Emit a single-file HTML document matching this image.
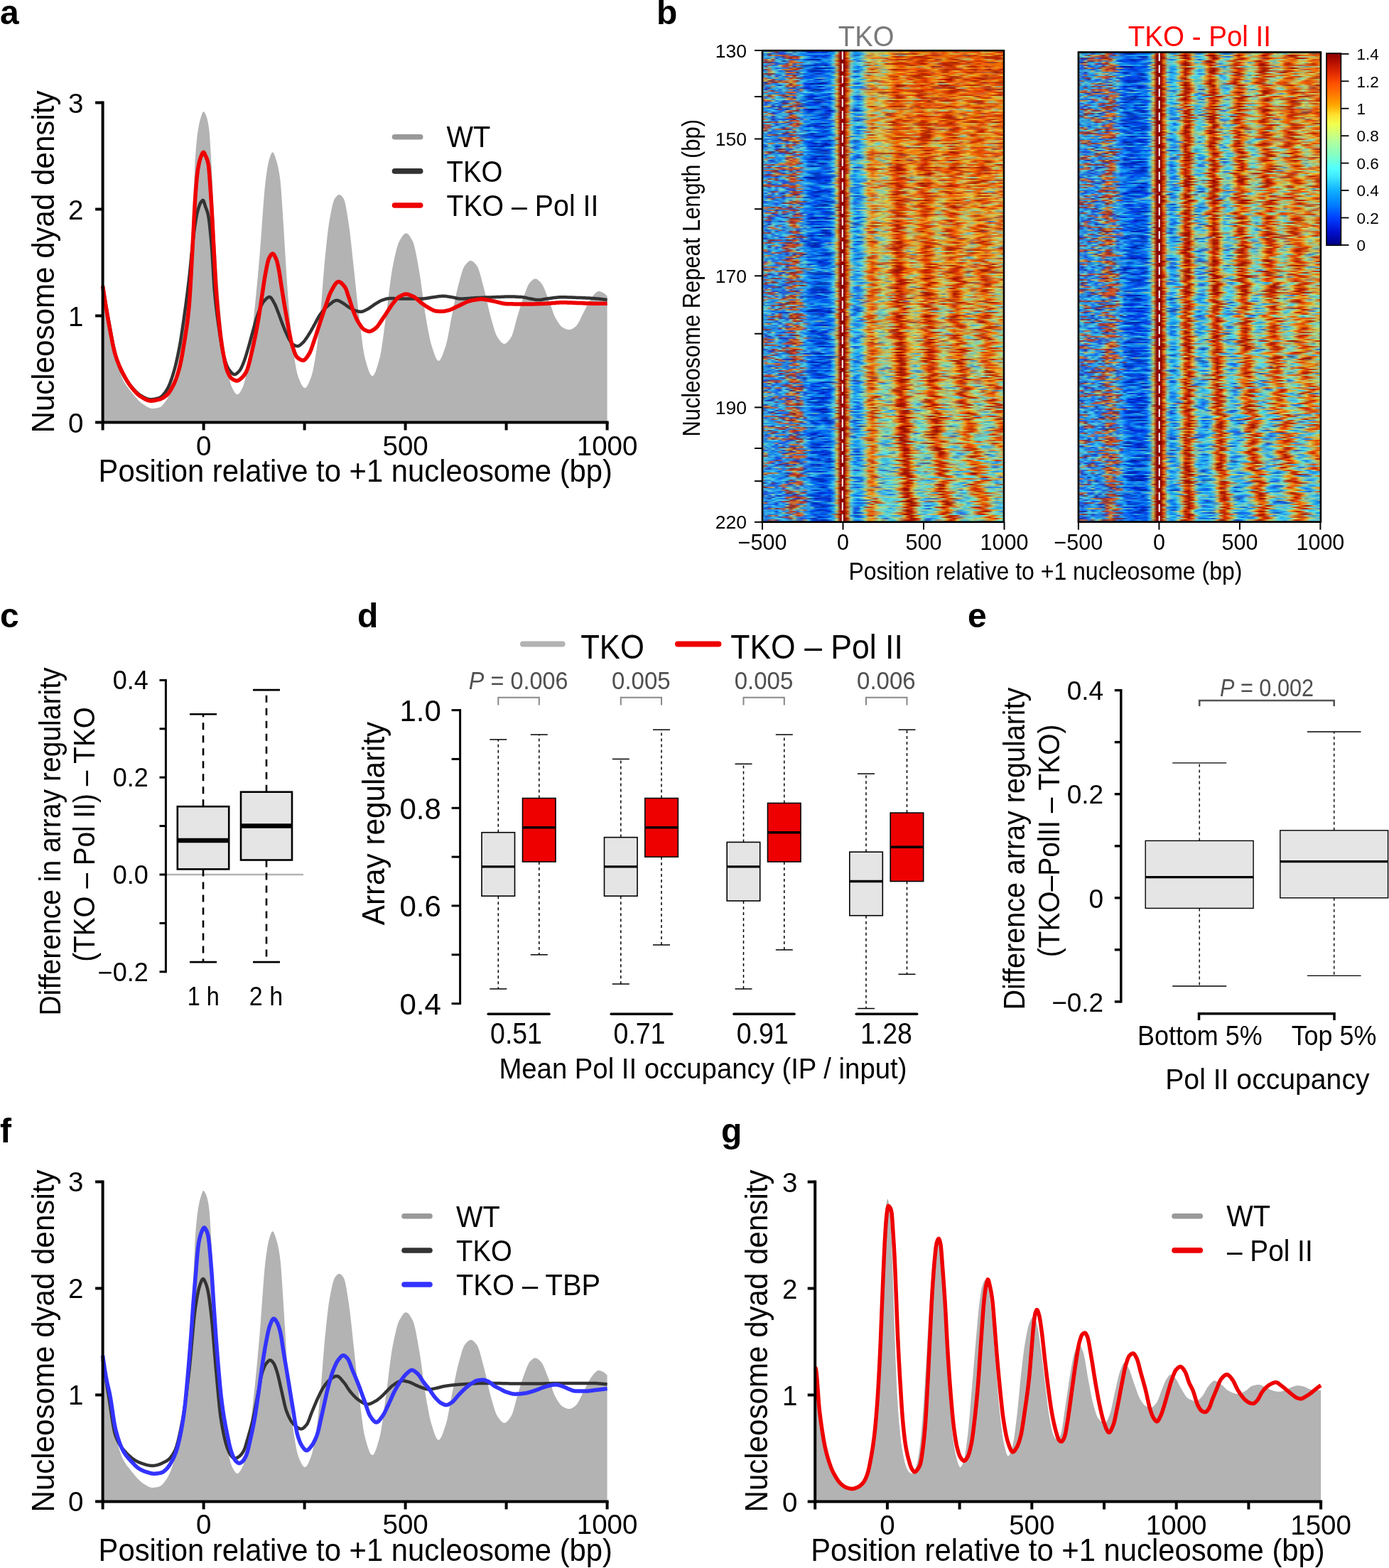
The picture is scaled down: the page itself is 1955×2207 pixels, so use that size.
<!DOCTYPE html><html><head><meta charset="utf-8"><title>Figure</title><style>
html,body{margin:0;padding:0;background:#fff}#c{position:relative;width:1955px;height:2207px;overflow:hidden;background:#fff}
.hm{position:absolute}.hm i{display:block}
svg{position:absolute;left:0;top:0;font-family:'Liberation Sans', Arial, Helvetica, sans-serif}
</style></head><body><div id="c">
<div class="hm" style="left:1073px;top:71px;width:340px;height:664px;overflow:hidden"><i style="height:2px;background:linear-gradient(90deg,#4be,#27e,#25d,#b85,#a65,#5cd,#25d,#39d,#bc6,#38c,#5bd,#19e,#03d,#03c,#03d,#04e,#18e,#04e,#02a,#02b,#15e,#ab7,#900,#800,#a43,#4ce,#18e,#4ac,#7cb,#9da,#8d9,#9b8,#bc6,#bd8,#7db,#8b9,#db4,#ea3,#e91,#e61,#e81,#ca3,#d51,#c62,#e61,#c62,#d51,#e61,#e71,#e91,#d61,#d71,#eb3,#e81,#e61,#e71,#db4,#ba5,#ea2,#e71,#e51,#e61,#ea3,#e81,#d51,#e91,#e92,#e51,#d41)"></i><i style="height:2px;background:linear-gradient(90deg,#4bd,#7cb,#bb6,#27d,#734,#24d,#25d,#4ac,#6bc,#36b,#4ac,#29e,#29e,#03d,#03b,#03d,#04e,#03d,#04d,#18e,#18e,#7db,#900,#800,#e71,#7cb,#18e,#19e,#5ac,#ac8,#cb5,#ab7,#bc6,#bb6,#bb5,#dc4,#d92,#c94,#d93,#d82,#eb3,#ea2,#d51,#e61,#e70,#e70,#d81,#d71,#c41,#d51,#e71,#d40,#e60,#e92,#e51,#d41,#e71,#d61,#e60,#e60,#e50,#d51,#ea3,#ba4,#ea3,#e71,#d40,#c30,#d41)"></i><i style="height:2px;background:linear-gradient(90deg,#25d,#29d,#239,#28d,#28d,#24c,#24c,#37c,#36c,#6cc,#3ad,#17e,#17e,#29e,#19e,#29e,#29e,#29e,#28e,#18e,#19e,#ac7,#900,#900,#e71,#5bc,#19e,#18e,#29e,#6cc,#db4,#d82,#cc6,#ca4,#da3,#eb3,#e91,#d41,#943,#a52,#a31,#b41,#b41,#a20,#e61,#ca4,#d93,#e71,#c41,#d41,#c63,#e50,#e70,#ca4,#ca4,#ca4,#e71,#d51,#e91,#cb5,#ea2,#d61,#e71,#e61,#d41,#e60,#ea2,#e81,#e61)"></i><i style="height:2px;background:linear-gradient(90deg,#25d,#3ad,#734,#b94,#a54,#b74,#a44,#b53,#38c,#36c,#29e,#19e,#07e,#05e,#05e,#04e,#04e,#05e,#03d,#05e,#4ce,#d62,#900,#800,#e81,#4bd,#26b,#16c,#5bc,#aa6,#b74,#b94,#db4,#ac8,#6bb,#6bb,#ca5,#e82,#b95,#777,#8a8,#da3,#e92,#e91,#c94,#d82,#d30,#d40,#b31,#b31,#c41,#d61,#e70,#d60,#e60,#e51,#d41,#953,#943,#d40,#c30,#e60,#d92,#c93,#ea2,#d51,#b41,#b30,#d30)"></i><i style="height:2px;background:linear-gradient(90deg,#39d,#5bd,#4ad,#5bd,#27d,#26d,#734,#c53,#b32,#a32,#833,#ab6,#5bc,#2ae,#15e,#03a,#05e,#03c,#14c,#17e,#3be,#b74,#800,#800,#ea2,#5ab,#29e,#3be,#5de,#ba5,#c94,#ca4,#ea2,#d93,#aa7,#bc6,#e91,#c30,#b20,#c30,#d40,#d70,#e50,#b20,#a10,#a20,#c30,#e70,#e60,#e50,#e60,#e60,#d60,#e71,#e50,#d40,#e50,#e60,#c30,#d40,#d60,#e50,#c30,#b20,#b30,#b30,#b20,#d40,#db4)"></i><i style="height:2px;background:linear-gradient(90deg,#39d,#28d,#28d,#bb6,#24c,#4ad,#26d,#a43,#822,#d62,#b43,#6dc,#3be,#18e,#16e,#07e,#18e,#17e,#06e,#18e,#5cd,#ba4,#800,#800,#c30,#8d9,#3be,#2ae,#5ab,#8b9,#ea2,#e61,#d72,#d72,#d62,#c41,#e81,#e91,#e50,#e70,#e91,#d51,#c30,#d30,#d40,#d30,#b30,#a20,#d50,#c73,#e71,#d92,#d60,#c30,#d50,#c83,#c83,#c93,#c94,#e70,#e50,#d50,#e60,#b30,#b30,#b20,#a20,#a20,#d50)"></i><i style="height:2px;background:linear-gradient(90deg,#b74,#a44,#bc6,#844,#4bd,#29d,#29d,#7cb,#35b,#35b,#35c,#29e,#14c,#03b,#02b,#02a,#02a,#19e,#29e,#29e,#6cc,#d92,#800,#800,#e61,#5cd,#17e,#29e,#7ba,#bc6,#bd7,#8b9,#bb6,#bc6,#bb6,#b74,#d41,#d40,#b30,#b30,#a31,#b41,#b41,#e71,#d50,#c30,#d30,#e81,#e81,#b31,#a43,#d92,#d60,#d40,#b20,#b30,#c73,#da4,#aa6,#da4,#e50,#e50,#e70,#c94,#ca5,#e71,#b31,#d51,#e60)"></i><i style="height:2px;background:linear-gradient(90deg,#4bd,#734,#b74,#a54,#4bd,#5cd,#238,#37c,#c52,#c82,#5bc,#2ae,#19e,#29d,#39d,#28e,#06e,#18e,#29d,#17e,#6cc,#c52,#800,#800,#d40,#b74,#5bb,#16e,#48c,#6ab,#bd7,#da4,#aa6,#ec3,#d62,#e81,#c93,#d73,#d70,#d93,#e92,#d60,#e61,#e51,#c30,#b20,#c40,#e50,#e40,#d40,#d71,#d81,#e70,#e60,#e81,#e60,#b30,#b31,#d61,#e60,#d40,#c30,#d40,#e60,#e80,#e71,#da3,#ca5,#e70)"></i><i style="height:2px;background:linear-gradient(90deg,#734,#834,#734,#25d,#26d,#3ad,#3ad,#38c,#c52,#d62,#c63,#955,#39d,#4ce,#29e,#39d,#2ae,#05d,#07e,#2ae,#3ce,#cb5,#800,#800,#b30,#9c8,#4bd,#5cd,#7db,#b85,#c51,#c93,#bb6,#9d9,#8b8,#ba6,#ea2,#e70,#d40,#c30,#d41,#e61,#e61,#d40,#b30,#d30,#e60,#c73,#c83,#ca4,#c63,#d30,#d30,#a20,#a20,#b30,#d71,#e61,#b30,#d30,#e60,#e60,#e50,#c31,#943,#943,#d40,#e70,#c30)"></i><i style="height:2px;background:linear-gradient(90deg,#5cd,#3ad,#38d,#b74,#24c,#26d,#27d,#933,#da4,#44a,#39c,#39e,#3bf,#4ad,#29e,#04d,#04c,#04d,#04e,#17e,#7ba,#d72,#910,#800,#d40,#6bb,#3be,#5cd,#6cc,#8c9,#9a7,#bb6,#d82,#bb5,#ea2,#a31,#b31,#a20,#b20,#b30,#b20,#b30,#e50,#e40,#d30,#a10,#b20,#e71,#e92,#c63,#a33,#a20,#a20,#c30,#b30,#b30,#d30,#d40,#b53,#c72,#d50,#c30,#e61,#e70,#e60,#d60,#e70,#e70,#d40)"></i><i style="height:2px;background:linear-gradient(90deg,#28d,#27d,#b54,#27d,#27d,#bb6,#b54,#b43,#c62,#46b,#c73,#557,#15c,#04b,#03b,#03b,#04e,#14b,#02a,#16e,#8ca,#a64,#910,#800,#b30,#8ca,#3be,#2be,#8da,#865,#b51,#e72,#699,#8b9,#ca4,#ea3,#da3,#e81,#e50,#e60,#e51,#b41,#a20,#c41,#d60,#e71,#e70,#e80,#d71,#d81,#e60,#c20,#b20,#a20,#d40,#e61,#e92,#b95,#e81,#d40,#e50,#d71,#e61,#e51,#e71,#e60,#e60,#e60,#e60)"></i><i style="height:2px;background:linear-gradient(90deg,#5cd,#834,#5cd,#3ad,#4cd,#6cc,#a44,#a43,#5ab,#339,#39d,#27c,#15b,#06e,#19e,#06e,#18e,#3be,#29e,#18e,#2ae,#bb6,#800,#800,#a33,#7cb,#29e,#16e,#29e,#5cd,#9c9,#ca5,#ea2,#ca4,#ba5,#db3,#eb3,#e92,#e71,#d30,#e60,#da3,#d93,#e92,#a95,#b95,#ea2,#e71,#a21,#943,#a32,#c63,#d40,#b30,#c30,#ea2,#da4,#e81,#b30,#b20,#b20,#e40,#e60,#b31,#c41,#d51,#e81,#e70,#e50)"></i><i style="height:2px;background:linear-gradient(90deg,#4cd,#5cd,#b74,#3bd,#25d,#27e,#28d,#37c,#a33,#c82,#833,#734,#19f,#39d,#16d,#02b,#02a,#02b,#02a,#03c,#15d,#9b8,#900,#800,#c31,#7cb,#19e,#18e,#3be,#ac8,#c82,#e71,#a64,#b85,#bb6,#db4,#eb3,#e92,#e70,#e70,#d71,#e81,#e71,#e61,#d51,#e60,#c93,#db4,#d51,#e61,#d71,#e51,#d41,#d40,#c30,#d41,#c63,#da3,#d92,#e71,#d61,#e60,#e91,#e81,#d61,#e81,#e81,#e61,#d41)"></i><i style="height:2px;background:linear-gradient(90deg,#27d,#734,#b74,#3ad,#3ad,#5cd,#b64,#c73,#c72,#a32,#b43,#3ad,#18e,#05e,#04b,#04b,#05d,#06e,#2ae,#19e,#3be,#b94,#910,#800,#e60,#5cd,#4ce,#29e,#28d,#6cc,#e71,#b31,#e81,#bb6,#7a9,#9a7,#d41,#a20,#b20,#c30,#c30,#d41,#e61,#e50,#e40,#d40,#e40,#e60,#e81,#da3,#c52,#b40,#a20,#c30,#b30,#b30,#c31,#e60,#d40,#b30,#b20,#d40,#d51,#b31,#a21,#d51,#e50,#c20,#b20)"></i><i style="height:2px;background:linear-gradient(90deg,#25d,#29d,#b64,#9c9,#4bd,#25d,#28d,#733,#34b,#37b,#38c,#28d,#29f,#04d,#02a,#02b,#02a,#03c,#04e,#04d,#19e,#b85,#900,#800,#c41,#7cb,#34a,#16c,#5ac,#ac7,#db5,#db4,#db3,#b95,#bc7,#bb6,#da4,#d70,#d60,#e51,#d51,#e81,#e91,#e71,#b30,#b30,#b31,#d51,#d81,#e70,#e50,#c30,#b30,#e51,#ea2,#ea3,#e60,#d40,#e60,#e61,#c41,#e61,#d51,#e60,#d50,#b30,#a31,#c41,#e71)"></i><i style="height:2px;background:linear-gradient(90deg,#8ca,#29d,#b94,#ac8,#5cd,#2ad,#29d,#c83,#c53,#c62,#338,#6cb,#2be,#06e,#04d,#06e,#16e,#04e,#06d,#18e,#35c,#8b9,#900,#800,#e61,#7cb,#17e,#18e,#5cd,#a96,#a52,#b41,#c52,#d93,#6cb,#9b8,#da3,#d82,#e91,#ea2,#e81,#d62,#c41,#d41,#d40,#d40,#e50,#e51,#b53,#e81,#e71,#b30,#c30,#e71,#e51,#e61,#e71,#d41,#b30,#b30,#c40,#d41,#b53,#b63,#c63,#b41,#a20,#b30,#b31)"></i><i style="height:2px;background:linear-gradient(90deg,#b74,#734,#834,#834,#29d,#29d,#5bd,#34b,#35b,#48b,#36c,#37b,#15e,#17e,#07e,#14b,#03b,#05e,#29e,#2ae,#2ae,#c92,#800,#910,#d40,#aa6,#7dc,#5bc,#9c9,#9b8,#8b9,#bb6,#bc7,#bb6,#ea2,#e91,#eb3,#d82,#e50,#e40,#e50,#e91,#e91,#e71,#d40,#b20,#b20,#d40,#d40,#e51,#e71,#d92,#e81,#e50,#e70,#c94,#ba5,#e91,#e51,#d50,#e80,#e91,#e70,#e71,#d81,#c73,#c63,#e50,#e60)"></i><i style="height:2px;background:linear-gradient(90deg,#a54,#3ad,#734,#6cc,#25d,#26d,#6cb,#c53,#d62,#922,#36c,#4cd,#18e,#16e,#04c,#16e,#17e,#17e,#05e,#17e,#6cb,#dc4,#800,#800,#d40,#6cc,#3be,#2ae,#5dd,#d83,#943,#d93,#ac7,#9b8,#9b8,#c83,#e50,#e50,#e70,#e70,#c53,#d50,#c30,#c30,#a20,#b30,#b30,#b20,#e60,#e81,#e70,#d30,#c40,#e81,#d93,#ea2,#d50,#d60,#ca4,#db3,#ea2,#e71,#d40,#b30,#e60,#d50,#d50,#ea2,#da4)"></i><i style="height:2px;background:linear-gradient(90deg,#25d,#4bd,#29d,#8ca,#25d,#4bd,#27d,#35c,#6bc,#a32,#5bc,#28d,#04d,#05e,#05e,#05e,#16e,#17e,#17e,#06e,#19e,#9b8,#c20,#b20,#ba6,#3ad,#15d,#15d,#4ce,#bb7,#d92,#e82,#d92,#ba5,#db4,#db4,#c41,#b41,#b30,#eb3,#ca5,#e71,#b51,#a20,#b30,#c40,#e91,#da4,#c93,#c73,#ea2,#d93,#d40,#b30,#a31,#b41,#d51,#ea3,#d82,#e60,#e60,#e71,#d51,#b41,#d51,#d51,#e50,#c30,#e51)"></i><i style="height:2px;background:linear-gradient(90deg,#b74,#b64,#27d,#4bd,#ba5,#29d,#29d,#c83,#a32,#c62,#833,#646,#16e,#04e,#05e,#29e,#5ab,#59b,#29e,#17e,#19e,#ab7,#800,#800,#d41,#7cb,#2ae,#4de,#8b8,#b84,#e82,#e91,#db4,#db4,#d82,#d81,#e81,#e50,#e60,#e71,#e72,#c41,#e61,#d51,#b30,#c30,#d30,#e61,#e70,#da3,#ea3,#e71,#e50,#a20,#b40,#b30,#b52,#e61,#e61,#d40,#b20,#a20,#b30,#b31,#b51,#b31,#c31,#d40,#d50)"></i><i style="height:2px;background:linear-gradient(90deg,#ba5,#b84,#bb6,#834,#28d,#28d,#27d,#5bc,#d72,#8b9,#6bc,#37d,#19e,#19e,#2ae,#04d,#03b,#25d,#18e,#19e,#5dd,#d82,#800,#800,#c30,#ad7,#7dc,#3bd,#29e,#5cc,#dc4,#c83,#c94,#cb5,#eb2,#db4,#d71,#d30,#d40,#d93,#da3,#e50,#c30,#e70,#d71,#e40,#d30,#e60,#e81,#d70,#d30,#c20,#a10,#a10,#e40,#d93,#e70,#b30,#c30,#e50,#e50,#d40,#a20,#c40,#d51,#e50,#e70,#d60,#e50)"></i><i style="height:2px;background:linear-gradient(90deg,#b74,#bb5,#734,#734,#b74,#834,#b74,#c73,#ca4,#c52,#833,#5cd,#3be,#16e,#16e,#16e,#18e,#3ae,#19e,#17e,#4be,#b84,#800,#800,#d40,#ac7,#5bc,#4bd,#8d9,#bb6,#e71,#b51,#a42,#a64,#d62,#da3,#eb3,#e81,#e82,#e70,#e70,#ca4,#da4,#d60,#e50,#d40,#c30,#e60,#e92,#ea3,#d93,#eb3,#d30,#b20,#d50,#e81,#e61,#d51,#e51,#b30,#a20,#d40,#e92,#e81,#e71,#da3,#e92,#d40,#d40)"></i><i style="height:2px;background:linear-gradient(90deg,#27d,#239,#b74,#834,#834,#b94,#b54,#a43,#ca3,#d62,#4ac,#3be,#17e,#17e,#18e,#05e,#05e,#03b,#14b,#16e,#5dd,#b94,#800,#800,#e70,#7db,#2ae,#18e,#59c,#8ca,#8a8,#8a8,#ac8,#d72,#d62,#d61,#e81,#e60,#e50,#e60,#da3,#c94,#e70,#c30,#e50,#e40,#d30,#e50,#e61,#e61,#a20,#a20,#d40,#e50,#e72,#e71,#d51,#e71,#d92,#d92,#d60,#e50,#b31,#b31,#e50,#d40,#b30,#b30,#b30)"></i><i style="height:2px;background:linear-gradient(90deg,#29e,#635,#a55,#28e,#17e,#4ce,#4be,#7cb,#833,#ca4,#4bd,#4ad,#03d,#03d,#019,#03a,#019,#02a,#03d,#07e,#2ae,#ac8,#c20,#800,#a31,#7cb,#15d,#14c,#2ae,#8b9,#dc4,#dd5,#8b9,#9c9,#db4,#da3,#eb3,#e71,#d51,#e71,#cc6,#bb6,#bc6,#c83,#e61,#e91,#d82,#d51,#b41,#db4,#8a8,#ab7,#bb6,#ea3,#e71,#b53,#c94,#d72,#e71,#ea1,#e81,#d41,#c51,#c52,#d62,#e61,#c41,#b41,#b41)"></i><i style="height:2px;background:linear-gradient(90deg,#734,#39d,#39d,#4bd,#27d,#23a,#3ad,#c73,#922,#d72,#b43,#a97,#16f,#14d,#16e,#17e,#19e,#2ae,#29e,#4ad,#aa6,#d82,#900,#800,#b41,#bb5,#9c9,#5de,#6dc,#a96,#a64,#e70,#ca4,#c73,#c83,#c93,#e60,#d51,#a10,#a20,#a20,#e50,#e50,#e50,#d40,#b20,#d30,#e50,#e81,#e81,#b20,#a20,#910,#d30,#d40,#e60,#e60,#d40,#b30,#b20,#b20,#b40,#e60,#da3,#e92,#d50,#e50,#d40,#d40)"></i><i style="height:2px;background:linear-gradient(90deg,#b75,#27d,#28d,#b84,#4bd,#5cd,#4cd,#734,#cb5,#933,#38c,#4bd,#05e,#04e,#17e,#05e,#02b,#03d,#29e,#29e,#2ae,#ad8,#900,#800,#ba5,#4ce,#17e,#17e,#17e,#7bb,#d82,#e71,#b94,#bd7,#bc7,#ab6,#da3,#e61,#a20,#a31,#d51,#e71,#d41,#c41,#e40,#d30,#e71,#d71,#b41,#b41,#d41,#b20,#b41,#943,#a53,#d41,#e81,#ea2,#ea2,#d81,#cb4,#c93,#c63,#c41,#b31,#eb3,#997,#9a7,#e71)"></i><i style="height:2px;background:linear-gradient(90deg,#4cd,#25d,#734,#3bd,#29e,#4ce,#29d,#38c,#34b,#34b,#39c,#24b,#13b,#02b,#04e,#06d,#17e,#3ae,#17e,#16e,#19e,#db4,#900,#800,#e61,#49b,#19e,#19e,#46b,#67a,#ab7,#b64,#c62,#cb5,#8ba,#7ca,#e92,#d41,#e60,#d93,#9a8,#898,#d93,#e81,#da4,#e70,#e50,#e81,#d41,#943,#943,#c41,#c30,#a20,#a20,#eb3,#9a8,#9a7,#e71,#d41,#e50,#e50,#d41,#b41,#a53,#d51,#e71,#e70,#c30)"></i><i style="height:2px;background:linear-gradient(90deg,#29d,#23a,#39d,#27d,#4bd,#25d,#6cb,#38c,#d62,#49b,#34b,#b84,#28d,#15e,#04c,#03a,#03a,#03d,#15d,#15e,#4de,#e72,#800,#800,#e50,#ac8,#4ce,#6bb,#997,#a76,#a54,#c41,#e61,#e72,#d62,#d71,#d71,#e50,#c30,#d30,#e60,#e71,#d61,#e51,#e50,#d40,#e40,#d30,#d40,#e71,#d92,#e92,#e92,#d60,#d30,#b20,#b30,#d51,#e92,#e81,#e50,#e70,#e50,#b20,#a31,#b41,#943,#933,#d60)"></i><i style="height:2px;background:linear-gradient(90deg,#5cc,#4bd,#b64,#734,#28d,#28d,#5bd,#49c,#59b,#45b,#37c,#877,#3cf,#07e,#03b,#15b,#04c,#04e,#19e,#29e,#2ae,#ad8,#900,#800,#b30,#c94,#6dc,#3be,#7cb,#ab6,#ca4,#da3,#e92,#d82,#d92,#eb3,#e91,#e50,#e40,#e40,#d40,#c31,#b31,#b31,#b30,#a20,#e40,#e61,#e50,#e71,#e71,#e51,#c40,#b20,#a20,#c30,#c51,#b41,#d41,#e61,#d40,#d30,#e40,#d40,#c31,#e51,#e92,#ca5,#a95)"></i><i style="height:2px;background:linear-gradient(90deg,#28d,#b54,#4ad,#38d,#b64,#26d,#39d,#b43,#d52,#d62,#37c,#39e,#5dd,#5bd,#3be,#17d,#17e,#2ae,#3be,#4be,#5cd,#ba4,#910,#800,#e50,#ac8,#3be,#29e,#8da,#b95,#c83,#c83,#c93,#a42,#a41,#a31,#d40,#a20,#c30,#e70,#ea2,#e81,#e70,#d40,#c20,#d40,#d60,#d82,#d71,#e50,#e60,#d40,#d30,#b20,#c20,#e50,#e92,#d93,#e60,#e50,#d50,#e51,#e40,#c73,#e70,#e50,#d30,#c30,#d30)"></i><i style="height:2px;background:linear-gradient(90deg,#29d,#3ad,#28d,#28d,#27d,#28d,#27d,#39c,#34a,#37b,#4ac,#28e,#17e,#17e,#06e,#2ae,#28e,#07e,#06e,#03d,#38c,#d72,#800,#800,#e81,#9c9,#5cc,#6bc,#8b9,#ac7,#e92,#eb3,#cc6,#b84,#a53,#c74,#c83,#e50,#e50,#e71,#ea2,#ea2,#da3,#ea2,#d40,#b41,#b41,#c63,#d51,#d61,#d92,#d70,#d40,#c30,#d51,#e71,#e71,#e51,#e71,#d71,#e50,#c53,#c63,#d51,#e81,#eb3,#e70,#c30,#c52)"></i><i style="height:2px;background:linear-gradient(90deg,#4bd,#bb5,#734,#bb5,#ba5,#a54,#734,#c73,#c82,#d52,#39c,#5dd,#19e,#05e,#03d,#05e,#06e,#04d,#04d,#17e,#6dd,#cb5,#910,#800,#e71,#8c9,#3be,#48c,#7ba,#ac7,#ca5,#b84,#ba5,#dc5,#db4,#eb3,#e60,#d40,#b20,#b53,#d51,#d41,#e40,#d30,#a20,#b20,#d50,#e61,#d81,#e92,#d50,#d62,#e60,#e70,#e81,#e61,#c30,#c30,#c30,#c30,#e60,#e71,#e61,#e71,#e50,#c30,#b30,#a20,#d51)"></i><i style="height:2px;background:linear-gradient(90deg,#b75,#27d,#844,#b64,#4ce,#2ae,#944,#238,#49c,#35c,#5bc,#2ae,#15c,#03b,#02b,#02c,#05e,#18e,#28d,#06d,#2be,#dc4,#a10,#910,#d71,#4ce,#15c,#14d,#17d,#4cd,#ab7,#aa7,#8b9,#d92,#b95,#ba5,#ea2,#e61,#b20,#b30,#d41,#cb4,#ec3,#e61,#a31,#e40,#d82,#d92,#c83,#e91,#e71,#e61,#d71,#d40,#d40,#e81,#da3,#da4,#bc6,#ea2,#a52,#b30,#e61,#e81,#d71,#eb3,#bb5,#da4,#c83)"></i><i style="height:2px;background:linear-gradient(90deg,#b74,#26d,#4bd,#b84,#4bd,#29d,#28d,#c73,#c62,#338,#4ac,#39d,#17e,#03b,#03d,#29e,#29e,#17d,#04d,#03c,#29e,#c95,#800,#800,#d41,#5cd,#18e,#16e,#49c,#8b9,#da3,#d61,#d82,#9b8,#9b9,#ab7,#c73,#a53,#b20,#a20,#d41,#e92,#ca5,#ca4,#e51,#b20,#b20,#d40,#c41,#b31,#b52,#c41,#e51,#d82,#da3,#e92,#e71,#d71,#e71,#db3,#da4,#e70,#d30,#b30,#b43,#e92,#db3,#cb5,#ca5)"></i><i style="height:2px;background:linear-gradient(90deg,#945,#ba5,#9c8,#28d,#5cd,#6cc,#5cc,#bb6,#c53,#c83,#4bd,#18d,#07e,#04e,#03c,#03b,#02b,#04d,#06e,#03d,#16e,#ca4,#a10,#800,#b41,#8da,#18e,#15e,#37c,#ac8,#d82,#e61,#d93,#cc6,#bc7,#cb6,#ba6,#cb4,#e80,#e92,#ca4,#da4,#cb5,#9a7,#9b8,#c73,#c63,#c73,#b41,#b41,#c41,#e51,#c30,#c51,#c41,#d51,#c73,#da3,#d82,#d70,#c94,#cc6,#eb2,#e91,#ea2,#e91,#d92,#d92,#e81)"></i><i style="height:2px;background:linear-gradient(90deg,#734,#c63,#a43,#bb6,#27d,#4ad,#34b,#35c,#47b,#47b,#58c,#26d,#15b,#29e,#19e,#15b,#15b,#13b,#16d,#19e,#7cb,#c74,#800,#800,#c30,#bd7,#6bc,#39e,#4ad,#bb5,#db4,#db4,#e82,#db4,#ea2,#d51,#b20,#b20,#c20,#d40,#d40,#e50,#d60,#d40,#b20,#c20,#d30,#a20,#e50,#e92,#d40,#a20,#b20,#a20,#d30,#c94,#bb6,#d50,#d40,#d40,#d30,#b20,#c30,#e71,#c94,#ba5,#e70,#e50,#c30)"></i><i style="height:2px;background:linear-gradient(90deg,#3ae,#24b,#26d,#3ae,#4ce,#16e,#239,#25d,#5ac,#c73,#733,#39e,#3be,#05d,#03d,#03b,#02a,#25d,#05e,#04e,#2be,#bb6,#900,#800,#e71,#9da,#3be,#19e,#3be,#9e9,#e92,#da3,#9b8,#ad8,#c92,#d82,#ca5,#d61,#d40,#e61,#e92,#aa6,#ba6,#e61,#e71,#ea2,#d50,#b31,#c51,#da3,#da3,#cb5,#ba6,#da3,#e81,#e92,#da3,#eb3,#d51,#b41,#a31,#b30,#b31,#da3,#9b8,#ab7,#da4,#d71,#e92)"></i><i style="height:2px;background:linear-gradient(90deg,#5cc,#24c,#28d,#29d,#25d,#28e,#734,#734,#c93,#49c,#b53,#667,#05e,#05e,#05e,#03d,#04e,#28e,#29e,#06e,#3ae,#cb4,#910,#800,#eb3,#5dd,#3be,#2ae,#4de,#aa6,#e82,#da3,#cb5,#ab8,#da3,#d72,#e61,#d41,#e60,#d61,#c73,#c73,#c93,#e61,#d41,#d40,#e50,#e61,#d51,#e61,#e61,#d81,#ca5,#d73,#e50,#e81,#ea2,#e91,#d81,#db4,#c83,#a43,#c31,#e51,#d61,#d61,#b63,#e71,#e61)"></i><i style="height:2px;background:linear-gradient(90deg,#27d,#25d,#7cb,#24c,#4cd,#25d,#27d,#5bc,#48c,#b42,#734,#45a,#15b,#03c,#04e,#04e,#16e,#17d,#18e,#18e,#4bd,#d82,#900,#800,#b31,#7cb,#29e,#15c,#38d,#9c9,#db3,#cb4,#bb6,#bb6,#cd6,#ea2,#e61,#d50,#e50,#c41,#e71,#eb3,#e81,#d40,#d30,#e60,#d51,#c41,#e61,#c41,#d41,#d60,#e60,#d60,#e81,#ea2,#ba5,#c73,#c40,#e81,#d81,#e71,#d92,#d81,#e71,#e71,#d50,#d93,#aa7)"></i><i style="height:2px;background:linear-gradient(90deg,#4bd,#bb6,#b94,#23a,#25c,#23a,#ba4,#c93,#822,#c52,#35c,#23a,#18e,#19e,#18e,#19e,#07e,#03b,#03c,#18e,#6cc,#954,#800,#800,#b30,#7ba,#29e,#2be,#5cd,#bc7,#c41,#a31,#c62,#da3,#dc4,#e71,#c31,#b20,#a20,#b30,#c30,#e92,#d61,#a52,#b30,#d71,#e50,#e50,#e61,#e71,#e81,#d50,#b20,#b20,#d30,#e60,#d51,#d51,#d51,#e60,#e60,#e50,#e81,#d51,#b41,#c41,#e70,#e70,#e70)"></i><i style="height:2px;background:linear-gradient(90deg,#28d,#28d,#24c,#27d,#7ca,#239,#38d,#36c,#46b,#7bb,#c73,#ba5,#977,#2af,#19e,#18e,#17e,#14b,#03b,#14e,#4ce,#cb5,#800,#800,#e50,#7cb,#27d,#27e,#3ad,#8da,#da3,#e81,#e81,#c84,#a64,#e71,#e71,#d71,#e81,#d71,#c94,#d93,#a43,#e60,#d40,#a20,#d40,#d50,#d51,#b52,#b31,#c30,#e60,#d81,#d50,#d41,#d83,#c94,#e70,#d40,#b20,#b30,#b30,#d61,#d51,#c83,#e82,#d81,#d82)"></i><i style="height:2px;background:linear-gradient(90deg,#28e,#29e,#4ce,#29e,#14c,#845,#25d,#238,#38c,#7ca,#834,#2ae,#03d,#029,#019,#02a,#03d,#05e,#04e,#04d,#2ae,#ab6,#a10,#800,#e61,#59c,#14b,#15d,#3be,#5bc,#8da,#db4,#c72,#c73,#ca4,#9b7,#ea3,#c63,#c63,#b53,#b63,#d61,#d72,#e81,#e71,#c83,#c93,#cc5,#bb6,#ea3,#e91,#ca4,#da3,#d93,#cb5,#9a7,#9b8,#cc6,#eb3,#db3,#e81,#c83,#c73,#b64,#e72,#cc6,#9a8,#c83,#b63)"></i><i style="height:2px;background:linear-gradient(90deg,#29e,#18e,#18e,#4ce,#2ae,#16e,#16e,#bb6,#c63,#833,#834,#19e,#16d,#03d,#02c,#05d,#17d,#16e,#03d,#019,#14b,#7ba,#a10,#900,#d61,#29e,#03a,#03b,#16b,#6cb,#db5,#e92,#d92,#cb4,#8ba,#7cb,#8ca,#ac8,#c93,#e61,#e91,#cb5,#b94,#e82,#e61,#e51,#ea2,#bc6,#d82,#e82,#bc7,#9c9,#cb5,#b53,#e71,#ea2,#c94,#ca4,#6bb,#ab7,#e61,#b41,#e81,#eb3,#db3,#cb5,#aa6,#dc4,#d92)"></i><i style="height:2px;background:linear-gradient(90deg,#b84,#834,#4bd,#25d,#27d,#25d,#6cb,#a43,#822,#6bb,#38c,#898,#17e,#04b,#05e,#28e,#18d,#07e,#04e,#14d,#26e,#9b8,#800,#800,#d40,#bc7,#5bc,#3be,#6cc,#cc6,#db4,#ab7,#8ba,#ac8,#e72,#d82,#bb6,#986,#e92,#e70,#ca5,#d92,#c83,#d50,#d30,#c30,#d61,#e70,#c73,#b43,#d30,#d40,#d30,#c30,#e70,#e92,#d92,#e71,#e50,#e70,#d60,#e50,#e71,#ea2,#e61,#d30,#e50,#e50,#e70)"></i><i style="height:2px;background:linear-gradient(90deg,#4bd,#4cd,#b64,#23a,#25e,#3be,#3ad,#4ac,#34b,#37c,#4bd,#19f,#07e,#06e,#07e,#17e,#17d,#04e,#03b,#03c,#4de,#ca4,#900,#800,#ca5,#39d,#18e,#3be,#3ae,#5bc,#dc5,#bb6,#8ca,#7b9,#db4,#a42,#a31,#e40,#e50,#e81,#ca4,#e81,#e72,#db4,#ca5,#e82,#e60,#d71,#e81,#d51,#e71,#e61,#d40,#e70,#d70,#c73,#c41,#d51,#db3,#da4,#e60,#d40,#a43,#c41,#d51,#c83,#ea3,#e92,#d40)"></i><i style="height:2px;background:linear-gradient(90deg,#4cd,#b74,#8ca,#b95,#3bd,#29d,#4bd,#4ac,#833,#c82,#5bc,#7cb,#39e,#49c,#39d,#07e,#03c,#03b,#24b,#04e,#3be,#bb5,#900,#800,#c73,#7dc,#19e,#15e,#27e,#7ba,#d72,#b41,#e62,#bc6,#db4,#844,#943,#d50,#d92,#da3,#d51,#d51,#e81,#e81,#c30,#d30,#e70,#d93,#ca5,#ca5,#ea2,#d51,#b30,#c30,#e71,#d92,#e61,#953,#e51,#e81,#d70,#e91,#c94,#e71,#e61,#d51,#b31,#c40,#d40)"></i><i style="height:2px;background:linear-gradient(90deg,#944,#28d,#5bd,#23a,#39d,#5cd,#27d,#37c,#d72,#c42,#69a,#3be,#17e,#18e,#06e,#05e,#17e,#06d,#04d,#16e,#6dd,#e82,#800,#800,#ea2,#5cd,#6bb,#9b8,#9c9,#8b8,#da3,#e81,#ab7,#9b9,#8c9,#e92,#d40,#d30,#e70,#d93,#ea2,#d51,#e60,#d40,#d30,#c20,#b20,#b30,#c41,#e50,#e40,#d30,#b20,#b20,#b53,#e81,#ea2,#b94,#d82,#d50,#d60,#d40,#b31,#d41,#d40,#d40,#d40,#d30,#e70)"></i><i style="height:2px;background:linear-gradient(90deg,#b64,#3ad,#27d,#25d,#28d,#4bd,#3ad,#c63,#822,#c52,#833,#37d,#19f,#29e,#3ae,#29e,#07e,#03c,#03b,#17e,#4ce,#bb6,#800,#800,#d81,#6bb,#17e,#28e,#3be,#8c9,#aa6,#8c9,#db5,#d73,#a64,#c73,#e81,#e92,#e92,#e70,#e71,#c41,#a53,#c73,#d60,#e60,#e40,#e61,#e82,#e71,#d51,#a20,#b20,#a20,#b30,#e81,#ec3,#d51,#d60,#e50,#b30,#c30,#d41,#e71,#ea3,#e92,#d82,#e60,#b41)"></i><i style="height:2px;background:linear-gradient(90deg,#844,#b84,#3ad,#239,#27e,#25d,#25d,#25c,#36c,#327,#5ac,#25d,#79a,#2ae,#03d,#04c,#04e,#05e,#16d,#4ad,#7ba,#d72,#a10,#800,#e51,#9b8,#18e,#16e,#45b,#57a,#9b8,#e71,#d62,#d82,#d92,#cb6,#ab8,#e92,#b30,#b40,#e81,#e81,#d51,#e81,#e92,#e70,#e61,#e60,#e71,#e71,#d81,#e91,#d50,#c30,#b30,#a31,#b41,#c41,#e81,#ea2,#ea2,#e92,#e71,#e61,#c41,#b41,#d51,#e61,#e60)"></i><i style="height:2px;background:linear-gradient(90deg,#3ad,#5cd,#3ad,#26d,#26d,#5cd,#27d,#6cc,#a32,#d52,#b43,#4bd,#28e,#18e,#18e,#18e,#18e,#05e,#06e,#15e,#46b,#dc4,#900,#800,#e50,#4ad,#26b,#14b,#29e,#bb6,#d83,#e60,#e60,#ea2,#bd6,#c94,#c83,#e50,#d30,#e40,#b20,#b31,#d51,#d61,#e81,#c20,#d30,#e60,#e82,#ea2,#d41,#b30,#d40,#e60,#d50,#e40,#e81,#e92,#e60,#c30,#c30,#e60,#e70,#c41,#d41,#ea3,#da3,#e60,#d30)"></i><i style="height:2px;background:linear-gradient(90deg,#944,#934,#734,#b74,#734,#bb6,#b94,#833,#47b,#49b,#c74,#6bb,#17e,#17e,#2ae,#18e,#17e,#29e,#18e,#16e,#29e,#d92,#900,#800,#c30,#8da,#4bd,#6dc,#7bb,#ab6,#e92,#ca4,#9c9,#9b9,#db4,#d61,#b20,#a10,#d51,#e71,#d60,#e61,#e81,#e80,#d40,#b20,#c20,#e70,#db3,#e91,#e50,#e71,#d50,#b30,#d30,#ea2,#d82,#b42,#b30,#a20,#b20,#b30,#d40,#d61,#d61,#b30,#a20,#a20,#e60)"></i><i style="height:2px;background:linear-gradient(90deg,#27e,#3bd,#5cd,#29d,#26e,#29e,#25d,#4ad,#34b,#c63,#933,#b94,#3ad,#2ae,#05d,#04e,#03d,#02a,#03b,#06e,#5cd,#ba6,#900,#800,#bb6,#4be,#3be,#4ce,#4ce,#7ba,#d62,#b52,#da3,#8ca,#bb7,#bb6,#ec4,#b40,#b30,#c63,#c94,#ca5,#d93,#a53,#b41,#b30,#b51,#b41,#b41,#a41,#e61,#e71,#c30,#a20,#c41,#d61,#e91,#ea2,#da3,#da4,#c94,#e71,#c41,#e81,#ba6,#ab7,#ba5,#e81,#d51)"></i><i style="height:2px;background:linear-gradient(90deg,#734,#b54,#a54,#6cc,#23a,#28d,#5cc,#37c,#c42,#d72,#833,#46a,#29d,#04d,#04b,#03b,#04d,#19e,#18e,#18e,#3ae,#cc5,#800,#800,#c30,#ca4,#5cc,#5dd,#5bc,#8b9,#ea3,#c63,#ea2,#d93,#e82,#c84,#b31,#b30,#d30,#d30,#d40,#e71,#c93,#c63,#b30,#b20,#c20,#b20,#d51,#c41,#c51,#c31,#c30,#c30,#c30,#c63,#e81,#e91,#e81,#c93,#e92,#d40,#c51,#e51,#bb6,#eb3,#e81,#e50,#e50)"></i><i style="height:2px;background:linear-gradient(90deg,#14c,#a65,#845,#26e,#4be,#3ae,#27e,#3ad,#6cc,#b43,#b74,#2ae,#05e,#02c,#05e,#02c,#14b,#02c,#15d,#03c,#16e,#cc5,#900,#910,#e61,#7db,#18e,#16e,#17d,#4ce,#ab7,#ca5,#ab7,#8b9,#bb6,#dc5,#db4,#d82,#d50,#e61,#eb3,#da3,#c94,#cc5,#c93,#e50,#e61,#c93,#ca4,#c64,#d51,#e51,#e51,#e61,#e51,#e71,#ca5,#e81,#e61,#d51,#e61,#e61,#e82,#d92,#d81,#d41,#b31,#d51,#a53)"></i><i style="height:2px;background:linear-gradient(90deg,#734,#a54,#a54,#5cd,#5cd,#28d,#23a,#c63,#48b,#48b,#39c,#27e,#19f,#29d,#3be,#05e,#04e,#14d,#03b,#18e,#8da,#b85,#800,#800,#d51,#7cb,#19e,#14c,#26b,#37d,#d92,#b31,#a31,#ea2,#9b8,#ab8,#cb5,#e61,#e60,#e50,#d40,#c41,#b53,#e81,#e61,#c30,#b20,#c41,#e61,#ca4,#cb5,#ca5,#da3,#e70,#d30,#a20,#e61,#eb3,#d51,#b41,#c40,#d51,#c73,#d92,#cb4,#c73,#d61,#d61,#c30)"></i><i style="height:2px;background:linear-gradient(90deg,#bb6,#b54,#3ad,#28d,#b64,#b64,#734,#833,#35b,#d93,#5bc,#26d,#2af,#19e,#19e,#39e,#18e,#06d,#19e,#18e,#2ae,#9c8,#a10,#800,#e92,#4cd,#29e,#3ce,#7db,#9d9,#c94,#d61,#dc4,#bb6,#c94,#c74,#a43,#a43,#c30,#d40,#d40,#c41,#d81,#cb6,#ca5,#e82,#e50,#a20,#a32,#c63,#a53,#a53,#d73,#933,#b20,#d30,#e50,#e61,#d61,#e61,#b53,#d40,#d30,#d40,#e92,#ca5,#ea2,#e81,#d61)"></i><i style="height:2px;background:linear-gradient(90deg,#b64,#734,#8ca,#26d,#27d,#29d,#4bd,#39c,#5ac,#37b,#6cc,#29e,#25b,#03d,#18e,#06e,#04e,#05e,#03c,#06e,#5dd,#da3,#900,#800,#e92,#8ba,#2ae,#15d,#38d,#49c,#9b8,#ca4,#bb6,#dc5,#d92,#ea2,#ca4,#d60,#d60,#d92,#ca5,#ca3,#e71,#d81,#e91,#b30,#b40,#c30,#e71,#e71,#c93,#bc7,#c73,#b40,#b30,#e40,#e81,#bb6,#dc4,#eb3,#e71,#c30,#b20,#e70,#cc6,#da3,#e92,#db4,#e92)"></i><i style="height:2px;background:linear-gradient(90deg,#27d,#6cc,#25d,#27d,#28d,#28d,#28d,#733,#c93,#a32,#49c,#38d,#5ac,#2ae,#3be,#3be,#17e,#04d,#04d,#07e,#3ce,#cc6,#b10,#800,#e50,#ad8,#2ae,#18e,#4ce,#d73,#c41,#d92,#bb6,#bb7,#dc5,#c73,#b53,#e60,#e50,#e60,#e71,#d61,#e61,#d71,#e92,#e60,#b20,#a20,#d41,#da3,#da3,#e92,#e70,#e50,#d40,#d50,#da3,#e81,#e61,#ca4,#e60,#b20,#b20,#e60,#e61,#b53,#e61,#d61,#e60)"></i><i style="height:2px;background:linear-gradient(90deg,#27d,#3ad,#25d,#27d,#28d,#7cb,#734,#23a,#37c,#5ab,#5bc,#6dc,#3be,#06e,#02b,#14d,#06d,#06d,#07e,#06e,#2ae,#da3,#900,#800,#e61,#8ca,#18e,#16e,#2ae,#5cd,#8da,#bb6,#cb5,#c93,#d93,#db5,#ea2,#d50,#d40,#d40,#e61,#cc5,#bb5,#c83,#e60,#b20,#b30,#c51,#e71,#d61,#e71,#e51,#b41,#d30,#d93,#ca4,#e71,#e61,#d61,#e70,#d60,#ea3,#da4,#cb5,#db4,#e81,#c31,#e50,#e81)"></i><i style="height:2px;background:linear-gradient(90deg,#4bd,#27d,#b94,#944,#734,#27d,#24c,#37c,#a32,#c42,#36c,#26c,#14b,#14b,#03b,#15d,#06e,#05e,#04d,#04c,#26c,#8ca,#800,#800,#e50,#ad9,#7cb,#4ac,#6cb,#ac7,#a43,#a31,#c83,#bd7,#da3,#d71,#d81,#e80,#d40,#c40,#d40,#d41,#d51,#d41,#e40,#c20,#a20,#a20,#d51,#e92,#e91,#e60,#d30,#b20,#b30,#d41,#ba6,#bc7,#c63,#a20,#c30,#e61,#e70,#d81,#d92,#d93,#e71,#c30,#a20)"></i><i style="height:2px;background:linear-gradient(90deg,#3bd,#28d,#25d,#29d,#26d,#28d,#27d,#38c,#34b,#36b,#4ac,#25d,#15c,#05e,#04e,#02b,#02a,#02b,#04e,#2be,#29e,#9b8,#900,#800,#ca4,#27d,#18e,#19e,#5ac,#9c8,#da4,#db4,#cb5,#dc5,#da3,#d62,#d61,#e81,#e92,#d92,#e71,#e71,#d92,#aa7,#ca5,#b30,#b20,#a20,#d51,#e92,#eb3,#e81,#d82,#d81,#e70,#ca3,#7ba,#7ba,#ea2,#d41,#e50,#c83,#ca4,#d92,#d92,#eb3,#da3,#ea2,#e92)"></i><i style="height:2px;background:linear-gradient(90deg,#39d,#5cd,#4bd,#39d,#28d,#b84,#b74,#b43,#a32,#cb5,#b43,#29d,#16c,#05e,#15e,#04d,#04d,#16e,#18e,#2ae,#6ba,#e82,#800,#800,#b30,#ab7,#7cb,#4ce,#3ae,#8da,#e71,#e61,#e81,#cb4,#bc6,#da3,#d51,#c40,#b30,#b20,#b30,#a31,#d51,#e61,#c41,#a20,#b20,#a20,#e80,#bb6,#ab7,#ea3,#e51,#c30,#a10,#b41,#e70,#e82,#d93,#ca4,#e71,#d60,#d82,#d50,#e50,#e71,#d61,#c73,#c83)"></i><i style="height:2px;background:linear-gradient(90deg,#3ad,#25d,#27d,#28d,#27d,#23a,#bb6,#c53,#b42,#d62,#6bc,#57a,#4bd,#4be,#18e,#06e,#18e,#2ae,#29e,#18e,#5bc,#b52,#800,#800,#e70,#8da,#4bd,#4cd,#cb5,#d72,#ea3,#bb6,#db3,#db4,#db4,#ea3,#e80,#d30,#c30,#e60,#ca5,#da3,#c41,#d40,#b20,#b30,#d30,#d50,#d92,#9a8,#ba6,#e60,#e50,#e60,#e60,#e60,#e61,#e71,#e71,#e60,#e50,#d30,#c30,#e71,#e81,#e81,#c53,#d40,#e50)"></i><i style="height:2px;background:linear-gradient(90deg,#25d,#28d,#5cd,#26d,#25d,#25d,#734,#733,#ca4,#c82,#ca4,#944,#16e,#17e,#05e,#06e,#17e,#04e,#04c,#03b,#15d,#9c8,#900,#800,#e61,#3ad,#15b,#26c,#3be,#6dc,#ca4,#c41,#c62,#d82,#d72,#d72,#ca3,#c93,#e80,#e70,#d61,#e71,#d92,#d92,#d61,#c30,#b20,#b31,#a52,#a31,#c41,#e61,#d40,#d40,#e60,#ca4,#bb6,#db3,#c94,#e61,#d40,#b20,#c41,#c83,#cb5,#ca5,#ba6,#da4,#e92)"></i><i style="height:2px;background:linear-gradient(90deg,#4bd,#27d,#29d,#28d,#28d,#3ae,#28d,#24c,#48c,#832,#833,#3be,#06e,#03d,#03d,#18e,#29e,#06e,#04e,#06e,#2ae,#ab7,#910,#800,#d61,#28e,#26c,#16e,#4bd,#bc6,#ea3,#c94,#cc6,#9b8,#cd7,#d82,#e81,#e70,#e50,#e71,#ea3,#ba5,#bb6,#bb6,#e81,#e40,#e50,#e81,#ca5,#ba6,#db4,#cb5,#da4,#d93,#ca4,#e81,#b53,#c94,#c93,#b31,#c30,#e50,#e71,#eb3,#cb5,#bb6,#db4,#e81,#d40)"></i><i style="height:2px;background:linear-gradient(90deg,#3ae,#5cd,#b74,#b74,#4be,#b75,#b95,#38d,#7cb,#35b,#b84,#69a,#07e,#05e,#03d,#02a,#14d,#03c,#02b,#15e,#28e,#6cc,#900,#800,#e61,#3be,#18e,#29e,#4bd,#8c9,#cb5,#dc4,#6cb,#6cc,#cb5,#cd6,#b95,#d60,#e60,#dc5,#bb6,#e92,#e92,#e81,#d40,#a41,#a31,#e81,#ba5,#cb4,#e91,#c41,#b40,#d40,#a31,#a41,#e62,#e91,#d61,#e51,#e70,#e92,#d61,#e72,#d62,#c51,#a43,#b31,#c41)"></i><i style="height:2px;background:linear-gradient(90deg,#14c,#17e,#6cc,#29e,#17e,#18e,#3be,#944,#b53,#a33,#38d,#4ce,#19e,#05e,#05e,#04d,#06e,#03b,#01a,#02a,#29e,#b63,#910,#900,#bb5,#7dc,#4ad,#18e,#28e,#6aa,#db4,#bd7,#7db,#9c9,#ab7,#9d9,#bb6,#d93,#e71,#e81,#dc4,#dc4,#e82,#c51,#b31,#d41,#e71,#ca4,#bc6,#ab8,#9c8,#aa6,#db4,#a96,#ba5,#eb2,#d82,#d92,#eb3,#ea2,#e81,#d82,#d93,#9c9,#7a9,#ab8,#ea3,#e71,#e81)"></i><i style="height:2px;background:linear-gradient(90deg,#2ae,#139,#7cb,#2ae,#139,#14c,#ac7,#734,#c73,#38c,#4ad,#27d,#29e,#04d,#02c,#02b,#03a,#01a,#05e,#06e,#2ae,#db4,#910,#800,#a53,#7db,#16e,#19e,#4ce,#5bc,#7cb,#8a8,#cb6,#da3,#dc4,#9c9,#c94,#d51,#b30,#b41,#c94,#8ba,#ab7,#bb7,#ac7,#db4,#e92,#ca5,#dc4,#cc5,#8c9,#bb6,#e61,#b31,#c41,#c73,#c84,#b84,#cc5,#d81,#e81,#e91,#d81,#e92,#e92,#b84,#c84,#c53,#c41)"></i><i style="height:2px;background:linear-gradient(90deg,#24c,#39d,#28d,#4bd,#25d,#3ad,#5cd,#37c,#c82,#7bb,#36c,#7cb,#5cd,#06e,#06e,#18e,#06e,#16e,#2ae,#4bd,#6dc,#db4,#800,#800,#d93,#56a,#15c,#27e,#3be,#8b9,#db4,#ea3,#ac7,#9c9,#bb6,#e82,#eb3,#e91,#e50,#d40,#d40,#a31,#b53,#953,#b31,#b20,#d40,#d40,#e61,#e61,#d71,#eb3,#bc6,#ba5,#c82,#d50,#e60,#e81,#c93,#d41,#b41,#e40,#d40,#d30,#e60,#c73,#d83,#d51,#c63)"></i><i style="height:2px;background:linear-gradient(90deg,#3ae,#28d,#6cc,#3ad,#24c,#635,#844,#27d,#34b,#4ac,#5bc,#6dc,#2ae,#16e,#04d,#03b,#03b,#05e,#05e,#14c,#17e,#ba5,#900,#800,#e61,#9c9,#18e,#18e,#7cb,#ac7,#ca4,#c83,#db4,#bc6,#bb6,#bc7,#d93,#e71,#e81,#e71,#e61,#e81,#db3,#e92,#e91,#d60,#e50,#e51,#c41,#d62,#bb6,#ba5,#e92,#a43,#b30,#d41,#e81,#ab8,#bc7,#d71,#e71,#e50,#d61,#bb6,#bc6,#854,#a42,#d61,#e92)"></i><i style="height:2px;background:linear-gradient(90deg,#3ad,#3ad,#4ad,#4bd,#734,#a54,#b84,#34b,#49c,#9b9,#5bc,#29d,#4ce,#2ae,#06e,#06e,#04d,#02b,#02b,#05e,#5cd,#c82,#910,#800,#b41,#8ca,#2ae,#4ce,#4ce,#8ca,#db4,#d61,#da3,#cc6,#da3,#dc4,#9b8,#cb5,#e50,#d30,#e80,#db3,#e81,#e71,#e71,#c52,#b20,#a20,#d40,#ea2,#eb3,#ca4,#e92,#e92,#d92,#e80,#c63,#d72,#e71,#eb3,#d81,#d41,#d40,#d73,#cb5,#ca4,#eb3,#bb6,#cc6)"></i><i style="height:2px;background:linear-gradient(90deg,#5cd,#b54,#734,#238,#3ad,#734,#734,#833,#5ab,#822,#c73,#b84,#17e,#16e,#05d,#04b,#04b,#15c,#14b,#15e,#5ac,#ea3,#800,#900,#d50,#c94,#8c9,#2ae,#5ab,#db4,#d51,#d51,#e71,#e82,#ba4,#db4,#da4,#d93,#d71,#d71,#e80,#e71,#e71,#e81,#e81,#da2,#d71,#e71,#e71,#d51,#e71,#d71,#e60,#a10,#a20,#c30,#e51,#d61,#e81,#e61,#d40,#d40,#e50,#e61,#e61,#c83,#ea3,#d71,#d30)"></i><i style="height:2px;background:linear-gradient(90deg,#28d,#bb6,#734,#27d,#27d,#25d,#26d,#933,#822,#46b,#6cc,#26d,#3be,#18e,#19e,#06e,#05d,#04d,#14b,#15d,#2ae,#8c9,#800,#800,#c94,#38d,#3ae,#3ce,#7db,#9c8,#e81,#c41,#c41,#b42,#942,#b51,#a31,#c30,#c30,#b20,#d50,#e92,#e81,#e81,#e92,#d60,#c20,#b20,#e71,#d92,#eb3,#d81,#d50,#c30,#b20,#b20,#d61,#d81,#ec3,#e71,#e60,#d50,#e50,#d41,#c41,#c41,#d41,#e71,#d40)"></i><i style="height:2px;background:linear-gradient(90deg,#4cd,#24c,#4ad,#3ad,#29d,#5cd,#27d,#5cc,#49c,#35b,#b43,#734,#3ae,#15d,#06e,#17e,#18e,#06d,#17e,#18e,#5dd,#b75,#800,#800,#a31,#8d9,#2ae,#15d,#3ae,#ba5,#a43,#c41,#ca4,#b94,#b94,#ba5,#bb6,#e81,#d50,#933,#943,#a53,#c93,#d81,#d50,#d30,#d60,#e71,#ea2,#ba5,#ea2,#b31,#b30,#e40,#d40,#e51,#ec3,#cc6,#ea3,#e70,#e70,#e50,#d61,#ca5,#eb3,#e61,#d51,#d40,#e61)"></i><i style="height:2px;background:linear-gradient(90deg,#29e,#28d,#5cd,#6cb,#28e,#4ce,#4bd,#bb5,#c83,#c63,#26d,#4bd,#17e,#18e,#04e,#03b,#02a,#03b,#03d,#06e,#3ce,#bd6,#900,#800,#c73,#5cd,#16e,#15d,#39e,#7ba,#d92,#e71,#d72,#a75,#bc6,#6ba,#8a8,#e82,#d40,#d51,#c41,#e91,#bb6,#9c8,#e92,#e81,#e81,#d51,#b41,#c41,#d72,#ba5,#bb6,#e81,#e60,#e60,#d41,#e81,#bb5,#db5,#d82,#d61,#d40,#e51,#e71,#d62,#a42,#c84,#cc5)"></i><i style="height:2px;background:linear-gradient(90deg,#3ae,#29d,#a44,#a64,#28e,#29e,#29d,#a44,#a33,#38c,#8ca,#29e,#07e,#17d,#04d,#02c,#16e,#05e,#05e,#05e,#19e,#bd7,#a10,#800,#d61,#3ae,#16e,#14b,#26b,#8b9,#c52,#e61,#ba5,#ba5,#d82,#cb5,#dc4,#c83,#d40,#d40,#d71,#d92,#d72,#d62,#c41,#d40,#b41,#b30,#d51,#db4,#bb6,#ea2,#d41,#c51,#e50,#c73,#cb5,#ab6,#ac7,#aa7,#aa6,#eb3,#e71,#d71,#c94,#b84,#e82,#eb3,#d92)"></i><i style="height:2px;background:linear-gradient(90deg,#4be,#b74,#4bd,#28d,#29e,#17e,#3ad,#834,#c94,#b43,#c83,#3ae,#16e,#04d,#02c,#02b,#04d,#03c,#02a,#14b,#17e,#ab7,#a10,#800,#e91,#28e,#16e,#3be,#3be,#9b8,#b52,#d51,#9b8,#8b9,#db4,#d72,#c94,#e91,#d81,#d93,#c83,#a64,#b74,#cc5,#ba5,#d40,#a20,#d41,#d71,#ca4,#bd7,#e91,#d61,#e92,#b95,#ca5,#c84,#d62,#b74,#d92,#e81,#e81,#da3,#ca4,#e92,#da3,#bc6,#ba5,#e71)"></i><i style="height:2px;background:linear-gradient(90deg,#29d,#9c9,#25c,#24c,#3ad,#27d,#5cd,#ca5,#b42,#d62,#c83,#5bd,#2af,#15e,#05e,#05e,#07e,#17e,#06e,#16e,#3ce,#da3,#910,#800,#d70,#59b,#49c,#5bb,#8b9,#bc7,#ca3,#e70,#e92,#8a8,#6aa,#9c8,#db3,#e60,#a10,#d40,#e70,#a43,#933,#d71,#e81,#d30,#c30,#d40,#a31,#b41,#e61,#e71,#e50,#b20,#a20,#d40,#d81,#db3,#db3,#e81,#d40,#e50,#d40,#c41,#c51,#e71,#ea3,#e71,#e50)"></i><i style="height:2px;background:linear-gradient(90deg,#239,#4cd,#27d,#25d,#27d,#3ae,#3ad,#b83,#c73,#c52,#c73,#28d,#18f,#04d,#02a,#03d,#18e,#28d,#29e,#39c,#5bc,#bb6,#900,#800,#e61,#7cb,#5cd,#5cc,#8db,#5dd,#7ba,#ea3,#e71,#d92,#9b8,#9c9,#bb6,#e81,#e81,#e82,#d82,#ea3,#e81,#c51,#c74,#d61,#d30,#e81,#da3,#c94,#d92,#db4,#9b8,#8a8,#ea2,#e70,#e91,#cb5,#eb3,#d51,#b51,#d71,#e61,#a20,#a20,#d51,#e92,#db4,#bc6)"></i><i style="height:2px;background:linear-gradient(90deg,#5cd,#39d,#39d,#4bd,#28d,#b94,#ba5,#b53,#b42,#d93,#a43,#834,#4ce,#18e,#17d,#17e,#02b,#02a,#03d,#19e,#29e,#db4,#800,#800,#d92,#39d,#3be,#8b9,#bc6,#ac7,#db3,#d93,#d82,#da4,#b94,#c73,#c41,#e50,#d40,#d71,#e82,#c51,#c41,#e71,#d71,#e40,#c20,#d50,#e81,#c93,#d71,#d51,#e71,#e70,#c30,#c30,#e61,#d71,#da3,#bb6,#ca5,#e60,#e40,#d81,#d82,#bb5,#9c8,#ac8,#db4)"></i><i style="height:2px;background:linear-gradient(90deg,#23b,#a54,#b64,#734,#b94,#b64,#b54,#c63,#c52,#c42,#37b,#4ad,#2ae,#16e,#16e,#29e,#16e,#04b,#15e,#19e,#4ce,#bb6,#800,#800,#c30,#bc6,#3be,#2ae,#3ae,#cb5,#c41,#e50,#e71,#d62,#e92,#8a8,#777,#c82,#b20,#a20,#c30,#e92,#ea2,#e71,#d50,#c20,#b20,#e50,#ca4,#ba6,#da4,#d92,#e81,#d40,#d30,#b41,#c73,#bb6,#e51,#e40,#d50,#e40,#d40,#e82,#ba5,#e92,#b30,#a20,#b30)"></i><i style="height:2px;background:linear-gradient(90deg,#9c9,#4bd,#24c,#4be,#4ce,#29e,#25d,#4ad,#c73,#6cb,#39d,#4cd,#29e,#14b,#02a,#02a,#03d,#06d,#06d,#18e,#5cd,#b95,#900,#800,#d51,#7db,#4ce,#19e,#2ae,#9c8,#c94,#ca4,#cb5,#db3,#dc4,#dc4,#d82,#d41,#b20,#c30,#e61,#e92,#cc5,#cb5,#e61,#b31,#e50,#d81,#eb3,#e82,#ca4,#ab7,#ba6,#d51,#c40,#d71,#ba5,#db4,#c94,#c94,#eb3,#e61,#b30,#e51,#e61,#c62,#ea2,#c84,#a63)"></i><i style="height:2px;background:linear-gradient(90deg,#27d,#a54,#834,#ba4,#a44,#834,#b94,#ca4,#34b,#d72,#cb5,#a44,#4ad,#29e,#19e,#2ae,#2ae,#05e,#15c,#15d,#27d,#8da,#b20,#900,#e50,#5cd,#14c,#34a,#46b,#9c9,#e71,#e50,#ea2,#bc7,#7ba,#cb5,#b31,#b30,#a10,#c20,#e70,#d92,#da3,#e91,#b31,#b20,#b30,#c20,#b30,#a31,#c41,#d71,#e81,#a20,#a10,#b30,#a20,#a31,#b41,#d51,#b31,#a20,#a20,#a20,#e61,#bc6,#9c8,#d92,#b31)"></i><i style="height:2px;background:linear-gradient(90deg,#38d,#38d,#39c,#39d,#ba5,#b54,#934,#c63,#c42,#c42,#c52,#47b,#6bb,#5bc,#3be,#3be,#18e,#15e,#14b,#15e,#5dd,#bb6,#900,#800,#c30,#cc6,#6cc,#6bc,#9b8,#c73,#a31,#b40,#a20,#b41,#d62,#d81,#e92,#e50,#a10,#a10,#b20,#e81,#ea2,#d51,#b30,#b20,#d40,#d71,#e92,#e51,#e61,#e71,#e40,#b20,#c20,#e50,#e92,#ea3,#e92,#e61,#e70,#d50,#c20,#b41,#c31,#cb4,#aa7,#ea3,#d50)"></i><i style="height:2px;background:linear-gradient(90deg,#a44,#b64,#b64,#944,#734,#29d,#24c,#39c,#a32,#49b,#33a,#39d,#29e,#29e,#17e,#07e,#06e,#07e,#18e,#18e,#28e,#ad8,#800,#800,#c30,#6bb,#16d,#28d,#6cc,#dc5,#e71,#d40,#c73,#cd6,#9b8,#cc6,#c41,#b30,#a20,#a10,#b30,#e61,#cc5,#ea3,#e60,#d30,#b20,#c20,#d62,#c41,#d51,#e61,#e60,#e50,#d30,#b30,#d41,#d92,#d92,#e91,#e60,#d30,#c30,#a31,#c41,#d51,#d41,#e51,#e60)"></i><i style="height:2px;background:linear-gradient(90deg,#4bd,#27d,#27d,#844,#734,#26d,#3ad,#7ca,#34b,#49b,#c63,#a54,#29e,#05e,#06e,#06e,#04e,#16e,#05e,#03b,#27e,#cb4,#910,#800,#d41,#6dc,#18e,#19e,#4ce,#8ca,#e91,#d72,#e82,#ac7,#bb6,#c94,#e61,#e50,#d40,#e70,#d71,#cb5,#aa7,#ea2,#d60,#d82,#e60,#d41,#c93,#bb6,#c73,#e50,#c30,#e40,#e92,#e92,#b41,#b41,#c41,#d50,#e50,#d40,#c63,#c73,#e71,#ea3,#d82,#e82,#c94)"></i><i style="height:2px;background:linear-gradient(90deg,#28d,#4ad,#25d,#5cc,#b84,#a54,#23a,#39c,#5ab,#922,#6bc,#4ac,#3be,#17e,#04c,#03b,#04b,#17e,#18e,#4bd,#9d9,#b94,#910,#800,#b41,#8da,#3be,#4ce,#3ae,#5bc,#cc5,#d60,#e92,#e91,#e72,#e82,#ea3,#d71,#c20,#a10,#d30,#e70,#e92,#eb3,#d81,#e91,#c30,#a10,#b20,#d82,#cb5,#e81,#d51,#e71,#e70,#d30,#d40,#ea2,#9a7,#bc6,#d61,#b31,#d40,#b20,#b30,#d51,#d51,#ea2,#e81)"></i><i style="height:2px;background:linear-gradient(90deg,#4bd,#834,#734,#a54,#ba5,#b74,#b64,#c73,#b42,#d62,#a43,#39d,#4bd,#3be,#16e,#04b,#03c,#05e,#17e,#17e,#27e,#8b9,#a10,#800,#db3,#4bd,#18e,#3be,#ab7,#cc6,#da3,#e71,#eb3,#9b8,#cc6,#e72,#b62,#d30,#d40,#e50,#c63,#d92,#ba6,#ea2,#b41,#b20,#a20,#a20,#e71,#cb5,#ca5,#cc5,#c83,#d60,#d50,#c31,#b41,#c94,#ca4,#e61,#e50,#c30,#e60,#e71,#e61,#eb3,#9b8,#cc6,#e91)"></i><i style="height:2px;background:linear-gradient(90deg,#26e,#24c,#25d,#a54,#635,#16e,#3ad,#39d,#833,#339,#5cc,#7cb,#29f,#16e,#18e,#03d,#03c,#04d,#03d,#04c,#15b,#689,#b10,#800,#eb2,#28d,#18e,#3be,#2be,#5dd,#d92,#e61,#d72,#b85,#ba5,#bd7,#ca4,#e50,#d50,#c94,#bb6,#d92,#b84,#bb6,#b95,#e92,#c73,#b53,#c84,#d72,#c52,#e61,#e61,#b30,#d41,#ea3,#bc7,#ea3,#e71,#d41,#c40,#e51,#e91,#eb3,#d82,#d62,#d61,#e81,#d82)"></i><i style="height:2px;background:linear-gradient(90deg,#28e,#28e,#28e,#29e,#15e,#2ae,#ab6,#944,#c73,#c83,#955,#2af,#02b,#02a,#01a,#03a,#03b,#02c,#03c,#03d,#18e,#bc7,#b10,#800,#da3,#5bc,#2be,#3bd,#4ce,#7cb,#dc4,#da3,#eb3,#db5,#7dc,#6bb,#db4,#e71,#d41,#b40,#a31,#bb6,#699,#9b9,#ad8,#ac8,#ba5,#da4,#cb5,#d82,#ca3,#bd7,#ad8,#c84,#c41,#c41,#e61,#cc6,#ac8,#8c9,#8c9,#eb3,#e81,#e71,#e61,#e71,#ac8,#ad8,#bc7)"></i><i style="height:2px;background:linear-gradient(90deg,#3ad,#4bd,#734,#b84,#734,#4be,#3ad,#ac8,#a33,#b32,#38c,#27d,#29e,#04d,#03b,#02b,#03c,#04e,#04e,#06e,#5bc,#d92,#900,#800,#e81,#37c,#17e,#3ae,#29e,#69a,#8a8,#aa6,#cb4,#bb7,#8b9,#8b9,#db4,#e50,#c20,#a20,#b31,#c51,#c84,#cb5,#ba5,#e92,#d60,#d82,#aa6,#bb6,#c94,#e71,#e81,#e60,#e60,#e71,#d61,#d62,#c51,#a31,#b40,#d50,#e81,#d71,#d71,#e82,#c84,#c93,#e81)"></i><i style="height:2px;background:linear-gradient(90deg,#8ca,#a54,#6cc,#3ad,#844,#26e,#25c,#3ad,#c73,#c52,#c73,#734,#18f,#06d,#06e,#05e,#03d,#05e,#02c,#03c,#3be,#b85,#910,#800,#d41,#6cb,#18e,#19e,#2ae,#37d,#dd5,#c41,#c83,#ba5,#d72,#d72,#c62,#c41,#d30,#e40,#e60,#d41,#854,#b64,#c83,#c72,#e50,#e40,#ea2,#da3,#b42,#b42,#c41,#d41,#d50,#e92,#cb5,#cb6,#db4,#d92,#d92,#e60,#b20,#b31,#d51,#c73,#954,#954,#d61)"></i><i style="height:2px;background:linear-gradient(90deg,#29e,#28d,#a54,#29d,#3ae,#29e,#25d,#25d,#a43,#c52,#37c,#4bd,#29e,#18e,#06e,#05e,#04d,#05e,#04d,#05e,#6cc,#c74,#900,#900,#e71,#7cb,#19e,#16e,#38d,#7ba,#cb5,#e92,#d83,#d73,#bb6,#ab7,#da3,#e91,#e50,#e40,#e61,#bc7,#7ca,#ab7,#e92,#e81,#e60,#e51,#d81,#db4,#cc5,#aa6,#bc6,#da3,#e60,#ea2,#bb6,#dc5,#d72,#c51,#b31,#a20,#b30,#c41,#ab7,#7cb,#cd6,#d71,#e92)"></i><i style="height:2px;background:linear-gradient(90deg,#5cd,#4bd,#23a,#3ad,#28d,#8ca,#24c,#36c,#36b,#47b,#38c,#39e,#4ce,#5bd,#2ae,#17e,#04d,#03b,#04b,#29e,#8a7,#e92,#900,#800,#e71,#9c8,#3ce,#4ce,#ad8,#c82,#e51,#ca4,#9b9,#9b8,#d93,#d51,#b30,#b20,#a20,#d40,#c41,#c73,#da3,#e81,#b20,#910,#b30,#a20,#b41,#e81,#cb5,#d93,#e50,#d30,#e60,#bb7,#c94,#c61,#b41,#b30,#a20,#d50,#cb5,#ba5,#c73,#c41,#e61,#d40,#b40)"></i><i style="height:2px;background:linear-gradient(90deg,#b84,#b64,#944,#24c,#26d,#28d,#a54,#c83,#35b,#36b,#ca4,#38d,#2ae,#18f,#19e,#07e,#27d,#06e,#05e,#05e,#28e,#9c9,#a10,#800,#e61,#4cd,#16d,#27e,#4cd,#bd7,#c73,#c83,#ba4,#b85,#b95,#d72,#b63,#e40,#b20,#c30,#e61,#ea2,#da3,#e61,#c41,#932,#b30,#c30,#e71,#e61,#e92,#ca4,#d72,#b31,#d30,#d30,#e61,#d71,#da4,#cc6,#ca4,#ea2,#e81,#e70,#d51,#d61,#e81,#cb4,#cb6)"></i><i style="height:2px;background:linear-gradient(90deg,#734,#734,#a43,#b74,#a44,#734,#a44,#b43,#c52,#b32,#c72,#888,#27e,#15c,#14c,#16e,#19e,#2be,#2ae,#3be,#8db,#b84,#900,#800,#e60,#ac7,#5bc,#28e,#36a,#779,#ab7,#b95,#db4,#c52,#b42,#b63,#e81,#e70,#b20,#a10,#e40,#e81,#d92,#ea3,#d60,#b10,#a10,#d40,#c94,#e81,#c41,#d41,#b20,#910,#b20,#d30,#d92,#d92,#d51,#d71,#d60,#d30,#d30,#c30,#c73,#c94,#e71,#e50,#e50)"></i><i style="height:2px;background:linear-gradient(90deg,#7ca,#4bd,#24c,#5cd,#26e,#4be,#25d,#39d,#b43,#a32,#5ac,#39d,#49d,#18e,#04d,#04e,#05e,#19e,#3ae,#3ad,#5cd,#db4,#900,#800,#c93,#39c,#16e,#16e,#3ae,#ad9,#e82,#e51,#c41,#e82,#ac8,#bb5,#c62,#e61,#d40,#c20,#c30,#c41,#d52,#b84,#bd7,#da3,#e60,#e40,#e50,#d71,#d82,#d62,#d71,#e71,#e50,#e50,#e60,#e61,#b42,#d93,#bb6,#ca5,#c93,#e92,#e81,#d71,#e82,#a54,#a64)"></i><i style="height:2px;background:linear-gradient(90deg,#29d,#4bd,#39d,#4cd,#28d,#7cb,#6cc,#24c,#35c,#36b,#c63,#b84,#29e,#2af,#07e,#04e,#04d,#18e,#05e,#15d,#17e,#bd7,#900,#800,#c94,#37d,#28e,#2ae,#3be,#ab7,#ea2,#db4,#ab7,#cc6,#bb6,#8a8,#ab7,#d72,#b30,#c30,#db4,#cb6,#c84,#943,#b30,#d50,#e71,#e61,#bc7,#798,#8a8,#aa5,#e60,#e40,#d82,#cb6,#db4,#c94,#e71,#e71,#d50,#e50,#c41,#e82,#cc5,#9a7,#ba6,#da4,#d82)"></i><i style="height:2px;background:linear-gradient(90deg,#29e,#28d,#29d,#2ad,#25e,#7cb,#5cc,#39d,#35c,#33a,#5bc,#28e,#16e,#04e,#06e,#18e,#04d,#02d,#03c,#05e,#19e,#8da,#b20,#800,#db3,#28d,#18e,#18e,#4ce,#cb4,#d61,#ea2,#9b8,#6cb,#9c9,#dc4,#e91,#e61,#e40,#db4,#aa7,#ba5,#cd6,#ab7,#c73,#d40,#e50,#da3,#9b8,#bb6,#d92,#d82,#e92,#e92,#e71,#ca4,#eb3,#db4,#9d9,#ab7,#c83,#e50,#c94,#bb6,#cc6,#bc6,#db4,#c73,#c63)"></i><i style="height:2px;background:linear-gradient(90deg,#28e,#5cd,#26d,#734,#a54,#3ae,#28d,#25d,#c94,#932,#b43,#a44,#3be,#07e,#03d,#02b,#02a,#03b,#04d,#02b,#18e,#cd5,#900,#800,#e92,#27d,#28e,#19e,#4ce,#9c8,#da3,#cb4,#bb6,#ac8,#7cb,#ad8,#c73,#b42,#b20,#b31,#a31,#c94,#cb6,#eb3,#e50,#c30,#e71,#ca4,#9b8,#9c8,#d61,#b31,#a20,#d40,#d61,#e81,#e72,#b62,#b53,#c73,#e60,#e71,#db4,#7bb,#59b,#898,#e81,#c40,#b41)"></i><i style="height:2px;background:linear-gradient(90deg,#3ad,#25d,#9c9,#25d,#5cd,#25d,#239,#4ad,#35c,#a32,#a43,#27d,#18f,#04d,#04d,#03c,#04e,#06e,#05e,#06e,#4ce,#da3,#900,#800,#d41,#8ba,#18e,#15d,#3be,#db4,#e61,#e61,#ea3,#9c9,#9c8,#ac7,#db3,#d50,#b20,#b20,#b31,#d61,#db4,#e92,#e51,#c30,#b20,#b20,#d41,#d81,#d92,#ea3,#d41,#a20,#e40,#b30,#c41,#ea2,#cb5,#db4,#e71,#b30,#b41,#c31,#e81,#b42,#c52,#ea2,#e71)"></i><i style="height:2px;background:linear-gradient(90deg,#27d,#4bd,#28d,#26d,#6cb,#26e,#28d,#bb6,#c73,#822,#33a,#7aa,#5ab,#06e,#03d,#05e,#06d,#06d,#17e,#05e,#19e,#bb6,#900,#800,#d61,#7db,#4ce,#3be,#5bb,#cc5,#e81,#c62,#b74,#cd6,#bc6,#b84,#d51,#a20,#b20,#e71,#9b8,#ab7,#d92,#e61,#c63,#d51,#d40,#e71,#e92,#d82,#db4,#ab6,#e92,#e50,#e81,#ea3,#e92,#e92,#eb3,#da4,#e92,#d70,#eb3,#db4,#da4,#bb6,#ca5,#e61,#b30)"></i><i style="height:2px;background:linear-gradient(90deg,#28e,#27d,#944,#28d,#28e,#28e,#634,#b94,#c63,#49c,#c63,#ba5,#4ce,#18e,#04e,#02b,#02c,#29e,#28e,#06e,#16c,#699,#a10,#800,#d81,#27d,#15b,#14c,#18e,#6bb,#d92,#c41,#c74,#c95,#bb5,#ab7,#ea2,#e61,#e60,#d82,#ea2,#d61,#c52,#d72,#e91,#e51,#c30,#b30,#943,#b42,#d62,#e92,#e71,#e51,#e50,#e51,#d71,#e92,#ea3,#dd4,#d71,#a31,#b30,#a31,#b41,#ba5,#cb5,#e92,#d51)"></i><i style="height:2px;background:linear-gradient(90deg,#3ad,#25d,#24b,#26d,#b65,#955,#24c,#38d,#37c,#49b,#b53,#789,#04b,#04b,#15d,#04e,#06e,#05e,#17e,#29e,#4bd,#da3,#900,#800,#a31,#8da,#2ae,#29e,#26c,#37c,#bb7,#ba5,#7aa,#ad8,#d93,#db4,#d51,#b51,#d30,#d50,#e71,#da3,#bb6,#e82,#d61,#d50,#d30,#d51,#e61,#d81,#d82,#e72,#e81,#e81,#e81,#e92,#da3,#dc4,#9c9,#db4,#d81,#da3,#eb3,#e92,#db4,#ea3,#c84,#b74,#c63)"></i><i style="height:2px;background:linear-gradient(90deg,#3bd,#29d,#b94,#735,#18e,#2ae,#25d,#4bd,#5bc,#6cb,#8ca,#5cd,#3be,#3ae,#05e,#07e,#18e,#07e,#05e,#06e,#3ce,#da3,#900,#800,#a43,#9c8,#19e,#15d,#49c,#9c9,#bb6,#e71,#e72,#da4,#9b8,#9d9,#da2,#d71,#e70,#e50,#b30,#a43,#d72,#cd6,#9d9,#cc5,#e51,#c51,#e60,#eb3,#ac7,#bc7,#cb5,#d92,#d71,#d92,#e60,#c41,#e82,#db4,#ba5,#c84,#b52,#c51,#e60,#e81,#d61,#ca4,#ad8)"></i><i style="height:2px;background:linear-gradient(90deg,#26d,#6cc,#7cb,#28d,#26d,#28d,#29d,#6cc,#37b,#8b9,#b85,#3be,#17e,#19e,#2ae,#06e,#04c,#03d,#05e,#17e,#27e,#9d9,#900,#800,#e50,#5dd,#18e,#28e,#28e,#7ca,#d61,#d61,#dc4,#cc6,#bb5,#ec3,#e71,#d40,#910,#a10,#c40,#b53,#a54,#844,#b41,#c30,#a10,#b30,#d50,#c73,#ca4,#cc5,#e81,#e50,#c30,#a20,#e51,#aa6,#7ca,#e71,#b41,#a20,#c30,#e50,#e92,#db4,#db4,#cb5,#ea3)"></i><i style="height:2px;background:linear-gradient(90deg,#24c,#25d,#28d,#29d,#4be,#27e,#28d,#8c9,#c63,#832,#b53,#b64,#645,#39d,#17e,#04e,#07e,#04d,#02a,#03b,#14c,#8b9,#900,#800,#c41,#6cc,#17e,#19e,#5bc,#5cd,#9b8,#aa7,#ab7,#ab7,#cc5,#db3,#cb5,#ca4,#e50,#d40,#c31,#c41,#e92,#ca3,#d81,#e81,#d60,#d40,#e61,#bc6,#ac7,#cc5,#ea2,#d81,#e81,#e81,#e71,#d72,#c52,#e72,#e71,#d50,#e60,#e61,#b52,#d62,#d72,#d72,#e61)"></i><i style="height:2px;background:linear-gradient(90deg,#27d,#27d,#29d,#27e,#25d,#28e,#634,#944,#833,#c83,#833,#25d,#17f,#03d,#05e,#04e,#05e,#16d,#18e,#06e,#16c,#5ab,#900,#800,#e51,#3ad,#26c,#27e,#4bd,#cb4,#e92,#ab8,#9d9,#ba6,#b85,#cb4,#eb3,#e50,#b20,#d40,#c83,#bb5,#d93,#eb3,#e81,#a20,#b40,#e50,#d81,#db4,#b84,#a62,#a31,#d51,#d40,#b30,#d51,#d62,#c62,#d82,#ca4,#ea2,#d40,#b31,#d51,#cb5,#bc6,#b84,#e72)"></i><i style="height:2px;background:linear-gradient(90deg,#2ae,#4ce,#3ad,#28e,#25d,#29e,#4ce,#6cc,#38c,#36c,#6cb,#734,#17e,#06e,#06e,#17e,#03c,#03b,#02a,#18e,#6cc,#b95,#900,#800,#b41,#6bb,#27e,#39d,#4ac,#8ca,#cb6,#ca5,#db4,#cc6,#bc6,#bc7,#cb5,#e61,#b30,#b30,#b41,#eb3,#8a9,#db3,#c41,#e50,#e70,#c93,#ca4,#db5,#dc4,#b63,#d41,#e60,#e61,#ca4,#d82,#b52,#e82,#da3,#b94,#da4,#c73,#da4,#9d9,#ab8,#ea3,#e61,#e81)"></i><i style="height:2px;background:linear-gradient(90deg,#29d,#27d,#28d,#4bd,#28d,#4cd,#25d,#5bc,#c62,#6bb,#49c,#28d,#4be,#3bf,#06e,#02a,#14b,#03b,#04b,#15d,#2ae,#d92,#800,#800,#e50,#7dc,#2be,#19e,#2ae,#8ba,#d92,#d51,#d51,#d72,#d82,#ea2,#ca4,#e81,#d40,#c30,#e61,#ea2,#d71,#c41,#b40,#a10,#c30,#e61,#eb3,#9a8,#8a8,#cb5,#e71,#b20,#a20,#b63,#b64,#d92,#cb5,#d70,#e50,#ea2,#aa6,#bb6,#eb3,#e81,#d41,#c30,#d51)"></i><i style="height:2px;background:linear-gradient(90deg,#b94,#b64,#b64,#734,#b64,#734,#3ad,#35c,#822,#6ab,#a33,#ba5,#2ae,#19e,#07e,#17e,#19e,#29e,#3be,#3be,#8ba,#854,#800,#800,#d50,#6cc,#29e,#3be,#6dc,#8da,#cb4,#e92,#ba5,#ab8,#cb5,#d82,#ba5,#c93,#d30,#c20,#e40,#ca5,#ca4,#b63,#e51,#d40,#d40,#e70,#e81,#e71,#da3,#ca5,#d51,#b40,#a10,#b20,#c41,#e61,#e81,#e81,#e81,#d40,#b20,#e40,#e81,#e61,#e91,#da3,#d71)"></i><i style="height:2px;background:linear-gradient(90deg,#4bd,#b64,#28d,#29d,#b84,#945,#a54,#944,#34b,#35b,#5ac,#28d,#16e,#05e,#06e,#04c,#02b,#03d,#15d,#03b,#29e,#ac8,#900,#800,#d71,#5ab,#26b,#16e,#28e,#49c,#9c8,#e61,#b52,#d92,#6bb,#9d9,#ea3,#e81,#e60,#e40,#d40,#d51,#db4,#9c8,#cc5,#d71,#c30,#b20,#d30,#e91,#cb4,#ad8,#cb6,#e71,#c40,#d40,#ea2,#ca3,#b83,#bb5,#bd6,#cb5,#d71,#e81,#d50,#c41,#d72,#eb3,#e72)"></i><i style="height:2px;background:linear-gradient(90deg,#26d,#28d,#b64,#b74,#23a,#27d,#27d,#39c,#b43,#a32,#833,#3be,#18e,#18e,#05d,#05e,#06e,#05e,#07e,#19e,#5dd,#954,#800,#900,#d92,#5cd,#3be,#7cb,#9c9,#cc6,#9a7,#9a8,#8a8,#8b9,#9d9,#bb6,#a64,#953,#c30,#c30,#d40,#e61,#c52,#d62,#e71,#d41,#d40,#d40,#e70,#bb5,#d92,#a42,#d83,#ca5,#e92,#e50,#e81,#e82,#cc5,#9b8,#9c8,#ac7,#eb3,#e80,#d92,#cc6,#ab7,#9b9,#bb6)"></i><i style="height:2px;background:linear-gradient(90deg,#3ae,#26d,#26d,#5cd,#844,#4ce,#844,#b64,#5ac,#34b,#6bc,#4bd,#17e,#17e,#18e,#29e,#17e,#04e,#03c,#04d,#18e,#bc7,#c20,#800,#d61,#7db,#2ae,#16e,#3be,#8ca,#eb3,#e51,#b52,#c72,#d92,#e92,#e51,#c30,#d40,#d71,#cb5,#ab8,#cc6,#ea2,#e50,#c30,#b30,#b51,#e82,#9b8,#8a8,#e71,#d40,#e81,#ea2,#cb5,#ab7,#ab7,#bb6,#c94,#d71,#e71,#ba5,#cb5,#d62,#db4,#9a7,#997,#997)"></i><i style="height:2px;background:linear-gradient(90deg,#5cd,#b64,#b74,#734,#a54,#4bd,#a54,#35c,#38b,#48b,#c73,#24b,#26d,#17f,#05e,#07e,#17d,#04d,#04b,#04b,#15d,#cc6,#800,#800,#b40,#ba5,#3ce,#19e,#6bc,#9da,#ca4,#d71,#ca4,#dd5,#9b7,#9b9,#eb3,#c30,#b20,#b30,#d40,#ea3,#bc6,#ba5,#e92,#e50,#e40,#e71,#ea3,#9c9,#8b9,#cb5,#e61,#b20,#b20,#e60,#da4,#ba5,#ca4,#e91,#c94,#997,#ca5,#e81,#d71,#e82,#ea3,#e81,#d30)"></i><i style="height:2px;background:linear-gradient(90deg,#3bd,#5cd,#8c9,#25d,#24d,#3ad,#239,#27d,#6cb,#34a,#933,#45b,#6cc,#04d,#03d,#17e,#16e,#05e,#04e,#04d,#26b,#8b9,#800,#800,#e92,#6dd,#18e,#28e,#3ae,#6dc,#cb5,#e92,#dc5,#bc6,#ba5,#cc6,#9a8,#ca4,#c30,#d40,#e81,#cb6,#bb5,#da3,#d81,#c30,#b20,#b41,#c41,#a43,#b74,#d62,#d51,#e40,#b30,#b30,#e61,#ab7,#ab7,#ca4,#d81,#d71,#da3,#b95,#cb6,#cb5,#cb5,#cc5,#c94)"></i><i style="height:2px;background:linear-gradient(90deg,#27d,#4bd,#25d,#b84,#24c,#25d,#4bd,#4ac,#5ab,#c42,#c63,#a43,#27e,#15e,#05e,#2ae,#3ad,#2ae,#16e,#18e,#7ca,#d72,#800,#800,#b30,#aa6,#7db,#3ce,#4be,#8da,#bb7,#da3,#e92,#da3,#ad8,#bb6,#d82,#e61,#a10,#a20,#b20,#e51,#e82,#d51,#c52,#c40,#c20,#e50,#c83,#ca4,#bb6,#bb6,#e70,#c20,#e50,#b94,#8c9,#cb6,#e92,#d51,#b30,#c30,#e60,#da4,#db4,#dc4,#ca3,#b53,#b30)"></i><i style="height:2px;background:linear-gradient(90deg,#15d,#a65,#735,#15d,#3be,#18e,#14c,#734,#49c,#36c,#28d,#49c,#2ae,#05e,#02b,#02b,#03d,#02a,#03d,#37c,#19e,#6dc,#b10,#800,#e71,#6dc,#19e,#05e,#15b,#28c,#bb5,#e71,#ca5,#8da,#ac7,#b95,#d62,#d51,#c63,#c63,#a63,#b74,#d72,#db4,#cb5,#d71,#d50,#ea2,#dc5,#cc5,#ac7,#bb6,#cb4,#e61,#d51,#e81,#bc7,#ad8,#bb6,#c94,#c83,#d92,#e91,#d82,#d92,#c84,#a54,#b64,#c41)"></i><i style="height:2px;background:linear-gradient(90deg,#5cd,#3be,#635,#15e,#2ae,#4ce,#3ae,#39d,#733,#833,#733,#b64,#18f,#03b,#02b,#02b,#04e,#05e,#02a,#02a,#14d,#ad8,#b10,#800,#c93,#4ce,#15c,#14d,#4ce,#ac7,#e72,#dc5,#8c9,#cd6,#da3,#dd5,#bd7,#bb6,#c94,#ea3,#cc6,#7cb,#7cb,#b95,#b84,#e92,#e71,#ea2,#cb4,#bd7,#9d9,#8ca,#ab7,#eb3,#ea2,#e91,#da3,#ab8,#9d9,#db4,#d92,#e71,#d51,#c41,#963,#c94,#ba5,#c83,#cb4)"></i><i style="height:2px;background:linear-gradient(90deg,#3ad,#a54,#944,#28d,#29d,#28d,#5cd,#4ac,#b43,#c52,#c63,#26d,#28e,#17e,#39e,#29d,#18e,#28e,#39d,#3ae,#5dd,#d82,#800,#800,#d61,#7db,#4bd,#4ce,#3be,#7b9,#cb5,#bb6,#8a9,#8b9,#cd6,#ea2,#e82,#c30,#d40,#e40,#e71,#e62,#d62,#ea2,#e70,#e40,#e70,#eb3,#ba5,#ac8,#bb6,#d61,#b30,#b20,#d30,#e71,#ea2,#da4,#ca4,#ca5,#d60,#b20,#b41,#c51,#e82,#cb4,#da3,#e61,#b20)"></i><i style="height:2px;background:linear-gradient(90deg,#28d,#25d,#23b,#29d,#28d,#24b,#25d,#b84,#833,#b32,#c63,#bb6,#28e,#04c,#03d,#03d,#02c,#03d,#03d,#06e,#2ae,#ad8,#900,#800,#b31,#aa5,#4ce,#19e,#26d,#4bc,#db4,#e71,#e82,#ab8,#7a9,#bc7,#eb3,#e50,#a10,#b41,#e71,#cb4,#bc6,#9b8,#da3,#e81,#e92,#e61,#c74,#d72,#d82,#eb3,#e61,#b20,#e50,#cb5,#bb5,#ca4,#cc5,#cb5,#ea2,#d92,#da4,#8a8,#569,#58b,#ca5,#e61,#a20)"></i><i style="height:2px;background:linear-gradient(90deg,#28d,#3ad,#25d,#4bd,#3be,#4be,#4bd,#4bd,#a33,#a32,#49c,#27d,#29e,#27c,#03d,#05e,#06e,#06e,#06e,#05e,#18e,#9d9,#910,#900,#ca5,#47a,#15b,#16e,#5cc,#ad8,#ca4,#c41,#b40,#b41,#d82,#c72,#955,#b74,#e61,#e50,#e40,#c30,#d51,#ca4,#da3,#e71,#c41,#e50,#b95,#bb6,#e61,#c62,#d92,#aa6,#e71,#b30,#e40,#e61,#da4,#8b8,#bb6,#eb3,#eb3,#e60,#d40,#e61,#d52,#c62,#dc4)"></i><i style="height:2px;background:linear-gradient(90deg,#ba5,#29d,#239,#7cb,#3bd,#28d,#28d,#5cd,#ca4,#c52,#7ca,#39d,#17e,#04d,#03d,#04d,#03d,#05e,#17e,#18e,#3ae,#ca5,#800,#800,#e81,#7cb,#15c,#359,#49b,#ac8,#da3,#c93,#cc6,#bd7,#da3,#d92,#e81,#d30,#b20,#d40,#e71,#e92,#db4,#d71,#c41,#d30,#e70,#b95,#8b9,#cd6,#ca4,#c64,#c63,#e50,#c30,#c41,#c84,#cc6,#bb6,#cb5,#ea3,#e50,#e60,#d93,#9b8,#ad8,#b74,#b41,#e61)"></i><i style="height:2px;background:linear-gradient(90deg,#26d,#25d,#5cd,#6cc,#25c,#b64,#3ad,#4ac,#c62,#b32,#cb5,#36c,#4bd,#18e,#18e,#2ae,#29e,#17e,#18e,#19e,#3ce,#bc6,#800,#800,#d40,#9c9,#49c,#28e,#3ad,#bb6,#c51,#a31,#942,#b62,#d82,#db4,#e51,#b41,#910,#d40,#db4,#9c8,#ab8,#cc5,#e81,#d40,#c20,#c30,#d41,#d61,#eb3,#bb6,#aa6,#a96,#d83,#d50,#e71,#eb3,#ba6,#db4,#e71,#b20,#a20,#d40,#d92,#db4,#e92,#d61,#e61)"></i><i style="height:2px;background:linear-gradient(90deg,#25e,#39d,#a54,#b74,#3ae,#4be,#24d,#3ad,#49c,#c62,#c63,#6cb,#48c,#5bc,#05e,#02b,#02a,#02c,#03d,#02b,#15d,#cb5,#900,#800,#e81,#37b,#15e,#3be,#5cc,#6cc,#da4,#e61,#e61,#ba5,#ab7,#bb6,#bc7,#e92,#c20,#b20,#b31,#d82,#9b7,#9b8,#eb3,#e60,#c30,#c30,#e81,#cb5,#db3,#da3,#da3,#e91,#e70,#d61,#e92,#cd6,#b74,#d51,#e61,#e50,#e50,#a31,#c52,#d82,#d62,#d71,#ca4)"></i><i style="height:2px;background:linear-gradient(90deg,#29d,#28d,#7cb,#b64,#b74,#4cd,#29d,#38c,#5ab,#59b,#36c,#28d,#26d,#18e,#07e,#17e,#17e,#2ae,#6bb,#4bd,#3ae,#9b7,#800,#800,#d40,#9d9,#5cd,#3ce,#8db,#b75,#c41,#ea2,#6ab,#9b8,#cb5,#ab7,#da3,#d30,#a10,#b20,#b63,#cc6,#cb5,#e81,#d40,#d30,#d40,#ea2,#ab7,#ab7,#cc6,#e61,#d40,#e50,#e70,#e71,#c94,#ab7,#ac7,#e60,#b30,#e70,#ca5,#db3,#cb4,#e71,#c51,#b30,#c30)"></i><i style="height:2px;background:linear-gradient(90deg,#5cd,#24c,#27d,#3ad,#28d,#a54,#25d,#4bd,#48c,#6bb,#33a,#48c,#3ce,#17e,#29e,#2ae,#18e,#03b,#02b,#05e,#5bc,#d82,#800,#800,#e91,#4cd,#2be,#18e,#4cd,#db4,#ea1,#da3,#8ca,#6cc,#db5,#d62,#d51,#c30,#d40,#b94,#9a7,#bb7,#cc6,#d71,#e51,#e60,#d81,#e81,#c93,#ab7,#ab7,#c93,#b31,#b20,#e40,#e92,#cb6,#d92,#e72,#ea3,#e81,#c30,#a20,#d51,#c84,#cb5,#d82,#c73,#d71)"></i><i style="height:2px;background:linear-gradient(90deg,#a54,#29d,#25d,#6cb,#24b,#29d,#39d,#38d,#833,#c52,#833,#28d,#5ab,#4bd,#2ae,#18e,#06e,#03c,#03b,#05e,#3be,#d92,#800,#800,#d92,#4ad,#16d,#16e,#3ae,#8ca,#b43,#b31,#942,#bb6,#799,#6bb,#cc6,#d30,#a10,#c40,#e81,#ab8,#9b8,#e92,#a53,#a20,#e50,#d82,#ea3,#ba5,#ca4,#c51,#a31,#d30,#d50,#e71,#ea2,#db4,#ea2,#e71,#c31,#b30,#933,#943,#c84,#cb6,#8a9,#9a8,#db4)"></i><i style="height:2px;background:linear-gradient(90deg,#635,#a54,#734,#3ae,#2ae,#29e,#2ae,#27d,#35c,#b43,#b53,#9c8,#3cf,#06d,#04e,#04e,#04e,#02b,#02a,#02a,#2ae,#d93,#900,#800,#d51,#7ba,#3ce,#29d,#3ae,#9d9,#d52,#b31,#e71,#db4,#ac7,#bc6,#da3,#ea3,#e92,#d40,#c30,#b64,#b94,#ba5,#b94,#e81,#e61,#d30,#d51,#bb5,#6bb,#9c9,#dc5,#e72,#e51,#e70,#d71,#cb6,#6ab,#8da,#cb5,#ea2,#d51,#e60,#e91,#d61,#d82,#8ba,#9c8)"></i><i style="height:2px;background:linear-gradient(90deg,#26e,#29d,#4bd,#25d,#5cd,#28e,#4cd,#4ad,#5bc,#5ab,#34b,#27d,#29e,#16e,#04c,#07e,#2ae,#28e,#03d,#03b,#16e,#cc5,#910,#800,#e91,#9c9,#4bd,#7db,#9a7,#db4,#ca5,#8a8,#6cb,#9b8,#da3,#d93,#e91,#d40,#c20,#d41,#e61,#bb6,#ab7,#ab7,#ca4,#da3,#ea2,#d51,#c52,#cb4,#da3,#a41,#b51,#c30,#e60,#e92,#9b8,#8b9,#9b9,#ba6,#e71,#e70,#ea2,#e71,#b84,#ad8,#cc6,#d71,#e92)"></i><i style="height:2px;background:linear-gradient(90deg,#3ad,#27d,#5cd,#28d,#25d,#29e,#4cd,#6cc,#b43,#822,#37c,#734,#18f,#03b,#02b,#05e,#02a,#02a,#24b,#03d,#18e,#cc6,#900,#800,#c41,#9d9,#19e,#3be,#6bc,#8ba,#ea3,#e71,#db5,#dc5,#ca3,#dc4,#c84,#c73,#e40,#d40,#e91,#bb6,#bb6,#b84,#d71,#e91,#e70,#d70,#d93,#ab7,#ba5,#b64,#a54,#c41,#e40,#e40,#e71,#da3,#db4,#db5,#db4,#eb3,#e81,#d50,#d61,#e62,#d62,#d72,#d93)"></i><i style="height:2px;background:linear-gradient(90deg,#29d,#27d,#3ad,#28d,#6cc,#24c,#25d,#b54,#c63,#c72,#833,#734,#845,#17d,#05e,#18e,#19e,#07e,#06e,#07e,#29e,#cc5,#910,#800,#e61,#8ca,#19e,#14c,#26c,#7b9,#eb2,#ca5,#59b,#5bc,#9c9,#bc7,#eb3,#e60,#d30,#d40,#e71,#cc5,#cd7,#d72,#e61,#d50,#d50,#d81,#bb6,#ac7,#ac8,#cd6,#c93,#943,#922,#d61,#ca5,#dc5,#cb5,#db5,#ea3,#d50,#b30,#d41,#b64,#ba5,#cc5,#db4,#d82)"></i><i style="height:2px;background:linear-gradient(90deg,#23a,#23b,#29d,#29d,#3ae,#28e,#3ad,#39d,#6cc,#33a,#49c,#24c,#6cc,#27c,#03d,#05e,#06e,#07e,#18e,#18e,#3be,#9c9,#b10,#900,#e92,#4ce,#18e,#2ae,#4ac,#c93,#c51,#d92,#6ab,#5bc,#7dc,#ab7,#da3,#d50,#b20,#d40,#e91,#dc4,#bb6,#d92,#e72,#d40,#c30,#e60,#d92,#ad9,#8b9,#ac8,#da3,#e70,#e71,#b53,#844,#a52,#d82,#dc4,#e61,#c30,#e92,#ca4,#d92,#db5,#bc7,#9d9,#ba6)"></i><i style="height:2px;background:linear-gradient(90deg,#4cd,#4ad,#734,#734,#944,#945,#27d,#734,#833,#b42,#c63,#26d,#17e,#16d,#03d,#02b,#03d,#16e,#05e,#07e,#4ce,#8ca,#a10,#800,#a31,#9c8,#5cd,#4de,#7cb,#9c8,#eb3,#d82,#ca5,#6bb,#6ab,#9da,#9d9,#cb5,#e92,#d40,#e50,#e71,#c52,#954,#d92,#ba5,#c93,#e50,#c30,#e60,#da3,#b84,#da3,#cb4,#ca4,#e60,#d40,#e70,#ca3,#b74,#b74,#c52,#d72,#e71,#d50,#e81,#e92,#bb7,#bc7)"></i><i style="height:2px;background:linear-gradient(90deg,#3ad,#3ad,#734,#26d,#27d,#27e,#28d,#27d,#37c,#c52,#6cc,#25d,#13a,#04d,#28d,#18e,#05e,#04e,#04e,#05e,#3be,#bb6,#910,#800,#a31,#9a7,#18e,#14b,#26c,#8ca,#c41,#a31,#a43,#cb5,#ad8,#cc5,#d82,#c31,#b20,#a20,#e50,#e61,#e92,#da3,#c74,#b32,#d30,#d50,#d93,#ec4,#b84,#ea2,#d71,#e60,#e50,#e71,#e91,#da3,#c82,#b74,#e81,#e51,#b20,#b30,#c73,#9c9,#bd8,#b94,#c73)"></i><i style="height:2px;background:linear-gradient(90deg,#b64,#b54,#734,#b84,#4bd,#b74,#a54,#733,#822,#47b,#34a,#4cd,#18e,#04d,#04c,#03b,#03b,#05e,#5ac,#788,#8ca,#e92,#800,#800,#b41,#ad8,#2be,#29e,#27e,#8b9,#d92,#e40,#b41,#eb3,#9c9,#ac8,#db4,#d50,#a10,#a10,#e60,#ea2,#da3,#db4,#da4,#e70,#c20,#c20,#a31,#c51,#dc4,#db4,#e81,#d50,#b20,#b20,#d61,#da4,#d82,#954,#b41,#a20,#c30,#e60,#c73,#da3,#cb5,#d92,#e92)"></i><i style="height:2px;background:linear-gradient(90deg,#bb6,#28d,#4cd,#29d,#4cd,#29e,#26d,#b54,#c63,#b42,#933,#a95,#27c,#03c,#14b,#02a,#03d,#29e,#19e,#05e,#2ae,#d93,#900,#800,#e81,#5dd,#15e,#15d,#4ac,#bc6,#d81,#e61,#e92,#9b8,#7b9,#bc6,#c52,#c41,#c30,#c30,#b53,#d51,#da3,#cb5,#ba4,#e71,#d60,#e50,#d40,#b51,#954,#ac7,#bb6,#cb5,#cb5,#d82,#e91,#e71,#db5,#799,#8b8,#ea2,#d40,#b30,#b30,#d71,#cb6,#dc4,#c84)"></i><i style="height:2px;background:linear-gradient(90deg,#29d,#4bd,#25c,#b74,#b95,#5cd,#239,#934,#b43,#b42,#b53,#997,#16e,#14c,#02b,#02b,#03b,#05e,#39d,#59c,#7cb,#db3,#900,#800,#c41,#8da,#19e,#3be,#7dc,#ac7,#c74,#e60,#cc5,#ac7,#c83,#a65,#b84,#c41,#e50,#c20,#b30,#e61,#d72,#d82,#e92,#e61,#b30,#c20,#e70,#eb3,#d82,#d72,#b74,#e81,#e70,#d40,#c53,#c83,#ac8,#cc6,#cb6,#ab6,#e81,#e50,#e92,#ea3,#ca4,#8b9,#689)"></i><i style="height:2px;background:linear-gradient(90deg,#3ad,#4cd,#239,#5cd,#25d,#27e,#a54,#b84,#c53,#a32,#5bc,#4ad,#19e,#17e,#03c,#03b,#03c,#29e,#49b,#4bd,#5bc,#bc6,#900,#900,#b41,#ab7,#4be,#3be,#4ce,#8da,#cc5,#e71,#e81,#db5,#bb7,#b75,#e72,#b31,#b30,#a10,#e71,#ba6,#9b8,#ab6,#db4,#e70,#a20,#a20,#b41,#e92,#cb5,#d72,#b41,#b20,#d40,#d50,#d93,#cc6,#cc6,#8b9,#ab7,#e60,#e60,#d81,#bc7,#7a9,#7cb,#a64,#a31)"></i><i style="height:2px;background:linear-gradient(90deg,#29d,#6cb,#39d,#4bd,#25c,#4cd,#a44,#833,#6bc,#6bb,#5ac,#27d,#18e,#17e,#06e,#18e,#18e,#06e,#19e,#3be,#7db,#d82,#800,#800,#da3,#36c,#16d,#2be,#4be,#8b9,#da4,#d92,#da4,#ca5,#bb6,#d72,#b31,#a20,#a10,#d40,#e71,#c84,#da3,#bb6,#ea2,#c30,#b30,#e50,#cb5,#6bb,#7ca,#e81,#b30,#b20,#b20,#b31,#b42,#c94,#b94,#c73,#e60,#d50,#e92,#da3,#cc5,#bb5,#c74,#a31,#b30)"></i><i style="height:2px;background:linear-gradient(90deg,#b64,#b64,#28d,#3ad,#3ad,#3ae,#3ad,#944,#a33,#8b9,#33a,#5cd,#28e,#2ae,#17e,#06e,#06e,#04e,#04d,#19e,#4de,#cc5,#900,#800,#e71,#7cb,#19e,#18e,#3be,#8b9,#db4,#ea2,#b94,#bc6,#ba6,#ba5,#c83,#d30,#b20,#a53,#ca5,#8b9,#cd6,#da3,#e61,#e50,#d60,#e92,#d82,#b94,#dc5,#e71,#b30,#a20,#c30,#e91,#da4,#c72,#942,#b41,#b30,#c30,#c41,#c52,#c62,#c72,#d82,#e61,#e50)"></i><i style="height:2px;background:linear-gradient(90deg,#24b,#b64,#24c,#7cb,#2ae,#27e,#944,#734,#c63,#c93,#6cb,#5cd,#19f,#17e,#06e,#05d,#18e,#17e,#17e,#3ad,#2ae,#9c8,#910,#800,#e81,#5de,#16e,#19e,#6cc,#cb5,#cc5,#bb5,#dc4,#bc6,#8ca,#8b9,#bb7,#ea3,#d40,#e50,#cb5,#799,#7a9,#bb6,#ec3,#e51,#b20,#d30,#c73,#ac8,#7cb,#9d9,#bb6,#ca4,#e92,#e81,#d51,#bb6,#7a9,#8b9,#db4,#eb3,#e81,#e50,#e71,#dc4,#db3,#d82,#bb6)"></i><i style="height:2px;background:linear-gradient(90deg,#39d,#25d,#28d,#b74,#944,#944,#27d,#35c,#49b,#46b,#b42,#a44,#898,#17e,#18e,#29e,#05e,#04b,#04b,#14b,#35b,#8b9,#800,#800,#e61,#8ca,#5bc,#39c,#48c,#7ba,#eb3,#d40,#e71,#d93,#d92,#d72,#e71,#b20,#910,#b20,#b53,#e92,#dc4,#d71,#c30,#c20,#d30,#e60,#e92,#db4,#ea3,#e61,#b20,#b20,#d40,#e82,#d72,#d82,#d61,#b30,#c30,#d60,#e91,#b64,#e82,#8a8,#9a8,#d93,#d50)"></i><i style="height:2px;background:linear-gradient(90deg,#29e,#3bd,#27d,#26d,#5cd,#16e,#28e,#23a,#5ac,#337,#37c,#734,#13a,#28d,#06e,#18e,#18e,#05e,#02b,#03b,#19e,#cb5,#900,#800,#d41,#6dc,#19e,#16e,#27d,#5ac,#cb6,#9b8,#8a9,#bc6,#ba5,#dc4,#dc4,#e60,#d30,#e50,#d51,#c82,#699,#5ab,#bc7,#d92,#d60,#d51,#b42,#ab7,#8b9,#e92,#d71,#e92,#e70,#ea3,#bd7,#db4,#c52,#d52,#e81,#e92,#d92,#e81,#d93,#d82,#db4,#d92,#a31)"></i><i style="height:2px;background:linear-gradient(90deg,#29d,#b84,#b74,#3ad,#27d,#28d,#29d,#27d,#37c,#b32,#c93,#934,#4be,#28d,#16e,#04d,#04b,#03c,#04d,#05d,#29e,#ad8,#800,#800,#eb3,#6dc,#29e,#19e,#3be,#5cd,#9c8,#d40,#e51,#cb5,#8b9,#8ca,#ab7,#db4,#d50,#b20,#d50,#da3,#d62,#c62,#e82,#d61,#b20,#a20,#d50,#da3,#cb5,#cc6,#db4,#da3,#ca4,#d60,#b52,#b41,#c52,#d82,#ea2,#e71,#c41,#c30,#e50,#e81,#bb6,#7db,#6bb)"></i><i style="height:2px;background:linear-gradient(90deg,#24c,#7ca,#29d,#3ad,#29e,#26e,#27d,#b84,#a43,#cb5,#833,#29e,#27e,#04d,#15d,#06e,#29e,#28e,#28e,#18e,#5cd,#c92,#910,#800,#e61,#7ca,#2be,#2ae,#28d,#ab7,#b41,#b41,#c62,#db3,#8ca,#5aa,#9b8,#e91,#c30,#c30,#d61,#c52,#d72,#d82,#d82,#d83,#d40,#e70,#d93,#bb6,#bb5,#d82,#d62,#c41,#c30,#e51,#e61,#bb6,#5ab,#7cb,#dd5,#e81,#e81,#e71,#d93,#db3,#db5,#bb6,#bc7)"></i><i style="height:2px;background:linear-gradient(90deg,#4be,#28d,#28d,#25d,#4ce,#26e,#3ad,#24c,#a33,#36b,#4ac,#3ad,#3be,#18e,#19e,#29e,#29e,#17d,#07e,#06e,#19e,#8da,#c20,#a10,#d92,#5de,#16e,#14b,#36a,#8ca,#b51,#c41,#e72,#cb5,#8da,#6cc,#7cb,#9a7,#d82,#e60,#da3,#db4,#955,#b75,#eb3,#d61,#e40,#e60,#da3,#db4,#b95,#b84,#c73,#b31,#e60,#d93,#ab7,#9c9,#7a9,#7a9,#ba6,#d81,#e40,#c62,#e71,#b94,#a75,#a52,#c51)"></i><i style="height:2px;background:linear-gradient(90deg,#7cb,#27d,#4bd,#27d,#27d,#27d,#a44,#734,#b43,#ca3,#c83,#4bd,#18f,#04d,#04d,#04d,#05e,#04d,#03b,#16e,#49c,#dc4,#800,#800,#e81,#3ad,#28e,#2ae,#5dd,#8da,#da3,#ea2,#cb5,#9b9,#7a9,#8c9,#c84,#b30,#c30,#c82,#b94,#bb6,#bb6,#da3,#d41,#c30,#c20,#c40,#e71,#d82,#b94,#cc5,#e60,#d40,#d60,#ea2,#d52,#b62,#e92,#d61,#c51,#c30,#d51,#9b8,#7bb,#cb6,#cb5,#da3,#e91)"></i><i style="height:2px;background:linear-gradient(90deg,#b64,#26d,#9c8,#26d,#27e,#4be,#29d,#b64,#c63,#822,#b43,#28d,#6dc,#29e,#07e,#16e,#02b,#03c,#05e,#29e,#29e,#bc7,#a10,#910,#e61,#6bb,#3ae,#6bb,#7cb,#c93,#d51,#e61,#ea2,#9c8,#8ca,#9b8,#db4,#e81,#e50,#e71,#e71,#da3,#9d9,#8da,#ca5,#e71,#e40,#e60,#ab8,#6cb,#8ca,#bb6,#e92,#e91,#e92,#cb5,#ab7,#8b9,#cc5,#e72,#d61,#e70,#b31,#b41,#db4,#9c9,#ac8,#ab8,#cc5)"></i><i style="height:2px;background:linear-gradient(90deg,#24c,#b54,#ba5,#4bd,#944,#b64,#28d,#38c,#5ab,#d52,#932,#6cc,#6cb,#3be,#29e,#07e,#03c,#03d,#04e,#03c,#2ae,#d92,#900,#800,#d40,#7db,#29e,#3be,#5dd,#7ba,#bb5,#c30,#d61,#c84,#c62,#b52,#b52,#a31,#a20,#b10,#d40,#e71,#c41,#d62,#ca4,#d81,#e50,#d40,#e81,#da4,#eb3,#d82,#d72,#e71,#e81,#d40,#c20,#e50,#ea3,#ab7,#9b9,#9b8,#ca5,#d50,#e60,#d93,#e92,#d72,#db3)"></i><i style="height:2px;background:linear-gradient(90deg,#b64,#b84,#6cb,#4bd,#26d,#945,#a44,#834,#c53,#c52,#6bc,#28d,#39c,#14b,#04d,#07e,#05e,#14c,#03c,#05d,#4cd,#c52,#800,#800,#e91,#8ca,#2ae,#19e,#4ce,#cc5,#e71,#d50,#b52,#942,#b53,#d83,#d93,#e91,#d40,#d30,#e81,#dc4,#cb6,#ac8,#bb6,#db4,#d41,#b20,#b20,#c30,#e91,#c93,#da3,#ca3,#ea3,#e81,#e71,#e92,#ba5,#d93,#a42,#c62,#cb5,#cb5,#c53,#922,#c63,#9c9,#5ab)"></i><i style="height:2px;background:linear-gradient(90deg,#24c,#6cc,#39d,#28d,#25d,#28d,#5cd,#24c,#35c,#46b,#6cb,#39c,#5cd,#26e,#6cc,#4bd,#06e,#03c,#05e,#19e,#28e,#799,#800,#800,#b30,#cb6,#5bc,#37c,#29e,#8db,#ea2,#d50,#ca4,#7ca,#bc7,#9b8,#da3,#b30,#a20,#c20,#e81,#eb3,#b84,#cb4,#ab7,#db3,#d61,#e60,#eb3,#d82,#a54,#b74,#c41,#a30,#a20,#e50,#b95,#dc4,#d72,#b74,#c74,#e51,#d30,#a20,#c41,#ea2,#bd7,#c84,#a41)"></i><i style="height:2px;background:linear-gradient(90deg,#b64,#a44,#b84,#b64,#b74,#3ad,#6cc,#733,#ca4,#d62,#a64,#4ce,#19e,#19e,#18e,#07e,#18e,#17e,#29e,#17e,#16d,#8c9,#800,#800,#e60,#9c9,#5bc,#5cd,#7db,#bc7,#e81,#e60,#e92,#cc5,#9b8,#799,#ac8,#e71,#a10,#a10,#d40,#ea2,#cb5,#8b9,#8b8,#c94,#c30,#a10,#a10,#d30,#e92,#ac8,#cc6,#ea2,#e61,#b20,#a10,#e50,#e92,#d52,#b42,#c94,#ea2,#e61,#b20,#a20,#b41,#d51,#ac7)"></i><i style="height:2px;background:linear-gradient(90deg,#23a,#39d,#39d,#24b,#3ad,#7cb,#27d,#38c,#c52,#d52,#c42,#833,#965,#788,#799,#4ce,#18e,#15e,#15e,#18e,#6dd,#da3,#800,#800,#d60,#6ab,#2ae,#2ae,#7cb,#7ba,#db4,#d30,#d30,#e61,#d92,#cc6,#ec4,#c41,#b30,#b10,#b20,#e50,#d71,#d72,#e92,#eb3,#e92,#d50,#d50,#e40,#d51,#e72,#ea3,#d51,#b31,#b20,#e60,#b85,#ba6,#db4,#da3,#c94,#c83,#e50,#c30,#e50,#e92,#bc6,#9b8)"></i><i style="height:2px;background:linear-gradient(90deg,#944,#733,#b53,#b64,#28d,#5bd,#25c,#833,#47b,#59b,#bb6,#49c,#28d,#788,#16c,#19e,#3ce,#3ad,#2ae,#19e,#4ce,#ba5,#900,#800,#c30,#a76,#8a8,#5de,#4bd,#ac7,#e70,#d40,#d51,#e92,#9c8,#db4,#c41,#b20,#910,#910,#d40,#e71,#e71,#e71,#d71,#d40,#b10,#c20,#d71,#cb5,#9b8,#db4,#e81,#d40,#c20,#d30,#e70,#bc6,#9a7,#ab7,#e81,#c30,#a10,#a10,#943,#ea2,#8a8,#cb5,#e72)"></i><i style="height:2px;background:linear-gradient(90deg,#28d,#bb5,#b64,#6cc,#b64,#b94,#b84,#4ac,#5ab,#48b,#b42,#b43,#28d,#28d,#3be,#29e,#04d,#18e,#5bc,#19e,#47a,#cb5,#800,#800,#e60,#7cb,#2ae,#26d,#8c9,#d62,#d50,#d41,#e82,#c93,#da3,#e92,#d51,#a20,#910,#c30,#e80,#d61,#e72,#eb3,#d61,#c30,#c20,#d30,#d40,#e82,#d72,#b74,#a53,#c30,#c20,#d30,#e92,#d71,#a42,#a42,#e61,#e60,#a20,#a20,#c41,#c41,#b74,#b94,#e81)"></i><i style="height:2px;background:linear-gradient(90deg,#39d,#5cc,#39c,#5bd,#5bd,#26d,#23a,#c93,#822,#922,#a32,#c63,#39d,#14b,#14b,#15b,#14b,#14c,#13b,#15e,#3be,#d92,#800,#800,#e70,#6ba,#3be,#5de,#5cd,#ab8,#d41,#b30,#ea2,#8a8,#bb5,#d62,#b31,#b20,#a10,#b10,#d30,#e51,#da3,#ec4,#e81,#d40,#b20,#c20,#c63,#c93,#bc7,#e61,#b41,#a20,#c30,#d50,#e61,#c62,#954,#cb5,#d81,#d40,#d50,#e70,#c51,#a42,#a42,#b41,#b30)"></i><i style="height:2px;background:linear-gradient(90deg,#29d,#b64,#239,#26d,#5cd,#239,#6cc,#24c,#b43,#b32,#49c,#39d,#28e,#17f,#15c,#03b,#03b,#03b,#03b,#02a,#15d,#ab7,#a10,#800,#b51,#ad8,#38c,#18e,#4be,#8da,#ca4,#d92,#d92,#d72,#b95,#ac7,#bc7,#d40,#c20,#e70,#eb3,#d82,#c82,#bc7,#ac7,#e81,#e60,#d71,#ea3,#ea3,#b74,#b52,#e81,#d82,#e50,#d30,#e61,#bb5,#8ca,#dc4,#e61,#e50,#e81,#d92,#9b8,#7ca,#db4,#dc4,#dc5)"></i><i style="height:2px;background:linear-gradient(90deg,#a44,#734,#4ad,#26d,#26d,#a54,#bb6,#4ac,#cb4,#a32,#c72,#5cd,#4ce,#19e,#27e,#06e,#06e,#06e,#06e,#16e,#3be,#bb5,#800,#800,#e50,#9c9,#29e,#27e,#48b,#ab7,#e61,#e61,#db4,#9b7,#ad8,#ba5,#d92,#d50,#b20,#d30,#e82,#cb5,#7cb,#7ca,#bb5,#e81,#d30,#d30,#e60,#ca4,#8ca,#cc6,#c51,#d92,#d71,#e50,#e61,#ba5,#7a9,#8b9,#bb6,#e61,#c30,#d40,#e71,#ea2,#ea2,#c82,#e82)"></i><i style="height:2px;background:linear-gradient(90deg,#28d,#26d,#4cd,#29d,#5cd,#29e,#4bd,#bb5,#c73,#c82,#833,#ba6,#2af,#06e,#06e,#06e,#06e,#04e,#03d,#06e,#2ae,#bd7,#900,#800,#e92,#28d,#18e,#2be,#6cc,#c93,#d51,#e51,#c94,#ac8,#6dc,#9c8,#e82,#e71,#d30,#e50,#cb5,#8b8,#bc6,#b95,#e82,#e91,#e60,#c40,#b31,#d62,#c62,#c82,#e92,#e71,#d30,#a20,#b41,#c84,#b64,#c52,#d83,#e71,#b20,#b41,#c62,#ca5,#8d9,#8da,#eb3)"></i><i style="height:2px;background:linear-gradient(90deg,#b74,#39d,#28d,#734,#844,#944,#28d,#37c,#b42,#d82,#36c,#5cd,#29e,#19e,#04b,#03b,#04d,#17d,#29e,#17e,#2ae,#bc7,#800,#800,#e50,#5cd,#29e,#4bd,#9c9,#cb5,#e70,#d40,#c83,#ab7,#bd7,#b84,#da3,#d92,#c40,#d30,#e81,#aa6,#dd5,#e82,#c83,#c30,#910,#a10,#d40,#ca4,#bd7,#cb4,#d61,#b30,#a10,#b20,#c31,#e92,#db4,#db3,#ea3,#d82,#d40,#c30,#d51,#c63,#e82,#b84,#d83)"></i><i style="height:2px;background:linear-gradient(90deg,#26d,#a44,#b83,#5bd,#28d,#39d,#4bd,#a43,#45b,#6ab,#47b,#38d,#18e,#2ae,#2ae,#29e,#19e,#18e,#17e,#19e,#3be,#9a8,#910,#800,#e81,#59a,#28e,#29e,#29e,#8db,#d61,#d30,#c30,#d61,#9b7,#ab7,#eb2,#e82,#d40,#b10,#a10,#b41,#b41,#cc5,#cb5,#d50,#c20,#d50,#da3,#e92,#d92,#bb7,#9a7,#d71,#a10,#b20,#e61,#db4,#e92,#e81,#d92,#e50,#c20,#b20,#a53,#e82,#ca4,#d51,#a20)"></i><i style="height:2px;background:linear-gradient(90deg,#26d,#39d,#5bd,#944,#28d,#4bd,#25d,#39c,#932,#822,#c62,#733,#27e,#19f,#17e,#04e,#06e,#18e,#29e,#3be,#4ce,#dc4,#800,#800,#c63,#ad9,#6bc,#6cb,#6dc,#7b9,#db4,#d92,#aa6,#dc5,#cb5,#799,#788,#da4,#b10,#910,#d40,#da4,#cb4,#d82,#d92,#e92,#d50,#e50,#e71,#da3,#cc5,#cc6,#da3,#d71,#e60,#b20,#b20,#a31,#e92,#cc5,#cb6,#cb5,#d61,#c30,#d50,#e51,#d62,#db4,#db4)"></i><i style="height:2px;background:linear-gradient(90deg,#6cc,#734,#b74,#734,#844,#3ad,#3ad,#933,#833,#47b,#48b,#27d,#757,#14c,#16e,#06e,#03b,#04b,#14b,#16e,#5cd,#964,#800,#800,#b30,#9c9,#3ce,#18e,#26d,#39d,#5ac,#a95,#e91,#da3,#db4,#da3,#bb5,#dd5,#d61,#b20,#a10,#a10,#c61,#d62,#db3,#cc6,#ea2,#c30,#910,#b20,#e91,#ad8,#9da,#bc7,#cc5,#ea3,#e40,#a20,#b41,#944,#864,#a54,#e72,#d51,#d30,#e40,#d51,#ea2,#cc5)"></i><i style="height:2px;background:linear-gradient(90deg,#a54,#734,#4ad,#3ad,#5cc,#28d,#26d,#35c,#48c,#45b,#49b,#39c,#4cd,#18e,#06e,#14b,#03b,#04b,#04b,#15d,#4de,#d82,#800,#800,#b30,#8ca,#3ce,#3be,#3ae,#8c9,#d71,#c30,#e61,#bb6,#7a9,#ac8,#d93,#d51,#a20,#910,#b20,#e91,#bb6,#bb6,#ea3,#d61,#d30,#b20,#e50,#e71,#e92,#db5,#ca4,#ea2,#e61,#b20,#b20,#e61,#bb7,#bc7,#d72,#e61,#c41,#a20,#a32,#c83,#bb5,#bc7,#da3)"></i><i style="height:2px;background:linear-gradient(90deg,#29d,#25d,#25d,#26d,#3ad,#29d,#24c,#35c,#5ab,#c42,#c62,#733,#844,#2be,#16e,#07e,#18e,#07e,#17e,#18e,#4bd,#c72,#800,#800,#e50,#ac8,#7cb,#887,#aa7,#bd8,#e91,#d40,#b41,#da3,#9d9,#cc5,#e81,#e50,#d30,#d30,#e50,#da4,#ad8,#cc6,#ca3,#e81,#c30,#a10,#e70,#db4,#cb4,#da4,#d62,#c41,#c30,#d30,#e60,#ca3,#ea3,#da2,#cc5,#ca5,#e60,#a20,#b30,#eb3,#9b8,#bc6,#d82)"></i><i style="height:2px;background:linear-gradient(90deg,#26d,#27d,#25d,#944,#844,#239,#3ad,#b74,#833,#c72,#7cb,#4bd,#2ae,#3ae,#18e,#04b,#04c,#05e,#05e,#17e,#8da,#b75,#800,#800,#d41,#6dc,#27e,#16e,#4de,#7db,#6aa,#a96,#cc5,#bc6,#bc6,#b75,#864,#b41,#c20,#d40,#e60,#bb6,#689,#689,#9c9,#c73,#e50,#e60,#d50,#e61,#c94,#ac7,#8b9,#ab7,#e40,#b30,#d40,#ea3,#b84,#b95,#ab7,#ca5,#e51,#e40,#e50,#e71,#d72,#a52,#965)"></i><i style="height:2px;background:linear-gradient(90deg,#7cb,#24c,#6cc,#25d,#28d,#27d,#29d,#b64,#c63,#46b,#48c,#38d,#29e,#28e,#04d,#04b,#04c,#03d,#05e,#19e,#3be,#bc6,#800,#800,#e51,#5dd,#16e,#16e,#3be,#db4,#e81,#c93,#e92,#c72,#dc5,#cb5,#b53,#b20,#910,#c30,#d51,#ca4,#db4,#d82,#b41,#b20,#c30,#d93,#cc6,#ac8,#8da,#7bb,#ea3,#a20,#b20,#d81,#ab8,#8ca,#cb5,#d62,#d61,#e60,#e70,#ca4,#dd5,#cb4,#bc7,#dc4,#e61)"></i><i style="height:2px;background:linear-gradient(90deg,#28d,#b64,#b74,#28d,#29d,#29d,#25d,#7cb,#35c,#59b,#37c,#b84,#3be,#05d,#03b,#03b,#03b,#02a,#03b,#18d,#4cd,#bd6,#900,#800,#d61,#6cb,#29e,#16e,#38c,#59b,#cb6,#d40,#b30,#c52,#d83,#bb6,#ac7,#db4,#e50,#d30,#e60,#d61,#a52,#d93,#dc5,#e91,#d60,#e40,#e71,#eb3,#bb7,#bb6,#db4,#e92,#e60,#e60,#da3,#db3,#d92,#b52,#964,#e81,#c40,#b20,#b41,#e81,#9da,#8b9,#9b8)"></i><i style="height:2px;background:linear-gradient(90deg,#23b,#3ad,#6cc,#25d,#24c,#28d,#25d,#37c,#b42,#822,#339,#5bd,#29e,#16e,#04d,#03d,#15c,#03c,#14d,#15d,#2ae,#d72,#800,#800,#d40,#5cd,#28e,#27e,#28d,#9d8,#c51,#d40,#c73,#b94,#ac7,#bb7,#bb6,#e81,#910,#a20,#e50,#d71,#d72,#d82,#bb6,#887,#c84,#d60,#e70,#e71,#ca3,#bd7,#c94,#e51,#b30,#b20,#e50,#cb5,#da2,#b74,#c94,#e61,#a20,#b20,#e92,#db5,#bb5,#ac7,#da3)"></i><i style="height:2px;background:linear-gradient(90deg,#734,#a54,#734,#a44,#bb6,#24c,#27d,#24c,#36c,#5ab,#c63,#669,#17e,#06e,#03d,#03b,#04d,#02b,#03b,#03c,#16e,#9d9,#900,#800,#e71,#5ab,#2ae,#39c,#5bc,#7db,#e81,#d40,#d41,#b63,#bd7,#db4,#e72,#e50,#d40,#c30,#d51,#c52,#d82,#cb5,#ea3,#932,#910,#b20,#d51,#db4,#bc7,#cb5,#ca4,#d71,#b20,#c40,#e81,#d82,#dc4,#9c9,#aa6,#c94,#e60,#d41,#a54,#b74,#ad7,#ac7,#e71)"></i><i style="height:2px;background:linear-gradient(90deg,#3ad,#28d,#a44,#a44,#28d,#4bd,#25c,#39c,#5ab,#46b,#59b,#38c,#4bd,#16e,#15c,#16e,#3ae,#2ae,#15d,#18e,#6dc,#ba5,#800,#800,#e50,#a86,#7db,#29e,#3be,#9c9,#ea3,#d50,#e82,#ac8,#dd5,#b74,#ab6,#787,#d60,#b10,#c30,#d71,#c94,#b94,#db4,#e60,#a10,#910,#a20,#c51,#ab7,#689,#ab7,#e71,#a10,#a20,#d50,#dc5,#bb5,#ca4,#d82,#e60,#d50,#e70,#cb5,#9b9,#6bb,#7cb,#ca4)"></i><i style="height:2px;background:linear-gradient(90deg,#27d,#39d,#5cd,#27d,#b84,#4bd,#27d,#9c9,#833,#d62,#c83,#39d,#27e,#17e,#17d,#14d,#02a,#07e,#39e,#2ae,#2ae,#dc5,#800,#800,#e81,#48b,#16d,#27e,#3ae,#a65,#b31,#c40,#cb5,#6cb,#6dc,#c93,#d62,#e50,#b10,#b31,#c53,#bc7,#9c9,#b94,#a64,#a31,#a20,#b20,#d40,#d71,#db3,#dc4,#db5,#e71,#b20,#e40,#d92,#aa6,#6cb,#9d9,#d93,#cb5,#c94,#e60,#e70,#d61,#da3,#ab7,#ac8)"></i><i style="height:2px;background:linear-gradient(90deg,#239,#a54,#27d,#5cd,#24c,#4be,#25d,#944,#b43,#822,#4ac,#239,#16d,#04b,#04d,#03d,#04e,#03c,#02b,#29e,#4bd,#cc6,#a10,#800,#c41,#a94,#3ae,#37c,#5ac,#ab7,#d51,#d51,#e72,#c83,#da3,#8ca,#5ab,#ca5,#d40,#a20,#c53,#cc5,#b95,#d73,#da3,#e71,#d40,#d50,#e91,#d62,#bb5,#7a9,#9c9,#e71,#b30,#b20,#e60,#dc4,#d92,#c63,#c52,#c94,#e71,#e91,#ba5,#9a7,#9b8,#ab7,#dc4)"></i><i style="height:2px;background:linear-gradient(90deg,#29d,#5cd,#a54,#b64,#ba6,#4bd,#734,#b64,#c93,#c62,#6cb,#36d,#3ce,#17e,#07e,#04e,#03d,#06e,#18e,#29e,#4ce,#7ba,#a10,#800,#e71,#6dc,#18d,#16e,#36c,#7ba,#e71,#e61,#d81,#b84,#bb6,#bb5,#d62,#b30,#d30,#d40,#c41,#a42,#942,#d82,#ea2,#d81,#e40,#b20,#b31,#c52,#b73,#d62,#e92,#d71,#e50,#d50,#d92,#bc6,#ab7,#ab7,#bb7,#c94,#db3,#e60,#e61,#d92,#cb5,#ac7,#c94)"></i><i style="height:2px;background:linear-gradient(90deg,#944,#b74,#3ad,#29d,#29e,#a65,#b75,#b84,#36c,#48b,#c63,#9a8,#2ae,#06e,#06e,#06e,#18e,#05e,#04e,#17e,#19e,#8b9,#b10,#800,#e71,#4ac,#2ae,#7a9,#aa6,#9b8,#d82,#d61,#e71,#dc5,#ad8,#8da,#6bb,#cb6,#d40,#a10,#d40,#ea2,#bc6,#cb5,#bc7,#cd6,#b53,#d51,#d50,#e81,#ca4,#d83,#943,#a42,#c41,#d40,#e70,#9c8,#8b9,#ac7,#c93,#cb4,#da3,#e50,#c30,#e61,#d92,#9b8,#7db)"></i><i style="height:2px;background:linear-gradient(90deg,#734,#6cc,#3ad,#26d,#29d,#7cb,#4bd,#4ad,#c53,#c52,#c93,#3ae,#16e,#07e,#18e,#18e,#16e,#05e,#06e,#06e,#4ce,#d62,#900,#800,#cb5,#4cd,#18e,#18e,#6dc,#b65,#a43,#e81,#bd7,#4ac,#69a,#bb6,#d61,#b20,#a10,#d93,#768,#769,#8b9,#db4,#e81,#d40,#d30,#e81,#cb5,#db4,#c62,#c51,#e70,#c30,#c30,#d61,#da3,#d93,#cb5,#c83,#c83,#d30,#943,#942,#d83,#db4,#9d9,#db4,#e70)"></i><i style="height:2px;background:linear-gradient(90deg,#4bd,#28d,#27d,#29d,#b74,#a54,#ac7,#733,#832,#822,#c62,#b53,#29d,#27e,#17f,#18e,#07e,#06e,#05d,#16e,#28e,#dd5,#800,#800,#c93,#6dc,#4ce,#2ae,#45a,#689,#ca5,#c94,#9b8,#ac7,#d93,#da3,#da3,#d51,#a10,#910,#b20,#d51,#dc4,#9b8,#9b7,#ca4,#eb3,#d40,#b10,#e70,#ab7,#9b8,#ac8,#bb6,#c73,#a20,#a10,#c30,#c93,#cc6,#d82,#da3,#e92,#c41,#a20,#a20,#c30,#c73,#ba4)"></i><i style="height:2px;background:linear-gradient(90deg,#239,#7cb,#4ad,#39d,#3ad,#24c,#734,#733,#c62,#c42,#c82,#c63,#6cc,#28c,#14c,#2ae,#2ae,#2ae,#2be,#18e,#28e,#bc6,#800,#800,#c40,#c84,#4cd,#28e,#5ab,#cb6,#e70,#d51,#d62,#d93,#db4,#d71,#d40,#d51,#d50,#e81,#d61,#a52,#e61,#e81,#d40,#c20,#e50,#a53,#b74,#ca4,#e51,#b20,#d40,#e50,#b53,#b52,#d62,#e61,#b30,#c30,#d92,#9a7,#8a9,#ab6,#e81,#e50,#e50,#e61,#da3)"></i><i style="height:2px;background:linear-gradient(90deg,#3ad,#28d,#28d,#944,#a54,#734,#a44,#5cd,#6bc,#8ba,#48c,#745,#19e,#19e,#29e,#19e,#05e,#17d,#18e,#18e,#3ce,#ba5,#800,#800,#e60,#59b,#17e,#5cd,#9b8,#ba5,#ea2,#e81,#c84,#cc5,#9d9,#cc5,#e92,#d60,#c20,#b20,#c52,#db4,#dc5,#bd7,#bc6,#e50,#a10,#c30,#c83,#ab7,#bc7,#cb6,#ea2,#d50,#c20,#e50,#da3,#bb6,#db4,#ad8,#d82,#e70,#e82,#d93,#ca4,#bb6,#6cb,#7cb,#ac8)"></i><i style="height:2px;background:linear-gradient(90deg,#5cd,#4cd,#8ca,#24c,#4ce,#3be,#a54,#b94,#a33,#822,#c73,#b84,#767,#18e,#05e,#04d,#05e,#17d,#29e,#4ad,#4de,#7db,#900,#800,#c41,#5dd,#37d,#27e,#3be,#ab7,#e61,#c51,#d83,#ac8,#8ca,#cb5,#e62,#b40,#a20,#c30,#db4,#6bb,#9c9,#bb6,#cb4,#d61,#a20,#b20,#c73,#ca5,#7da,#8b9,#cb5,#d72,#b30,#e60,#ea3,#bd8,#bc6,#d93,#ca4,#d71,#b52,#c30,#e81,#dc5,#cb5,#b85,#855)"></i><i style="height:2px;background:linear-gradient(90deg,#3ad,#7cb,#b64,#28d,#6cc,#635,#b74,#28d,#35b,#c72,#49c,#4ad,#28e,#2be,#29e,#18e,#06e,#04e,#15d,#04c,#16e,#cb6,#900,#800,#e81,#5cd,#27e,#15c,#18e,#6dc,#e92,#d40,#d61,#bb6,#da3,#c83,#bb6,#9c8,#ca5,#e50,#a10,#b30,#d72,#bb6,#cd6,#cb5,#bb7,#d93,#d30,#d40,#ba5,#8b9,#bc7,#d93,#c62,#d51,#e50,#d30,#c62,#c52,#c83,#bb6,#ba5,#e82,#c31,#b30,#c93,#7bb,#5ab)"></i><i style="height:2px;background:linear-gradient(90deg,#5cd,#7cb,#3ad,#ba6,#635,#a85,#28e,#b94,#b43,#c52,#c53,#26d,#2ae,#16c,#03b,#02a,#02b,#04d,#06e,#04e,#4de,#a65,#900,#b20,#8a8,#39e,#14b,#15d,#3ad,#ac7,#e61,#d41,#d83,#8ca,#4ac,#7db,#ac8,#ac8,#db4,#e40,#b20,#e92,#8c9,#8da,#ac7,#c94,#c51,#a20,#a41,#b31,#c94,#9c9,#6bc,#8b9,#d92,#c30,#e81,#cb5,#da3,#d83,#cc5,#ac8,#cc6,#b52,#b32,#da3,#cb5,#bc7,#db4)"></i><i style="height:2px;background:linear-gradient(90deg,#29e,#29e,#29e,#15d,#18e,#29e,#17e,#5cd,#5bc,#38c,#4ac,#27e,#05e,#02a,#02a,#02b,#03c,#02c,#03b,#02a,#17e,#9c9,#c20,#910,#ec3,#4bd,#19e,#14b,#36b,#8ca,#da3,#ea2,#ad8,#6bb,#8da,#bd7,#bc6,#e92,#e71,#e60,#e82,#ca4,#cc5,#da3,#ea2,#e71,#e50,#c94,#7bb,#5bc,#5cc,#8ca,#b94,#b43,#d50,#e71,#ba5,#8da,#9da,#b95,#a54,#933,#d61,#9b8,#5bb,#6cc,#5cc,#bc7,#d72)"></i><i style="height:2px;background:linear-gradient(90deg,#5cd,#6cc,#3ae,#3ae,#17e,#14c,#14c,#23a,#37c,#6bc,#38c,#5cd,#28f,#06e,#06e,#06e,#04d,#05e,#03d,#02a,#16b,#9c8,#900,#800,#c73,#6dc,#17d,#19e,#7db,#b94,#ea3,#ca5,#9b9,#6bc,#5dd,#9d9,#d83,#b52,#c41,#d40,#b20,#c51,#bb6,#7ba,#8ba,#bb7,#ea2,#e60,#d40,#c73,#bb5,#bc7,#9e9,#6aa,#9b7,#d71,#e91,#e91,#c94,#9d9,#4bc,#6bb,#b85,#a42,#b41,#943,#d51,#ab7,#8b9)"></i><i style="height:2px;background:linear-gradient(90deg,#29d,#3ad,#7cb,#24c,#6cc,#945,#28d,#27d,#ca4,#932,#933,#a44,#3be,#16e,#15d,#04b,#24a,#03b,#17e,#29e,#8ca,#c62,#900,#800,#ea2,#28d,#16d,#2ae,#5dd,#ab7,#e71,#db4,#7a9,#6aa,#8ca,#8b9,#e72,#b20,#c20,#d93,#9b8,#ac7,#cc6,#cb5,#bb6,#e71,#d40,#d82,#bc6,#bb6,#9b8,#8ca,#db5,#e71,#d50,#e60,#cb5,#6cb,#46b,#699,#bb6,#ea2,#e60,#e50,#d92,#cb6,#9d9,#9d9,#da3)"></i><i style="height:2px;background:linear-gradient(90deg,#39d,#26d,#38d,#28d,#b84,#944,#39d,#4ac,#832,#c52,#b42,#933,#b75,#2bf,#16d,#17e,#05e,#03d,#06e,#19e,#3be,#d82,#800,#800,#e92,#37c,#17e,#3be,#6cc,#ba5,#d40,#b30,#d61,#7cb,#699,#699,#9b8,#e71,#b20,#a10,#c30,#c83,#bc6,#8ca,#cc5,#d51,#a20,#a10,#c20,#e71,#cb5,#bc7,#cb5,#e61,#c30,#a10,#b30,#d41,#eb3,#da3,#b52,#c41,#e60,#b20,#b20,#e81,#8c9,#9c9,#c82)"></i><i style="height:2px;background:linear-gradient(90deg,#3ad,#39c,#c73,#733,#a54,#834,#27d,#4ac,#a32,#d61,#922,#4ac,#28e,#28e,#18e,#29e,#16d,#15d,#19e,#3ce,#6dc,#d81,#800,#800,#b20,#8ca,#4ce,#6cc,#ac7,#c41,#d40,#d50,#c83,#9c8,#8b9,#d92,#e81,#d50,#900,#910,#e70,#ea2,#db3,#cb5,#ea2,#d30,#900,#a10,#d50,#e71,#bb6,#8ca,#d61,#b30,#910,#d30,#e91,#d61,#c52,#e82,#d92,#d60,#b20,#b30,#d40,#d92,#e82,#c62,#d71)"></i><i style="height:2px;background:linear-gradient(90deg,#29d,#3ad,#27d,#26d,#5cc,#635,#25d,#26d,#833,#832,#833,#a44,#b85,#17f,#06e,#04d,#06e,#18e,#18e,#06e,#19e,#c82,#900,#800,#d51,#7cb,#4de,#19e,#29e,#cc6,#c41,#b31,#cc5,#5bc,#7db,#c93,#c62,#d41,#c30,#b20,#d41,#db3,#dc5,#9b8,#ab7,#ca4,#d60,#d40,#e81,#bb6,#6cc,#47c,#9c8,#953,#b41,#e60,#e91,#ab6,#5bc,#5bc,#9c8,#e71,#d40,#b30,#c51,#da4,#ac8,#bc6,#dc4)"></i><i style="height:2px;background:linear-gradient(90deg,#27d,#28d,#834,#834,#ba5,#3ad,#4bd,#24c,#6bc,#c42,#cb5,#37c,#27d,#17e,#06e,#07e,#17d,#07e,#05e,#16e,#16e,#9da,#900,#800,#b51,#ab6,#2ae,#4cd,#856,#a74,#d50,#d93,#9b8,#9b8,#ca3,#d62,#e61,#d30,#b10,#e50,#ea3,#c72,#d82,#ba5,#ca5,#e60,#c20,#d40,#d72,#cc5,#bb7,#da3,#e50,#b20,#c30,#933,#b42,#c82,#c62,#a53,#d40,#d40,#c73,#da4,#9c8,#ad9,#cc5,#e61,#c30)"></i><i style="height:2px;background:linear-gradient(90deg,#3ad,#4ad,#4bd,#39d,#24c,#5cd,#29d,#39c,#7cb,#a32,#a32,#834,#5bc,#19e,#29d,#5ac,#7a9,#4ac,#18e,#04d,#27e,#bc6,#800,#800,#e60,#6cb,#2ae,#16e,#26d,#4ad,#db4,#d50,#e60,#d61,#d93,#ab7,#ab7,#e71,#c30,#a10,#a10,#b41,#d72,#d83,#b64,#ca4,#d50,#910,#b30,#d51,#db4,#bd7,#e72,#b41,#d30,#e60,#ea2,#cb5,#bb6,#cd6,#d82,#933,#b20,#e50,#da4,#8a9,#ac7,#d82,#da3)"></i><i style="height:2px;background:linear-gradient(90deg,#5cd,#27d,#27d,#28d,#28d,#25c,#6cc,#4ac,#48b,#9b8,#48b,#6cc,#27d,#27e,#2ae,#17e,#16e,#03b,#04e,#18e,#3ae,#eb3,#800,#800,#e70,#7bb,#4ac,#3be,#4ce,#c83,#c31,#b30,#b51,#bb6,#ab7,#db3,#d61,#d40,#c20,#c50,#e81,#c63,#854,#854,#e61,#d30,#b20,#d30,#c41,#c52,#c52,#b74,#ca4,#d60,#c20,#d30,#ba5,#7a9,#bc7,#ab6,#da3,#d30,#a10,#b40,#e61,#da3,#bb6,#ca4,#c63)"></i><i style="height:2px;background:linear-gradient(90deg,#29d,#ba5,#a54,#5cc,#4ce,#25d,#3ad,#b54,#b53,#49b,#37c,#7ca,#b75,#568,#18e,#06e,#04e,#06d,#17d,#06e,#2ae,#bb7,#910,#800,#e71,#3ac,#27e,#28e,#4ac,#8ca,#da3,#c93,#8a9,#7ba,#aa6,#a95,#9c8,#ba6,#e70,#b20,#d40,#dc4,#dc5,#bb6,#ba5,#e81,#d50,#c30,#d40,#c83,#b95,#ba6,#cc6,#cb5,#e71,#d30,#e50,#e92,#dc5,#ac7,#9c8,#ab8,#db4,#d60,#e60,#d51,#b74,#d93,#da4)"></i><i style="height:2px;background:linear-gradient(90deg,#28d,#4cd,#3ad,#28d,#27e,#7cb,#27e,#834,#cb5,#b42,#c53,#7ca,#4bd,#17e,#06e,#03c,#03d,#02c,#02b,#04e,#18d,#5bb,#c30,#900,#d93,#4be,#18e,#18e,#29e,#5cd,#db4,#e60,#e71,#da3,#bb5,#bc7,#8b9,#ab7,#e70,#b20,#e50,#ab7,#9d9,#ba5,#c83,#bc7,#ab7,#d71,#d60,#e81,#da3,#bb6,#ab7,#db4,#d61,#b30,#b30,#b53,#bc6,#5ac,#5bc,#7cb,#ab7,#da3,#d60,#ca5,#799,#69a,#7ba)"></i><i style="height:2px;background:linear-gradient(90deg,#26d,#28d,#28d,#39d,#28d,#4cd,#27d,#26d,#35c,#bb6,#832,#c83,#4bd,#29e,#18e,#18e,#2ae,#5ab,#5ab,#29d,#29e,#ab7,#800,#800,#d50,#bd7,#5ac,#37c,#4bd,#ba6,#d71,#db4,#bb6,#b95,#a85,#ba5,#b64,#b31,#a10,#b10,#d40,#d51,#db3,#bb6,#bb5,#ca4,#d40,#910,#d30,#ca3,#ab7,#b85,#865,#c52,#e61,#c30,#a20,#b31,#e92,#ab7,#ad8,#bd7,#eb3,#d50,#c30,#b30,#a41,#c82,#bc7)"></i><i style="height:2px;background:linear-gradient(90deg,#944,#27d,#29d,#26d,#28e,#735,#bb6,#734,#c63,#c42,#c63,#b74,#a55,#18f,#16e,#19e,#17e,#07e,#18e,#29e,#3ad,#c82,#900,#800,#c63,#3bd,#1ae,#3be,#4ce,#9d9,#c73,#e71,#e81,#d72,#db4,#9c9,#ac8,#db4,#c73,#d30,#c20,#e61,#d72,#ba5,#b85,#964,#c63,#c30,#a10,#d41,#c84,#a75,#cb5,#9c9,#9a8,#e92,#d30,#e61,#bc6,#ad8,#9da,#bc7,#d62,#a31,#a20,#d40,#e71,#d82,#d83)"></i><i style="height:2px;background:linear-gradient(90deg,#a54,#734,#844,#28d,#29d,#25d,#4cd,#b74,#c63,#c62,#c63,#b64,#26e,#4cd,#17e,#06e,#17e,#4bd,#39e,#04e,#36b,#9c8,#800,#910,#a31,#997,#5dd,#6db,#bc7,#d72,#c41,#e61,#bc7,#bd7,#ba5,#d92,#d61,#b31,#910,#e60,#da3,#ba5,#da3,#cc5,#e91,#d40,#d30,#d93,#cb6,#ad8,#7db,#6cb,#db4,#e80,#e60,#c93,#cb5,#b95,#c93,#d82,#a31,#a20,#c41,#e91,#da2,#a75,#975,#b64,#cb4)"></i><i style="height:2px;background:linear-gradient(90deg,#4ce,#26d,#28d,#29e,#29e,#3be,#27e,#29d,#33a,#38c,#8c9,#4bd,#4ce,#16c,#02a,#02c,#18e,#05e,#03d,#18e,#4ad,#b95,#900,#800,#cb5,#29d,#2ae,#3ce,#7dc,#da3,#e91,#bb7,#7ba,#7dc,#8b9,#dc4,#b41,#a20,#d30,#eb3,#9c8,#7aa,#9c9,#bd7,#cc6,#ea2,#c20,#d51,#ab7,#9c9,#8ba,#8db,#ac8,#e71,#d40,#e51,#d52,#b95,#bc6,#a95,#b84,#e51,#d40,#c31,#e82,#ac8,#7ba,#6bc,#9c9)"></i><i style="height:2px;background:linear-gradient(90deg,#4bd,#4bd,#24b,#bc7,#28d,#25d,#24c,#a44,#c53,#a32,#8ca,#27d,#29e,#18e,#03d,#15c,#04c,#03b,#03d,#29e,#7bb,#bb5,#900,#800,#c31,#5dd,#28e,#17e,#3ae,#bc6,#d51,#d41,#dd5,#6aa,#6aa,#bb5,#a54,#a53,#a20,#a10,#d30,#d92,#cc6,#db3,#d73,#e92,#e82,#d40,#a10,#a31,#b52,#db4,#8ca,#cc5,#d71,#ca4,#d92,#c94,#c84,#d82,#b95,#b85,#d72,#b63,#d40,#e70,#d92,#8b9,#9c9)"></i><i style="height:2px;background:linear-gradient(90deg,#25d,#27d,#3bd,#4ce,#29e,#18e,#3ae,#3ad,#37c,#49c,#6cc,#4bd,#17e,#06e,#05e,#04d,#02c,#04e,#38c,#699,#7ba,#bb6,#900,#800,#d41,#7db,#4ce,#4ce,#5bc,#6cb,#dc5,#ca4,#dc4,#bc6,#cc6,#8c9,#db5,#b31,#b20,#a10,#e81,#db3,#bb5,#bd8,#cd7,#da3,#e70,#d30,#e60,#ca4,#9da,#8ba,#67a,#59b,#c94,#e60,#e92,#d81,#d82,#ac8,#8ca,#b95,#a41,#e61,#ea2,#e81,#d92,#ac7,#ab7)"></i><i style="height:2px;background:linear-gradient(90deg,#7cb,#23b,#3ad,#4bd,#25d,#734,#b74,#38d,#33a,#822,#932,#4ad,#4ce,#18e,#17e,#18e,#05e,#03a,#04e,#29e,#8ca,#b52,#800,#800,#e61,#9c8,#4ce,#49c,#47b,#9b8,#e71,#e80,#cb5,#8b9,#5bc,#9c8,#e91,#d30,#b20,#d40,#d51,#e82,#ac8,#7a9,#ab7,#d82,#d50,#e50,#e61,#c72,#d82,#b84,#d51,#d30,#b20,#a20,#c41,#ac7,#8c9,#da3,#c41,#c30,#d40,#d51,#e82,#ac8,#9b9,#b84,#a53)"></i><i style="height:2px;background:linear-gradient(90deg,#4bd,#26d,#23a,#39d,#3ad,#27d,#39d,#4ad,#38c,#5ab,#c93,#38c,#5cd,#15c,#16e,#16d,#19e,#05e,#05e,#17d,#3ce,#ba4,#800,#800,#b53,#9a6,#5bd,#19e,#26b,#689,#e61,#c31,#dc4,#8ca,#9b8,#d73,#b42,#c30,#a10,#a10,#b30,#e82,#da3,#dd5,#ab7,#e92,#b20,#d30,#e70,#eb3,#8ca,#7a9,#bb7,#d72,#b20,#e50,#da4,#7ca,#6bb,#8da,#d92,#b63,#a33,#d40,#e81,#aa7,#7a9,#6dc,#9d9)"></i><i style="height:2px;background:linear-gradient(90deg,#27d,#a54,#27d,#26d,#7cb,#239,#23b,#24b,#35c,#45b,#8c9,#6cc,#b64,#668,#16c,#04b,#04b,#03b,#03c,#06e,#4de,#d72,#800,#800,#e71,#3bd,#26c,#15d,#7cb,#ca4,#ca4,#cb4,#b64,#a95,#9d9,#ba5,#e61,#c30,#c30,#b20,#b51,#cd5,#bc6,#d82,#c84,#c63,#c30,#d93,#9c8,#b84,#b85,#9da,#bd7,#c41,#b20,#a20,#e61,#ab7,#5bc,#6cc,#9c9,#e81,#b30,#a20,#a31,#d93,#bc7,#7ca,#9d9)"></i><i style="height:2px;background:linear-gradient(90deg,#b74,#734,#a54,#b64,#8ca,#29d,#26d,#24b,#c93,#a32,#c52,#5bc,#4ce,#16e,#07e,#06d,#05d,#16e,#03b,#15b,#16d,#ab6,#800,#800,#d82,#38d,#16e,#3be,#7ca,#ab7,#e81,#c30,#e81,#bb6,#ab7,#9c9,#bc6,#ca5,#e50,#b10,#e60,#dc4,#9c8,#ac8,#8da,#7ba,#e70,#a10,#a10,#e61,#bc7,#dc4,#d93,#b84,#c63,#e60,#e82,#d92,#d82,#b85,#854,#a53,#da3,#e60,#a20,#d51,#cb4,#9c9,#ba5)"></i><i style="height:2px;background:linear-gradient(90deg,#955,#b85,#25d,#27e,#6cc,#2ae,#17e,#28d,#a43,#c73,#c73,#8ca,#2af,#05e,#02c,#04e,#05e,#05d,#18e,#28d,#4ad,#bd7,#a10,#a10,#ca5,#38c,#16e,#29e,#7cb,#bb5,#db4,#c93,#eb3,#ac8,#9c9,#ac8,#bb6,#db4,#da3,#d60,#e81,#cb5,#bd7,#b96,#953,#b52,#d51,#d30,#e70,#dc4,#c63,#953,#c83,#dd5,#eb3,#d51,#b30,#cc5,#7dc,#ad8,#9b9,#8db,#bc6,#c63,#c94,#bb6,#db5,#9c9,#7ba)"></i><i style="height:2px;background:linear-gradient(90deg,#a54,#a44,#a54,#b84,#4bd,#25d,#29d,#934,#933,#c42,#c62,#944,#17e,#3be,#18e,#06e,#03c,#03b,#04d,#2ae,#3ce,#ad8,#900,#800,#c63,#5dd,#17e,#28e,#3be,#cb5,#b41,#b30,#dc4,#689,#6aa,#8c9,#ac8,#ca4,#c30,#910,#b20,#e81,#db4,#cc6,#9b8,#db4,#b31,#a10,#a10,#d40,#d93,#ab7,#7b9,#bc7,#dc4,#e92,#d51,#d40,#ba5,#bc6,#8ca,#7ca,#bc6,#e81,#e61,#c30,#e50,#e81,#c93)"></i><i style="height:2px;background:linear-gradient(90deg,#ac8,#27d,#3ad,#4bd,#3ad,#29e,#b64,#b54,#a43,#822,#c63,#c94,#29d,#19e,#18e,#03c,#03b,#03b,#04c,#04e,#29e,#8b9,#900,#800,#d61,#6cc,#2be,#4ce,#bb6,#d92,#e61,#c31,#a42,#965,#a96,#ad8,#ac8,#d41,#a20,#a10,#e50,#d72,#bb5,#9c8,#db4,#d61,#b30,#b20,#e60,#bc6,#9c9,#c93,#ab7,#9b7,#e61,#a20,#b30,#c41,#ba5,#ac7,#8ca,#8da,#bb5,#e50,#d30,#d72,#d72,#ba5,#ac7)"></i><i style="height:2px;background:linear-gradient(90deg,#b84,#734,#a54,#944,#b74,#3ad,#29d,#25d,#37c,#cb5,#c52,#26c,#26e,#17e,#17d,#06e,#06e,#06e,#18e,#18e,#29e,#9c8,#800,#800,#e71,#8da,#5de,#6dc,#7ca,#bb6,#d41,#d51,#e82,#da3,#c83,#db4,#ab6,#c94,#c20,#a20,#b41,#e92,#d93,#dc4,#ea2,#e51,#d30,#d40,#e60,#d52,#d73,#da3,#c73,#b41,#e50,#d40,#eb3,#9b8,#5ab,#7db,#ad7,#e82,#d50,#d40,#e61,#c94,#bc6,#ac8,#9c9)"></i><i style="height:2px;background:linear-gradient(90deg,#a75,#4ce,#3be,#29e,#18e,#14d,#4ce,#239,#4bc,#5ac,#38c,#3ad,#3be,#29e,#18e,#18e,#03d,#02b,#03c,#03d,#14d,#ab6,#a10,#800,#eb3,#28e,#15d,#16e,#19e,#9d9,#d72,#e51,#cc6,#9c9,#8da,#8da,#6dc,#7bb,#c83,#b41,#a31,#d72,#cd6,#8ca,#7db,#ab7,#d61,#c30,#b41,#c62,#7ba,#5cd,#8ca,#ab7,#e71,#e71,#da4,#bc7,#9c9,#7bb,#ac8,#b95,#a63,#d51,#e92,#9d9,#5cc,#4bd,#59a)"></i><i style="height:2px;background:linear-gradient(90deg,#26d,#6cc,#39d,#39d,#4bd,#3ad,#834,#b53,#c63,#d82,#ca3,#5cc,#4bd,#16e,#16d,#17e,#2ae,#3be,#18e,#17e,#49c,#dc5,#800,#800,#b41,#9da,#26c,#17e,#5dd,#9c9,#d82,#e92,#d71,#c73,#6cc,#49c,#ad9,#e91,#d30,#a10,#d40,#e91,#ea2,#cc5,#cd6,#bb6,#ba5,#e61,#d30,#e82,#ca4,#c82,#a53,#a75,#b84,#e91,#d60,#e50,#e50,#d81,#bc7,#8ca,#9b8,#e82,#b31,#c20,#c30,#e92,#ab7)"></i><i style="height:2px;background:linear-gradient(90deg,#23b,#25c,#4ad,#834,#a54,#6cc,#b74,#39c,#c62,#922,#b32,#c63,#3bd,#18f,#18e,#2be,#3be,#17e,#15e,#19e,#4be,#bc6,#800,#800,#e50,#9e9,#6bb,#4cd,#3bd,#9c9,#d82,#e50,#d71,#da3,#ab7,#9b8,#ea2,#e61,#910,#910,#b20,#d61,#d82,#db4,#d72,#b41,#b30,#910,#d30,#e61,#ba5,#ac8,#ac8,#d92,#e70,#b20,#a10,#b30,#ab7,#9b9,#8b9,#bb6,#d61,#d40,#e60,#c94,#aa6,#b94,#bd7)"></i><i style="height:2px;background:linear-gradient(90deg,#29d,#29d,#24b,#23b,#b74,#734,#a54,#734,#933,#922,#49b,#49c,#25d,#4bd,#17e,#28e,#49d,#18e,#18e,#18e,#3bd,#db4,#800,#800,#d81,#8d9,#5cd,#2be,#3ce,#bd6,#c52,#b30,#d40,#e92,#ba5,#bc6,#ac7,#cc6,#ea2,#e60,#c30,#e60,#eb3,#bb7,#bc7,#bc6,#e82,#b30,#b10,#d30,#d71,#cb6,#b95,#b85,#b85,#d92,#d40,#a20,#b20,#d93,#ac8,#7ca,#7ca,#cc6,#d81,#d30,#d51,#e61,#d62)"></i><i style="height:2px;background:linear-gradient(90deg,#27d,#4ad,#26d,#a54,#39d,#6cc,#28d,#733,#a32,#d52,#a32,#5bc,#4ad,#2af,#14b,#15b,#14d,#3be,#18e,#15e,#26e,#cb5,#800,#800,#b30,#a96,#3be,#2ae,#8ca,#da3,#d82,#e50,#e71,#b84,#da3,#cb5,#da3,#c40,#910,#900,#c30,#e92,#d92,#cb4,#d82,#e71,#b20,#910,#a20,#b41,#d72,#bd7,#ab6,#d51,#c30,#d30,#b20,#d51,#bc7,#7db,#9b8,#eb3,#d40,#d40,#e60,#e81,#bb6,#9c9,#cc6)"></i><i style="height:2px;background:linear-gradient(90deg,#28e,#29e,#29d,#4ce,#955,#18e,#17e,#27d,#733,#b43,#38c,#27d,#14d,#03c,#04e,#02b,#02a,#02a,#05e,#06e,#19e,#ab7,#a10,#800,#e61,#6cc,#19e,#19e,#6cc,#cd6,#b63,#b31,#c62,#c83,#bb6,#8ca,#8c9,#db4,#d50,#e40,#e81,#cb6,#8b9,#4ad,#4ac,#ac8,#e60,#d40,#e51,#db4,#ab7,#ac8,#cb5,#da3,#ea3,#e81,#e71,#b64,#bb7,#7ba,#8ca,#ab7,#d92,#e70,#d61,#b73,#ca4,#ad8,#8db)"></i><i style="height:2px;background:linear-gradient(90deg,#5cc,#39d,#b94,#834,#25d,#28d,#5cd,#4ac,#49b,#48b,#5ab,#5bc,#b94,#799,#5ac,#29e,#07e,#18e,#3be,#4bd,#5ac,#d93,#800,#800,#e92,#4cd,#3be,#3ae,#26d,#68a,#ea3,#e50,#e91,#ca4,#bc6,#bc7,#dc5,#e71,#a10,#900,#a10,#db4,#9b8,#da3,#da3,#cb6,#e60,#a10,#c30,#e61,#bd7,#7cb,#9d9,#dc4,#e81,#c30,#d40,#a96,#9b8,#bc7,#cc5,#cb5,#d71,#e40,#d30,#e50,#da3,#cc6,#8ca)"></i><i style="height:2px;background:linear-gradient(90deg,#635,#834,#27d,#5cd,#4ce,#18e,#5cd,#39d,#c63,#933,#c83,#a54,#27e,#05d,#05e,#05e,#03d,#03c,#03c,#02b,#15b,#589,#b20,#800,#d61,#7db,#2ae,#16e,#3ae,#ba5,#d61,#da3,#ab8,#7db,#7db,#8ca,#bb6,#ea2,#d40,#c30,#e61,#d82,#d93,#7ba,#6cc,#ab6,#e70,#d40,#b31,#d62,#ab7,#ad8,#c83,#a64,#e81,#e80,#d60,#ea2,#9b8,#7ba,#ae8,#bc7,#e92,#e61,#d81,#db3,#cc5,#9c9,#bd7)"></i><i style="height:2px;background:linear-gradient(90deg,#944,#944,#b64,#944,#7cb,#4cd,#3ad,#28d,#38c,#b42,#b64,#7b9,#4be,#06e,#07e,#18e,#06e,#05e,#14b,#04b,#36c,#ab7,#800,#800,#c83,#5cd,#29e,#19e,#4ce,#9b8,#d71,#d40,#b41,#d83,#ca5,#c93,#c82,#e51,#c30,#a10,#c30,#d62,#cb4,#9da,#ad7,#c41,#a20,#b10,#c30,#e91,#ab7,#cc6,#d83,#e71,#e50,#e61,#e70,#ca5,#ab7,#bb6,#ba5,#b74,#c53,#d50,#e91,#cb5,#ac7,#b95,#c83)"></i><i style="height:2px;background:linear-gradient(90deg,#ba5,#b84,#28d,#6cc,#734,#b74,#25c,#33a,#33a,#922,#c52,#b53,#28d,#3cf,#16e,#15e,#04c,#14c,#07e,#28d,#7cb,#ea3,#800,#800,#943,#976,#7ba,#29e,#39e,#bb6,#b41,#d30,#d92,#ad8,#6bc,#7aa,#bb6,#ec3,#e60,#a10,#c30,#c93,#799,#6bb,#ac7,#da2,#d71,#c20,#a10,#c30,#e71,#dc4,#8b9,#7a9,#bb6,#d92,#a10,#a10,#a30,#c62,#da3,#ca4,#d82,#e71,#b43,#b20,#e60,#ca3,#844)"></i><i style="height:2px;background:linear-gradient(90deg,#3ad,#39d,#5cd,#27d,#5cd,#a44,#b74,#38c,#c73,#932,#49b,#33a,#867,#15d,#04d,#16e,#18e,#18e,#17e,#14d,#29e,#cb5,#800,#800,#d40,#4bd,#15c,#27d,#6cc,#d92,#e80,#d60,#ba5,#ab7,#cc6,#bb7,#ca4,#d40,#a10,#910,#b30,#d62,#dc5,#ac8,#aa6,#c30,#910,#e40,#db4,#dc4,#bd7,#db4,#ea2,#d50,#a10,#a10,#d41,#b74,#ac7,#49b,#59b,#ea3,#d30,#b30,#e81,#9b7,#7bb,#6cc,#ad8)"></i><i style="height:2px;background:linear-gradient(90deg,#6cc,#b64,#4cd,#2ae,#15e,#29e,#25d,#29d,#39c,#35c,#38c,#39d,#29e,#04d,#02b,#02b,#03c,#04e,#02c,#03c,#4ce,#d93,#900,#800,#eb3,#4ce,#17e,#15c,#29e,#9c9,#c83,#c73,#bb7,#5cc,#6dc,#9c9,#ac7,#ca4,#d40,#a20,#b30,#cb5,#9b8,#cb5,#ba5,#c84,#c31,#b41,#a20,#d72,#bb5,#8ca,#ac8,#ac8,#cb5,#a20,#b30,#e81,#cb5,#ab7,#9c8,#c83,#c42,#d41,#c62,#ca4,#ca5,#b63,#c84)"></i><i style="height:2px;background:linear-gradient(90deg,#4cd,#b64,#ba5,#b84,#b74,#a54,#29d,#27d,#34b,#c62,#cb5,#39c,#5cd,#18f,#07e,#18e,#06e,#02a,#04b,#17e,#3ce,#cb4,#800,#800,#d41,#5cd,#29e,#3ae,#17e,#4cd,#cc5,#ea2,#d93,#ca5,#bb6,#ab7,#ab7,#cc6,#ea2,#b10,#a10,#e70,#bb6,#db4,#ab7,#9d9,#9c8,#e60,#d30,#d50,#ba4,#ad8,#8da,#9c9,#e71,#a20,#a10,#c41,#bb6,#8b9,#8da,#8da,#bb7,#e71,#e50,#e91,#db4,#ab7,#ab8)"></i><i style="height:2px;background:linear-gradient(90deg,#5cd,#29d,#27d,#28e,#945,#955,#27e,#28d,#c73,#b43,#b53,#4bd,#5cd,#19e,#04d,#03c,#03c,#06e,#06e,#03d,#1ae,#b85,#900,#800,#c41,#7ca,#2ae,#3be,#6cc,#ac8,#ea3,#e61,#d72,#d93,#8ca,#7dc,#bc6,#d71,#d40,#a20,#a20,#d82,#8ca,#4ad,#8da,#d72,#d51,#d40,#d40,#d51,#ac8,#5cc,#8da,#ac8,#cb5,#e81,#e50,#d81,#7b9,#4ac,#ad8,#d73,#d82,#d51,#d30,#c41,#c62,#cc6,#ac8)"></i><i style="height:2px;background:linear-gradient(90deg,#29d,#27d,#24c,#26d,#28e,#28e,#29d,#25d,#5bc,#48b,#37c,#5cd,#2ae,#18e,#17d,#03d,#03d,#18e,#18e,#04e,#2ae,#bb5,#b20,#800,#e81,#59b,#18e,#2ae,#ac7,#953,#b52,#e60,#ba5,#ac8,#8da,#5bc,#bd8,#d92,#d60,#c30,#d71,#db4,#8b9,#49c,#6cc,#d92,#e81,#c20,#b41,#d83,#bc6,#8ca,#59a,#8b9,#ac8,#e50,#a20,#c53,#8c9,#68a,#48c,#6aa,#db3,#b63,#e81,#e81,#da3,#bb6,#7ba)"></i><i style="height:2px;background:linear-gradient(90deg,#29d,#29d,#28d,#bc7,#734,#b95,#27d,#27d,#37c,#34a,#5bc,#833,#b75,#28e,#03d,#05e,#05e,#14d,#04d,#16e,#2ae,#db4,#900,#800,#d51,#7db,#4bd,#4ce,#8b9,#c83,#d51,#e40,#ea2,#9b8,#6aa,#669,#569,#db3,#c30,#910,#c30,#e81,#bb6,#9d9,#dc4,#e82,#e51,#d40,#b20,#c41,#d92,#da3,#bc7,#ab7,#ea2,#e71,#e60,#d62,#a42,#ba5,#6dc,#5bc,#ab7,#d41,#c40,#e50,#d61,#d83,#cb5)"></i><i style="height:2px;background:linear-gradient(90deg,#26d,#39d,#39d,#27d,#5cd,#29d,#5cd,#27d,#b53,#da4,#c62,#5bc,#5ac,#18e,#06e,#17e,#16e,#18e,#19e,#17e,#5de,#b94,#800,#800,#c63,#5dd,#2ae,#19e,#4ce,#ad8,#d71,#e60,#ab8,#49b,#47c,#7cb,#c83,#e81,#d40,#910,#910,#e61,#cc6,#8ca,#9d9,#ca3,#d51,#b20,#b20,#e50,#c84,#cd5,#8da,#cb5,#eb3,#ea2,#c30,#a20,#d51,#bc7,#8ba,#8da,#ac7,#9b8,#db4,#d82,#ea2,#e92,#d83)"></i><i style="height:2px;background:linear-gradient(90deg,#3ad,#39d,#25d,#3ad,#26d,#735,#a54,#b74,#c63,#5ab,#6cb,#a65,#46b,#05e,#03b,#02b,#06e,#06e,#03d,#04c,#29e,#bb6,#910,#800,#bb5,#26c,#29e,#8a9,#897,#6cc,#cb5,#e70,#cb5,#9b8,#c94,#bc7,#6a9,#8a8,#e60,#a20,#d30,#da4,#5ac,#49c,#47c,#7bb,#e70,#c20,#e50,#ea3,#d93,#c73,#c83,#ba5,#e81,#c30,#a20,#e51,#d82,#b85,#a95,#9d9,#cc6,#a30,#c40,#e71,#eb3,#da3,#d93)"></i><i style="height:2px;background:linear-gradient(90deg,#28d,#25d,#3ad,#26d,#3ad,#29d,#39d,#833,#38c,#44a,#c62,#845,#16c,#14d,#15c,#05e,#19e,#18e,#06e,#18e,#2ae,#ab7,#800,#800,#b41,#8b8,#2ae,#2be,#6cc,#d93,#b31,#c30,#ba5,#6bb,#6cc,#bc6,#b85,#e61,#a10,#910,#b20,#e91,#ac7,#5bc,#48b,#798,#c93,#c30,#d40,#e92,#9c9,#6cc,#9b8,#ba5,#eb3,#e70,#d40,#d40,#ea2,#699,#7aa,#ad9,#d93,#b31,#a10,#a20,#da3,#bb5,#cc5)"></i><i style="height:2px;background:linear-gradient(90deg,#5cd,#4bd,#26d,#4be,#8ca,#635,#945,#39d,#c63,#c52,#35c,#28d,#4ce,#28d,#05d,#03d,#03b,#05e,#29e,#29e,#3ce,#ac8,#900,#800,#ea2,#6cc,#6cc,#5cd,#3be,#9b8,#d62,#c30,#d81,#8b9,#6aa,#7cb,#9e9,#8da,#e61,#b20,#a20,#c30,#e72,#cc5,#ad8,#bb6,#bb6,#e92,#c40,#b20,#d50,#b74,#bb6,#ad8,#9c9,#8da,#da3,#c62,#d82,#c94,#bb5,#7ba,#9ea,#aa6,#b95,#e92,#d51,#e81,#ba5)"></i><i style="height:2px;background:linear-gradient(90deg,#4ad,#b54,#a44,#ba5,#28d,#24c,#29d,#943,#833,#a32,#48b,#833,#778,#27d,#05e,#04d,#03a,#04b,#04d,#3ae,#8ca,#cb4,#910,#800,#d40,#9d9,#2be,#16e,#4bd,#a95,#e81,#e60,#d81,#bb6,#9b8,#bb6,#cb5,#e91,#b20,#910,#a10,#d61,#8da,#6cc,#db4,#d82,#db3,#c40,#a10,#b30,#ea3,#699,#8b9,#cb5,#eb3,#e60,#b20,#b30,#c51,#bc7,#8da,#9b8,#cb5,#b53,#b20,#a20,#d51,#dc4,#9b8)"></i><i style="height:2px;background:linear-gradient(90deg,#25d,#834,#944,#a55,#a85,#4ce,#4ce,#734,#38c,#b43,#34b,#28d,#29e,#3be,#06e,#05e,#05e,#04e,#04d,#03d,#15e,#bc7,#900,#900,#b31,#ac8,#18e,#18e,#8ca,#a96,#a43,#b52,#b74,#bb6,#7cb,#3ad,#48d,#799,#da4,#d50,#d60,#e91,#ab7,#5bc,#7db,#ac8,#b74,#b41,#c30,#e70,#c73,#a63,#954,#b74,#b63,#d62,#c51,#c30,#ea2,#dd5,#d83,#ab7,#6dc,#7ba,#ad8,#d71,#b30,#c41,#da3)"></i><i style="height:2px;background:linear-gradient(90deg,#29e,#4bd,#28d,#28d,#4ce,#15e,#845,#b74,#36c,#7cb,#33a,#26d,#239,#19e,#06e,#04d,#02c,#03d,#06e,#18e,#2be,#ab7,#b10,#910,#da3,#3be,#15e,#19e,#8db,#bc7,#e71,#a31,#844,#ab6,#6ed,#5cc,#ab7,#e60,#c20,#d30,#e92,#9da,#4ac,#6cc,#cb4,#c41,#b41,#b20,#e71,#d92,#aa6,#9da,#ab7,#d61,#b20,#b30,#943,#855,#bc6,#6dc,#9da,#c94,#c30,#a20,#c51,#d82,#bc7,#aa6,#ba5)"></i><i style="height:2px;background:linear-gradient(90deg,#4ad,#36c,#38d,#26d,#26d,#29d,#27d,#9c8,#c82,#922,#8b9,#38c,#14b,#2ae,#4bd,#3be,#2ae,#2ae,#3be,#19e,#5ac,#e82,#800,#800,#e50,#8ca,#28d,#3be,#5dd,#7cb,#cb5,#d50,#e50,#cb5,#ac8,#8ca,#7b9,#ab7,#e61,#a10,#900,#910,#e91,#bc7,#8ca,#7db,#ec3,#d41,#d30,#b20,#e60,#e71,#ca4,#9d9,#b94,#ca4,#e70,#b10,#a10,#d51,#d61,#d62,#d93,#db4,#e92,#d92,#d40,#c20,#c31)"></i><i style="height:2px;background:linear-gradient(90deg,#24b,#24c,#734,#a44,#944,#a44,#6cc,#39c,#c62,#d62,#d82,#37c,#27d,#5cc,#3be,#3be,#4bd,#4ce,#19e,#19e,#5cd,#cb5,#800,#800,#d93,#479,#24b,#458,#6bb,#da3,#a21,#a10,#b53,#db5,#cc5,#bb5,#cc6,#e71,#b20,#a10,#a20,#d60,#ac7,#ab7,#b85,#d62,#d40,#910,#910,#b20,#d61,#b85,#dc5,#ab7,#db4,#e40,#b10,#e70,#d93,#c94,#a64,#965,#c94,#e60,#c30,#d40,#ea2,#da3,#da2)"></i><i style="height:2px;background:linear-gradient(90deg,#955,#b64,#ac7,#b75,#635,#a75,#3be,#29d,#933,#c53,#833,#b74,#17e,#17e,#19e,#28d,#05e,#02a,#03b,#02b,#15b,#5ab,#c20,#800,#ea3,#5cd,#29e,#16e,#16e,#7ba,#e81,#e91,#eb3,#b63,#b74,#8ca,#6bb,#bb6,#e60,#910,#b20,#d51,#cc5,#9b8,#ac8,#9d9,#eb3,#b30,#c30,#e81,#da3,#cc6,#7ba,#ac8,#d82,#d41,#c30,#d30,#da3,#9b8,#c84,#a86,#a95,#eb3,#e71,#e91,#9a7,#6bb,#5bc)"></i><i style="height:2px;background:linear-gradient(90deg,#29e,#28d,#734,#4ce,#16e,#29e,#29e,#25d,#5bc,#35b,#38c,#28d,#2ae,#2bf,#05d,#04e,#03d,#04e,#18e,#39d,#888,#a75,#910,#800,#c83,#3be,#16e,#16e,#4ce,#d93,#b41,#d51,#cb5,#4bd,#37d,#3ad,#9b8,#eb3,#e50,#d30,#d50,#cb5,#aa6,#ad8,#5bc,#6cb,#d93,#e40,#e60,#da3,#8c9,#8db,#ac8,#bd7,#db4,#e50,#b30,#943,#ba5,#9b7,#b96,#a76,#ca5,#ca4,#ca5,#e91,#d72,#9c8,#7db)"></i><i style="height:2px;background:linear-gradient(90deg,#26e,#28d,#8ca,#24c,#28e,#28e,#845,#734,#b43,#8c9,#c73,#b54,#16e,#17e,#04e,#07e,#18e,#05d,#06e,#28e,#5cc,#cc6,#c20,#a10,#d93,#ac7,#3be,#2ae,#8c9,#b85,#c63,#e61,#d71,#bc6,#7db,#ad8,#ad9,#ac7,#d92,#d40,#d40,#d41,#a54,#ad8,#9b8,#c93,#d51,#b20,#d30,#e81,#dc5,#cc5,#8ca,#7cb,#bc7,#c93,#e60,#c63,#bd6,#7dc,#6dc,#8da,#bb6,#e61,#a20,#b31,#d72,#8da,#9c8)"></i><i style="height:2px;background:linear-gradient(90deg,#29e,#25d,#28d,#28e,#5cd,#18e,#15d,#a54,#a43,#37c,#36c,#238,#16e,#29f,#03d,#03c,#03d,#17e,#05e,#06d,#5cc,#c73,#a10,#800,#bb6,#29e,#17e,#19e,#4de,#8db,#d82,#e71,#bc6,#bd8,#7db,#6bb,#9c9,#cb5,#e92,#c30,#b20,#d61,#dc4,#a96,#a96,#ac8,#ac7,#d92,#d40,#e40,#db4,#7cb,#8ca,#ad8,#c83,#a42,#c41,#e60,#e71,#e92,#69a,#579,#6bb,#bd7,#d82,#e71,#c30,#e61,#ab8)"></i><i style="height:2px;background:linear-gradient(90deg,#b64,#b64,#834,#3ad,#b74,#a54,#5cd,#4ac,#b43,#822,#c42,#933,#658,#15e,#06e,#06e,#07e,#3be,#4bd,#16e,#27e,#bb5,#800,#800,#d71,#5cd,#2ae,#28e,#4ce,#cc5,#c41,#b20,#c73,#9c9,#7cb,#8db,#6aa,#cc6,#c31,#b20,#c30,#e91,#dc4,#ac8,#7cb,#7ca,#bc6,#b53,#a20,#a10,#b43,#9b8,#4ac,#49b,#5ac,#7cb,#e81,#b20,#c20,#e60,#e82,#dd5,#cd6,#c73,#d72,#d61,#a20,#b20,#e51)"></i><i style="height:2px;background:linear-gradient(90deg,#b84,#3ad,#25d,#4cd,#25d,#25d,#4ce,#24b,#39c,#c62,#a33,#834,#4de,#16e,#04e,#17e,#07e,#03b,#03b,#03c,#16d,#ab7,#900,#800,#d51,#5ab,#17e,#29e,#29e,#6ba,#e61,#b30,#e71,#da3,#bc7,#6ab,#bb6,#a52,#c41,#c30,#a10,#a31,#d72,#ad9,#7db,#6dc,#8ba,#d92,#e60,#d30,#c41,#da3,#ab8,#ae9,#7ba,#bc7,#953,#b30,#a20,#d51,#dc4,#6aa,#67a,#6aa,#cb5,#c83,#b52,#c73,#8a8)"></i><i style="height:2px;background:linear-gradient(90deg,#29e,#239,#4bd,#29e,#17e,#14c,#5cd,#6cc,#338,#833,#cb5,#b64,#5cd,#17e,#05d,#02c,#03d,#05d,#06e,#03d,#19e,#da3,#900,#900,#e71,#9b8,#29e,#18e,#4ce,#ba6,#d71,#e92,#bc6,#9c9,#7db,#6dc,#ca4,#a31,#a20,#b20,#e91,#ac8,#5bd,#8b9,#cb4,#ca4,#e92,#e60,#d61,#dc4,#9c8,#ab6,#a96,#ba4,#d71,#e81,#c73,#844,#b73,#9d8,#9e9,#cd6,#c63,#d70,#da3,#788,#579,#4bd,#8b9)"></i><i style="height:2px;background:linear-gradient(90deg,#734,#b94,#a54,#27e,#16e,#6cc,#2ae,#3ad,#ca4,#6bc,#338,#28d,#15d,#18e,#17d,#28e,#06d,#02c,#03c,#05e,#2ae,#ad9,#a20,#800,#c41,#ad8,#2ae,#17e,#25a,#8b9,#e92,#e91,#cb5,#8db,#8c9,#8da,#9b8,#e61,#b30,#a20,#e60,#d82,#a96,#8b9,#8c9,#ab6,#e81,#d30,#d30,#d61,#c93,#bb5,#9b9,#ac8,#9b8,#c63,#a20,#c41,#d92,#9d9,#7ca,#ca4,#a53,#b94,#e81,#c30,#e71,#ac7,#5cd)"></i><i style="height:2px;background:linear-gradient(90deg,#3bd,#6cc,#27d,#8ca,#26e,#29e,#2ae,#944,#ca5,#c52,#933,#5bd,#15d,#15c,#07e,#18e,#03d,#02c,#04e,#06e,#3be,#dd5,#a10,#900,#d92,#5ab,#18e,#3be,#7dc,#ac8,#aa6,#8c9,#5ab,#4ad,#7ca,#ac8,#cb5,#ea2,#e50,#c20,#d70,#9c9,#ac7,#a86,#b53,#d62,#e60,#e40,#d40,#d82,#bd7,#ab6,#ab7,#9d9,#ea2,#a20,#b30,#e71,#d83,#ca4,#8db,#7bb,#9d9,#c83,#c30,#d41,#db4,#ac8,#bb6)"></i><i style="height:2px;background:linear-gradient(90deg,#4bd,#4ad,#8ca,#4bd,#29d,#27d,#5cd,#b64,#c93,#c72,#6bb,#38c,#25d,#4ce,#2af,#07e,#17e,#18e,#05e,#04e,#5dd,#d72,#910,#800,#b31,#6dc,#2ae,#3ce,#8da,#ac7,#da3,#d93,#db4,#ad8,#6aa,#58a,#7a9,#bb6,#d40,#a10,#e60,#aa6,#8b9,#bd7,#bb6,#bc7,#ba6,#d30,#c30,#d81,#cd6,#ad9,#8c9,#ab7,#c94,#e50,#a10,#d30,#eb3,#bc6,#bd7,#ad8,#d94,#e61,#e80,#e60,#ea2,#8ca,#7db)"></i><i style="height:2px;background:linear-gradient(90deg,#b84,#ac7,#26d,#3ad,#b64,#28e,#25d,#27d,#34b,#36b,#c63,#9c9,#39d,#16e,#05e,#17e,#18e,#18e,#05e,#05e,#28e,#ad8,#900,#800,#d51,#7db,#2ae,#29e,#5bc,#9a7,#d82,#e51,#a20,#b41,#bd7,#6cc,#6aa,#8ca,#cb5,#d40,#c30,#c20,#b53,#db4,#ad8,#ac8,#da3,#c41,#a10,#a10,#b30,#c94,#ab8,#8ca,#6cc,#7ca,#d51,#a10,#c30,#d81,#cb5,#7ba,#7ba,#bb6,#e72,#e61,#e92,#da3,#dd5)"></i><i style="height:2px;background:linear-gradient(90deg,#944,#28d,#3ad,#745,#955,#15d,#b65,#834,#49c,#48b,#a33,#27d,#3ae,#2bf,#04d,#03b,#02a,#02a,#02b,#03c,#19e,#bc7,#900,#800,#b41,#6cc,#2ae,#5cd,#5cc,#6cc,#bb6,#b30,#b51,#b85,#9e9,#6bb,#ac8,#ac7,#eb3,#e50,#c20,#d50,#ca3,#9c9,#ab6,#cd6,#8da,#cd6,#ea2,#d50,#e40,#d71,#da3,#bb5,#8da,#4cd,#4ac,#ba5,#b41,#a20,#b30,#d92,#7b9,#7ba,#8ca,#9b9,#bc7,#ba6,#ea2)"></i><i style="height:2px;background:linear-gradient(90deg,#26d,#3ad,#27d,#23a,#2ae,#945,#ba5,#24c,#34c,#33a,#c73,#39d,#18f,#14b,#02b,#05e,#05e,#02c,#04e,#07e,#29e,#bb6,#900,#800,#d92,#5ab,#29e,#18e,#2ae,#ad8,#d51,#d51,#9c9,#49c,#5cd,#9d9,#ac7,#dc4,#c41,#910,#c30,#ca4,#cc6,#9c8,#9d9,#db4,#a41,#d50,#e50,#e61,#bc6,#7ba,#6dc,#bb5,#db4,#db3,#e60,#d50,#da3,#8ca,#6ba,#ac8,#8da,#8a9,#e81,#b20,#d41,#db3,#ba4)"></i><i style="height:2px;background:linear-gradient(90deg,#6cc,#25d,#239,#25d,#4bd,#28d,#27d,#944,#c53,#7bb,#338,#955,#18e,#17e,#2ae,#3ae,#05e,#04d,#06e,#29e,#3bd,#d82,#800,#900,#e92,#3ad,#4ce,#4ce,#4ce,#ac7,#b31,#b41,#ea2,#ca4,#c84,#9b8,#7a9,#da3,#d30,#b10,#d30,#cb4,#bc7,#8da,#9b8,#c85,#b41,#a10,#d40,#cb5,#bb6,#ac7,#ab7,#9c9,#db4,#d51,#c20,#d40,#da4,#bc7,#ab6,#8ca,#b95,#a62,#a21,#b20,#d51,#e82,#bb6)"></i><i style="height:2px;background:linear-gradient(90deg,#6cc,#4bd,#5cd,#4bd,#735,#29e,#26e,#b64,#c53,#6bb,#48c,#b74,#2af,#03b,#04b,#03b,#02a,#03b,#03b,#15d,#2be,#ca5,#900,#800,#e51,#4bd,#15c,#16e,#5cd,#c72,#e61,#da3,#dc4,#ad8,#7db,#4ad,#679,#aa6,#d40,#c20,#c30,#b54,#ac8,#7ca,#9d9,#964,#a31,#b20,#d30,#ea2,#bb6,#ac8,#9b8,#da4,#b74,#943,#a10,#d40,#db4,#ca4,#c84,#c94,#ad8,#d82,#e60,#d71,#ac7,#8ca,#7ba)"></i><i style="height:2px;background:linear-gradient(90deg,#4bd,#4bd,#3ad,#4bd,#2ad,#29e,#b94,#734,#cb5,#c62,#832,#b63,#3ad,#2ae,#05e,#04c,#05e,#06e,#16e,#06d,#6cc,#a65,#910,#900,#ba5,#5dd,#3be,#17e,#4ac,#9b8,#ea2,#d50,#e72,#c83,#cb5,#ac7,#8da,#cb5,#c30,#a10,#a10,#ea3,#7bb,#6dc,#49d,#8ba,#d92,#e50,#c20,#d51,#aa7,#6aa,#8ea,#ae9,#cb5,#b63,#b20,#b20,#d61,#ad8,#4bc,#5dd,#7ca,#9c9,#e61,#b30,#a20,#c73,#ad9)"></i><i style="height:2px;background:linear-gradient(90deg,#27d,#23a,#4bd,#4bd,#25d,#7cb,#39d,#a43,#a33,#c42,#822,#944,#39e,#15d,#17e,#05e,#03b,#04d,#3be,#5bc,#4ce,#9d9,#900,#800,#e60,#6bb,#3ce,#29e,#37d,#cc5,#d40,#b30,#d93,#cc5,#c83,#c73,#c63,#c52,#a20,#910,#a10,#d40,#db4,#6cc,#49c,#6bb,#bc6,#e70,#a10,#910,#d40,#c52,#865,#b96,#ac8,#9c9,#ab7,#e50,#910,#b31,#bd7,#57a,#6aa,#9da,#bd7,#ea3,#d30,#a10,#a31)"></i><i style="height:2px;background:linear-gradient(90deg,#b54,#b84,#b84,#27d,#28d,#3bd,#4bd,#28d,#5bc,#5ab,#49b,#7cb,#5cd,#3be,#2af,#19e,#2ae,#2ae,#06e,#18e,#5cd,#ac8,#a10,#900,#d51,#6cc,#16e,#15d,#4ce,#bb6,#db3,#da4,#bc6,#a96,#ab6,#aa6,#bb5,#e91,#a10,#910,#b20,#ca4,#ac8,#7db,#8ca,#d92,#a31,#a10,#d30,#e81,#dc5,#8ba,#6dc,#ab6,#db4,#e60,#a20,#d40,#bb6,#9d9,#ab6,#ac7,#ad8,#d51,#a20,#932,#953,#b53,#c93)"></i><i style="height:2px;background:linear-gradient(90deg,#28d,#734,#a54,#b64,#a55,#4ce,#3ad,#a54,#c53,#932,#34b,#25c,#28e,#18f,#05e,#17e,#17e,#04e,#05d,#3be,#9a7,#942,#910,#800,#c31,#8ba,#2be,#16e,#16e,#7dc,#d72,#b30,#a31,#cb5,#59a,#8ca,#cc5,#cb5,#db4,#e50,#c20,#e50,#c83,#bc6,#ac7,#c84,#c73,#da3,#d60,#b20,#c30,#e81,#cb5,#aa6,#ab6,#aa6,#e82,#d40,#c20,#c73,#ac8,#7ba,#9da,#ac8,#9c8,#b84,#953,#b30,#e61)"></i><i style="height:2px;background:linear-gradient(90deg,#139,#28e,#3be,#18e,#4ce,#16e,#3be,#b74,#a54,#cb5,#a43,#28d,#29e,#19f,#04d,#03d,#02c,#01a,#02a,#06e,#2ae,#ad9,#a10,#800,#aa6,#28e,#15e,#15d,#29e,#bc6,#d92,#db4,#c94,#ba5,#5bb,#6ab,#cd6,#e71,#e60,#d71,#ca5,#6aa,#4ad,#39d,#6dd,#ab7,#ba5,#e50,#e50,#bc6,#4bd,#39d,#3ad,#6dd,#8b9,#da4,#da3,#da3,#dc4,#bd7,#9c9,#9c8,#c93,#a42,#c41,#e92,#9b9,#7db,#7ba)"></i><i style="height:2px;background:linear-gradient(90deg,#a54,#26d,#5cd,#4be,#14b,#a65,#845,#4bd,#6cb,#b43,#ca4,#38d,#3be,#17e,#05e,#03c,#02a,#14b,#04d,#05e,#3ce,#a64,#a10,#800,#d51,#a95,#4ce,#3be,#3ce,#4ce,#9d9,#c41,#b40,#d72,#cd6,#7cb,#38d,#4ad,#d72,#b41,#a10,#a10,#ea2,#689,#56a,#4cd,#8b9,#bd7,#d61,#d40,#e91,#ca4,#bb7,#8b9,#bc6,#cd6,#9b8,#ca5,#e82,#db3,#bb6,#a86,#b96,#ac8,#9c9,#db3,#c41,#c40,#c51)"></i><i style="height:2px;background:linear-gradient(90deg,#28d,#4bd,#24c,#239,#5cd,#17e,#28e,#27d,#b53,#c83,#c53,#a44,#17e,#29e,#17e,#06e,#05e,#02b,#02a,#04d,#18e,#7db,#910,#800,#ea3,#26d,#15c,#16e,#3ae,#ab8,#c51,#c31,#eb3,#ac8,#5cd,#3ad,#4cd,#8b9,#e81,#b20,#a10,#932,#b74,#8ca,#7db,#9d9,#ac7,#cd6,#e71,#c30,#e71,#c92,#c84,#cb5,#8b9,#cb5,#e72,#e60,#d40,#e81,#db4,#9b8,#6bb,#39d,#7cb,#b63,#b31,#b30,#e61)"></i><i style="height:2px;background:linear-gradient(90deg,#25c,#39d,#27d,#b64,#239,#25d,#26d,#26d,#933,#822,#d82,#b43,#3ad,#2af,#4ad,#6aa,#28e,#04d,#18e,#3ce,#7db,#a42,#800,#800,#e70,#6dc,#3ae,#3be,#7ba,#ab7,#c73,#b30,#a31,#964,#da3,#cb5,#bb6,#9c8,#eb3,#c30,#a10,#b20,#d61,#b95,#c93,#cd6,#bd7,#ca4,#d50,#910,#b20,#cc5,#8ca,#ac8,#ac8,#cb4,#e61,#d30,#910,#b30,#c51,#bd7,#7db,#ad8,#bc6,#ca5,#c93,#d82,#d93)"></i><i style="height:2px;background:linear-gradient(90deg,#3ad,#3ad,#4ce,#18e,#4ce,#4ce,#a65,#734,#b53,#833,#c63,#b64,#2ae,#05d,#03d,#04d,#05d,#06e,#06d,#16e,#3ce,#db3,#910,#800,#cb5,#48c,#18e,#17e,#17e,#3ad,#e92,#e61,#ab7,#8ca,#ab6,#9a7,#5dd,#39d,#bb6,#d41,#d40,#e82,#ca4,#ac8,#8da,#996,#aa6,#9c9,#aa7,#e91,#d30,#e61,#da2,#c74,#ab7,#6bb,#6dc,#9c9,#ca3,#c30,#b30,#d92,#6cc,#6ab,#59b,#4cd,#8ca,#eb3,#d71)"></i><i style="height:2px;background:linear-gradient(90deg,#5cd,#b64,#b64,#b54,#844,#26d,#27d,#27d,#6cc,#d82,#c52,#833,#39d,#2ae,#18e,#06e,#07e,#06e,#06e,#17e,#3ce,#db3,#900,#800,#d50,#9b8,#19e,#16d,#4be,#cb4,#d40,#b31,#b84,#7cb,#bd7,#c83,#d73,#e91,#d30,#900,#a20,#e92,#bb6,#9c8,#8ca,#8c9,#d71,#a20,#910,#c51,#c94,#bd8,#6cc,#49c,#bc7,#e92,#d60,#d30,#c41,#cb4,#4ac,#57a,#8b8,#e92,#d40,#b20,#d40,#d82,#8b9)"></i><i style="height:2px;background:linear-gradient(90deg,#27d,#25d,#39d,#29d,#6cb,#834,#834,#c73,#35c,#45b,#822,#9c9,#834,#4be,#17d,#2ae,#17e,#15d,#03b,#19e,#8a8,#b54,#800,#800,#b30,#ba5,#4be,#17e,#27e,#5dd,#cc5,#d30,#b30,#d61,#d93,#bd7,#cc6,#bd7,#bb5,#d41,#a10,#900,#c20,#d61,#cb5,#8da,#ac7,#b85,#ea3,#d50,#910,#a10,#b31,#c94,#ac8,#9ea,#bd7,#9b8,#bb6,#d60,#c30,#c30,#ea3,#ab7,#bd7,#9d9,#ba5,#864,#c41)"></i><i style="height:2px;background:linear-gradient(90deg,#bb6,#38d,#39d,#944,#b84,#3ad,#734,#ca5,#833,#d62,#48b,#49c,#25d,#29d,#3be,#18e,#29e,#04d,#04c,#17e,#47c,#789,#a10,#800,#b30,#8b9,#3ad,#7cb,#5bc,#9b8,#e51,#d40,#db4,#6bb,#7dc,#6dc,#7ba,#cb5,#e50,#a10,#a10,#e60,#bb6,#9c9,#cc5,#cc6,#c72,#a52,#a10,#b10,#e60,#d62,#d73,#c83,#bb5,#db4,#d70,#c20,#a10,#b41,#dc5,#7db,#8ca,#7cb,#8da,#d92,#b20,#a20,#a53)"></i><i style="height:2px;background:linear-gradient(90deg,#27d,#5cd,#28d,#27d,#28e,#4ce,#28d,#a44,#933,#a32,#cb5,#5cc,#29e,#16e,#04d,#07e,#03d,#02b,#02a,#03b,#17e,#9d9,#800,#800,#d41,#4ad,#14b,#15b,#28e,#6dc,#c94,#e50,#eb3,#7ca,#6aa,#4bd,#7ec,#c93,#e81,#d30,#b10,#d50,#ab7,#7aa,#6dc,#5cd,#8ca,#e71,#b20,#a10,#a31,#b84,#ab6,#6dc,#39d,#669,#9a8,#e70,#d40,#c94,#9d9,#9ea,#8eb,#cc6,#db4,#e92,#e71,#d82,#9c8)"></i><i style="height:2px;background:linear-gradient(90deg,#3ad,#6cc,#3ad,#29d,#a55,#735,#4cd,#9c9,#36c,#c82,#c52,#733,#bb6,#29f,#04b,#05e,#28e,#07e,#04d,#03b,#15c,#bc7,#800,#900,#ea2,#25b,#16e,#3ce,#4de,#9c9,#c93,#d81,#ab7,#7ba,#ac8,#ac7,#ae8,#ba5,#e61,#a10,#a20,#d50,#9c9,#69a,#5cd,#ad8,#aa6,#c84,#c30,#a10,#d50,#da3,#9c9,#bc7,#bb6,#ac8,#7db,#ea3,#e60,#e91,#ea2,#da3,#ab7,#5ab,#4ac,#7cb,#cb5,#e70,#d40)"></i><i style="height:2px;background:linear-gradient(90deg,#29d,#29d,#29d,#29e,#2ae,#a85,#b65,#b54,#36c,#38c,#49c,#25c,#26e,#3be,#04d,#03b,#04e,#07e,#04e,#03b,#16e,#c83,#a10,#800,#e81,#5dd,#17e,#16e,#29e,#5bd,#e92,#d50,#d51,#d63,#c94,#aa6,#8ca,#9b8,#bb5,#ea2,#d30,#c30,#e71,#9b8,#4bd,#6bb,#bd7,#d72,#e50,#b20,#d30,#d62,#ba4,#9ea,#8da,#ad8,#db4,#e91,#c30,#b31,#b52,#8c9,#5cd,#8ea,#7db,#9d9,#d71,#c30,#c41)"></i><i style="height:2px;background:linear-gradient(90deg,#4cd,#4bd,#4ce,#29e,#2ae,#28e,#29e,#28d,#c63,#c73,#833,#5bd,#29e,#28e,#29e,#05e,#06e,#29e,#17e,#06e,#2ad,#d73,#a10,#800,#ea2,#3be,#18e,#5bd,#8b9,#ab6,#cb5,#c93,#cb5,#7db,#8da,#9d9,#9d9,#7cb,#bc7,#e60,#d40,#d40,#b74,#9c8,#7db,#9da,#8da,#ab7,#ea3,#d92,#cb5,#bc7,#ac8,#8d9,#5cd,#6dc,#ab7,#da3,#e50,#e50,#d72,#d93,#ac8,#6bb,#8ca,#ac8,#cb5,#e81,#e50)"></i><i style="height:2px;background:linear-gradient(90deg,#24b,#b54,#26d,#238,#7cb,#5cd,#25d,#bc6,#37b,#47b,#48b,#4ac,#4bd,#4bd,#5bd,#39d,#2ae,#5cd,#29e,#28e,#6bb,#d62,#900,#800,#e60,#5cd,#29e,#15b,#348,#58a,#db3,#d50,#e50,#c84,#b95,#ac7,#8da,#7ca,#ea2,#c20,#900,#900,#b20,#bb5,#6dc,#5cc,#8ca,#cc5,#d40,#a20,#910,#e50,#59b,#469,#4ac,#7ba,#cc5,#d82,#d50,#c30,#e70,#bb6,#9c9,#8db,#6dc,#6bb,#bb6,#e50,#b20)"></i><i style="height:2px;background:linear-gradient(90deg,#a44,#ba5,#b64,#b84,#a44,#844,#b64,#834,#5bc,#d82,#c42,#c73,#734,#17c,#14b,#06d,#3be,#2ae,#18e,#15e,#27e,#8a9,#a10,#800,#c30,#ab7,#2ae,#29e,#7cb,#db4,#ea2,#e81,#ac8,#8b9,#9b8,#8b9,#8b8,#dc4,#c30,#900,#a10,#e70,#e92,#d83,#bd6,#5cc,#ab7,#d51,#a10,#a10,#d40,#ca3,#bd8,#ab6,#ab7,#7b9,#bb6,#e70,#d40,#d40,#e91,#bd7,#9da,#5bd,#47b,#678,#9b8,#d50,#d30)"></i><i style="height:2px;background:linear-gradient(90deg,#25d,#4bd,#7cb,#7cb,#28d,#944,#834,#38d,#36c,#47b,#49b,#c53,#a76,#19f,#17e,#29e,#3ad,#2ae,#29e,#4ad,#897,#b74,#800,#800,#b30,#57b,#15b,#16e,#4bd,#cc6,#d61,#e60,#d92,#9d9,#5cd,#5cd,#7cb,#bb7,#d51,#910,#910,#b20,#c84,#9d9,#7dc,#6dd,#6dc,#aa6,#e60,#b10,#d50,#e81,#dc5,#ad8,#ad9,#9b8,#cc6,#e60,#c30,#b30,#b53,#bd7,#5bc,#7ba,#cd6,#da3,#e61,#c30,#a20)"></i><i style="height:2px;background:linear-gradient(90deg,#734,#b94,#734,#28d,#29d,#4cd,#29d,#27d,#c63,#922,#c52,#b95,#17e,#18e,#17e,#19e,#06e,#16e,#06e,#17e,#28e,#8c9,#800,#800,#d92,#48b,#48c,#19e,#7db,#d93,#a31,#b30,#b53,#bb6,#9b8,#7ca,#8ca,#cb6,#e81,#d30,#910,#b20,#da3,#6bb,#6dc,#ae9,#bb6,#ea2,#b20,#910,#a31,#d61,#9b8,#5cc,#9b8,#c93,#cc5,#d94,#d60,#d30,#d51,#db4,#ac8,#cb5,#c73,#a52,#b31,#c41,#d30)"></i><i style="height:2px;background:linear-gradient(90deg,#28d,#28d,#28d,#844,#944,#4cd,#239,#4ad,#c53,#a32,#34b,#38c,#15d,#18e,#06d,#04d,#04e,#07e,#07e,#15e,#3be,#d92,#800,#800,#e92,#5ac,#17e,#18e,#2ae,#4bd,#6bb,#e70,#e60,#bb6,#7db,#6aa,#7db,#bc6,#d72,#b20,#910,#910,#c41,#d92,#9c9,#aa6,#b63,#a42,#b30,#910,#b30,#c73,#9b8,#8ca,#bb7,#c83,#d72,#d40,#c20,#c30,#d81,#ab7,#7db,#4ad,#4ac,#9b8,#e61,#c30,#e50)"></i><i style="height:2px;background:linear-gradient(90deg,#3ad,#29d,#b84,#635,#16e,#18e,#28e,#4ad,#8c9,#35b,#34a,#4bd,#18f,#04e,#03d,#02c,#05e,#06e,#18e,#29e,#3ce,#bc6,#910,#800,#c41,#987,#6bb,#3be,#4de,#ac8,#e71,#d41,#d82,#aa6,#9d9,#5cd,#6ec,#ca4,#e51,#c20,#d30,#d61,#9c8,#46b,#38d,#7db,#da2,#e71,#c30,#b30,#e81,#6cc,#5bd,#5cd,#48a,#699,#e92,#e50,#c93,#9c9,#bc6,#a96,#9b8,#6cc,#9b8,#e71,#e82,#aa6,#ac7)"></i><i style="height:2px;background:linear-gradient(90deg,#5cd,#24b,#27d,#6cc,#3bd,#b85,#b64,#3ad,#33a,#7ba,#833,#349,#15e,#16e,#02b,#03d,#18e,#06e,#05e,#07e,#3be,#ad8,#800,#800,#b41,#9c9,#3ce,#19e,#28e,#69a,#ca4,#e91,#cc5,#ad8,#9d9,#9d9,#9b8,#d92,#b20,#910,#a20,#d82,#7cb,#7ba,#8eb,#dc4,#953,#a20,#910,#a30,#d82,#7ba,#5cc,#7ba,#8b9,#aa6,#d60,#d30,#d61,#ad8,#6aa,#6ab,#7ba,#9b9,#d51,#a20,#b53,#b95,#bc7)"></i><i style="height:2px;background:linear-gradient(90deg,#a55,#26e,#27e,#6cb,#15e,#18e,#17e,#26d,#a43,#833,#37c,#28d,#3ae,#04d,#17d,#17e,#02b,#02a,#05e,#06d,#2ae,#ac7,#900,#800,#d51,#36b,#16e,#4ce,#5cd,#7db,#ba5,#e71,#d61,#cc5,#48b,#46b,#6ab,#7ba,#8da,#c63,#910,#e40,#bd7,#8db,#ad8,#997,#ab7,#b95,#d61,#e71,#e81,#bc6,#8ca,#57b,#459,#4ad,#9d9,#e81,#d40,#e81,#9b9,#6aa,#7bb,#5cc,#7cb,#9d9,#9b8,#c73,#d51)"></i><i style="height:2px;background:linear-gradient(90deg,#38d,#39d,#b54,#b94,#a44,#7cb,#3ad,#26d,#c73,#a32,#34b,#4ac,#57a,#4ce,#04d,#14b,#18e,#39d,#2ae,#18e,#3ae,#bb6,#800,#800,#d81,#3ad,#15b,#2ae,#a86,#d72,#e60,#e61,#cb5,#ad8,#ab7,#ab7,#db4,#b41,#a20,#900,#b20,#d41,#db5,#8ca,#9da,#ac8,#d72,#b40,#910,#c30,#d92,#d82,#c93,#b84,#a96,#bb6,#ca4,#c82,#d50,#eb3,#6ba,#6dc,#6dc,#6dc,#cb6,#e71,#c30,#d40,#c94)"></i><i style="height:2px;background:linear-gradient(90deg,#3ad,#26d,#ba5,#635,#a75,#a95,#945,#a54,#833,#b43,#833,#734,#2be,#04d,#02a,#17e,#28d,#06e,#04e,#17e,#6cc,#b85,#900,#800,#d92,#9d9,#5cc,#6cc,#9b9,#a65,#b51,#c41,#b95,#8c9,#7db,#9c9,#6aa,#699,#e91,#910,#b30,#a64,#6dc,#4ad,#8db,#8ca,#ad8,#da3,#e60,#e50,#c84,#ac8,#9c9,#8b9,#8ca,#cc5,#e71,#d40,#c93,#ac7,#6dc,#6dc,#7cb,#7db,#ab7,#db3,#e60,#d41,#d82)"></i><i style="height:2px;background:linear-gradient(90deg,#27d,#28d,#4bd,#4be,#4ce,#17e,#b85,#25d,#34b,#36b,#7ca,#b63,#4cd,#4ce,#17f,#18e,#17e,#28e,#18e,#06e,#19e,#ba6,#900,#900,#d93,#7ba,#3be,#19e,#4ce,#ca4,#a31,#c30,#db3,#8ca,#5bd,#3bd,#5cd,#cc6,#e61,#a10,#910,#d40,#bb6,#6ba,#4cd,#4bd,#9c9,#c94,#e60,#d40,#d50,#d72,#c94,#ad8,#7ca,#9d9,#dd5,#e71,#d40,#e91,#8b8,#4bc,#7db,#c94,#b64,#b52,#e51,#e50,#e51)"></i><i style="height:2px;background:linear-gradient(90deg,#3ad,#27d,#28e,#28e,#18e,#29e,#26e,#25d,#4ac,#5bb,#833,#a43,#7cb,#17f,#06e,#07e,#06e,#04d,#02b,#03d,#17e,#9c9,#b20,#800,#ea2,#4ce,#18e,#19e,#5cd,#9c9,#bb6,#d82,#e72,#ab7,#4cd,#39d,#4bd,#7db,#aa6,#954,#a10,#910,#b20,#d72,#bc6,#bb6,#b96,#ad8,#bb5,#e72,#d40,#a20,#e60,#7ca,#7cb,#9c9,#9b9,#bd7,#ab7,#dc4,#e71,#e40,#c94,#bb6,#ca4,#ab6,#9d9,#ac7,#a96)"></i><i style="height:2px;background:linear-gradient(90deg,#29d,#5cc,#3ad,#29d,#b75,#24d,#25d,#3ad,#5ac,#5ab,#36b,#7ca,#3ad,#19e,#04c,#04c,#04e,#05e,#06e,#28d,#29e,#689,#910,#910,#d61,#9c8,#3ae,#2ae,#5cd,#bc6,#e81,#d93,#8ca,#3ad,#38d,#5cd,#bb6,#e61,#b20,#910,#d30,#9c8,#6cc,#8c9,#cb5,#865,#943,#a20,#a10,#e51,#d93,#cc6,#ca5,#a96,#a75,#b41,#d40,#d50,#e71,#da3,#6dc,#6bc,#8ca,#7cb,#ca4,#b30,#b30,#d82,#9c8)"></i><i style="height:2px;background:linear-gradient(90deg,#b94,#4cd,#29d,#4ce,#14d,#8ca,#28e,#26d,#c83,#c72,#c63,#5bd,#27e,#18e,#04e,#03c,#02b,#03d,#07e,#06d,#19e,#da4,#900,#900,#ab6,#39d,#18e,#2ae,#5bc,#5cd,#7ca,#ea2,#d92,#9b8,#58b,#47b,#59b,#7ba,#da3,#d40,#910,#c20,#d71,#9b8,#7db,#7db,#9da,#dc5,#ea1,#d40,#d40,#ca5,#ab6,#cc6,#bb6,#ac8,#8b8,#ea3,#d40,#e60,#e92,#ca4,#cb5,#9da,#9c8,#a75,#e81,#ea2,#ea2)"></i><i style="height:2px;background:linear-gradient(90deg,#27d,#3ad,#4bd,#25d,#17e,#29e,#25d,#4bd,#34c,#34b,#38c,#b63,#3ae,#16e,#15b,#04d,#05e,#29e,#39d,#28e,#3be,#bc7,#910,#800,#c41,#5cd,#19e,#19e,#4bd,#aa6,#d51,#b30,#d61,#ad9,#6cc,#3ad,#3bd,#6dc,#ad8,#d60,#c20,#e50,#ca4,#8da,#5ab,#4bd,#6cc,#ba5,#b43,#d30,#e81,#ea3,#bb6,#5cd,#4bd,#6bb,#cc5,#e71,#e50,#e40,#e81,#7db,#39d,#3ad,#6bb,#7aa,#db4,#c30,#c40)"></i><i style="height:2px;background:linear-gradient(90deg,#bc7,#27d,#3ad,#28e,#17e,#845,#635,#28d,#a43,#832,#c83,#a44,#8ca,#18e,#02c,#03b,#03b,#04d,#02c,#03d,#19e,#db4,#900,#800,#eb3,#4cd,#5cd,#4ad,#3be,#4bd,#ac8,#e50,#b63,#ad8,#7ba,#ac7,#b95,#c84,#b52,#b30,#a10,#d30,#d82,#aa6,#6dd,#39d,#9b8,#b52,#b51,#910,#c30,#cc5,#7db,#5dd,#4ad,#3ad,#bb7,#c41,#c20,#d40,#d81,#7db,#4bd,#4bc,#4ad,#7ba,#ca4,#e70,#d93)"></i><i style="height:2px;background:linear-gradient(90deg,#934,#5bd,#27d,#6cc,#26d,#3ad,#6cc,#ba5,#c93,#922,#46b,#38c,#28d,#29e,#18e,#16e,#18e,#28d,#2ae,#3ae,#5de,#b74,#800,#800,#e82,#59b,#36b,#16e,#29e,#7cb,#ea2,#d50,#db3,#ad8,#ae8,#7ba,#bc6,#cb5,#cc6,#e50,#910,#910,#ea2,#799,#49c,#8eb,#ab8,#ba6,#b53,#a10,#900,#a10,#d61,#c93,#bb5,#7dc,#6dc,#b95,#b63,#b30,#a20,#e70,#9c9,#8ba,#8b9,#ad7,#9da,#ac7,#c63)"></i><i style="height:2px;background:linear-gradient(90deg,#27d,#25c,#3ad,#26d,#3ad,#29d,#24c,#b74,#833,#ab7,#b42,#c53,#944,#aa6,#28d,#17e,#18e,#04e,#04d,#28e,#6dc,#d92,#910,#800,#e50,#8da,#17e,#16e,#5cd,#bb6,#ca5,#c62,#b63,#bb6,#7cb,#8ea,#ab7,#bb6,#da3,#c30,#900,#910,#d51,#d73,#a86,#8da,#7db,#cb5,#c41,#a20,#b20,#e91,#eb3,#a96,#a96,#aa6,#a86,#964,#c30,#d40,#d70,#bb6,#ac8,#ac8,#a96,#c74,#db4,#ba5,#e50)"></i><i style="height:2px;background:linear-gradient(90deg,#26d,#5cd,#28e,#18e,#17e,#a65,#29e,#29d,#338,#34b,#cb5,#b54,#2ae,#16e,#04d,#02c,#03d,#02c,#04d,#04d,#2be,#bc6,#a10,#800,#e61,#5cd,#14d,#14b,#2ae,#cc6,#e91,#e51,#e82,#ac8,#6dd,#6dc,#6dc,#4ac,#6dc,#ca4,#c30,#c30,#d92,#db4,#ab7,#4bd,#5dd,#9d9,#ac8,#c94,#a20,#b20,#d92,#7bb,#5cd,#5dd,#8ca,#ab8,#5bc,#bd7,#c30,#b30,#e61,#8c9,#59b,#3ad,#3bd,#ac8,#ab6)"></i><i style="height:2px;background:linear-gradient(90deg,#b74,#ba5,#29d,#28d,#3ae,#28e,#24b,#734,#c73,#c72,#c42,#c63,#734,#19e,#03c,#04c,#04d,#05e,#03d,#03b,#17e,#ac8,#910,#800,#da3,#6bb,#3be,#29e,#4be,#8ca,#e71,#d40,#cb5,#8ca,#6dd,#5dd,#48b,#58a,#ad8,#e71,#b10,#b10,#d50,#d72,#b96,#aa6,#ad7,#aa6,#b83,#e71,#a10,#a10,#c52,#ca5,#8eb,#38d,#58b,#6aa,#8c9,#c73,#b20,#e70,#aa6,#ac8,#9d9,#ad8,#aa7,#ac7,#c94)"></i><i style="height:2px;background:linear-gradient(90deg,#3ad,#b85,#17e,#29e,#18e,#4ce,#a65,#ba5,#c73,#36c,#49c,#27d,#29d,#3ae,#2ae,#2ae,#05d,#02a,#02b,#05d,#3ce,#bb5,#900,#900,#ab7,#26d,#15c,#14b,#26d,#9b8,#e81,#db5,#6cc,#3ad,#3be,#5dd,#9d9,#ac8,#cc6,#e50,#c20,#d71,#ac8,#9e9,#8da,#6dc,#6bb,#6bb,#ac7,#e61,#a10,#b30,#d62,#ac8,#8db,#4ce,#39d,#5cd,#db4,#db4,#d82,#e71,#ac7,#558,#37c,#5cd,#8b9,#cb5,#d83)"></i><i style="height:2px;background:linear-gradient(90deg,#a44,#734,#39d,#4bd,#28d,#29d,#28d,#5cd,#34b,#d62,#c42,#c53,#b54,#2ae,#28e,#18e,#05e,#05e,#16e,#15e,#29e,#ad8,#800,#800,#c30,#ab6,#5bc,#3be,#7ca,#ab8,#da4,#d50,#d83,#b95,#b84,#a96,#ca4,#ad9,#9b8,#d60,#900,#910,#c62,#ac8,#9da,#8ca,#8ca,#8da,#9b8,#e81,#b10,#d30,#d61,#dc5,#6ba,#69a,#9c9,#c93,#b52,#a20,#a20,#c20,#e71,#dc5,#4bd,#38d,#7ba,#8ba,#bb6)"></i><i style="height:2px;background:linear-gradient(90deg,#29d,#7cb,#28d,#3ae,#14d,#16e,#b65,#b74,#933,#c72,#c63,#b83,#966,#15e,#05e,#18e,#07e,#05e,#17e,#17e,#3ce,#bc6,#a10,#800,#e81,#6cc,#18e,#16e,#19e,#5cd,#da3,#e71,#e81,#cc5,#8b9,#8ca,#ab7,#aa7,#d93,#e61,#c40,#c40,#ca4,#7a9,#7bb,#8da,#3ad,#48d,#ab7,#e60,#d30,#c40,#d82,#6dc,#38d,#59b,#7cb,#9c9,#d62,#a20,#d40,#ca5,#7ca,#ac8,#aa6,#8db,#ad8,#d93,#e81)"></i><i style="height:2px;background:linear-gradient(90deg,#6cc,#3ae,#3be,#29e,#16e,#14d,#4ce,#26d,#39c,#37c,#a33,#39d,#18e,#04d,#02a,#14b,#03d,#28e,#05d,#02b,#1ae,#bb6,#910,#800,#b41,#a95,#2ae,#17e,#6bb,#bc6,#d72,#e71,#cb5,#8ca,#3bd,#3be,#4de,#4bd,#6cb,#bc7,#e50,#a10,#c30,#d92,#bb6,#6cb,#49b,#49b,#8db,#cb5,#e81,#e40,#e60,#cb5,#7db,#5cd,#8da,#bd7,#9d9,#8da,#bb6,#e50,#d40,#e92,#ad8,#7cb,#9c9,#7db,#5cd)"></i><i style="height:2px;background:linear-gradient(90deg,#4cd,#29d,#29d,#26e,#635,#955,#28e,#28d,#38c,#34b,#34b,#27d,#29e,#19f,#04e,#14c,#03c,#06d,#05d,#04d,#17e,#da3,#900,#800,#b53,#8c9,#3be,#16e,#26d,#bc7,#b41,#d41,#8ca,#5cd,#4bd,#3bd,#5dd,#cb4,#a31,#a20,#910,#c41,#dc5,#6cc,#7db,#a86,#ca4,#ac8,#d60,#d30,#d61,#9c8,#7cb,#ab6,#bb5,#ad8,#ba6,#e70,#c30,#e62,#ad9,#3bd,#5cd,#8c9,#8da,#e81,#b30,#d41,#cb5)"></i><i style="height:2px;background:linear-gradient(90deg,#b64,#5cd,#a55,#a65,#29e,#14d,#28e,#4bd,#b53,#933,#339,#27d,#a65,#5cd,#29e,#18e,#17e,#17e,#03c,#02a,#15b,#ad9,#900,#800,#db4,#39e,#16e,#29e,#4bd,#7bb,#d72,#b31,#e82,#8eb,#4cd,#5bc,#6cc,#7dc,#cd6,#d61,#a20,#a20,#e91,#bc7,#9b8,#8ca,#7db,#7cb,#bc6,#d41,#b20,#e50,#ba5,#8da,#6dd,#8da,#9c9,#ab6,#e92,#d60,#e50,#e81,#8da,#3ad,#4bd,#4ce,#37c,#49c,#ad8)"></i><i style="height:2px;background:linear-gradient(90deg,#29d,#b84,#a55,#14d,#4be,#17e,#955,#734,#c73,#c73,#c73,#23a,#38d,#39d,#18e,#18e,#39d,#29e,#17d,#17e,#3ce,#d83,#900,#800,#c83,#5de,#18e,#2ae,#3be,#4bd,#cb5,#c31,#d51,#bc6,#5dd,#3ae,#4ad,#4cd,#6dc,#aa6,#d40,#c20,#d50,#cc5,#6ab,#568,#558,#568,#9c8,#ea2,#c30,#a10,#b31,#ca4,#9c9,#9b9,#8ca,#6cc,#db4,#e71,#e60,#e60,#d81,#b95,#9b8,#29d,#39d,#6dc,#d83)"></i><i style="height:2px;background:linear-gradient(90deg,#b84,#39d,#4bd,#3bd,#25d,#635,#24b,#24b,#38c,#339,#5ab,#38c,#39e,#17e,#03c,#03c,#02c,#05e,#17e,#06e,#2ae,#db4,#800,#800,#d92,#4bd,#18e,#16e,#3bd,#dc5,#d71,#ea3,#cc6,#6bb,#47b,#3ad,#8c9,#a96,#b73,#e60,#910,#b20,#cb4,#8b9,#5ab,#5bd,#8c9,#9b8,#c84,#b20,#c20,#d50,#c84,#976,#a86,#7b9,#5cd,#8ca,#c93,#d30,#c30,#d81,#9c9,#9c9,#ab6,#aa6,#c94,#c93,#e61)"></i><i style="height:2px;background:linear-gradient(90deg,#b54,#944,#3ad,#28d,#25d,#29e,#28d,#734,#b43,#49b,#5ab,#6cc,#26d,#26e,#14c,#25b,#04b,#05e,#07e,#17e,#2ae,#db4,#900,#800,#c72,#9c9,#4de,#1ae,#26d,#568,#9a8,#d93,#9a7,#7a9,#5dd,#4bd,#5dd,#ae9,#cc6,#da4,#d40,#b20,#d71,#c73,#855,#ac7,#8db,#cb5,#d93,#d62,#a20,#c20,#e92,#bd7,#bc6,#ac8,#7bb,#9c9,#ad8,#bb6,#ea2,#e50,#e50,#e82,#8c9,#38d,#58b,#6bb,#8ca)"></i><i style="height:2px;background:linear-gradient(90deg,#b74,#3ad,#25d,#3ae,#ac8,#3be,#28e,#6cb,#4ac,#49c,#8ca,#b53,#26e,#16d,#17e,#28e,#28e,#29d,#06e,#03b,#14c,#cd6,#900,#800,#d61,#6bb,#4bd,#5bc,#4bd,#7db,#e81,#b30,#e82,#7ca,#6bb,#8da,#6bb,#38d,#37c,#799,#d92,#c20,#e60,#dc3,#ac7,#9d9,#5cc,#4cd,#6dc,#ac7,#d61,#d30,#d51,#e71,#ca4,#8b9,#8da,#5cd,#5cd,#b96,#844,#d40,#d40,#d51,#bb5,#37d,#37b,#4ce,#5cd)"></i><i style="height:2px;background:linear-gradient(90deg,#5cd,#25d,#24b,#29e,#17e,#a75,#26e,#28d,#733,#932,#b43,#b53,#239,#2af,#07e,#05e,#05e,#06e,#07e,#06e,#6cc,#a52,#900,#800,#c73,#6dc,#3ae,#3be,#6cc,#9b7,#ca4,#e92,#9b8,#3ad,#4cd,#7db,#6dc,#4bd,#ab7,#d30,#a10,#b20,#da3,#7cb,#5cd,#7cb,#ac7,#ca4,#c93,#d30,#d40,#ea3,#8da,#5dd,#bc6,#b84,#9d9,#dc5,#e71,#b20,#c30,#c62,#ba4,#6cc,#6cc,#6dc,#9c9,#bc7,#e61)"></i><i style="height:2px;background:linear-gradient(90deg,#27d,#3ad,#3ad,#3ad,#3ae,#28e,#28d,#b64,#b43,#c72,#c42,#833,#29d,#18e,#17e,#17e,#29e,#29d,#17d,#17e,#19e,#ab7,#910,#800,#d51,#6bb,#34b,#34b,#4ac,#cb5,#e51,#e60,#bb6,#48c,#36b,#47b,#7bb,#ac8,#db4,#d51,#a20,#a10,#d40,#e72,#9d9,#7db,#9c9,#8ca,#9c8,#b74,#b20,#a20,#b30,#e92,#ac7,#bc6,#b74,#bb6,#7ba,#d92,#d41,#e40,#d50,#e71,#bb5,#9d9,#7bb,#4cd,#5bd)"></i><i style="height:2px;background:linear-gradient(90deg,#24c,#29e,#2ae,#4ce,#18e,#15d,#4ce,#3ad,#5bd,#cb5,#5ac,#6cc,#17e,#04d,#05d,#04d,#02c,#03d,#06e,#3ae,#5ac,#ac7,#b10,#800,#d81,#7cb,#3be,#2ae,#2be,#9b8,#c51,#c41,#bd6,#7dc,#4ce,#5bc,#38c,#47b,#59a,#d92,#a10,#b20,#ba5,#6aa,#4ad,#9b8,#877,#bb7,#6aa,#ab8,#e60,#b20,#943,#ab6,#4bd,#29e,#3be,#3ae,#4ad,#9b8,#e91,#d60,#db4,#ac8,#6cc,#2ae,#38e,#3be,#5cd)"></i><i style="height:2px;background:linear-gradient(90deg,#b74,#b94,#a54,#b74,#b84,#29d,#28d,#23a,#34b,#c42,#d93,#35c,#35a,#5bc,#6cc,#3ae,#4ad,#4ac,#2be,#2be,#4ce,#ab7,#800,#800,#e71,#6dc,#2ae,#3ce,#7dc,#8ca,#ca4,#e82,#ab7,#6bc,#6dd,#6dc,#7cb,#bc6,#d83,#c20,#910,#910,#c41,#8ca,#4ac,#5dd,#4ad,#5bb,#bc6,#c30,#b10,#e60,#cc5,#ad8,#9c8,#7cb,#8ca,#da3,#e51,#910,#a10,#d51,#c52,#c73,#9d9,#8b9,#cc6,#dc5,#e81)"></i><i style="height:2px;background:linear-gradient(90deg,#b84,#944,#5cd,#29d,#4ce,#29e,#28d,#28d,#933,#b32,#b42,#933,#2ae,#17d,#2ae,#4bd,#28d,#05e,#05e,#06e,#49c,#cb5,#a10,#900,#e91,#7db,#2be,#5cd,#7cb,#ac7,#c84,#e60,#ea3,#8da,#6bb,#9d9,#9c9,#8ca,#cb4,#a31,#910,#b10,#d61,#db4,#9d9,#6cc,#8b9,#ac8,#db4,#e61,#a10,#c30,#bc6,#8eb,#59b,#47b,#6aa,#cc6,#e81,#c20,#a20,#e71,#5bc,#6bb,#5cd,#4cd,#8da,#db4,#db4)"></i><i style="height:2px;background:linear-gradient(90deg,#3ad,#4bd,#28d,#29d,#27d,#3ad,#28d,#238,#c73,#c62,#822,#b43,#b64,#39d,#4ce,#19e,#05e,#04d,#03c,#03a,#16d,#bb6,#800,#800,#e51,#ac8,#5cc,#5cc,#6bb,#ac8,#da3,#b30,#c41,#9c9,#4bd,#4bd,#6bb,#ab8,#a86,#b74,#e50,#900,#910,#e61,#bd7,#8b9,#7db,#6dd,#7db,#ba5,#c41,#b20,#b20,#e51,#dc5,#4bd,#4bd,#6dd,#6dc,#6dc,#8b8,#c82,#d71,#ca4,#bc7,#7cb,#ab7,#976,#bc7)"></i><i style="height:2px;background:linear-gradient(90deg,#28d,#29e,#4ce,#17e,#2ae,#17e,#16e,#28d,#5bc,#6cc,#833,#39d,#2be,#03c,#03d,#07e,#16d,#06e,#06d,#18e,#2ae,#ad8,#a10,#800,#ac7,#26c,#15d,#15e,#18e,#6cc,#b83,#d51,#844,#966,#ac8,#6cc,#6cc,#4ce,#5dd,#6cc,#da3,#b20,#a20,#e61,#ab7,#ad8,#8c9,#4ce,#3be,#4bd,#6bc,#ca4,#d50,#e50,#db4,#7ca,#5cc,#6dc,#6cc,#4ce,#8da,#da3,#b30,#b20,#c73,#bc6,#6cc,#46b,#47c)"></i><i style="height:2px;background:linear-gradient(90deg,#6cb,#4ce,#6cc,#4ce,#19e,#15e,#29e,#3be,#3ad,#5ac,#38c,#28d,#17e,#29e,#04d,#02b,#03b,#03c,#06e,#05e,#17e,#6cb,#910,#800,#a41,#6cc,#19e,#17e,#17d,#4bd,#dc4,#d51,#da3,#6dc,#2ae,#3ae,#3be,#7cb,#bb5,#e50,#a10,#d41,#ac8,#8db,#9b8,#987,#ab7,#da3,#e71,#e60,#cb5,#7a9,#6ab,#7db,#8ca,#bb6,#d93,#e61,#e50,#e61,#b85,#6bb,#38d,#29e,#9c9,#ca4,#e92,#d93,#cc5)"></i><i style="height:2px;background:linear-gradient(90deg,#b74,#28d,#28d,#5cd,#29e,#3ae,#5cd,#3ad,#833,#47b,#9b8,#4ac,#27d,#2af,#15d,#04c,#03b,#03b,#03d,#07e,#29e,#ac8,#910,#800,#e71,#bb5,#7cb,#2ae,#26b,#8ca,#e71,#e81,#9a8,#6bb,#7ba,#8da,#8da,#ac7,#ab6,#9d9,#db4,#d30,#a10,#e61,#ab7,#69a,#3ad,#38d,#5cc,#ac8,#dc4,#e81,#c40,#c30,#c63,#bb5,#ad8,#8da,#4bd,#3bd,#7cb,#dd5,#d41,#b30,#c30,#8a8,#68a,#9c9,#9a7)"></i><i style="height:2px;background:linear-gradient(90deg,#28d,#29d,#5cd,#16e,#3be,#29e,#29e,#239,#37c,#34b,#b43,#b64,#5dd,#29e,#07e,#06e,#03d,#02b,#04e,#07e,#3ce,#c63,#910,#800,#ca4,#4ce,#16e,#25c,#27e,#8ca,#d52,#e51,#dc4,#ad8,#6bb,#5ac,#5de,#7db,#9d9,#cb5,#e60,#b10,#e60,#9da,#4ad,#5dd,#5cd,#4ce,#59b,#9b9,#d61,#b20,#e50,#bb6,#9c9,#bd7,#9c8,#9a7,#8da,#bb7,#c41,#c30,#d50,#d92,#9b8,#4cd,#3ae,#5bd,#9b8)"></i><i style="height:2px;background:linear-gradient(90deg,#734,#25c,#4be,#635,#15e,#17e,#4be,#25d,#c63,#c62,#c53,#a44,#3ad,#2be,#06e,#06e,#18e,#17e,#06e,#06d,#4be,#bc7,#c20,#800,#e81,#5dd,#5cd,#5cd,#6dc,#9c8,#d71,#e61,#eb3,#47a,#46b,#5dd,#6dc,#8ca,#ab7,#c52,#a20,#a10,#a20,#db3,#9c9,#8da,#7cb,#6bb,#8ca,#bc6,#d82,#d40,#d40,#ba5,#8db,#5dd,#29e,#29e,#7ba,#cc5,#d51,#d40,#d92,#cb5,#bc7,#7cb,#28d,#4be,#8da)"></i><i style="height:2px;background:linear-gradient(90deg,#39d,#5cd,#26d,#24c,#27d,#3ad,#b74,#a54,#33a,#6ab,#c72,#833,#49d,#7cb,#4ce,#06e,#04e,#05e,#17e,#2ae,#4de,#cb5,#800,#800,#e50,#59b,#26c,#19e,#4ac,#ab8,#ca4,#e81,#e91,#ad9,#6cb,#5bd,#4cd,#4bd,#7a9,#c94,#c30,#d30,#d71,#bb5,#7bb,#5cd,#bb6,#bb6,#cc6,#c30,#910,#b20,#da3,#9da,#4bd,#4ad,#5cd,#cc5,#b41,#a10,#d40,#ca4,#8ca,#9da,#ac8,#ae9,#a95,#964,#b40)"></i><i style="height:2px;background:linear-gradient(90deg,#b64,#28d,#27d,#26e,#16e,#945,#b75,#27d,#38c,#37b,#8c9,#26d,#29e,#18e,#17e,#17e,#07e,#04e,#04d,#17e,#2ae,#ac7,#910,#900,#ca5,#6dd,#2ae,#2ae,#3ae,#6cc,#e92,#d40,#c83,#8b9,#7cb,#7db,#8ca,#ad8,#9ea,#ab7,#e60,#a10,#e50,#dc4,#ac8,#8da,#6dc,#5cd,#9c8,#b74,#933,#a10,#e92,#bc7,#9c9,#8ca,#5cd,#46b,#7bb,#d82,#d51,#d40,#e81,#ab7,#7ba,#6cb,#9a7,#6dc,#6dc)"></i><i style="height:2px;background:linear-gradient(90deg,#734,#734,#b75,#ab6,#15d,#3be,#945,#b95,#6cc,#38c,#35c,#5cd,#27e,#29e,#17d,#28d,#05d,#02a,#04d,#3be,#4bd,#da3,#900,#800,#e92,#49c,#26d,#15d,#19e,#7db,#aa6,#898,#757,#56a,#6dc,#6cc,#3be,#6bb,#ab7,#e92,#c30,#d30,#d92,#bc6,#9c9,#6dd,#6cc,#6dc,#6aa,#db4,#d40,#d60,#ca4,#9d9,#5dd,#6bb,#5cc,#8da,#c93,#c62,#d40,#e91,#aa7,#58a,#37d,#39e,#29e,#39d,#9d9)"></i><i style="height:2px;background:linear-gradient(90deg,#5cd,#3ad,#27d,#28d,#28d,#29d,#24c,#5cd,#8c9,#48b,#45b,#4ac,#3ad,#29e,#29f,#29e,#19e,#17d,#06e,#17e,#3be,#d82,#800,#800,#db3,#3ad,#2be,#4ac,#7ca,#ab6,#c94,#c94,#da3,#ba6,#aa6,#ad8,#9da,#ac7,#d82,#c40,#900,#910,#e92,#9d9,#7cb,#7cb,#9c8,#c94,#db4,#d50,#910,#a10,#e61,#9b8,#6bb,#ac8,#c94,#cd6,#db4,#d40,#c20,#d30,#e71,#ab6,#7cb,#6bb,#9d9,#ab7,#d92)"></i><i style="height:2px;background:linear-gradient(90deg,#25c,#4bd,#5cd,#29d,#3ae,#3ae,#b64,#834,#5ac,#6bb,#5ab,#5bc,#b74,#3bf,#05e,#03b,#04d,#18e,#06e,#03c,#39d,#bd8,#800,#900,#a31,#9a7,#5cd,#2ae,#3be,#db4,#b51,#d40,#cb6,#9c8,#4ad,#37d,#38d,#5dd,#d83,#d51,#a10,#910,#ea3,#699,#59b,#4bd,#7cb,#7db,#db3,#d51,#d40,#d71,#cc5,#ba5,#9d8,#5ab,#56a,#6dd,#b85,#d41,#c30,#d40,#d62,#cc4,#6dc,#5cd,#7cb,#5cd,#8b9)"></i><i style="height:2px;background:linear-gradient(90deg,#29d,#24b,#4be,#3ae,#18e,#15d,#18e,#a54,#833,#c63,#c93,#38c,#25d,#29e,#29e,#29e,#17e,#05e,#06e,#04e,#18e,#cb5,#900,#800,#b51,#986,#6cc,#3be,#28e,#49c,#d93,#d71,#6cc,#38d,#4ce,#5bc,#3ae,#4bd,#6dc,#ca4,#c40,#c40,#ca4,#ac8,#9d9,#ab7,#997,#bb5,#c84,#b51,#a20,#b20,#d51,#b85,#976,#ad8,#6dd,#5de,#8b9,#da3,#d50,#b30,#c41,#9b7,#5dd,#9d9,#9b8,#987,#b64)"></i><i style="height:2px;background:linear-gradient(90deg,#26d,#25d,#26e,#15d,#29e,#17e,#4ce,#734,#733,#37c,#7cb,#a43,#944,#2ae,#18e,#05e,#02c,#02c,#03e,#04e,#15d,#cc6,#910,#900,#d61,#ad9,#3ce,#18e,#29e,#8da,#ea3,#e81,#bb5,#6bb,#3ae,#4ce,#7dc,#7cb,#ab7,#855,#a31,#a10,#b20,#cb4,#4ac,#3ad,#8da,#8da,#3ad,#39c,#cb5,#d61,#d30,#e40,#d82,#9c9,#49c,#2ae,#bb6,#b74,#cb5,#e81,#e50,#c30,#c51,#c83,#ab7,#8da,#3be)"></i><i style="height:2px;background:linear-gradient(90deg,#24c,#25d,#29d,#8ca,#29e,#5cd,#26e,#25c,#38c,#33a,#833,#7ca,#3be,#05d,#04d,#05e,#04d,#06e,#18e,#06e,#18e,#7cb,#a10,#800,#e71,#3be,#18e,#2ae,#3ce,#bb6,#d81,#e92,#cb6,#6cc,#3ae,#2ae,#26d,#38d,#8ca,#c83,#c20,#a10,#e81,#8da,#5cd,#6dc,#ac8,#a86,#d93,#e71,#a10,#a20,#e61,#ab7,#6dc,#5cd,#9b8,#6cb,#8b9,#d61,#d30,#d50,#d92,#ba4,#8c9,#8ba,#ba5,#bb6,#7cb)"></i><i style="height:2px;background:linear-gradient(90deg,#834,#4bd,#24c,#4be,#14d,#13a,#27e,#26d,#35c,#832,#35c,#25c,#29e,#15c,#04b,#03b,#03d,#17e,#05e,#03d,#2be,#da3,#900,#800,#eb3,#3ae,#17e,#15e,#27e,#38d,#9c9,#da3,#eb3,#bb6,#9b8,#7bb,#4ce,#6cc,#8ca,#cd6,#d41,#a10,#d30,#ea3,#8da,#4bd,#4ce,#9c9,#996,#ab7,#cb5,#d50,#d40,#d61,#7cb,#48c,#48b,#6dc,#8c9,#bb6,#b94,#e70,#e60,#d41,#a54,#aa6,#8da,#6bb,#6dc)"></i><i style="height:2px;background:linear-gradient(90deg,#27d,#27d,#28d,#23b,#4bd,#3ad,#5bd,#b53,#b43,#d62,#922,#b43,#965,#5dd,#2ae,#15e,#14c,#14b,#13b,#15d,#28e,#bc6,#800,#800,#b30,#9d8,#4ce,#4de,#7cb,#eb3,#d60,#ba6,#8b9,#6dd,#6cc,#9d9,#ab7,#8da,#bb6,#d50,#900,#a10,#d71,#bd7,#cc6,#ab7,#ab7,#aa6,#ae8,#bb6,#e50,#b10,#c40,#da4,#ad8,#9d9,#9c9,#59b,#4bd,#7cb,#ca5,#d40,#c30,#e70,#dc4,#ac7,#c94,#b84,#ac8)"></i><i style="height:2px;background:linear-gradient(90deg,#29d,#28d,#239,#4ce,#29e,#18e,#25e,#844,#5cc,#34b,#33a,#a43,#b74,#646,#05c,#02a,#03c,#03d,#03d,#03c,#18e,#8ca,#900,#800,#e71,#7db,#3ae,#18e,#4ce,#ad9,#dc4,#b63,#b31,#bc6,#5cd,#4be,#4de,#6dc,#6cc,#6ec,#9b8,#d82,#b10,#a20,#b74,#6dc,#39e,#28d,#46b,#56a,#7aa,#ab7,#e60,#b30,#a41,#c83,#9b8,#6cc,#3ad,#6dc,#8da,#cb5,#e60,#d40,#e92,#5cc,#38d,#5de,#4de)"></i><i style="height:2px;background:linear-gradient(90deg,#4bd,#29e,#2ae,#18e,#3be,#5cd,#4ce,#4bd,#833,#833,#c83,#5cd,#24c,#4ad,#29e,#05e,#15e,#05e,#04e,#02c,#19e,#c83,#900,#800,#e92,#5dc,#19e,#06e,#26c,#36a,#57b,#8b9,#ca4,#cb6,#6dc,#4bd,#5dd,#5bd,#4ce,#8ca,#e81,#a10,#a20,#d83,#8da,#39d,#4be,#9b9,#bc7,#9b8,#ca4,#c63,#c30,#e81,#798,#37d,#3ae,#4ce,#7db,#6dc,#6dc,#c92,#d51,#d30,#d92,#bd8,#9b7,#9c8,#7ba)"></i><i style="height:2px;background:linear-gradient(90deg,#4bd,#24c,#28d,#4ad,#3ad,#25d,#a44,#834,#c63,#c52,#d72,#b43,#734,#14c,#27d,#3be,#4ac,#17e,#15b,#14b,#28e,#bb6,#800,#800,#d81,#6dc,#3be,#2ae,#3be,#6cc,#cc5,#c30,#b31,#d72,#9d9,#6cb,#4cd,#8b8,#c73,#a31,#a20,#800,#910,#d71,#9c9,#bc7,#976,#756,#865,#c94,#e40,#910,#a20,#c52,#a76,#8db,#5ab,#6bb,#8ca,#d83,#d40,#d40,#e81,#ba5,#ac8,#8b9,#3ad,#5cd,#b95)"></i><i style="height:2px;background:linear-gradient(90deg,#b94,#a54,#3ae,#29e,#14c,#3ae,#27e,#7cb,#c63,#c73,#c63,#933,#b65,#29e,#04b,#02b,#04d,#07e,#18e,#3be,#7cb,#d82,#900,#800,#d51,#4be,#17e,#15e,#16e,#469,#558,#ab7,#b42,#b52,#c74,#8da,#8ca,#6bc,#5ab,#8ea,#ba5,#d50,#910,#a20,#d72,#5cd,#3ae,#4be,#3bd,#6dc,#dc5,#e61,#910,#b20,#a64,#ad8,#6dc,#6dc,#39d,#4bd,#ad9,#cb5,#d60,#e70,#ba5,#6aa,#59b,#5ab,#5ab)"></i><i style="height:2px;background:linear-gradient(90deg,#28d,#27d,#27e,#17e,#14c,#3be,#2ae,#26d,#a43,#c63,#36c,#37c,#4bd,#2af,#04d,#03c,#03b,#04d,#05d,#17e,#2ae,#9b8,#900,#800,#d71,#4ce,#2ae,#19e,#18e,#4cd,#e72,#b31,#ac7,#5cc,#6cc,#5de,#5de,#7db,#8da,#dd5,#d61,#b20,#a20,#b31,#ba5,#6cc,#6cc,#4ce,#3ae,#4bd,#cc6,#b30,#910,#a20,#ca4,#9c8,#ba5,#9d9,#4be,#ac8,#c93,#d71,#d40,#e40,#b84,#9d9,#8ca,#4be,#4de)"></i><i style="height:2px;background:linear-gradient(90deg,#26d,#5cd,#28e,#4ce,#28e,#28e,#28e,#ac8,#933,#832,#b43,#bb6,#866,#3ad,#05e,#05e,#05e,#02a,#03c,#03c,#26b,#6cb,#900,#800,#d71,#5ab,#29e,#17e,#19e,#3ad,#9d9,#ea2,#da4,#6bb,#6dc,#8ba,#6bc,#2ae,#4cd,#6cc,#cb4,#d30,#900,#a20,#b52,#7cb,#26c,#26d,#3ae,#6cb,#9d9,#e91,#e40,#c30,#d61,#cc6,#ab7,#7cb,#4cd,#5dd,#6cb,#8ba,#e71,#a41,#d50,#bb6,#7ba,#5cd,#6dd)"></i><i style="height:2px;background:linear-gradient(90deg,#39d,#27d,#24c,#29e,#3ae,#2ae,#28d,#734,#933,#a32,#c82,#4ac,#3ad,#29e,#6bb,#04c,#14b,#04b,#04e,#18e,#2be,#cd5,#800,#800,#a31,#7ba,#17e,#26d,#6dc,#a53,#b31,#d51,#dc4,#bd7,#9d9,#9d9,#6bb,#7cb,#ab7,#ca5,#c20,#a20,#e50,#cb5,#8da,#6dc,#5de,#5dd,#ad8,#a42,#b30,#910,#d30,#ba4,#a86,#b84,#7db,#4cd,#9d9,#a64,#a21,#a10,#d51,#d62,#bb6,#7cb,#3ae,#39d,#7bb)"></i><i style="height:2px;background:linear-gradient(90deg,#24c,#25d,#845,#a95,#635,#955,#a55,#ba5,#733,#c83,#7cb,#38c,#29e,#29e,#3ad,#17d,#06e,#05e,#06e,#18e,#19e,#8da,#910,#900,#c73,#5dd,#15d,#14c,#2be,#8c9,#ca4,#c73,#cb4,#9c9,#8db,#5dd,#29e,#5cd,#9b9,#8b9,#aa7,#d40,#b20,#b74,#8da,#4ce,#28e,#25b,#4cd,#9c9,#da4,#d30,#e60,#bc6,#6cb,#8db,#ac8,#5bc,#5bc,#9b8,#e81,#e40,#c30,#c84,#7cb,#3bd,#3bd,#3be,#3bd)"></i><i style="height:2px;background:linear-gradient(90deg,#3ad,#3ad,#28e,#29e,#29e,#3be,#a55,#3ad,#c63,#6cb,#48b,#ca5,#a54,#2ae,#16e,#04d,#02b,#03b,#03d,#05e,#3be,#9b8,#a10,#900,#e71,#6cb,#16e,#16e,#6dc,#c93,#e61,#e81,#7db,#6dd,#7cb,#7cb,#6dc,#4bd,#7dc,#ba5,#b30,#910,#c20,#ca4,#7cb,#8ca,#9b8,#7db,#4ce,#5ab,#8b9,#c93,#d50,#e70,#db4,#6aa,#3ad,#7cb,#ac8,#7cb,#4cd,#9b8,#e51,#c20,#e50,#d93,#ca4,#9b8,#7cb)"></i><i style="height:2px;background:linear-gradient(90deg,#26d,#3ad,#28e,#2ae,#14c,#4ce,#28e,#39d,#a43,#b43,#36c,#5bc,#27d,#17e,#04d,#05e,#06e,#16d,#04d,#03c,#19e,#cb4,#900,#900,#c41,#6dd,#15d,#19e,#7ba,#bc6,#d61,#d40,#c84,#ab7,#6dc,#3be,#4ce,#7dc,#ac8,#bb6,#b53,#910,#a10,#e61,#ac8,#5ab,#3be,#6cc,#7cb,#bc6,#c82,#e70,#c30,#e81,#59b,#57a,#49b,#3be,#5cd,#ad8,#b84,#b62,#b20,#a20,#943,#ad8,#5cd,#3ae,#25b)"></i><i style="height:2px;background:linear-gradient(90deg,#27d,#3ae,#3be,#4ce,#17e,#18e,#ac7,#844,#b64,#38c,#933,#b94,#29e,#19e,#06e,#18e,#17e,#05e,#06e,#07e,#19e,#7ba,#c20,#800,#b51,#6dc,#13c,#03b,#16e,#6dc,#b83,#e61,#d83,#c94,#ac8,#5cd,#6bb,#8b9,#b74,#b52,#e70,#c20,#a20,#b52,#bd7,#6dd,#3be,#4ce,#6cc,#9b7,#d71,#c20,#a20,#b52,#7db,#38e,#26e,#29e,#5cd,#ad8,#c73,#c20,#e61,#db4,#ac8,#8db,#6dc,#7ba,#aa6)"></i><i style="height:2px;background:linear-gradient(90deg,#25c,#4bd,#27d,#28d,#28d,#4cd,#3ad,#3ad,#36c,#d62,#d62,#c53,#7cb,#29e,#15e,#04c,#06e,#04d,#15c,#2ae,#877,#a52,#800,#800,#e50,#5cd,#19e,#4ac,#8b9,#ea3,#e60,#e61,#c83,#cb6,#8c9,#5dd,#7db,#ad7,#bb6,#e70,#900,#900,#b40,#cb5,#3ad,#59b,#6bc,#bd8,#cb5,#db4,#d40,#b10,#e81,#8a9,#6dd,#4bd,#57b,#57b,#6aa,#9c9,#b95,#c30,#b20,#d51,#cb5,#9c9,#4cd,#5dd,#8ca)"></i><i style="height:2px;background:linear-gradient(90deg,#27d,#27d,#945,#b95,#945,#5cd,#29e,#24b,#8ca,#7ba,#a32,#c63,#26d,#18e,#17e,#05d,#05e,#07e,#17e,#06d,#2ae,#da3,#900,#800,#ca5,#27e,#15b,#14b,#28e,#5cc,#c41,#b31,#cb5,#48d,#3be,#6dc,#4ce,#2ae,#3ae,#4ac,#cc6,#d40,#910,#c20,#d81,#ae8,#6cc,#4ce,#3be,#3ae,#6dc,#bd7,#d61,#b20,#a20,#d41,#8da,#7ba,#9c9,#8db,#4ce,#4cd,#5dd,#8da,#e92,#d50,#d92,#ab7,#58a)"></i><i style="height:2px;background:linear-gradient(90deg,#4cd,#25d,#18e,#3be,#2ae,#15d,#955,#944,#b73,#5bc,#38c,#27d,#27e,#19f,#4ad,#17e,#02a,#03c,#04e,#06e,#2ae,#d83,#a10,#800,#d61,#6dc,#18e,#05e,#16e,#4cd,#da4,#db4,#9b8,#6dc,#3be,#4be,#8ca,#9b8,#8ba,#9c9,#ca3,#b20,#b10,#d92,#ad8,#7cb,#5dd,#5de,#4ad,#4ce,#8ca,#b63,#a20,#a10,#d51,#966,#767,#8ba,#4ce,#6cc,#7cb,#6cc,#ca4,#e50,#b20,#e92,#8ca,#6dc,#5dd)"></i><i style="height:2px;background:linear-gradient(90deg,#4ad,#28d,#29d,#29d,#5cd,#6cc,#3ad,#26d,#833,#bb6,#47b,#34b,#26d,#17e,#13a,#03b,#17e,#07e,#28d,#3be,#29e,#7ca,#800,#800,#a20,#9c8,#3be,#2be,#7bb,#bb6,#ca4,#e70,#c73,#9c9,#49c,#35b,#4bd,#8da,#bd6,#a86,#d73,#e51,#910,#a10,#d30,#9d9,#38d,#36c,#39d,#3bd,#6dd,#ad8,#ca4,#e51,#a10,#d60,#aa6,#9b8,#8da,#7db,#bb6,#cc5,#cc5,#ca4,#e81,#e40,#c30,#ea2,#9b8)"></i><i style="height:2px;background:linear-gradient(90deg,#28d,#26d,#845,#b75,#735,#28e,#4ce,#3ad,#38c,#6bb,#37b,#36c,#b84,#4ce,#05e,#03d,#14c,#02b,#03b,#16e,#3be,#dd5,#900,#800,#b41,#9c9,#18e,#18e,#3ae,#ad8,#e81,#ea2,#9b8,#ae8,#b94,#8ca,#4cd,#3be,#9c9,#b84,#a42,#b20,#a10,#a20,#c52,#6dc,#36a,#25c,#4ce,#987,#c84,#8ca,#e81,#b20,#d40,#cd6,#6bb,#4cd,#6bb,#ad8,#9b8,#6dc,#6aa,#aa6,#d82,#e92,#9c8,#7ec,#7bb)"></i><i style="height:2px;background:linear-gradient(90deg,#3ad,#25d,#a85,#17e,#29e,#29e,#17e,#3ad,#37c,#833,#b43,#733,#27e,#3bf,#05e,#03d,#03d,#05e,#04e,#04c,#15d,#6cc,#c20,#800,#b31,#9d9,#27e,#15e,#15d,#5cc,#e81,#e61,#c95,#7cb,#3be,#4be,#4ce,#4ce,#9b8,#c83,#c31,#a10,#c20,#ba6,#8ca,#5cc,#4ad,#5de,#6cc,#5cd,#8da,#d71,#a10,#c20,#d62,#bb6,#8ca,#6bc,#5dd,#4de,#7db,#b53,#b41,#a20,#d40,#7db,#4cd,#7dc,#7cb)"></i></div><div class="hm" style="left:1518px;top:73px;width:341px;height:662px;overflow:hidden"><i style="height:2px;background:linear-gradient(90deg,#15d,#2ae,#16e,#17e,#29e,#18e,#29e,#934,#4ac,#38c,#24c,#16f,#02c,#01a,#03d,#03d,#03d,#03c,#02b,#05e,#3ae,#7ba,#c40,#900,#c93,#7dc,#29d,#2ae,#5bc,#cc6,#c30,#e50,#9c8,#29e,#3ce,#9d9,#cb5,#e81,#e60,#ba5,#7db,#4ce,#4cd,#d92,#c30,#d71,#db4,#cc5,#9b7,#c94,#a42,#c41,#d71,#bb6,#ad8,#8da,#8b9,#b94,#e71,#ca3,#788,#699,#bc7,#c83,#d62,#e71,#eb3,#da3,#9d9)"></i><i style="height:2px;background:linear-gradient(90deg,#ac7,#28d,#29d,#3ad,#24c,#29d,#39d,#6cc,#c52,#a33,#25d,#28e,#15d,#04b,#02a,#02a,#04e,#16e,#06e,#07e,#17e,#5bb,#b10,#800,#d40,#9c9,#29e,#28e,#6bc,#d71,#c20,#c51,#ba5,#48c,#17e,#3bd,#bb6,#e40,#e50,#bb6,#3ad,#26d,#27c,#48c,#bb6,#d50,#e50,#b84,#a96,#ad8,#9c9,#bb5,#d40,#b20,#d40,#dc4,#ab7,#8da,#5ab,#ab7,#d92,#d93,#ba5,#bb6,#dc5,#c63,#854,#c41,#c41)"></i><i style="height:2px;background:linear-gradient(90deg,#5cc,#6cc,#37c,#943,#ba5,#ca5,#c63,#822,#d71,#45b,#833,#798,#26b,#16e,#19e,#19e,#29e,#29e,#2ae,#1ae,#4ce,#ea2,#800,#800,#d40,#9c9,#7db,#b84,#a62,#a10,#800,#c20,#da3,#8ba,#6dd,#9c9,#c30,#800,#900,#b51,#c83,#ac7,#9c8,#db4,#c30,#910,#d40,#db4,#7bb,#bb6,#eb3,#e50,#900,#c20,#b95,#8ca,#ac7,#bb5,#e70,#b10,#910,#b20,#d41,#e61,#d71,#e71,#e50,#d50,#e60)"></i><i style="height:2px;background:linear-gradient(90deg,#29d,#4cd,#bc7,#3bd,#b75,#a54,#a44,#933,#b42,#37c,#39d,#28e,#18e,#17e,#05e,#06e,#17e,#03c,#02b,#02b,#2be,#d82,#800,#800,#b30,#8da,#3be,#4bd,#bc7,#d61,#910,#d40,#7ba,#39e,#2ae,#5dd,#bc7,#c30,#910,#d51,#6aa,#28e,#26d,#49c,#e92,#c30,#e91,#cc5,#ba5,#c94,#c83,#e61,#c30,#e50,#da3,#8c9,#9b8,#ca4,#d51,#b41,#a20,#a31,#cc5,#9c9,#bb7,#bb6,#ab6,#c83,#e92)"></i><i style="height:2px;background:linear-gradient(90deg,#b53,#33a,#338,#934,#834,#39d,#35c,#822,#921,#c52,#48b,#49c,#2ae,#16e,#15d,#17e,#19e,#28e,#14b,#15b,#3ae,#c73,#800,#800,#a10,#a96,#7cb,#8ca,#ca4,#b30,#800,#a10,#ea2,#9b9,#5dd,#5cd,#bc7,#e50,#800,#a10,#ea2,#9c9,#6dc,#bc7,#da3,#d40,#a10,#d30,#d92,#8da,#ac7,#b74,#933,#a20,#c30,#e60,#e81,#d72,#b52,#e71,#e81,#b20,#a10,#b20,#c41,#ea2,#ea3,#da3,#e50)"></i><i style="height:2px;background:linear-gradient(90deg,#3ad,#23a,#26d,#b64,#b65,#b64,#a44,#c73,#c62,#833,#bb5,#19f,#06e,#05e,#04d,#02b,#03b,#03d,#04d,#06e,#19e,#8b9,#800,#800,#d60,#59b,#16e,#19e,#7db,#dc5,#e60,#c20,#d92,#4ad,#25c,#3be,#ab8,#c63,#b20,#d50,#ad9,#5cd,#5bc,#cb5,#b41,#b20,#b30,#e71,#cb5,#bc7,#cb5,#d72,#e50,#d40,#ea2,#9b8,#7cb,#ac8,#ea2,#e61,#e50,#d60,#bc6,#9b9,#cc6,#e92,#c41,#d51,#d41)"></i><i style="height:2px;background:linear-gradient(90deg,#28d,#26d,#bb6,#734,#734,#b84,#944,#49c,#47b,#c63,#5cd,#14d,#03b,#04e,#04d,#03c,#03c,#05e,#28e,#3ae,#4cd,#bb5,#900,#800,#e70,#7ca,#5cd,#7cb,#da4,#e60,#c20,#da3,#9d9,#8da,#8ca,#d92,#a10,#900,#e60,#ad8,#6bc,#9c9,#d72,#c30,#c40,#ca4,#db4,#cb4,#cb4,#e71,#a20,#a10,#c63,#bc6,#7ca,#6bb,#eb3,#e71,#d71,#d82,#d61,#d82,#db4,#cb5,#ea2,#d50,#e61,#e61,#b74)"></i><i style="height:2px;background:linear-gradient(90deg,#24c,#239,#734,#29d,#29d,#3ad,#28d,#ca4,#a32,#6bb,#4ad,#5dd,#29e,#06e,#06e,#06e,#05e,#07e,#29e,#18e,#15c,#5ab,#800,#800,#e80,#6bb,#4cd,#9c9,#c83,#d40,#910,#b30,#da4,#2ae,#4ce,#a76,#943,#910,#a10,#ac8,#5bc,#6dc,#9c9,#bb6,#d50,#b20,#d51,#bb7,#59b,#7ba,#d62,#d30,#c30,#d30,#cb5,#7b9,#7cb,#dc4,#d51,#d30,#e71,#e91,#db4,#ad8,#ab7,#eb3,#d61,#e60,#d92)"></i><i style="height:2px;background:linear-gradient(90deg,#4ad,#b64,#ba5,#3ad,#5cd,#a44,#33b,#a33,#922,#ca3,#9c9,#19e,#18e,#19e,#17e,#05e,#06e,#07e,#05e,#14b,#27e,#cb4,#800,#800,#d60,#7cb,#6cc,#6dc,#bb6,#c20,#900,#b31,#d83,#9a7,#9b8,#d82,#d40,#d30,#d83,#679,#38d,#6cc,#ac7,#e81,#b20,#d40,#ea3,#cc6,#9b8,#ab7,#e71,#a10,#a10,#d61,#bb6,#9b8,#bb6,#ea3,#c30,#a20,#d40,#ca4,#ac7,#bb5,#b63,#b51,#b20,#e50,#ea2)"></i><i style="height:2px;background:linear-gradient(90deg,#27d,#26d,#934,#25c,#3ad,#26d,#5bc,#34b,#6bb,#b42,#c63,#b84,#18e,#29e,#4ad,#2ae,#19e,#2ae,#17e,#17d,#8da,#c52,#800,#800,#a20,#aa6,#4bd,#3ce,#ad8,#854,#910,#910,#e81,#bc7,#7db,#ab7,#e71,#a10,#b20,#da4,#ab7,#aa6,#a75,#953,#c20,#c20,#d51,#bb6,#cd6,#d82,#d41,#a10,#910,#a20,#b64,#ba4,#db4,#e92,#d30,#c30,#d40,#d51,#c52,#b64,#e61,#e40,#c40,#d41,#da3)"></i><i style="height:2px;background:linear-gradient(90deg,#4ce,#15e,#8ca,#16e,#16e,#2ae,#27e,#734,#c63,#b73,#745,#17e,#01a,#01a,#01a,#01a,#04d,#05e,#04d,#03d,#18e,#bd7,#900,#800,#c51,#6bb,#2ae,#2ae,#8ba,#e81,#e60,#bc6,#8ca,#5cc,#3ce,#6dc,#ec4,#e60,#bb6,#5cd,#29e,#18e,#5cc,#b84,#c63,#cc6,#5bb,#4ac,#6dc,#8ca,#cc6,#c41,#b41,#e72,#ac8,#58b,#68a,#9b9,#d81,#c63,#c84,#ac8,#ab8,#7ba,#699,#8a8,#bb6,#bb7,#9d9)"></i><i style="height:2px;background:linear-gradient(90deg,#24c,#25d,#734,#b94,#a54,#26d,#833,#c93,#c52,#932,#833,#b94,#a85,#16e,#15b,#03c,#15e,#04e,#05e,#17e,#6cc,#964,#800,#800,#b30,#8b9,#28e,#2ae,#bb5,#b53,#a10,#900,#d41,#cb5,#8ca,#8b9,#c94,#a30,#a10,#d40,#ab7,#59b,#9c9,#d62,#b20,#a20,#d40,#ba5,#bb6,#ab6,#c84,#c30,#a10,#a20,#c31,#e92,#d92,#c94,#e60,#c30,#910,#a20,#c83,#c94,#e92,#d81,#e70,#d40,#e70)"></i><i style="height:2px;background:linear-gradient(90deg,#28d,#27d,#39d,#28d,#24c,#28d,#6cb,#c73,#a32,#c53,#934,#26e,#14c,#05e,#04e,#03d,#03d,#06e,#17e,#07e,#16e,#6bb,#a10,#800,#d30,#8da,#19e,#18e,#5dd,#cb5,#910,#b30,#b85,#6dc,#2ae,#4bd,#d62,#b20,#910,#a41,#ba5,#6bb,#7bb,#ab7,#e70,#c20,#a53,#b85,#9d9,#8da,#bb6,#d40,#a20,#b30,#bc7,#8b9,#9c9,#bd7,#c83,#e60,#e81,#dc4,#b94,#b75,#c52,#e51,#e71,#e61,#eb2)"></i><i style="height:2px;background:linear-gradient(90deg,#4bd,#39d,#4bd,#4ad,#bb6,#28d,#38c,#c83,#c52,#d72,#b53,#b84,#2ae,#28e,#06e,#05e,#04c,#05d,#06e,#16d,#2ae,#bc6,#800,#800,#d40,#6dc,#29e,#4ce,#9d9,#e81,#b10,#c40,#ac7,#4bd,#38d,#4cd,#d82,#a20,#900,#d51,#bb5,#ac8,#aa6,#b74,#e70,#d30,#e50,#ba5,#cc6,#cb5,#d73,#b31,#910,#b20,#a43,#b64,#b75,#b74,#a32,#b20,#c20,#e71,#d92,#ca4,#ac8,#aa6,#e71,#e60,#e92)"></i><i style="height:2px;background:linear-gradient(90deg,#24c,#39d,#23b,#4bd,#4bd,#4bd,#7ca,#49c,#48b,#5ab,#37c,#25c,#15e,#03a,#04c,#17e,#06e,#05e,#07e,#2ae,#6cc,#c62,#800,#800,#e50,#48b,#26c,#2ae,#bc7,#d41,#a10,#e60,#bb7,#5dd,#5cd,#6dc,#e92,#900,#a20,#c84,#8db,#59b,#8b9,#c63,#910,#b20,#d92,#ac7,#6cc,#9d9,#c62,#910,#c20,#aa6,#8db,#ab7,#d61,#a20,#a20,#e60,#ab6,#8a8,#9b7,#ab7,#d81,#d40,#d50,#da3,#bb6)"></i><i style="height:2px;background:linear-gradient(90deg,#5cd,#26d,#25d,#29d,#2ae,#b84,#7cb,#c94,#cb5,#37c,#7cb,#4be,#18e,#03c,#04d,#17e,#06e,#23a,#02a,#07e,#7ca,#d82,#800,#800,#b40,#8da,#2be,#29e,#4bd,#ea3,#a10,#b30,#d83,#5de,#27e,#38d,#9b9,#d50,#a10,#c51,#c84,#997,#8ba,#6cc,#c73,#a10,#b30,#da3,#6dc,#7db,#ad9,#c73,#a20,#b30,#e61,#bb6,#7cb,#9b8,#ea3,#d92,#e60,#d50,#e92,#bb5,#b95,#cd6,#cc5,#c83,#b53)"></i><i style="height:2px;background:linear-gradient(90deg,#24c,#3ad,#a54,#39d,#26d,#28d,#5cd,#6bc,#36b,#7ca,#27d,#27e,#19e,#2ae,#4bd,#17e,#06e,#04d,#03b,#04e,#3ce,#cb6,#800,#800,#ea2,#5dd,#2ae,#4ce,#8ca,#e81,#a10,#c73,#9d9,#6dc,#4ce,#6cc,#e81,#d40,#ca5,#6cc,#28e,#5cd,#bd7,#e60,#a10,#933,#b75,#5cc,#58a,#db3,#b40,#c30,#d60,#ea3,#ba5,#d83,#d82,#d51,#d51,#e60,#cc6,#6bb,#ac7,#dc5,#ea2,#d81,#d92,#e71,#d62)"></i><i style="height:2px;background:linear-gradient(90deg,#bb6,#25d,#26d,#29d,#3bd,#b84,#b64,#c53,#c52,#832,#c73,#29d,#9c8,#17e,#03c,#05e,#04e,#04e,#17d,#29e,#3ae,#bb6,#910,#800,#d50,#ac7,#3ae,#3be,#cc6,#e50,#d50,#bb6,#5cd,#4ce,#5bc,#cd7,#d71,#c20,#e40,#bd7,#3ad,#3be,#7db,#db4,#e71,#d40,#d50,#cb5,#7db,#7db,#7cb,#ca4,#d30,#b20,#c31,#d72,#ad7,#8b9,#dc4,#e71,#d40,#d51,#c41,#b94,#ac8,#bc6,#d61,#b41,#d41)"></i><i style="height:2px;background:linear-gradient(90deg,#29d,#26d,#844,#734,#4be,#8ca,#4ad,#c63,#a33,#49c,#4bd,#15d,#04d,#14d,#04e,#03d,#15d,#03b,#14b,#06e,#3ce,#db3,#800,#800,#d41,#5cd,#2ae,#4ce,#ca4,#b30,#a10,#bb6,#5dd,#3ce,#7db,#cc6,#e92,#d60,#da3,#bb5,#5cd,#39e,#7db,#c73,#d40,#d40,#db3,#7ba,#8da,#b85,#b41,#d40,#d60,#9b8,#9c9,#8b9,#6cc,#ac8,#d40,#b30,#b41,#d92,#9b8,#8da,#cb5,#d51,#b41,#b41,#d62)"></i><i style="height:2px;background:linear-gradient(90deg,#25d,#29d,#26d,#239,#4ce,#26e,#26d,#7ca,#36c,#35c,#4bd,#6cc,#15c,#04e,#03d,#04d,#03d,#04e,#02c,#03d,#3ce,#b64,#800,#800,#e61,#3ad,#17e,#2ae,#ac8,#b63,#a20,#d40,#cc5,#7ba,#5bc,#9c8,#d92,#b20,#b30,#d82,#7dc,#3be,#6dc,#c84,#a20,#b20,#d61,#ba6,#ac7,#ca4,#e72,#c30,#b30,#d51,#9c9,#9d9,#db4,#ea2,#d61,#e60,#d61,#ba5,#8b9,#bd8,#d82,#d61,#d81,#ba5,#cb5)"></i><i style="height:2px;background:linear-gradient(90deg,#24c,#a64,#29d,#28d,#27e,#25d,#28d,#38c,#37c,#9c9,#28d,#966,#17e,#03c,#02b,#03b,#02a,#03b,#05e,#06e,#17e,#cd6,#900,#800,#e50,#8c9,#2ae,#2ae,#39e,#688,#c82,#d82,#8b8,#3bd,#5bc,#c94,#b63,#a10,#b20,#ca4,#9b7,#9d9,#ca4,#d61,#c20,#e81,#9b9,#48d,#4bd,#db3,#e61,#d30,#c30,#da3,#8b9,#8b9,#cc6,#e61,#e71,#e71,#c94,#bb6,#cd6,#e72,#c41,#d51,#e71,#e72,#ab7)"></i><i style="height:2px;background:linear-gradient(90deg,#4bd,#28d,#6cb,#39d,#29d,#4bd,#7ca,#37c,#46b,#36b,#5cc,#59c,#29e,#05e,#03b,#03b,#04e,#17d,#29e,#17e,#2be,#eb3,#800,#800,#e60,#37c,#28e,#6dc,#cb5,#e51,#910,#c30,#cc5,#6cb,#8da,#ac8,#e50,#b10,#d50,#cb4,#8b9,#5bd,#ab7,#d30,#a10,#d50,#bd7,#9c9,#ab7,#d61,#a20,#b30,#b53,#bc6,#9b7,#ea2,#d41,#e50,#c30,#c73,#cb5,#cb5,#e81,#e51,#e50,#e60,#d51,#c84,#b64)"></i><i style="height:2px;background:linear-gradient(90deg,#734,#6cc,#4ad,#5cd,#b64,#b84,#734,#c73,#5ab,#7ba,#39c,#6dc,#3ad,#18e,#07e,#19e,#28e,#3ae,#49c,#6bb,#7cb,#dc4,#800,#800,#d40,#8ca,#3ce,#4de,#9b8,#e71,#910,#c30,#dc5,#7cb,#8c9,#d82,#b20,#910,#e70,#cb5,#ab6,#866,#b41,#b20,#a10,#e61,#d93,#aa6,#dc4,#e81,#d40,#b30,#943,#b94,#6bb,#cb5,#e51,#d40,#e40,#c63,#eb3,#cb5,#d92,#e81,#e50,#d41,#ea2,#ca4,#cb6)"></i><i style="height:2px;background:linear-gradient(90deg,#734,#4bd,#39d,#3ad,#6cb,#25d,#4ac,#36c,#45b,#822,#4ac,#5bc,#2ae,#17e,#19e,#05e,#14d,#04d,#15e,#17e,#6bb,#d82,#800,#800,#d40,#ca4,#7ca,#4ce,#bd7,#a20,#900,#a20,#d72,#8ca,#3be,#6cc,#ca4,#a30,#900,#e92,#6aa,#5ab,#59b,#7cb,#c62,#910,#a10,#e51,#9c9,#7aa,#ac8,#e82,#d30,#c20,#c30,#c83,#ba5,#c72,#a42,#a30,#b20,#e60,#c93,#bc7,#ba5,#d62,#d61,#a20,#b20)"></i><i style="height:2px;background:linear-gradient(90deg,#29d,#29d,#24b,#3ad,#734,#b64,#734,#c73,#6bb,#6bc,#27d,#29e,#15e,#02c,#02b,#03d,#05e,#02a,#02b,#15c,#3ce,#b94,#800,#900,#d92,#3bd,#18e,#19e,#4ce,#dc4,#b20,#d30,#db4,#8ca,#3ae,#7ba,#b84,#b30,#a10,#da3,#6aa,#4bd,#6dc,#7a9,#a96,#d60,#c83,#9d9,#5cd,#6dd,#cb5,#e61,#d60,#c94,#da3,#d83,#cc6,#cb6,#d92,#e70,#e60,#ca4,#8a9,#9c8,#bc6,#b63,#b63,#c73,#b63)"></i><i style="height:2px;background:linear-gradient(90deg,#29d,#28d,#944,#28d,#3be,#3ad,#25d,#5ac,#37b,#933,#bb6,#6cc,#17e,#04e,#29e,#39d,#06e,#02a,#04d,#15e,#26d,#6bb,#900,#800,#b30,#ca4,#6cc,#5cc,#ac7,#d51,#910,#a20,#c63,#8c9,#5cd,#6bb,#aa6,#d50,#d40,#d82,#5bc,#28e,#38d,#7db,#d50,#b20,#943,#b85,#ac8,#ad8,#9c8,#c94,#d40,#d30,#e81,#cc6,#7dc,#7ba,#da3,#e70,#e60,#e61,#e72,#ba5,#bc6,#a64,#a31,#e51,#ea2)"></i><i style="height:2px;background:linear-gradient(90deg,#29d,#28d,#4bd,#29d,#845,#b64,#a44,#c63,#b42,#37c,#39d,#14c,#15e,#04d,#04e,#17d,#4bd,#18e,#17e,#29e,#8ca,#c95,#800,#800,#a20,#a97,#4cd,#3be,#2be,#ab8,#b20,#a10,#d51,#8da,#26d,#458,#8db,#d51,#910,#e50,#ab7,#4cd,#39e,#7dc,#e92,#e50,#d30,#e71,#4ac,#37c,#6bb,#cb5,#e50,#c30,#c30,#c74,#ac8,#6dc,#bb6,#c63,#b52,#b30,#d71,#9b7,#d93,#c52,#d51,#b51,#b31)"></i><i style="height:2px;background:linear-gradient(90deg,#3ad,#b74,#b54,#5cd,#944,#b94,#a44,#c63,#c72,#35b,#35c,#29d,#6cb,#18e,#14c,#02b,#03d,#17e,#18e,#06e,#16d,#7cb,#800,#800,#d81,#59b,#26d,#26c,#7cb,#d61,#a20,#c40,#d73,#ab8,#8ca,#9b8,#da3,#d30,#d30,#e82,#8ca,#3be,#5dd,#da3,#e61,#d51,#e81,#bb6,#8ca,#ac8,#d93,#d40,#a10,#a20,#b41,#c63,#c83,#d82,#e61,#d40,#d40,#c73,#cb5,#bd8,#bb5,#c83,#e61,#c63,#b63)"></i><i style="height:2px;background:linear-gradient(90deg,#b84,#a43,#a43,#b74,#25d,#238,#34b,#49b,#cb5,#d52,#b43,#27d,#16e,#18e,#3be,#6aa,#4cd,#2ae,#17e,#16e,#6cc,#d51,#800,#800,#e60,#9b8,#6cb,#49c,#7ca,#c93,#a10,#a10,#e81,#bb6,#59b,#5cd,#bb5,#b20,#910,#d50,#9c9,#5cd,#7db,#d72,#b30,#910,#b10,#ca5,#9b8,#bb5,#9c9,#e91,#910,#a10,#d40,#d62,#da3,#cb4,#ea2,#d60,#c30,#a20,#b31,#b42,#e61,#d41,#c30,#d40,#e60)"></i><i style="height:2px;background:linear-gradient(90deg,#29d,#5cc,#25d,#23a,#b75,#b74,#b84,#b53,#b42,#49c,#39c,#a75,#28d,#04e,#05d,#06e,#05e,#03d,#07e,#18e,#4cd,#b74,#800,#800,#c40,#6cc,#3be,#4cd,#9c8,#d51,#a10,#d30,#bd7,#39e,#26c,#46b,#8b9,#e50,#a10,#c31,#cc6,#3be,#3be,#cb5,#d51,#c30,#e70,#ea3,#bc7,#8db,#5cc,#dc5,#a20,#b20,#d40,#cb6,#7aa,#48c,#7ca,#e61,#b20,#d40,#e81,#b52,#d83,#cb5,#cc5,#ba5,#da3)"></i><i style="height:2px;background:linear-gradient(90deg,#27e,#28d,#4cd,#955,#745,#27e,#28d,#36c,#49c,#c53,#b64,#877,#03b,#04e,#28d,#18e,#05e,#18e,#29e,#07e,#3ce,#d82,#800,#800,#d41,#9b7,#4cd,#7cb,#942,#a10,#a20,#d72,#5dd,#27d,#4de,#d72,#b20,#a10,#a31,#ac8,#8ba,#bb6,#c73,#d71,#e70,#c41,#955,#9c9,#6dc,#ad8,#b63,#a20,#b20,#eb3,#8ca,#8ca,#bb6,#db4,#db4,#e92,#e81,#ea3,#cc6,#ba6,#c52,#c51,#c41,#e61,#e82)"></i><i style="height:2px;background:linear-gradient(90deg,#24c,#7cb,#b84,#29d,#29d,#29d,#24c,#4ac,#33a,#c62,#c63,#b94,#3ce,#16d,#05e,#03c,#02a,#03d,#04e,#03d,#16e,#7cb,#b10,#900,#c93,#6ab,#19e,#3be,#5cd,#cd6,#c31,#b10,#e92,#8c9,#3be,#29e,#3be,#9b8,#d40,#910,#b20,#a75,#9c9,#7ba,#bb6,#e92,#b20,#910,#933,#b75,#a86,#cc6,#ac8,#bb6,#d60,#c20,#c40,#d72,#cc5,#9b8,#8b9,#d92,#b20,#b30,#a31,#a52,#d73,#d93,#c62)"></i><i style="height:2px;background:linear-gradient(90deg,#4ad,#5bd,#27d,#4bd,#7cb,#3ad,#5bd,#b43,#932,#8b9,#b43,#28e,#15d,#15d,#03b,#15b,#03a,#18e,#19e,#2ae,#4ce,#db5,#800,#800,#b30,#9d9,#6cc,#8db,#ac8,#e50,#900,#d60,#7da,#4ce,#28e,#5dd,#e71,#a10,#b20,#d61,#c83,#ac8,#8da,#ca4,#a21,#a10,#a10,#d61,#ad7,#8ca,#8ca,#ea3,#e50,#c20,#d40,#ea2,#dc4,#d73,#d62,#d41,#b20,#b20,#e92,#ba5,#cd6,#b94,#d82,#e61,#d40)"></i><i style="height:2px;background:linear-gradient(90deg,#28d,#26d,#27d,#26d,#944,#b74,#6cc,#48c,#922,#c72,#37c,#4cd,#16d,#03b,#15b,#02a,#04b,#03c,#15b,#17e,#4cd,#dc5,#800,#800,#c20,#7bb,#29e,#5de,#a75,#a20,#900,#c30,#b95,#7cb,#47b,#56a,#bc7,#d40,#d30,#e71,#bc7,#3ae,#57b,#9b8,#e81,#b20,#c30,#d82,#ac8,#8ba,#9c9,#c73,#b31,#910,#b40,#bb6,#799,#b52,#b52,#b40,#e50,#e71,#9a8,#799,#9b8,#cc6,#e92,#d40,#c30)"></i><i style="height:2px;background:linear-gradient(90deg,#b64,#b94,#b84,#5cd,#26d,#b54,#5cd,#5ac,#6bb,#d62,#833,#5cd,#29f,#17e,#04d,#04e,#06e,#07e,#06e,#14d,#26b,#ad9,#800,#800,#b20,#8da,#5dd,#6cb,#a86,#d51,#c20,#d30,#c74,#a96,#7db,#7cb,#db5,#c41,#a10,#a20,#cb5,#ac7,#8ca,#ac8,#e81,#c30,#b20,#d51,#da3,#cc5,#db4,#c73,#b30,#910,#e60,#ab7,#bd7,#bc7,#ca4,#d50,#a10,#b20,#c41,#c52,#b74,#d52,#c51,#c30,#b20)"></i><i style="height:2px;background:linear-gradient(90deg,#16e,#6cc,#3be,#17e,#14d,#3ae,#27d,#38d,#5bc,#833,#944,#16e,#04e,#02b,#13c,#05e,#17d,#17d,#04d,#04e,#18e,#c93,#900,#800,#d41,#4cd,#19e,#4ce,#8da,#bb6,#d40,#e70,#cc6,#8ba,#19e,#49c,#8b8,#e60,#c20,#d73,#aa6,#7ca,#7db,#bb5,#e71,#e50,#e91,#ac7,#ac8,#8ca,#cc6,#e92,#e60,#c93,#8a8,#ad8,#9d9,#9d9,#b94,#c41,#a20,#943,#b74,#ad7,#ad8,#b95,#cb4,#da3,#eb3)"></i><i style="height:2px;background:linear-gradient(90deg,#28d,#25d,#4bd,#27d,#4bd,#4bd,#b64,#833,#b42,#a32,#39c,#25d,#4bd,#18e,#07e,#17e,#29e,#2ae,#18e,#06e,#4ce,#dc4,#800,#800,#d71,#5dd,#2ae,#17e,#48b,#da3,#b10,#d50,#bd7,#ab6,#8c9,#6cc,#cb5,#d30,#b10,#e81,#bb6,#7db,#5cd,#bb7,#b53,#910,#b30,#d52,#c73,#a86,#d82,#e71,#d40,#e40,#da4,#9c9,#bd7,#d92,#e71,#e60,#d30,#b30,#a41,#da3,#9b8,#d82,#c41,#d40,#ea2)"></i><i style="height:2px;background:linear-gradient(90deg,#25d,#4cd,#845,#955,#18e,#3ae,#844,#33b,#49c,#4ac,#944,#996,#05e,#04d,#07e,#18e,#03c,#03b,#029,#04e,#4ce,#b85,#800,#800,#b31,#b95,#5cd,#6ba,#db4,#d30,#d92,#9b9,#4bd,#3be,#5bd,#7cb,#da4,#d40,#e80,#ca4,#4ce,#28e,#4be,#ad8,#e71,#d30,#e81,#7dc,#3ad,#4cd,#6dc,#db4,#e70,#d30,#e71,#8b9,#9c9,#9c9,#9d9,#d92,#c30,#b51,#d51,#dd5,#ab7,#bd7,#ba5,#c83,#c63)"></i><i style="height:2px;background:linear-gradient(90deg,#b74,#26d,#24c,#4bd,#5cd,#4bd,#26d,#38c,#a32,#932,#933,#24c,#27c,#17e,#06d,#19e,#06e,#18e,#2ae,#3ae,#4cd,#cb5,#800,#800,#b30,#9b8,#6cb,#8b9,#7cb,#ca5,#a10,#a10,#ea3,#49b,#2ae,#6bb,#ca4,#c20,#900,#a20,#a54,#8ba,#6cb,#bb6,#d41,#910,#a10,#e61,#cc5,#b94,#ca4,#d83,#d30,#b20,#c30,#d62,#c63,#942,#b41,#b30,#b20,#e70,#bb6,#bc6,#ba5,#cb4,#e91,#e70,#e81)"></i><i style="height:2px;background:linear-gradient(90deg,#27e,#24d,#5cd,#23a,#29e,#2ae,#b94,#833,#833,#933,#28d,#39d,#02a,#04d,#17e,#05e,#02d,#05e,#04d,#04e,#5cd,#b85,#910,#800,#e61,#5de,#17e,#29e,#aa6,#b53,#e40,#ea2,#7ba,#4ac,#5dd,#c84,#b41,#d40,#d60,#ab7,#8db,#7db,#a96,#a42,#b30,#e60,#bb6,#6cb,#7cb,#8ba,#d82,#a31,#d30,#d93,#dc4,#ab6,#aa6,#ba5,#d71,#c30,#c63,#9a8,#689,#9b8,#ab7,#8b9,#e61,#d51,#cb5)"></i><i style="height:2px;background:linear-gradient(90deg,#b64,#734,#734,#a54,#b74,#26d,#4ad,#c83,#932,#c72,#34b,#48c,#3ce,#05e,#18e,#3ad,#06d,#03b,#06e,#3be,#6cb,#b84,#800,#800,#d70,#4ac,#2ae,#19e,#45a,#58c,#d93,#a10,#d40,#5bb,#27d,#6dc,#966,#a31,#a10,#a10,#c73,#ac8,#49b,#7ba,#da3,#a20,#a20,#b40,#b74,#a96,#c73,#b52,#b20,#910,#d51,#e92,#c82,#b85,#b74,#b41,#a20,#e40,#d51,#b52,#c62,#b74,#d61,#d40,#e60)"></i><i style="height:2px;background:linear-gradient(90deg,#28d,#39d,#a54,#ac8,#734,#834,#944,#cb5,#47b,#34b,#933,#28d,#5cd,#18e,#19e,#18e,#03b,#03b,#02b,#03c,#28e,#e72,#800,#800,#b30,#6cc,#17e,#4bd,#ab7,#d62,#a10,#b20,#ac7,#3ad,#7db,#976,#c94,#d61,#c40,#bb6,#57a,#26d,#5cd,#db3,#d50,#a10,#e50,#d72,#b96,#ad8,#cb4,#e51,#910,#a10,#a31,#c72,#c83,#d62,#e61,#e60,#d30,#e71,#d71,#b84,#b84,#b54,#e51,#e70,#ea2)"></i><i style="height:2px;background:linear-gradient(90deg,#24b,#27d,#bb6,#b64,#4bd,#9c8,#6cc,#34b,#b42,#37c,#4bd,#3be,#06e,#03b,#03b,#06e,#29e,#06e,#02a,#04c,#3ae,#bb6,#800,#800,#e92,#4cd,#19e,#29e,#69a,#ba6,#b10,#b30,#ba5,#4ce,#29e,#5cc,#798,#e70,#c30,#ba6,#8ca,#8b9,#cb4,#d72,#e81,#d92,#aa7,#8ca,#7cb,#8da,#ab7,#e61,#a20,#e51,#da3,#cc6,#dc4,#da3,#d71,#d40,#b20,#d51,#d82,#844,#844,#a41,#e61,#b30,#b51)"></i><i style="height:2px;background:linear-gradient(90deg,#7ca,#39d,#734,#944,#734,#39d,#238,#36c,#8b9,#d72,#c83,#9c9,#19f,#25c,#03b,#03b,#16e,#18e,#29e,#28e,#3ce,#db5,#800,#800,#c30,#5bb,#27d,#28e,#6dd,#c83,#900,#c20,#9b8,#4bd,#6cc,#c94,#a31,#a10,#c30,#aa6,#5cc,#5cd,#7db,#bc6,#c20,#910,#b30,#b74,#6dc,#7ba,#dc4,#d70,#d40,#d30,#da3,#8b9,#da4,#c52,#e81,#d72,#d30,#b40,#a41,#a42,#a42,#e71,#d40,#d30,#d51)"></i><i style="height:2px;background:linear-gradient(90deg,#23a,#28d,#734,#28d,#28d,#6cc,#38d,#37c,#c42,#d72,#c63,#28d,#28e,#19e,#04e,#04b,#04c,#16e,#15d,#04d,#26d,#8a9,#800,#800,#b20,#ad8,#39d,#18e,#3ce,#6bc,#e92,#910,#b20,#bc6,#448,#25a,#7bb,#d71,#a10,#a10,#c83,#9c9,#4bd,#49d,#5ab,#d71,#c20,#d40,#d72,#bc6,#9d9,#ab7,#e50,#a10,#a20,#e61,#cd6,#8b9,#e92,#c31,#b20,#c20,#e50,#d71,#d92,#db4,#eb2,#e61,#d30)"></i><i style="height:2px;background:linear-gradient(90deg,#944,#734,#bb6,#5bd,#3ad,#239,#27d,#c93,#d72,#d62,#833,#b94,#557,#15c,#14b,#04b,#03d,#05e,#18e,#19e,#28d,#9b9,#800,#800,#d40,#5bb,#5bd,#4bd,#8da,#e40,#900,#d40,#7aa,#5ac,#8ca,#ca4,#b30,#900,#a20,#cd6,#4ad,#4bd,#ac7,#a31,#b20,#c20,#e61,#d83,#c74,#c73,#e81,#e70,#c50,#d93,#9a7,#bb6,#d82,#ea2,#d71,#c20,#c30,#ca4,#bb6,#da3,#e82,#e91,#d82,#e50,#d51)"></i><i style="height:2px;background:linear-gradient(90deg,#28d,#28d,#b64,#b64,#734,#ba5,#3ad,#36c,#47b,#6bb,#36c,#29d,#19e,#18e,#04e,#04b,#02b,#04b,#14b,#03b,#4ce,#a42,#800,#800,#e60,#6cb,#38c,#18e,#16e,#9b8,#b41,#910,#b30,#c62,#7da,#4be,#aa6,#a31,#a10,#c20,#db4,#8ca,#4ce,#7db,#ca4,#e40,#d71,#9b8,#9d9,#8ca,#8ca,#aa6,#e60,#b20,#d40,#d62,#d73,#da3,#e91,#d40,#c30,#c30,#d51,#954,#cc5,#ab7,#da4,#d93,#ba5)"></i><i style="height:2px;background:linear-gradient(90deg,#29d,#4bd,#3ad,#28d,#b74,#a64,#a44,#833,#c52,#cb4,#34b,#4cd,#16e,#04e,#04c,#02b,#04d,#04c,#15d,#2ae,#8da,#d93,#800,#800,#d82,#4cd,#15e,#26b,#47b,#aa7,#d40,#e60,#8da,#2ae,#4be,#ab7,#844,#910,#a10,#da3,#37d,#39e,#3ad,#ac8,#a20,#a10,#d40,#d93,#9e9,#9da,#bc6,#c83,#a10,#d40,#bb6,#659,#658,#8b9,#e71,#e50,#e50,#d60,#da3,#b94,#965,#b52,#ea2,#ea2,#d51)"></i><i style="height:2px;background:linear-gradient(90deg,#5cd,#28d,#3ad,#28d,#bb6,#a54,#b64,#bc7,#37b,#33a,#5bc,#2ae,#14b,#03b,#04d,#05e,#06e,#28d,#29e,#05e,#27e,#8c9,#800,#800,#d92,#bd7,#7ca,#7cb,#987,#a62,#b20,#a20,#b41,#ab7,#5dd,#6ab,#cb5,#d30,#b20,#db4,#69a,#37d,#69a,#d71,#a20,#c20,#ba6,#9b8,#a86,#c73,#e71,#c20,#b20,#d51,#d82,#cc5,#ba6,#c93,#e70,#e50,#c83,#ab6,#bb7,#ea2,#d51,#e51,#d40,#b63,#d82)"></i><i style="height:2px;background:linear-gradient(90deg,#28d,#3ad,#39d,#3ad,#28d,#734,#a44,#37c,#5ab,#36b,#34b,#3ad,#29e,#16e,#14c,#04b,#03b,#04e,#06e,#19e,#8ba,#b52,#800,#800,#e60,#6dc,#4de,#3be,#8ca,#eb3,#b10,#a10,#ba5,#6cc,#5bc,#7ba,#c83,#a10,#910,#d81,#bd7,#9a7,#ad8,#c94,#d40,#d40,#e51,#c93,#cc5,#d93,#e82,#b20,#a20,#c30,#c84,#b95,#bd6,#d71,#e50,#e50,#da3,#ba5,#db3,#c82,#d82,#e92,#e82,#d92,#ea3)"></i><i style="height:2px;background:linear-gradient(90deg,#24c,#4cd,#3ad,#27e,#5cd,#28e,#4cd,#38c,#38c,#c73,#986,#16e,#14c,#02b,#04d,#03e,#04d,#03e,#03c,#03d,#17e,#9c9,#800,#800,#e71,#7db,#2ae,#16e,#3ce,#9c8,#d82,#e40,#d92,#6cc,#3ce,#6dc,#cd6,#e60,#c30,#c73,#ba6,#997,#9c9,#c93,#b31,#b20,#e71,#8c9,#6cc,#7db,#db4,#e71,#e50,#ea1,#ab7,#9c9,#8da,#9c9,#d92,#d40,#a30,#d51,#b85,#cc6,#ac7,#ea2,#b41,#a31,#a42)"></i><i style="height:2px;background:linear-gradient(90deg,#239,#28d,#3ad,#29d,#29d,#27d,#4bd,#34b,#d72,#b42,#38c,#3ae,#15e,#05e,#07e,#06e,#04d,#05e,#06d,#06e,#2ae,#b74,#800,#800,#b30,#a96,#4ce,#16e,#29d,#ad8,#d30,#910,#e51,#bb6,#5dd,#29e,#5ab,#ec4,#910,#a10,#ab7,#39d,#3be,#28d,#4ac,#da4,#d40,#d71,#ba6,#ad8,#ab6,#b96,#b42,#b30,#a10,#b20,#b41,#db4,#9c9,#b84,#a31,#b20,#b30,#d40,#e81,#c72,#d82,#ab7,#cb5)"></i><i style="height:2px;background:linear-gradient(90deg,#5cd,#28d,#3ad,#24c,#3ad,#4bd,#8c9,#a43,#c72,#c52,#36c,#24d,#29f,#02a,#02b,#18e,#17e,#05e,#03c,#03b,#17e,#9c9,#910,#800,#e50,#6cc,#2ae,#4ce,#6dc,#ea3,#a10,#a10,#bb5,#4ce,#3bd,#bd7,#db4,#e60,#910,#c30,#cb5,#5cd,#4be,#8ca,#cb6,#e60,#c30,#d61,#bb5,#ac8,#9c9,#8a9,#a95,#e50,#d40,#ea3,#8b9,#8da,#db4,#ea2,#e40,#d40,#e60,#c74,#ab8,#7cb,#bb6,#ea2,#e70)"></i><i style="height:2px;background:linear-gradient(90deg,#b64,#834,#ba5,#27d,#29d,#28d,#4bd,#37c,#45b,#a32,#4ac,#4cd,#2be,#2ae,#07e,#04c,#03b,#03b,#04b,#04c,#17e,#bc7,#800,#800,#d60,#6cb,#3be,#3ce,#6cc,#ea2,#910,#910,#e71,#7cb,#3be,#5cd,#b74,#b41,#900,#e50,#d92,#bc6,#6ba,#ab6,#c41,#a20,#910,#b41,#a75,#bb5,#ab7,#ca4,#d60,#c20,#c30,#ca4,#bc7,#b95,#b94,#e61,#b30,#a20,#a31,#b42,#db4,#ba5,#e61,#d50,#e70)"></i><i style="height:2px;background:linear-gradient(90deg,#29d,#ba5,#834,#3ad,#4cd,#944,#734,#c83,#822,#c53,#b54,#768,#06e,#18e,#18e,#03d,#06e,#17e,#02b,#04b,#17e,#ab7,#800,#800,#d40,#7db,#2ae,#18e,#7db,#e91,#b10,#e50,#cb5,#5dd,#4ac,#5bb,#bb6,#d50,#d40,#9b8,#57a,#5bc,#5bc,#8da,#d82,#e60,#e80,#944,#954,#c84,#da4,#d51,#c30,#b30,#b31,#ca4,#8db,#bc7,#c74,#c53,#e40,#d40,#c74,#cc6,#bb6,#da3,#e61,#d41,#d61)"></i><i style="height:2px;background:linear-gradient(90deg,#2ae,#3ad,#4cd,#bb6,#a65,#635,#28d,#5cc,#339,#38c,#26d,#25c,#06e,#03d,#07e,#17e,#03d,#03c,#05e,#06e,#28e,#cb5,#900,#800,#e92,#bd6,#3be,#18e,#8ca,#e51,#910,#c31,#cc5,#6bb,#5cd,#ab7,#c30,#a10,#b31,#ba5,#9b8,#ad8,#cc5,#d51,#b20,#e51,#db4,#aa6,#ab6,#7db,#a96,#e50,#e81,#8b9,#7ba,#7b9,#cb5,#e71,#c30,#e61,#da4,#ab6,#cd6,#d82,#c93,#c94,#db4,#bb6,#bb6)"></i><i style="height:2px;background:linear-gradient(90deg,#734,#944,#a44,#734,#b94,#5cd,#38c,#c62,#922,#d52,#4ac,#7cb,#16e,#15b,#14b,#15e,#19e,#1ae,#17e,#2ae,#7dc,#c84,#800,#800,#a20,#bb5,#6dc,#9b8,#bb6,#e71,#910,#910,#e92,#8da,#8db,#bc7,#e71,#a20,#900,#a20,#c63,#7db,#6ba,#ab8,#e50,#910,#e50,#8a8,#67a,#6cc,#ac7,#e50,#a20,#a10,#e92,#bb6,#cb5,#da3,#e50,#a10,#a20,#e71,#ab7,#9b9,#bd7,#c83,#d50,#e71,#c72)"></i><i style="height:2px;background:linear-gradient(90deg,#b94,#a44,#734,#834,#834,#944,#35c,#38c,#46b,#d72,#cb5,#a54,#6dc,#17f,#04c,#04d,#18e,#05d,#03b,#14c,#3ce,#e82,#800,#800,#e60,#59a,#35a,#4ce,#d93,#b20,#a10,#d40,#ac7,#9b8,#9c9,#cd5,#d40,#900,#d30,#dc5,#7cb,#58b,#8b9,#e71,#c20,#d30,#d92,#bc6,#aa6,#9d9,#d93,#d30,#b20,#e61,#e71,#d72,#ca3,#ba6,#e60,#c20,#c30,#d51,#db4,#db4,#d51,#c41,#b20,#b30,#e71)"></i><i style="height:2px;background:linear-gradient(90deg,#5bd,#39d,#b74,#3ad,#7cb,#b74,#b54,#b43,#d62,#b42,#b43,#6cc,#2ae,#2be,#4bd,#2ae,#19e,#18e,#07e,#18e,#5dd,#ea2,#800,#800,#d30,#8db,#2ae,#3be,#9d9,#b74,#b20,#c20,#ca5,#6cc,#ac8,#b95,#db3,#e70,#d30,#d40,#d93,#cb5,#8c9,#6cc,#cb4,#910,#a20,#d41,#cd5,#8da,#ac8,#c94,#b30,#a10,#a20,#e81,#ab7,#dc4,#c62,#c41,#a20,#b20,#c30,#c94,#cb5,#dc4,#d61,#e50,#e50)"></i><i style="height:2px;background:linear-gradient(90deg,#3ae,#3ad,#27d,#28d,#29e,#27e,#28d,#c94,#c83,#c73,#934,#5cd,#17e,#16e,#03c,#02b,#03b,#05e,#04e,#03d,#17e,#9c9,#800,#800,#ba5,#4bd,#3be,#2be,#6cb,#d92,#b20,#c20,#bb6,#7cb,#5cd,#4bd,#bc7,#e50,#d50,#eb3,#ad8,#2ae,#49d,#ad8,#c30,#d30,#e81,#c83,#c74,#c84,#d82,#e51,#c30,#c51,#d72,#ad8,#8da,#ca4,#c41,#d40,#c83,#ac7,#ac7,#bb6,#cb4,#ba5,#ea3,#d51,#b51)"></i><i style="height:2px;background:linear-gradient(90deg,#944,#5cd,#4bd,#4bd,#b84,#29d,#ac7,#b43,#d52,#832,#933,#26e,#17e,#29e,#07e,#04d,#16e,#3ae,#4ad,#4bd,#3be,#ab8,#900,#800,#b30,#9b8,#3be,#2ae,#7db,#da4,#c30,#a10,#b42,#8db,#28d,#6bb,#dc5,#d30,#910,#c41,#d83,#7cb,#4bd,#ab7,#c30,#b20,#e50,#ea2,#bb6,#bc7,#b52,#b41,#b20,#b20,#d61,#b84,#b95,#bb5,#c63,#b20,#a20,#e81,#aa6,#bc7,#bb6,#ea2,#e81,#db4,#da3)"></i><i style="height:2px;background:linear-gradient(90deg,#27e,#28d,#3bd,#28e,#17e,#2ae,#24c,#36c,#38c,#35c,#3ad,#29e,#17e,#04e,#05e,#06d,#06e,#03d,#03d,#03c,#17e,#ab7,#800,#800,#e81,#26d,#15d,#29e,#7dc,#ba5,#d40,#c20,#e91,#8ca,#6dc,#5cd,#bd7,#d51,#b20,#a20,#c52,#9b8,#4ce,#6dc,#ac8,#c94,#d71,#d71,#ab7,#5cd,#39d,#48c,#7a9,#d93,#d50,#c41,#b53,#b64,#c73,#d62,#a31,#a20,#b31,#c52,#d93,#ac8,#9d9,#da3,#e51)"></i><i style="height:2px;background:linear-gradient(90deg,#745,#a54,#b74,#a65,#2ae,#28e,#3ad,#39c,#933,#c73,#834,#29e,#05e,#03d,#06e,#05e,#02c,#02a,#03d,#06e,#5bd,#965,#900,#800,#e92,#49b,#16c,#18e,#6bb,#e81,#910,#b20,#c73,#8ca,#5cc,#6bc,#c93,#c40,#c20,#c73,#aa6,#5dd,#6dd,#ca5,#a31,#b20,#e60,#ba5,#6cb,#3bd,#7db,#bc6,#e60,#e50,#e81,#c83,#c84,#a76,#b84,#d71,#e60,#e51,#dc4,#9b8,#8ca,#6cc,#ab7,#e71,#b63)"></i><i style="height:2px;background:linear-gradient(90deg,#28e,#b84,#b84,#735,#28e,#27e,#28d,#a43,#49c,#36c,#5cd,#3ae,#15f,#02a,#02a,#03d,#05e,#03d,#02b,#03c,#16e,#cd6,#800,#800,#da3,#6cc,#4bd,#18e,#26d,#48c,#d93,#c20,#c51,#4cd,#26d,#5de,#d82,#b20,#b20,#e92,#8ca,#7db,#5dd,#9c8,#d50,#a20,#e71,#5bc,#58b,#7db,#bd7,#c73,#d40,#b63,#b75,#ba6,#bb6,#e82,#d41,#c30,#d61,#d82,#d83,#d73,#c84,#c83,#e92,#e91,#b94)"></i><i style="height:2px;background:linear-gradient(90deg,#39d,#944,#734,#b74,#734,#944,#b94,#c83,#d62,#da3,#6cc,#28d,#16d,#14b,#15b,#04c,#18e,#3be,#18e,#15e,#4ce,#c94,#800,#800,#d30,#9b8,#4de,#3ae,#ac8,#c63,#c20,#c50,#cb6,#8b8,#9c8,#cb5,#ea2,#b20,#900,#b52,#bd7,#4bd,#4bd,#bc6,#c20,#910,#e50,#ab7,#59a,#7ba,#db4,#e50,#a10,#b20,#d51,#ca4,#bc7,#cd6,#d51,#a20,#c30,#d40,#c41,#bc6,#9b8,#ea2,#d40,#e50,#e50)"></i><i style="height:2px;background:linear-gradient(90deg,#27d,#4bd,#28d,#a44,#4ad,#27d,#25d,#bc6,#9b8,#5ab,#38d,#16e,#15e,#16e,#03b,#03b,#06e,#05d,#03c,#05e,#3be,#ac8,#800,#800,#e40,#7db,#18e,#29e,#4bd,#d81,#a10,#910,#d61,#ac8,#4ce,#4ac,#ba6,#b20,#e60,#8a8,#36c,#6dc,#cd6,#e81,#c20,#d30,#d82,#ab7,#a95,#b84,#c30,#a10,#b20,#a31,#c52,#dc5,#ba5,#da3,#c30,#b30,#b41,#d92,#cd5,#d51,#b30,#e50,#ca4,#aa7,#9c9)"></i><i style="height:2px;background:linear-gradient(90deg,#26d,#6cb,#4ad,#28d,#25d,#27d,#39d,#6cb,#48b,#339,#6cc,#2ae,#2ae,#29e,#3ad,#3ad,#18e,#06e,#18e,#4be,#887,#b62,#800,#800,#a20,#ac8,#5ac,#28e,#49c,#c52,#900,#d40,#bd7,#6cc,#7db,#9c9,#c51,#900,#a10,#db4,#6bb,#39d,#bd7,#b63,#a20,#a10,#a31,#ca4,#7db,#9c9,#d81,#e60,#d40,#e70,#dc4,#dc5,#c72,#c41,#b20,#b20,#e60,#bc6,#ad8,#b94,#c73,#c73,#ba5,#ba6,#ab7)"></i><i style="height:2px;background:linear-gradient(90deg,#18e,#3ae,#3ae,#4ce,#4ce,#13a,#29d,#a44,#c53,#38c,#28d,#28e,#28e,#03d,#03d,#03c,#05e,#06e,#06d,#07e,#19e,#9c9,#900,#800,#b31,#9a7,#18e,#26d,#5ab,#d61,#b20,#d71,#9c8,#4de,#4de,#5dd,#9c8,#c30,#c40,#db4,#3be,#27d,#4ad,#eb3,#e60,#e81,#bb6,#8ba,#4cd,#5cc,#8c9,#c94,#c83,#ca4,#8ca,#4bd,#8ca,#e71,#d41,#e61,#d72,#9c9,#8ca,#bd7,#e82,#e61,#d72,#c84,#b95)"></i><i style="height:2px;background:linear-gradient(90deg,#239,#39d,#25c,#b84,#734,#5cd,#5cc,#5bc,#c72,#932,#b53,#834,#668,#16e,#03b,#04e,#05e,#16e,#28d,#3be,#28e,#bc7,#800,#800,#e70,#5cd,#3be,#4ce,#5cc,#ea2,#a10,#e40,#9b8,#49b,#4bc,#6bb,#ab7,#d40,#a10,#e61,#8ca,#9da,#9c8,#ad8,#e70,#a20,#c30,#bb6,#6aa,#59b,#8ba,#db4,#b20,#a20,#b53,#b94,#ab7,#6cc,#7cb,#c94,#d30,#c30,#e71,#ac8,#7ca,#ac7,#b53,#933,#b20)"></i><i style="height:2px;background:linear-gradient(90deg,#29e,#29e,#26e,#29e,#ac7,#635,#24c,#39d,#6cc,#38c,#28d,#3be,#18e,#17e,#04d,#03d,#05e,#04d,#05e,#04e,#15e,#8ba,#900,#800,#ea2,#27d,#14b,#15b,#38e,#ca5,#b20,#e60,#6cb,#29d,#3ce,#9d9,#cc5,#e60,#d40,#d82,#7db,#2be,#4ce,#cb5,#d51,#c30,#e61,#9d9,#6dd,#4cd,#8ca,#d92,#e50,#d40,#c84,#ad8,#8eb,#7dc,#ab6,#d82,#e70,#e61,#db4,#8b9,#9d9,#dc4,#e81,#e61,#e61)"></i><i style="height:2px;background:linear-gradient(90deg,#b64,#25c,#24c,#25d,#28d,#5cd,#ac7,#c83,#d62,#822,#833,#944,#27e,#19f,#19e,#05e,#03a,#04e,#19e,#17e,#3be,#eb3,#800,#800,#a20,#ca5,#3ce,#2ae,#4bc,#a96,#a10,#b20,#8c9,#3ad,#3be,#4cd,#5bb,#b83,#c30,#e50,#c63,#9b7,#7cb,#8db,#c63,#910,#a10,#e51,#bb5,#6dd,#6aa,#9b9,#d92,#d40,#c20,#b52,#b64,#db4,#bb6,#eb3,#e50,#b20,#d40,#db4,#ab7,#bb6,#d82,#c41,#b20)"></i><i style="height:2px;background:linear-gradient(90deg,#39d,#39d,#38d,#27d,#3ad,#734,#b74,#35b,#822,#cb5,#a33,#39d,#25c,#2af,#17d,#16d,#07e,#18e,#19e,#19e,#2ae,#ba6,#800,#800,#d40,#6ba,#3be,#3be,#4be,#7ba,#d50,#a10,#a10,#b94,#8da,#8da,#bc6,#d51,#900,#a10,#d83,#7cb,#3ad,#49c,#ba6,#d40,#910,#c31,#cc5,#7dc,#9c9,#e71,#a20,#b20,#e70,#da3,#db3,#b85,#953,#a20,#a10,#e60,#d92,#cb5,#9d9,#9c8,#da3,#e71,#c83)"></i><i style="height:2px;background:linear-gradient(90deg,#4bd,#28d,#26d,#3ad,#28e,#844,#734,#38c,#6bb,#48b,#733,#25d,#29f,#04e,#03d,#03d,#04d,#05e,#06e,#06e,#17e,#7cb,#900,#800,#d51,#7db,#29e,#8da,#955,#c41,#910,#b20,#d92,#5cd,#18e,#4ce,#bd7,#e80,#a10,#b31,#bd8,#5dd,#6bc,#5dd,#8a8,#c83,#d71,#da3,#9c9,#38d,#4bd,#ac8,#c63,#a20,#a20,#d51,#bc7,#7cb,#9c9,#db5,#e81,#d50,#ea3,#ab7,#8c9,#cc6,#b74,#b63,#c73)"></i><i style="height:2px;background:linear-gradient(90deg,#26d,#ac7,#b64,#944,#bb6,#a54,#28d,#833,#c42,#c93,#5bc,#26d,#3bf,#2ae,#05e,#03c,#05e,#06d,#18e,#07e,#3ad,#bd8,#800,#800,#e50,#bb6,#6bc,#3be,#29e,#ab7,#d30,#a10,#d51,#8ea,#3be,#29d,#4bd,#ca5,#c30,#c20,#d81,#8ca,#2ae,#3bd,#ac8,#d41,#b20,#c30,#e81,#9c9,#6dd,#8ca,#c94,#a32,#910,#a20,#da3,#8c9,#7aa,#7cb,#d61,#a20,#b20,#e71,#ab7,#cc6,#cc6,#cb4,#e92)"></i><i style="height:2px;background:linear-gradient(90deg,#4bd,#734,#834,#7cb,#4bd,#3ad,#26d,#38c,#6bb,#35b,#4ac,#5dd,#17e,#04e,#17e,#49c,#29e,#06e,#18e,#29e,#4ce,#dc5,#800,#800,#d50,#9d9,#37c,#349,#39d,#e92,#910,#a10,#aa7,#3ad,#28e,#28e,#7db,#d82,#c30,#e71,#ba4,#7db,#6dc,#bb5,#e71,#c20,#932,#964,#ab7,#7db,#bb5,#e61,#d40,#d40,#ea2,#cb6,#8b9,#b85,#b41,#c40,#b20,#b31,#d72,#b85,#a75,#c62,#943,#b43,#e81)"></i><i style="height:2px;background:linear-gradient(90deg,#a55,#844,#a54,#b75,#27e,#3ae,#25d,#39c,#35b,#6bc,#38d,#28e,#17e,#02b,#03b,#03d,#03d,#02c,#03c,#04e,#2ae,#bc7,#900,#800,#e61,#4de,#15e,#26c,#59b,#dc4,#d30,#b31,#953,#6dc,#26d,#38d,#db4,#d30,#e60,#9da,#36b,#26b,#4ad,#9c8,#d60,#e70,#cc5,#ad8,#9b7,#ab7,#ca4,#d60,#c30,#d41,#db4,#7cb,#7bb,#dc4,#e61,#e50,#e81,#db3,#8c9,#8ba,#bb6,#d51,#e61,#db4,#ac8)"></i><i style="height:2px;background:linear-gradient(90deg,#26d,#5bd,#25c,#23a,#27d,#3ad,#b63,#833,#da3,#922,#b43,#734,#29e,#14b,#04d,#18e,#19e,#19e,#17e,#29e,#5cd,#d82,#800,#800,#d50,#ab8,#6bc,#7ba,#cc6,#d40,#900,#910,#b74,#9c8,#5cd,#9b8,#d82,#b20,#900,#e50,#bb6,#7db,#7cb,#ab7,#c53,#a10,#a10,#e81,#bd7,#7db,#8c9,#c62,#a20,#b10,#c20,#e81,#cb6,#cb5,#d92,#d51,#b30,#a10,#d40,#aa6,#799,#9c8,#bc7,#bb6,#d71)"></i><i style="height:2px;background:linear-gradient(90deg,#4ce,#29e,#29e,#4ce,#14c,#7cb,#4bd,#734,#833,#933,#37d,#5ab,#39e,#28d,#17e,#03d,#03c,#019,#02a,#04d,#4cd,#bc6,#800,#800,#d51,#5cd,#18e,#3ce,#cc6,#d61,#d40,#d40,#c93,#6bc,#4de,#2ae,#5bc,#c62,#b20,#e92,#39d,#34a,#28e,#6cc,#e71,#b20,#d50,#cb4,#9c8,#8da,#ba6,#a74,#d40,#e71,#e92,#dc4,#ac8,#8c9,#b85,#d62,#d50,#c41,#e82,#9c8,#9c9,#cc6,#cb5,#da3,#e71)"></i><i style="height:2px;background:linear-gradient(90deg,#7ca,#3ad,#844,#b64,#4be,#28e,#39d,#36c,#34b,#b43,#b73,#28e,#05c,#02b,#03b,#02b,#02a,#06e,#06e,#06e,#3ce,#da3,#800,#800,#e60,#4cd,#19e,#2ae,#4be,#db5,#c30,#c20,#954,#996,#4ce,#48c,#59b,#9a7,#b20,#c30,#9b8,#39d,#3ce,#6bb,#ac8,#e71,#a10,#e70,#6bb,#4ad,#6cc,#aa6,#dc4,#e70,#e70,#c93,#bb6,#8ca,#ac8,#c93,#da3,#e91,#ea2,#7aa,#799,#9c9,#9b8,#ad8,#c74)"></i><i style="height:2px;background:linear-gradient(90deg,#a54,#b84,#b64,#734,#944,#734,#944,#833,#6bb,#c62,#b64,#28e,#04d,#03c,#03c,#03d,#04d,#03c,#04e,#06e,#4ce,#bb6,#800,#800,#d40,#49b,#15d,#2ae,#8b9,#d51,#a10,#c30,#bc7,#4de,#16e,#49c,#dd5,#a20,#910,#d40,#9b9,#5ac,#7cb,#a86,#854,#c20,#c20,#d51,#bb6,#8da,#bb6,#d83,#d92,#d50,#d40,#d92,#cc5,#bc7,#ab7,#e92,#d51,#e60,#e60,#ba5,#6cb,#9da,#9c8,#9b8,#cb5)"></i><i style="height:2px;background:linear-gradient(90deg,#28d,#28d,#ac7,#4bd,#3ae,#28d,#4bd,#37c,#b32,#c62,#ca4,#5cd,#19f,#04d,#15c,#04d,#29e,#18e,#06e,#17e,#19e,#db4,#800,#800,#d40,#6cc,#15d,#16d,#6cc,#c62,#c30,#d40,#ab7,#4bd,#27e,#26d,#6dd,#e71,#b20,#a20,#c52,#9b8,#6dc,#7cb,#db4,#e72,#a10,#e50,#7cb,#5dd,#7cb,#ad9,#c94,#e50,#b20,#943,#844,#b74,#ac7,#bc6,#c63,#a20,#b30,#d61,#7cb,#7aa,#cc6,#c84,#c73)"></i><i style="height:2px;background:linear-gradient(90deg,#28d,#27d,#b74,#734,#4cd,#24c,#238,#35c,#48b,#932,#b53,#5cd,#15e,#06e,#05e,#02c,#05e,#05e,#02a,#02a,#18e,#bb6,#800,#800,#d30,#6dc,#19e,#4ce,#6dc,#8ba,#e60,#b10,#c83,#ac8,#7ba,#5cd,#5cc,#da4,#c30,#d50,#ca4,#6cc,#3be,#5dd,#db4,#c20,#a10,#e71,#8c9,#5bc,#6dc,#cb6,#e82,#d40,#d50,#c74,#bc6,#6aa,#58b,#ba6,#e70,#e50,#e71,#ac8,#bc6,#b75,#e71,#e61,#b30)"></i><i style="height:2px;background:linear-gradient(90deg,#b64,#b54,#b64,#b64,#4bd,#24b,#3ad,#6cb,#6bb,#d62,#c73,#3bd,#1af,#17e,#18e,#29e,#18e,#15d,#03c,#15e,#3be,#ea2,#800,#800,#d71,#6ec,#27d,#2ae,#bc7,#c30,#a10,#d71,#7bb,#5cd,#5dd,#6bb,#cb5,#b30,#900,#d30,#8ca,#4bd,#3be,#5cd,#bb6,#e81,#c20,#c20,#b41,#a75,#c84,#ca3,#d82,#d40,#910,#910,#e61,#ca4,#ab8,#9b8,#ca5,#e70,#d40,#d40,#d72,#d62,#b63,#d92,#eb3)"></i><i style="height:2px;background:linear-gradient(90deg,#a54,#5cc,#6cb,#27d,#23a,#4bd,#5cd,#49c,#a32,#b42,#b53,#6cc,#29e,#2ae,#18e,#14b,#03c,#03d,#02a,#03d,#4ce,#b84,#800,#800,#e50,#5bc,#26d,#18d,#8db,#e92,#b10,#d30,#bb6,#4ad,#2ae,#5cc,#bc7,#c30,#910,#e70,#bd7,#9c8,#9c9,#cc6,#e51,#910,#a20,#ea2,#7ba,#9d9,#c83,#b62,#b20,#a20,#e60,#9c9,#49c,#68a,#ab7,#ea2,#d82,#c94,#bc6,#ab7,#9b8,#cc6,#db4,#e71,#d60)"></i><i style="height:2px;background:linear-gradient(90deg,#24c,#5cd,#28d,#25d,#3ad,#26d,#39d,#35c,#7bb,#a32,#39c,#6cc,#19f,#19e,#06e,#17e,#03c,#03c,#03b,#04b,#4ac,#e82,#800,#800,#d82,#3ad,#3ae,#28e,#7cb,#e61,#b20,#d30,#ab7,#5dd,#3ae,#4cd,#9c8,#e81,#c20,#e40,#9b7,#27d,#28e,#7ba,#ea2,#e70,#d70,#ea2,#db3,#cc5,#9d9,#bc7,#d51,#b20,#a10,#d51,#c62,#a53,#b95,#ca4,#e50,#c30,#d30,#d61,#cb6,#9b8,#7cb,#9c9,#c93)"></i><i style="height:2px;background:linear-gradient(90deg,#4ad,#39d,#28d,#26d,#24c,#27d,#39d,#37c,#b32,#932,#36c,#2ae,#15d,#05e,#03d,#03d,#04d,#03c,#04e,#07e,#48c,#dc4,#900,#800,#e40,#5cd,#16e,#3be,#bb5,#d40,#b10,#c40,#bc6,#6bb,#7ca,#b84,#d30,#910,#e51,#9d9,#6dc,#7ba,#ba5,#b30,#a10,#c41,#cb4,#cc6,#b85,#943,#a20,#b20,#e61,#9c8,#8ca,#9d9,#8a8,#e71,#e50,#d41,#a42,#a54,#ca4,#ca3,#d60,#ea2,#db3,#ec3,#d92)"></i><i style="height:2px;background:linear-gradient(90deg,#28d,#27d,#26d,#28d,#28e,#26e,#28d,#b53,#a32,#c63,#36c,#28e,#14d,#06e,#18d,#17e,#04e,#06e,#05e,#06e,#3be,#bb6,#900,#800,#c94,#6bb,#3ce,#3be,#9c9,#d81,#c20,#d50,#6ba,#38e,#29e,#3be,#8b9,#e60,#b20,#da3,#9c9,#9b8,#6dc,#bd7,#c41,#d30,#e70,#da3,#ab7,#a86,#a86,#d82,#e50,#d30,#e60,#d72,#bb5,#ac8,#cc6,#c41,#b30,#e40,#bb6,#7cb,#8b9,#cd6,#e92,#e61,#d51)"></i><i style="height:2px;background:linear-gradient(90deg,#26d,#28d,#5cc,#24b,#39d,#5cd,#734,#c93,#6ab,#6bb,#38c,#3ad,#26e,#28e,#17e,#03d,#06e,#05e,#05e,#15c,#26b,#cb5,#800,#800,#b20,#9b8,#2ae,#16e,#37b,#dc4,#910,#900,#d51,#7db,#3be,#5dd,#c82,#a20,#a10,#e71,#9b7,#6cb,#9c9,#ac8,#e81,#b20,#b30,#854,#ab6,#8ca,#ac8,#e71,#a10,#b20,#e71,#c62,#c84,#c84,#d51,#b30,#c51,#c93,#ac8,#ac7,#d72,#a31,#b20,#c51,#c51)"></i><i style="height:2px;background:linear-gradient(90deg,#24c,#25c,#29d,#3ad,#5cd,#4cd,#4ad,#ca4,#b42,#c82,#c63,#3ad,#2ae,#2ae,#06e,#04e,#07e,#06e,#2ae,#29e,#28e,#bc7,#800,#800,#c30,#8ca,#16e,#17e,#7cb,#da3,#d51,#a10,#e92,#9ea,#8c9,#9da,#bc6,#d70,#c20,#e70,#bd7,#6cc,#3ad,#6bb,#d71,#910,#c30,#d72,#9b8,#9c8,#d82,#b40,#a20,#e50,#ac7,#7ca,#b85,#854,#943,#a42,#d30,#e81,#db4,#dc4,#d72,#d51,#e61,#d51,#c41)"></i><i style="height:2px;background:linear-gradient(90deg,#734,#ba5,#b54,#25d,#26d,#28d,#27d,#c83,#d62,#b32,#38c,#28e,#29e,#18e,#06d,#17e,#07e,#07e,#18e,#19e,#4be,#cb5,#800,#800,#b20,#9d9,#17e,#26c,#29e,#9da,#b51,#900,#910,#c83,#6dc,#5cd,#5dd,#bc7,#d30,#900,#b20,#ab8,#4ad,#8c9,#dd5,#d30,#910,#a10,#c41,#cb5,#6aa,#9c9,#e71,#c20,#c41,#e70,#dc4,#c93,#da3,#db4,#e60,#d40,#e71,#ea2,#b83,#d82,#c52,#b41,#c30)"></i><i style="height:2px;background:linear-gradient(90deg,#4bd,#934,#b74,#b74,#26d,#7cb,#4ad,#33a,#6ab,#49b,#38c,#28d,#18e,#17e,#06e,#04d,#16d,#4ad,#6ab,#3ae,#4be,#d82,#800,#800,#d40,#9c9,#5cd,#6cc,#8ca,#e91,#910,#d30,#dc5,#9c9,#9a7,#766,#964,#a10,#900,#e61,#ad9,#9d9,#9c9,#bc7,#e61,#910,#910,#e71,#bd7,#ca4,#cb5,#ac8,#e50,#a10,#d30,#ba5,#9c9,#bb7,#d82,#e71,#e40,#b20,#b30,#e61,#bb7,#8b9,#da3,#a31,#b41)"></i><i style="height:2px;background:linear-gradient(90deg,#5cc,#38c,#37c,#a44,#834,#28d,#38c,#339,#c32,#d62,#c52,#b74,#28e,#15b,#18e,#2ae,#3ae,#2ae,#2ae,#18e,#29e,#ec3,#800,#800,#d60,#58a,#28e,#29e,#4ad,#ea2,#a10,#900,#b41,#866,#6cc,#4bd,#9c9,#e50,#900,#a20,#ea3,#7ba,#7cb,#bb6,#d51,#a10,#a10,#d70,#ab7,#ac8,#8da,#9a7,#e50,#910,#c20,#e81,#d92,#da4,#bb6,#ca4,#d40,#c20,#e40,#e91,#da3,#ba5,#c64,#c31,#b20)"></i><i style="height:2px;background:linear-gradient(90deg,#6cc,#4ad,#29d,#5cd,#27d,#24c,#24b,#49c,#d72,#cb4,#38c,#27d,#19e,#06e,#05e,#04d,#03b,#15b,#02a,#03c,#3ce,#ea3,#900,#800,#d40,#7cb,#3be,#9d9,#c83,#c30,#a10,#943,#d93,#6dc,#8da,#997,#b74,#b31,#a10,#b40,#9b8,#8da,#9c8,#bd7,#eb3,#d30,#a10,#e60,#bc7,#7bb,#9d9,#865,#953,#a20,#a10,#d30,#eb3,#ca4,#ab6,#dd5,#e81,#c30,#b20,#c41,#c84,#ad8,#cc6,#d72,#a31)"></i><i style="height:2px;background:linear-gradient(90deg,#27d,#b74,#944,#944,#26d,#4bd,#38d,#c93,#d52,#c42,#49c,#23a,#14c,#15e,#18e,#29e,#3ae,#07e,#05e,#04d,#17e,#d93,#800,#800,#e60,#3ad,#37c,#35c,#49b,#bc6,#a10,#910,#a31,#c74,#8ca,#9d9,#bc7,#e92,#a10,#b20,#d82,#7cb,#48b,#6ba,#db4,#d30,#c20,#c30,#955,#9d9,#4bd,#8ca,#c83,#b20,#c30,#d61,#db4,#cc5,#ac7,#ab7,#c93,#e80,#d60,#c94,#9c8,#8ca,#cb5,#d61,#c30)"></i><i style="height:2px;background:linear-gradient(90deg,#29d,#3ad,#5cd,#b84,#b64,#28d,#5cd,#6cb,#47b,#47b,#39c,#a86,#19f,#18e,#19e,#19e,#18e,#03d,#05e,#05e,#28e,#da4,#800,#900,#c30,#7ba,#3be,#48c,#6ba,#c41,#900,#b10,#cc5,#5dd,#2ae,#7cb,#d92,#a10,#910,#c41,#bb6,#5ab,#59b,#ad8,#db3,#c61,#e92,#bc7,#ad7,#9c9,#ab8,#e91,#b20,#a10,#d51,#db4,#bc7,#bc6,#c73,#b20,#d40,#d92,#cb5,#cc5,#b84,#953,#b30,#b20,#e51)"></i><i style="height:2px;background:linear-gradient(90deg,#25e,#b75,#734,#3ae,#3ae,#15e,#29d,#b64,#833,#c83,#b64,#16e,#05e,#05e,#06d,#06e,#04d,#02b,#019,#04d,#18e,#9d9,#a10,#800,#e61,#9d9,#3be,#16e,#28e,#6cc,#e50,#c20,#e81,#7ba,#2ae,#3ad,#ab6,#b41,#a20,#e70,#8ca,#4ac,#4de,#8ca,#c84,#d40,#e70,#cb5,#8ca,#8b9,#a86,#854,#b30,#d40,#ba6,#8da,#7ca,#ad8,#d92,#953,#b30,#ea2,#cb5,#ac7,#8b8,#db3,#d61,#d41,#a31)"></i><i style="height:2px;background:linear-gradient(90deg,#3bd,#3bd,#5cd,#28e,#3be,#29e,#28d,#c73,#c83,#b43,#c73,#5cd,#2ae,#2ae,#18e,#05e,#04d,#17e,#04d,#07e,#4ce,#b52,#800,#800,#d51,#5cc,#17e,#19e,#3be,#9da,#d60,#d40,#dc4,#6ab,#16d,#17e,#3bd,#cb5,#b20,#a10,#d92,#4bd,#28e,#7ca,#b64,#c41,#d60,#d82,#da4,#9b7,#5cd,#5cd,#8ca,#da3,#e50,#e50,#b53,#ba5,#9e9,#9b8,#9b8,#cb4,#e50,#e40,#ea2,#8b9,#49c,#7db,#c94)"></i><i style="height:2px;background:linear-gradient(90deg,#4bd,#28d,#26d,#28d,#25d,#4cd,#a44,#833,#34a,#48b,#38c,#29d,#3ae,#3ae,#06e,#04d,#04d,#03d,#04b,#15b,#4ce,#d62,#800,#800,#e70,#6cc,#2ae,#26b,#26c,#8ca,#d40,#a10,#e60,#ab7,#4ce,#38e,#7dc,#c73,#b10,#b20,#d62,#b74,#ba6,#ca4,#e72,#e50,#c30,#e71,#bb6,#ab6,#b96,#b74,#e60,#d40,#e50,#e81,#cb5,#8ca,#cd6,#e81,#d40,#b41,#e51,#ec3,#ab7,#ad8,#b64,#d51,#e50)"></i><i style="height:2px;background:linear-gradient(90deg,#734,#ba5,#24c,#27e,#29e,#15d,#944,#b53,#833,#c53,#734,#756,#29e,#28e,#04e,#02a,#02a,#02c,#03d,#15d,#3be,#c62,#800,#800,#b52,#b85,#8a9,#5cd,#5dd,#bc7,#d61,#b20,#ac8,#39d,#14b,#359,#5dd,#b52,#a20,#d30,#da3,#49b,#27d,#27e,#4bd,#d82,#c30,#d40,#e71,#ad8,#8ca,#8da,#7cb,#ca4,#e50,#e60,#bb6,#7ba,#6ab,#8db,#c82,#d61,#e50,#e50,#e61,#da4,#9c8,#cc6,#d82)"></i><i style="height:2px;background:linear-gradient(90deg,#6cc,#16e,#15d,#29e,#16e,#4ce,#16e,#5cd,#5bc,#5bc,#b54,#a95,#06e,#01a,#03d,#05e,#05d,#05d,#04e,#02d,#14b,#67a,#b20,#800,#db4,#5dd,#17d,#2ae,#7db,#c94,#c30,#c83,#8eb,#5bc,#6bc,#9c8,#c94,#b20,#c30,#cb5,#7ba,#3be,#4bd,#ac7,#d51,#b30,#a42,#ab7,#2ae,#5dd,#bb6,#ea2,#e60,#c41,#943,#ac7,#ac8,#cd6,#d82,#e61,#c41,#a63,#c93,#5cd,#7db,#da3,#c74,#bb5,#9c9)"></i><i style="height:2px;background:linear-gradient(90deg,#28d,#27d,#4bd,#4cd,#b75,#a55,#3ad,#38c,#c53,#ca4,#7cb,#17d,#15d,#04d,#06d,#18e,#29e,#29e,#17d,#04e,#28e,#bb6,#800,#800,#db4,#35a,#15b,#3ae,#8da,#d61,#a10,#a41,#865,#657,#9d9,#4cd,#9b7,#d50,#b20,#e81,#8ea,#6cc,#7ba,#db5,#b20,#e40,#ca5,#9c8,#7bb,#7cb,#cb5,#e61,#d40,#e81,#bb6,#7ba,#8ba,#ac7,#d71,#c30,#e40,#da3,#bc7,#bd7,#a75,#d72,#e92,#e81,#e81)"></i><i style="height:2px;background:linear-gradient(90deg,#7cb,#4ad,#734,#b74,#28d,#26d,#5bd,#b43,#922,#c42,#833,#734,#898,#18e,#04d,#03b,#03b,#04e,#05e,#15e,#3ce,#d82,#800,#800,#b20,#cb5,#2ae,#18e,#5ab,#d92,#910,#900,#d93,#7ba,#8da,#2ae,#6ba,#d51,#910,#a20,#8b9,#49c,#39e,#6dc,#bb6,#d51,#b10,#c20,#da3,#bc7,#cb5,#bb6,#8b9,#e92,#b10,#b20,#e61,#bb6,#8ca,#ab7,#c73,#d30,#c30,#e80,#8b9,#5bb,#9d9,#db3,#e81)"></i><i style="height:2px;background:linear-gradient(90deg,#b54,#7cb,#38d,#27d,#7cb,#25d,#734,#833,#d62,#a32,#5ac,#5cd,#27d,#06e,#18e,#17e,#15e,#04d,#07e,#4ce,#9c8,#d72,#800,#800,#a20,#cb5,#36c,#26d,#5ab,#da3,#a10,#a10,#ea2,#5cd,#6bb,#cb5,#c83,#b20,#a10,#d51,#6bc,#39d,#ad8,#c41,#a20,#b20,#d92,#ab7,#bb5,#db4,#d82,#d40,#c40,#ea2,#e72,#b85,#a64,#d41,#c20,#b20,#a20,#e81,#bb7,#bb6,#db3,#eb3,#e60,#e51,#c73)"></i><i style="height:2px;background:linear-gradient(90deg,#27d,#b74,#b64,#b64,#23a,#29d,#4bd,#ac7,#6bb,#338,#6cb,#26d,#17e,#03d,#03b,#06e,#29d,#59b,#7ba,#6ab,#6cc,#ba4,#800,#800,#e71,#7db,#2ae,#49c,#9d9,#d50,#c20,#e71,#ab6,#6cc,#5de,#ad8,#d40,#910,#d40,#689,#26c,#6bb,#ad8,#c73,#c20,#d40,#d51,#a96,#ab6,#ca5,#db4,#d71,#d40,#cb4,#ab8,#cb5,#d83,#c63,#d50,#e50,#d40,#b64,#cc6,#ac8,#db4,#e91,#e50,#a31,#b52)"></i><i style="height:2px;background:linear-gradient(90deg,#933,#39c,#38c,#4ad,#b74,#a54,#4ac,#c42,#c42,#cb4,#5ab,#c73,#834,#18e,#17e,#17d,#3be,#39d,#16e,#18e,#28d,#ba6,#800,#800,#a10,#ca4,#4be,#3bd,#7bb,#7db,#d93,#900,#a10,#c62,#8ea,#4ce,#6cb,#c95,#a20,#800,#b20,#bb5,#8da,#b94,#c74,#943,#a10,#900,#a10,#e81,#bd7,#9ea,#9c9,#e71,#a10,#900,#d50,#ca5,#9c8,#6ba,#bb6,#b31,#a20,#c20,#d60,#ca3,#ca3,#ca4,#c94)"></i><i style="height:2px;background:linear-gradient(90deg,#a44,#b64,#734,#ba4,#734,#24c,#26d,#35c,#9b8,#a32,#bc6,#27e,#17e,#05e,#14c,#14d,#07e,#19e,#3be,#1ae,#2ae,#7cb,#800,#800,#a20,#b84,#9c8,#8ba,#7db,#cc5,#c20,#a10,#d40,#d83,#6dc,#4ce,#bc6,#c73,#b10,#d40,#cb5,#6aa,#4bd,#ac8,#d92,#d30,#a10,#d40,#ca4,#ab6,#976,#865,#c62,#b20,#b20,#e80,#ab8,#9c9,#ab7,#da3,#e92,#c84,#c94,#ca4,#9c9,#8b9,#bc7,#e81,#e60)"></i><i style="height:2px;background:linear-gradient(90deg,#734,#734,#5bd,#25d,#29d,#4ad,#5bd,#37c,#822,#d62,#38c,#4bd,#28e,#4ce,#2ae,#4ad,#2ae,#25c,#16e,#18e,#3be,#eb3,#800,#800,#d60,#8b9,#5bd,#4be,#bb7,#d41,#900,#c30,#ac7,#9d9,#4bc,#39d,#b85,#b30,#900,#b20,#c72,#8d9,#6bb,#9c8,#d62,#a20,#910,#a10,#a41,#c73,#bb5,#cb5,#c62,#c30,#b10,#c30,#d82,#ab7,#ab7,#bb7,#ca4,#d40,#a10,#d40,#d81,#cb6,#ac7,#8da,#9d9)"></i><i style="height:2px;background:linear-gradient(90deg,#a54,#734,#b54,#944,#b95,#28e,#27d,#6cc,#932,#48b,#38c,#4ad,#4ad,#05e,#03b,#04e,#07e,#06e,#05e,#04d,#17e,#cb5,#800,#800,#e60,#39d,#14b,#15c,#6dd,#9b8,#e81,#d30,#e91,#8ca,#29e,#48c,#ac8,#e61,#c20,#e50,#8c9,#39d,#3bd,#4cd,#8ca,#da3,#e70,#d81,#ca4,#6cc,#3bd,#9da,#c41,#a20,#d30,#c41,#a65,#9d9,#7db,#ac8,#d61,#d40,#d40,#b41,#c63,#a75,#b64,#a64,#953)"></i><i style="height:2px;background:linear-gradient(90deg,#8cb,#28e,#29e,#955,#a75,#15d,#29d,#38d,#39c,#6bc,#28d,#29e,#18e,#05d,#03d,#03e,#16e,#06d,#03d,#16e,#19e,#cd6,#900,#800,#ca4,#29e,#3be,#4bd,#7ca,#b74,#b20,#e50,#8b9,#28e,#2ae,#3be,#8ba,#e60,#d30,#db3,#8b9,#28d,#4bd,#db5,#d40,#c30,#e82,#9c9,#6dc,#7bb,#bb6,#e71,#d60,#da3,#bd6,#ac7,#ac8,#bc6,#d71,#ea2,#da4,#bb6,#7ca,#bb5,#a52,#b41,#d61,#cb5,#bc7)"></i><i style="height:2px;background:linear-gradient(90deg,#734,#944,#734,#b74,#5cd,#26d,#28d,#6cc,#c62,#c62,#7cb,#5cd,#29e,#06e,#17e,#17e,#28e,#39d,#05e,#03b,#19e,#d92,#800,#800,#e70,#59b,#18e,#15d,#18e,#a86,#b41,#a10,#e60,#9c9,#25c,#26b,#28e,#dc4,#d40,#b20,#e51,#a76,#5bd,#49b,#8ca,#e81,#e50,#d40,#d62,#ae9,#8c9,#9b8,#c83,#c30,#a10,#e71,#bc6,#bc6,#c73,#e82,#e71,#e50,#e70,#ca5,#9c9,#ac8,#ac8,#bb6,#d41)"></i><i style="height:2px;background:linear-gradient(90deg,#29d,#3ad,#25d,#27d,#845,#635,#4cd,#ca4,#c83,#5ac,#25d,#29e,#28d,#3ad,#04e,#02b,#04e,#03d,#03c,#05e,#38c,#ab7,#800,#800,#e81,#6cb,#17e,#29e,#8c9,#ad8,#ca4,#d40,#db4,#48a,#3ae,#29e,#4ad,#ab8,#c20,#b20,#ea2,#8b9,#5de,#4bd,#9c9,#e92,#c30,#e50,#bb6,#7db,#59b,#6ab,#9b7,#e91,#d40,#e50,#d62,#cb5,#57a,#9c8,#d62,#c30,#c30,#e81,#bd7,#ac7,#b96,#965,#c74)"></i><i style="height:2px;background:linear-gradient(90deg,#6cc,#3ad,#28d,#3bd,#25d,#28e,#24b,#39c,#c63,#c83,#4bd,#18e,#18e,#28e,#29e,#15c,#04e,#04d,#07e,#05e,#19e,#db4,#900,#800,#d71,#58b,#26d,#17e,#2be,#bb6,#a20,#a10,#c83,#3ad,#28e,#4ce,#ac8,#e71,#c20,#e60,#9c8,#6bb,#3be,#5bd,#bb6,#e92,#e70,#e92,#c94,#b84,#ca4,#cb5,#ba5,#e40,#d40,#ba5,#8b8,#bb6,#cb5,#ca5,#d82,#e81,#d92,#d92,#bb5,#a85,#b52,#d61,#db3)"></i><i style="height:2px;background:linear-gradient(90deg,#27d,#26d,#5cd,#4ce,#24b,#24c,#28d,#c73,#833,#b43,#38c,#29d,#2ae,#19e,#15e,#04e,#03d,#03c,#02a,#03b,#15b,#9b7,#900,#800,#e61,#7db,#4ce,#7b9,#ad8,#e81,#a30,#b30,#ab7,#27d,#18e,#7cb,#c83,#d51,#910,#b30,#d83,#7bb,#3be,#ac8,#c73,#d50,#d40,#d41,#b85,#5dd,#6bb,#cb5,#d82,#e40,#b20,#d61,#8c9,#5cd,#6ba,#9c8,#bb6,#ea3,#c93,#da3,#d62,#b63,#bb6,#ab7,#e81)"></i><i style="height:2px;background:linear-gradient(90deg,#29d,#734,#b54,#4bd,#27d,#4bd,#b74,#b43,#c52,#822,#49c,#39d,#4be,#14c,#05e,#05e,#15c,#04b,#07e,#28d,#4de,#d72,#800,#800,#d40,#6dc,#28e,#3be,#9d9,#c30,#900,#c20,#bc6,#8da,#6dc,#bb6,#d50,#d30,#d92,#bb5,#ac8,#7ba,#cc6,#d40,#910,#d40,#cd6,#bc7,#ab7,#bb6,#d50,#b20,#e80,#8b8,#9c9,#7cb,#bb6,#c30,#e50,#e61,#b42,#c84,#cb5,#db4,#e60,#d60,#ca4,#cb5,#da3)"></i><i style="height:2px;background:linear-gradient(90deg,#24c,#5cc,#28d,#39d,#25d,#27d,#39d,#34b,#a32,#a32,#33a,#5cd,#2ae,#4bd,#2ae,#07e,#04e,#03c,#18e,#4ad,#4ce,#bb7,#800,#800,#d40,#39d,#16d,#5bc,#a86,#c73,#b10,#c20,#788,#557,#29e,#d93,#b31,#a20,#d30,#b84,#aa6,#a96,#ba5,#ca4,#d40,#e40,#ca4,#4bc,#4ac,#9b9,#d92,#d40,#e40,#e92,#8d9,#ac7,#e81,#d50,#d40,#e70,#ca4,#b74,#b74,#d61,#d40,#b41,#c31,#da3,#dc4)"></i><i style="height:2px;background:linear-gradient(90deg,#27d,#6cc,#3ad,#734,#b74,#25d,#5cd,#b43,#c62,#34a,#37c,#238,#16e,#17f,#07e,#06e,#18e,#18e,#05e,#03b,#17e,#c94,#800,#800,#c41,#ab7,#3ce,#18e,#17e,#7ba,#e81,#c20,#e50,#cd6,#59b,#47b,#3ad,#cc6,#a10,#910,#e81,#5cc,#27d,#3ad,#8b9,#d61,#b20,#d50,#ba5,#a96,#a96,#ab6,#e81,#d40,#d30,#c63,#ba4,#4bc,#49c,#cb5,#e60,#e60,#d82,#aa6,#bc7,#ac8,#799,#898,#c93)"></i><i style="height:2px;background:linear-gradient(90deg,#4bd,#27d,#4bd,#3ad,#27d,#a54,#bb6,#c63,#b42,#8b9,#36c,#27d,#04d,#03c,#16e,#06e,#04e,#04e,#04e,#04d,#3ce,#b94,#800,#800,#e81,#8b9,#4ce,#5dd,#8ca,#e70,#b10,#b40,#aa6,#29e,#29e,#6cc,#cb6,#e60,#d40,#ba5,#8db,#8db,#9da,#a96,#b52,#b20,#a20,#c41,#dc5,#4cd,#4bd,#6bc,#c83,#a20,#a10,#e51,#dc4,#ad9,#9b9,#bb6,#e71,#d40,#c30,#c73,#ab7,#ac8,#cc5,#d72,#d51)"></i><i style="height:2px;background:linear-gradient(90deg,#4bd,#27d,#4ad,#239,#25c,#28d,#5bc,#38c,#922,#d82,#35c,#39d,#4be,#2be,#2ae,#3be,#15e,#15d,#16e,#18e,#2ae,#ba5,#800,#800,#d40,#6dd,#28e,#28e,#3ad,#7ca,#c20,#900,#e61,#bd8,#6ab,#5ab,#c82,#b30,#900,#a20,#eb3,#3ad,#37d,#6cc,#b63,#910,#910,#d40,#cb4,#5cd,#5bc,#ac8,#d40,#910,#a20,#d61,#bb6,#ac8,#9b9,#ca5,#c20,#a10,#c30,#d71,#cb4,#db4,#ca5,#e60,#c20)"></i><i style="height:2px;background:linear-gradient(90deg,#3bd,#27d,#26d,#25d,#5cd,#845,#844,#5bc,#49c,#b43,#b53,#944,#17e,#19e,#18e,#05e,#02b,#03b,#02a,#04d,#2ae,#db4,#800,#800,#d73,#5dd,#17e,#19e,#7dc,#b74,#a20,#c20,#9c9,#46b,#4ce,#5cd,#7db,#e91,#c20,#e70,#cc5,#8b9,#9c8,#9da,#7cb,#cb5,#d82,#eb3,#ba6,#9d9,#5dd,#6cc,#ea2,#e50,#e92,#ab8,#6cc,#7db,#5cc,#cb5,#d41,#b30,#a31,#942,#da3,#ab7,#c82,#c51,#c41)"></i><i style="height:2px;background:linear-gradient(90deg,#4cd,#25d,#944,#955,#17e,#3ae,#ac7,#bc6,#833,#c63,#c63,#2ae,#2af,#05e,#04e,#14d,#02c,#04d,#06e,#05d,#1ae,#ab7,#a10,#800,#e51,#aa6,#3be,#16e,#5dd,#d93,#c20,#d82,#9c9,#3be,#18e,#5bc,#cb5,#e70,#d40,#e81,#9d9,#3ae,#6dc,#9c8,#bd6,#e81,#c30,#b41,#a53,#6cc,#4bd,#8da,#b74,#c30,#c20,#d51,#d72,#ad8,#5cd,#5bc,#8a8,#d71,#d40,#e91,#ac7,#bc7,#cb4,#c73,#d61)"></i><i style="height:2px;background:linear-gradient(90deg,#23b,#7ca,#b64,#26d,#28d,#24c,#4bd,#c93,#c62,#48b,#36c,#4bd,#28d,#39c,#18e,#04e,#05e,#07e,#05e,#18e,#8b9,#d62,#800,#800,#c30,#7db,#27e,#16d,#26d,#799,#d40,#a20,#b52,#c74,#9a8,#4bd,#5bc,#e80,#910,#d50,#8b9,#3ad,#7dc,#a96,#953,#910,#910,#c41,#ac7,#6bb,#57a,#8b9,#e50,#b20,#e81,#bb6,#8b9,#ab7,#d72,#b41,#a20,#d40,#c73,#c62,#c73,#bd7,#da3,#c30,#a20)"></i><i style="height:2px;background:linear-gradient(90deg,#23a,#4cd,#b64,#29e,#4be,#239,#25d,#34b,#49c,#5ac,#34c,#6cb,#16d,#04b,#05e,#06d,#05e,#07e,#05d,#04d,#14c,#ac8,#800,#800,#e60,#6cc,#15d,#18e,#5dd,#bc6,#c30,#a10,#e92,#8ca,#16e,#26b,#58b,#db3,#b20,#b20,#cb5,#3ad,#29e,#2ae,#5bb,#cb4,#d60,#e40,#d61,#cc6,#3bd,#5cc,#b64,#c52,#d40,#b30,#e61,#bc7,#8da,#8d9,#bd8,#c94,#c73,#e70,#d51,#d82,#8b8,#ac8,#965)"></i><i style="height:2px;background:linear-gradient(90deg,#734,#734,#b64,#a54,#4bd,#39d,#5cc,#49c,#6bb,#d82,#c83,#966,#15d,#06e,#29e,#18e,#04d,#05e,#17e,#18e,#4de,#bb6,#800,#800,#b30,#8ca,#2be,#49c,#7b9,#e70,#b10,#e81,#cc6,#bc7,#6bb,#bc6,#b30,#910,#b20,#d72,#ac8,#9d9,#ad8,#e81,#b10,#d50,#cc6,#7db,#6cc,#8c9,#d92,#d40,#c20,#e71,#ca5,#cc6,#7a9,#9a8,#d70,#d40,#e61,#b94,#bc7,#c82,#e82,#e61,#a32,#d41,#e92)"></i><i style="height:2px;background:linear-gradient(90deg,#25d,#26d,#39d,#734,#b64,#a54,#734,#49c,#6bb,#48b,#6cc,#28d,#6cd,#16e,#04b,#05e,#07e,#04b,#04b,#15d,#6dc,#944,#800,#800,#e60,#5ab,#3ce,#6cc,#ac8,#e81,#a10,#a10,#bc6,#39e,#37c,#6bb,#cb6,#e40,#b10,#e51,#ac7,#6cc,#4ce,#8b9,#ca4,#d50,#c20,#d61,#bc7,#6dc,#8b9,#db4,#e80,#c30,#d50,#d92,#ac7,#7db,#9b9,#e71,#d40,#d40,#e61,#d62,#c63,#cd6,#cb4,#e71,#d40)"></i><i style="height:2px;background:linear-gradient(90deg,#734,#25d,#4bd,#25d,#28e,#3bd,#24b,#a43,#c82,#c52,#c73,#734,#745,#17f,#06e,#04d,#03b,#06e,#18e,#05e,#18e,#ab7,#800,#800,#e60,#59b,#15c,#27d,#7ca,#d92,#c20,#d40,#8b8,#29e,#5cc,#ab8,#db4,#e60,#a10,#d51,#8da,#3be,#4de,#5bc,#bc6,#b20,#b20,#e71,#9d9,#5cd,#39d,#9c9,#e61,#a10,#b30,#e91,#8ca,#aa7,#c73,#c52,#b41,#a20,#e61,#cd6,#cd6,#ab8,#9b8,#db4,#d41)"></i><i style="height:2px;background:linear-gradient(90deg,#29d,#29d,#29d,#bb6,#945,#27e,#734,#933,#c83,#c83,#38d,#3be,#05e,#03e,#04e,#05d,#06e,#03c,#02b,#03d,#19e,#ab7,#900,#800,#d41,#4cd,#26c,#19e,#6bb,#dc5,#c20,#b20,#ca4,#5cd,#4ce,#29e,#5cd,#d61,#a10,#c30,#bc7,#5dd,#5cd,#9d9,#d93,#a31,#c20,#ca4,#ac7,#6dc,#28e,#57a,#9d9,#ba5,#d60,#d61,#d92,#ab8,#ac7,#da3,#d51,#c40,#e50,#e81,#c95,#ba6,#9c9,#8a9,#da4)"></i><i style="height:2px;background:linear-gradient(90deg,#4bd,#28d,#27d,#28d,#3ad,#27d,#29d,#833,#822,#a32,#34b,#27e,#38e,#18e,#19e,#03c,#02a,#02b,#03d,#07e,#5bc,#da2,#800,#800,#d40,#3ad,#17e,#4cd,#9c8,#ca4,#d40,#b10,#e81,#9c8,#7cb,#6bc,#ac8,#e91,#d40,#e91,#bc7,#7cb,#7db,#bc7,#e51,#a10,#a20,#d61,#bc7,#7cb,#9c9,#d92,#c41,#a20,#b53,#da3,#7bb,#6cc,#d82,#b30,#a20,#d40,#d72,#b95,#b85,#b84,#d61,#d50,#e61)"></i><i style="height:2px;background:linear-gradient(90deg,#29d,#39d,#27d,#4bd,#3ad,#4cd,#734,#bb6,#339,#7ba,#49c,#26d,#9a7,#2af,#29d,#3ae,#3ae,#29e,#18e,#03c,#15b,#9b8,#800,#800,#da3,#559,#14c,#2ae,#b95,#942,#a10,#910,#cb4,#8da,#5cd,#6cc,#ac7,#e50,#910,#b20,#b84,#a96,#987,#9c9,#bb5,#d30,#c30,#ea3,#7dc,#5cd,#5cd,#db4,#e50,#b20,#b20,#c41,#cb5,#7db,#bc7,#c62,#b20,#b20,#b43,#cb5,#9c8,#dc4,#c84,#d41,#b30)"></i><i style="height:2px;background:linear-gradient(90deg,#5bd,#38d,#5cc,#b54,#734,#39d,#bb6,#833,#d72,#d52,#bc6,#b54,#878,#3ce,#2ae,#16e,#17e,#17e,#18e,#4ce,#8c9,#a41,#800,#800,#d40,#5cd,#2ae,#5bc,#aa6,#d41,#910,#a10,#e61,#ac8,#ba5,#ab6,#cb6,#e50,#900,#a20,#c72,#4bd,#4bd,#9d8,#d71,#a31,#910,#c40,#da3,#7ba,#9d9,#d72,#c30,#a10,#a10,#a31,#a52,#b85,#ab7,#bb6,#e50,#910,#e61,#9a8,#7db,#9c9,#ca4,#d51,#d60)"></i><i style="height:2px;background:linear-gradient(90deg,#25c,#27d,#8ca,#29d,#28d,#25d,#25d,#5bc,#59b,#45b,#37c,#26d,#867,#26d,#03b,#25b,#15b,#03b,#03b,#04d,#2ae,#bc6,#800,#800,#e82,#8eb,#6cc,#4ac,#8ca,#b41,#910,#a10,#cb5,#6bb,#9c9,#ac7,#cb5,#c20,#a20,#d51,#cc6,#9d9,#7cb,#bc6,#d30,#d30,#e91,#ad8,#6dd,#5cd,#ac8,#d92,#d30,#b20,#e61,#d83,#b95,#854,#943,#b20,#d40,#c73,#a64,#d83,#dc5,#e81,#c30,#b30,#d93)"></i><i style="height:2px;background:linear-gradient(90deg,#239,#25d,#834,#b84,#3ad,#29d,#ba5,#c83,#c62,#c72,#933,#25d,#16e,#04b,#04b,#04d,#05e,#04b,#02a,#04d,#16e,#9c8,#800,#800,#c72,#4bd,#16d,#15c,#17e,#5cd,#c94,#b20,#e92,#8c9,#9b9,#7cb,#47c,#558,#da4,#910,#c20,#9c9,#39d,#29e,#3ad,#9d9,#e50,#910,#c30,#e82,#9d9,#4bd,#58a,#cb5,#e40,#a10,#b20,#c52,#c73,#cc6,#9d9,#da3,#d30,#e50,#e91,#ec4,#9c9,#6cc,#bd7)"></i><i style="height:2px;background:linear-gradient(90deg,#734,#734,#29d,#6cc,#734,#844,#b94,#36c,#48b,#47b,#7cb,#2ae,#14d,#03b,#04e,#29e,#3ae,#17e,#03b,#04d,#5cc,#b52,#800,#800,#d60,#8da,#19e,#28e,#4bd,#d72,#a20,#b20,#bd7,#359,#26b,#26d,#5bc,#c94,#c30,#e50,#db4,#7db,#4ac,#8ca,#e92,#c30,#c20,#a43,#ba5,#6cc,#6cc,#d94,#b51,#910,#c30,#ab6,#bb6,#976,#955,#b63,#e50,#e92,#d93,#eb3,#ac8,#9d9,#cd6,#eb3,#ea3)"></i><i style="height:2px;background:linear-gradient(90deg,#26d,#39d,#28d,#26d,#26d,#4cd,#b64,#ca4,#822,#932,#bc6,#26d,#29e,#2af,#17e,#06d,#04e,#05e,#15d,#05e,#3ce,#db4,#800,#800,#e50,#5cd,#29e,#29e,#5cd,#c83,#910,#c30,#c84,#996,#6dd,#5cd,#bd7,#d51,#a10,#a20,#bb5,#3ad,#3ae,#6cc,#798,#aa6,#d71,#cc5,#6bb,#3ad,#5bd,#cb5,#e61,#b20,#b30,#a43,#da2,#ad9,#bb6,#e72,#d60,#d40,#e50,#d82,#bb7,#8b9,#ac7,#c83,#d50)"></i><i style="height:2px;background:linear-gradient(90deg,#4cd,#39d,#39d,#734,#b84,#944,#39d,#b53,#c52,#b42,#c53,#24b,#4bd,#16e,#17e,#14d,#04b,#03d,#14b,#04b,#19e,#da3,#800,#800,#e60,#6dd,#29e,#26c,#25a,#49c,#e40,#910,#d51,#7db,#29e,#28e,#5dd,#d52,#a20,#c20,#cb5,#9d9,#7cb,#5bc,#6cc,#ba5,#c20,#c30,#bc7,#68a,#58b,#9c9,#ea3,#d40,#b20,#c30,#ab7,#8da,#966,#965,#e81,#d82,#d93,#da3,#bd7,#6cc,#cc5,#d82,#e91)"></i><i style="height:2px;background:linear-gradient(90deg,#b64,#27d,#4ad,#25d,#27d,#27d,#4bd,#37c,#d92,#d72,#49c,#39d,#39e,#17e,#16e,#05d,#18e,#28e,#05d,#16e,#4bd,#c74,#800,#800,#e82,#38c,#3be,#3be,#5dd,#b95,#a10,#900,#e91,#ac8,#7db,#9d9,#aa6,#c63,#910,#a10,#eb3,#9b8,#9b8,#8da,#699,#a96,#c30,#c20,#d51,#b95,#ac7,#a85,#e71,#c20,#c20,#e81,#cb4,#db4,#bb6,#cb4,#e81,#d40,#d30,#e81,#cb5,#b94,#ba5,#bc6,#e91)"></i><i style="height:2px;background:linear-gradient(90deg,#27d,#4ad,#3ad,#27d,#6cb,#5cd,#834,#b43,#d72,#822,#ca4,#24c,#26d,#4cd,#18e,#04e,#06e,#05e,#05d,#17e,#27e,#cd7,#800,#800,#e60,#8db,#3bd,#5bd,#9a7,#c84,#c20,#b10,#d61,#ac7,#8ba,#6cc,#bb6,#e71,#a10,#c20,#ca4,#5cd,#4ce,#7ba,#cb5,#e70,#c20,#e71,#ea2,#8db,#39d,#5bc,#db4,#e60,#c20,#c30,#c63,#bd7,#a86,#942,#b52,#d40,#d40,#e70,#bc6,#9b8,#8ca,#bc6,#c41)"></i><i style="height:2px;background:linear-gradient(90deg,#944,#a44,#834,#4cd,#28d,#26d,#b84,#833,#37b,#8ba,#5bc,#29d,#2af,#19e,#18e,#06e,#02b,#04b,#03b,#18e,#4ce,#ab7,#800,#800,#b20,#9b8,#2ae,#29e,#5cd,#ca4,#c20,#b20,#d83,#9b7,#8b8,#7db,#8ba,#d92,#b30,#c41,#dc4,#3ad,#28e,#3ae,#ad8,#b31,#910,#b20,#e82,#8ca,#5cd,#4cd,#8c9,#943,#a20,#e50,#e92,#d83,#8ca,#8ca,#ab7,#e82,#d30,#e60,#e81,#da3,#cb5,#ab7,#ba4)"></i><i style="height:2px;background:linear-gradient(90deg,#27d,#7cb,#3ad,#4ce,#945,#bb6,#5cd,#39c,#5ac,#38b,#39c,#24c,#3be,#17e,#03d,#02a,#02a,#06e,#17d,#06e,#17e,#bb7,#900,#800,#c51,#6cc,#3ce,#ab7,#d93,#e50,#910,#b31,#ab6,#897,#7ca,#5bc,#bc6,#d61,#b20,#c20,#ca4,#6ab,#5ac,#9d9,#9d9,#8ca,#e70,#910,#c30,#bb6,#7bb,#9b8,#bb6,#cc5,#ea3,#c30,#c30,#bb6,#49c,#5cd,#aa6,#a85,#b74,#d51,#c30,#d60,#9c9,#8ca,#bb6)"></i><i style="height:2px;background:linear-gradient(90deg,#28d,#39d,#4bd,#28d,#26d,#7cb,#25c,#5ac,#5ab,#45b,#49c,#26d,#29e,#2ae,#2ae,#04e,#04b,#03b,#06e,#2ae,#5cd,#cb5,#800,#800,#d40,#ad8,#3ae,#2ae,#4de,#ca4,#b20,#900,#d51,#7dc,#5ac,#49c,#57b,#aa7,#b20,#910,#e71,#ab7,#4be,#25a,#68a,#d61,#b10,#d40,#9a7,#67a,#58b,#8ca,#d92,#c40,#b20,#d40,#bc7,#8b9,#bc7,#cc5,#e81,#d40,#c20,#b30,#b41,#dc4,#6aa,#689,#ca4)"></i><i style="height:2px;background:linear-gradient(90deg,#b64,#b64,#834,#b84,#944,#734,#b94,#9c9,#b32,#b42,#39c,#27d,#17e,#03c,#04d,#05e,#06e,#17e,#29e,#2ae,#29e,#7db,#800,#800,#d40,#bb6,#3be,#4bd,#b74,#b42,#910,#a10,#e71,#8ca,#28e,#25b,#37c,#ba5,#c20,#a30,#dc4,#569,#35b,#6cb,#a75,#a20,#a10,#e40,#ab7,#5cd,#8ca,#ad8,#da3,#d40,#c20,#e50,#bb6,#69a,#5bc,#ac8,#e51,#b20,#a20,#d41,#d72,#ba5,#bb6,#ba5,#d61)"></i><i style="height:2px;background:linear-gradient(90deg,#734,#b54,#24c,#39d,#5cd,#4bd,#26d,#39c,#932,#44a,#5bc,#4ad,#27e,#28d,#15b,#04d,#07e,#07e,#15d,#16e,#6bb,#d62,#800,#800,#e50,#9c8,#8b9,#8ca,#bc7,#e50,#b10,#e81,#4bd,#26b,#25c,#5ab,#bb7,#d40,#c20,#d51,#ba4,#4ce,#3be,#7db,#c84,#b31,#a20,#d51,#8ca,#4bd,#59b,#ac7,#d51,#b20,#b20,#e61,#8c9,#8eb,#ab7,#db3,#e61,#a20,#b20,#d51,#b52,#ba5,#cc5,#db4,#e81)"></i><i style="height:2px;background:linear-gradient(90deg,#25d,#4ad,#28d,#bc6,#ba5,#3ad,#25d,#c83,#b32,#932,#49c,#7cb,#5cd,#4cd,#17e,#04c,#04b,#04d,#18e,#17e,#3be,#cc5,#800,#800,#c20,#ab7,#7cb,#7ca,#d93,#910,#900,#b31,#cb4,#5dd,#3be,#6cc,#dc4,#d30,#a10,#e51,#cd6,#3be,#4ce,#ad7,#d51,#910,#a10,#d41,#ba5,#6cb,#6cc,#bd7,#e81,#b20,#b10,#e81,#da4,#cb5,#9d9,#cd6,#ea2,#e50,#e40,#c83,#dc5,#ac7,#6a9,#778,#ba6)"></i><i style="height:2px;background:linear-gradient(90deg,#25d,#39d,#27d,#29d,#28d,#734,#bb6,#c73,#a32,#932,#c83,#28d,#4bd,#14d,#04d,#05e,#17d,#18e,#04d,#07e,#3be,#c82,#800,#800,#d62,#8ca,#4cd,#8da,#996,#d82,#c20,#a10,#e72,#8c9,#6bc,#6dc,#7db,#eb3,#c20,#b20,#ea3,#8ca,#6bc,#5dd,#8da,#eb3,#d40,#d40,#bb5,#7cb,#8ba,#9c9,#dd5,#e81,#d40,#d51,#d61,#cb5,#6dd,#4ac,#8b9,#e81,#b20,#d60,#898,#47b,#4ac,#8da,#cd6)"></i><i style="height:2px;background:linear-gradient(90deg,#26e,#28d,#25d,#3be,#ac7,#aa5,#734,#b54,#c53,#c53,#b53,#a44,#a75,#3bf,#04d,#03d,#03d,#04e,#05e,#05e,#2ae,#9d9,#910,#800,#c73,#3ae,#2ae,#4ce,#5cd,#cc6,#b20,#a10,#d62,#6cc,#28e,#46b,#6bb,#ca4,#d50,#db4,#8b9,#5de,#26d,#458,#8b9,#b31,#b30,#a31,#c63,#ad8,#9b8,#ac8,#cb5,#e60,#c30,#d61,#ad8,#5cd,#8ca,#d72,#c41,#d40,#e51,#bc6,#6aa,#6ab,#9b8,#e92,#b63)"></i><i style="height:2px;background:linear-gradient(90deg,#b74,#3ad,#24c,#29d,#29e,#6cc,#4bd,#a43,#37c,#48b,#4ac,#29d,#16e,#17e,#15c,#02b,#03d,#02b,#04d,#17d,#3be,#bc7,#800,#800,#e60,#8ca,#3ce,#5bd,#6cb,#bc7,#d40,#910,#a31,#b84,#6bb,#4ce,#8da,#e61,#a10,#d40,#bd7,#6cc,#6dc,#8da,#da3,#b20,#a20,#c41,#cc6,#8da,#ac8,#bb6,#e92,#d50,#bb6,#7a9,#7ba,#6cc,#799,#aa7,#e50,#d51,#db3,#9c8,#9c9,#ca4,#a31,#b31,#d51)"></i><i style="height:2px;background:linear-gradient(90deg,#17e,#29e,#28e,#16e,#29e,#5cd,#28e,#b74,#4ac,#5ac,#25d,#29e,#05d,#04d,#03c,#02a,#02a,#04c,#02c,#02a,#15b,#9b8,#900,#800,#e71,#27d,#14b,#16e,#4ce,#d82,#c40,#e60,#ab7,#6cb,#36c,#3be,#ad8,#e71,#c20,#e50,#cc6,#3ad,#18e,#59c,#8da,#e61,#e50,#d82,#ac7,#6cc,#4ce,#8da,#da3,#d60,#ea3,#ea3,#cb5,#8c9,#5dd,#bc6,#e82,#c30,#c41,#e82,#ad8,#7bb,#ca4,#c52,#c83)"></i><i style="height:2px;background:linear-gradient(90deg,#3ad,#bb6,#a54,#28d,#27d,#3ae,#27d,#37c,#33a,#49b,#34b,#29e,#18e,#39d,#49c,#18e,#17e,#17e,#04d,#06e,#4bd,#db4,#800,#800,#d70,#37d,#17e,#18e,#2ae,#9d9,#a20,#910,#ea3,#58a,#26e,#28e,#5bc,#e71,#910,#b30,#d62,#7cb,#6dc,#ab6,#c51,#d30,#e40,#b41,#c73,#bc7,#ab6,#e92,#a20,#a10,#943,#b84,#bc7,#9d9,#9b8,#ca5,#e50,#b40,#b41,#bb6,#8da,#8a9,#9a8,#ea3,#d51)"></i><i style="height:2px;background:linear-gradient(90deg,#b53,#c94,#c63,#733,#ac8,#b94,#b53,#ca4,#c42,#a32,#5ab,#39c,#59c,#3bf,#18e,#18e,#29e,#16e,#15d,#17d,#7cb,#eb3,#800,#800,#910,#b93,#6cc,#6bc,#ac8,#ea2,#a10,#900,#d92,#58a,#25a,#36a,#679,#d82,#800,#b10,#eb3,#8ca,#7cb,#bb6,#e81,#c40,#b20,#c30,#e62,#9c9,#5cc,#9c9,#d40,#910,#b10,#e50,#e92,#6cc,#7a9,#ba6,#e60,#b10,#c20,#d61,#da3,#ac7,#ea2,#c31,#a20)"></i><i style="height:2px;background:linear-gradient(90deg,#27d,#27d,#39d,#27d,#29d,#2ad,#28d,#c93,#832,#c82,#833,#39d,#18e,#17e,#04b,#04c,#18e,#39e,#16d,#03c,#15d,#7cb,#a10,#800,#d30,#8c9,#35b,#17e,#7db,#b74,#b10,#c20,#aa6,#4ad,#7db,#887,#986,#d62,#a20,#b10,#e61,#bd7,#6cc,#5bb,#9b8,#d51,#a10,#a10,#b31,#db4,#5cd,#6dc,#9b8,#eb3,#c30,#d40,#da3,#da3,#c84,#bb5,#cc6,#e61,#c30,#c30,#e51,#c84,#aa6,#7cb,#bb6)"></i><i style="height:2px;background:linear-gradient(90deg,#25d,#a44,#b54,#28d,#28d,#6cb,#28d,#37c,#8ba,#d62,#933,#27d,#38c,#18e,#06e,#17e,#18e,#06e,#07e,#59b,#8ca,#b62,#910,#800,#d40,#7ba,#38d,#26d,#29e,#bb6,#e60,#b20,#e50,#9b8,#6bb,#8da,#a96,#b41,#a10,#b20,#bb6,#ad8,#ab6,#c94,#d72,#b20,#910,#b40,#b84,#ac8,#8ba,#d93,#c31,#b20,#c30,#da3,#8ca,#7cb,#8b9,#da3,#d60,#e81,#e81,#b74,#b95,#bd7,#db4,#d41,#b20)"></i><i style="height:2px;background:linear-gradient(90deg,#27d,#39d,#8ca,#28d,#4bd,#39d,#238,#49c,#6bb,#47b,#48b,#8c9,#28d,#2ae,#16e,#19e,#2be,#3ce,#4bd,#3ae,#3ae,#cb5,#800,#800,#b30,#8eb,#27e,#4be,#cc6,#e51,#900,#a20,#d61,#c84,#9a7,#8da,#bc6,#d40,#a10,#d40,#bc6,#38d,#26a,#5bd,#b41,#a10,#a20,#b41,#da3,#5dd,#7dc,#ab7,#e70,#c20,#b10,#e51,#9c9,#7db,#bb6,#953,#b30,#910,#a20,#b31,#d62,#bb6,#cb5,#e91,#e70)"></i><i style="height:2px;background:linear-gradient(90deg,#28e,#23a,#27e,#4ce,#14d,#29e,#3ae,#25d,#833,#a43,#27d,#6cc,#15e,#04c,#03d,#16d,#07e,#05d,#05d,#06d,#2ae,#ad8,#a10,#800,#da3,#29e,#15c,#15b,#3ae,#da3,#e91,#e70,#eb3,#bb6,#4de,#17e,#48b,#bb6,#d60,#d92,#7db,#7dc,#9b8,#8d9,#6dc,#aa6,#e91,#e81,#ca4,#8ca,#5cd,#6dc,#c82,#d41,#c30,#d61,#c73,#b64,#ab6,#7cb,#bb6,#e91,#e61,#d81,#7a9,#58a,#48d,#6bb,#cc6)"></i><i style="height:2px;background:linear-gradient(90deg,#27e,#24c,#2ad,#4ce,#29e,#29e,#3ad,#26d,#c53,#833,#6cc,#29e,#27d,#02a,#02b,#02b,#04e,#03c,#02c,#03d,#3ce,#bc7,#a10,#800,#ba5,#39e,#27e,#17e,#3be,#8da,#d51,#a10,#d81,#58b,#16c,#16e,#5cd,#c83,#c20,#e60,#bc7,#48c,#2ae,#6bb,#d93,#a20,#b20,#c73,#6dc,#4be,#9c9,#ad8,#aa7,#e91,#e60,#aa6,#6dc,#9c9,#8ea,#9c8,#c83,#b41,#a31,#d92,#8da,#7ca,#cc5,#c51,#b41)"></i><i style="height:2px;background:linear-gradient(90deg,#25d,#26d,#239,#3ae,#16e,#9c9,#28d,#944,#c83,#38c,#38c,#239,#04c,#02b,#06e,#38d,#3ae,#16d,#05e,#17e,#3ce,#8b9,#800,#800,#e81,#5dd,#2ae,#3ae,#9b8,#b52,#b30,#910,#cc5,#5dd,#6cc,#8b9,#997,#b75,#b30,#a20,#ea2,#6ab,#4de,#6dd,#6cb,#da4,#c30,#d30,#ea2,#bb6,#5bc,#26d,#6dd,#e82,#e50,#d30,#d51,#ba5,#9c8,#ab6,#ca5,#b84,#e51,#e70,#da4,#ab7,#ab7,#6dc,#6dc)"></i><i style="height:2px;background:linear-gradient(90deg,#3ad,#38d,#39d,#26d,#26d,#39d,#39d,#ca4,#d72,#822,#337,#39d,#28d,#15c,#19e,#19e,#06e,#17e,#05e,#13a,#28e,#d92,#800,#800,#e60,#6dd,#2ae,#2ae,#ac8,#b51,#910,#a10,#ca5,#57b,#29e,#6cc,#b94,#a20,#900,#e70,#ac7,#7cb,#4bd,#5bc,#ea1,#910,#b20,#c84,#8ca,#bc7,#b53,#b41,#a10,#910,#e50,#c82,#943,#a63,#c74,#e82,#d50,#d50,#ea2,#bc7,#8b9,#da3,#d41,#c30,#b30)"></i><i style="height:2px;background:linear-gradient(90deg,#6cc,#27d,#5cc,#25d,#27d,#3ad,#29d,#c93,#832,#c42,#38c,#5cd,#14d,#03b,#03c,#16e,#06e,#16e,#02b,#04b,#2ae,#bb6,#800,#800,#e50,#9c9,#3be,#3be,#5bd,#cb4,#b30,#910,#d40,#7dc,#2ae,#16e,#26b,#8b9,#e60,#d50,#da4,#ac8,#7dc,#4ce,#8ca,#d93,#d50,#c30,#d81,#7db,#5cd,#7cb,#d73,#a31,#a20,#d51,#cb5,#7ba,#6dc,#9b8,#dc5,#ea3,#e50,#b40,#a31,#d83,#ad8,#9d8,#ca3)"></i><i style="height:2px;background:linear-gradient(90deg,#26d,#9c9,#5cd,#a54,#a44,#b74,#834,#33b,#38b,#822,#a43,#b54,#25c,#3ad,#17e,#02a,#03b,#03d,#04e,#16e,#29e,#cb5,#800,#800,#d40,#7cb,#17e,#29e,#7ba,#c94,#c30,#d82,#9c9,#29e,#45b,#58b,#cc5,#a10,#a10,#e91,#bb6,#ab7,#bc7,#cb4,#e71,#d30,#d40,#ea2,#9d9,#7db,#ac8,#bc6,#e60,#c20,#953,#b73,#cb5,#8ca,#bb6,#b41,#b20,#d40,#bb6,#8ca,#7ba,#8b9,#e81,#e51,#e80)"></i><i style="height:2px;background:linear-gradient(90deg,#34c,#933,#a43,#24b,#26d,#5cd,#49c,#c63,#d62,#d92,#ca4,#733,#5cd,#29e,#18e,#17e,#16e,#16e,#2be,#2ae,#4de,#c73,#800,#800,#c20,#bc6,#29e,#26b,#45a,#dc5,#a10,#800,#e91,#8c9,#6dd,#8db,#7cb,#e61,#900,#a10,#c63,#c93,#ab7,#8b9,#db4,#b30,#900,#a10,#b31,#865,#856,#ca5,#e61,#a10,#b20,#c82,#788,#48b,#bd7,#c84,#c83,#d30,#b20,#d40,#e71,#d82,#cc5,#eb3,#e70)"></i><i style="height:2px;background:linear-gradient(90deg,#39d,#5cd,#25c,#39d,#4bd,#26d,#944,#c63,#c42,#6bb,#933,#9a7,#17e,#16d,#19e,#29e,#18e,#15e,#04d,#16e,#29e,#bc6,#800,#800,#b20,#a96,#3be,#28e,#5ab,#d93,#b30,#900,#d40,#8ba,#28e,#26c,#39d,#ac7,#b20,#900,#a20,#db3,#6bb,#3be,#7cb,#dc4,#e50,#910,#910,#c51,#a86,#bc7,#8da,#cb5,#e60,#c20,#c20,#d51,#ab7,#58a,#7aa,#ea3,#d40,#b20,#d30,#c94,#8b8,#ac8,#cc6)"></i><i style="height:2px;background:linear-gradient(90deg,#25d,#28d,#27d,#3ad,#26d,#28d,#28d,#338,#822,#c72,#4ac,#39d,#14b,#04d,#15e,#05e,#06e,#06e,#04d,#03b,#28e,#ca4,#800,#800,#d71,#7cb,#2ae,#3ce,#7dc,#b94,#b30,#910,#d51,#6ab,#26d,#2ae,#9c9,#c53,#910,#b20,#e82,#39d,#27e,#4cd,#bb6,#c30,#a20,#d50,#9da,#5ab,#59b,#7ba,#e71,#c30,#d30,#e81,#8ca,#5cc,#ac7,#d82,#e71,#e40,#e70,#da3,#c92,#a95,#b75,#c84,#e61)"></i><i style="height:2px;background:linear-gradient(90deg,#844,#734,#b64,#25d,#bb6,#7cb,#b64,#b54,#c83,#c73,#b53,#a54,#4ce,#2af,#04d,#03b,#03b,#02a,#03d,#18e,#7aa,#ca5,#a10,#b20,#ca5,#5ab,#15e,#28e,#5bb,#b84,#b20,#c20,#db4,#8da,#5bc,#3be,#6cc,#da4,#d81,#ea2,#bb6,#7cb,#ba6,#656,#844,#a20,#c30,#d61,#cc5,#7db,#6db,#cb6,#e51,#d30,#e60,#da3,#ac8,#ae8,#bc7,#d82,#c63,#d30,#d51,#c94,#a76,#a76,#d92,#d61,#c41)"></i><i style="height:2px;background:linear-gradient(90deg,#4bd,#39d,#6cc,#26d,#26d,#4cd,#b74,#c73,#822,#d92,#5bc,#2ae,#2ae,#4bd,#2ae,#14b,#04b,#03b,#04e,#2ae,#8da,#da3,#800,#800,#d40,#aa6,#8ca,#46b,#4ac,#d40,#a10,#e70,#dc4,#bb6,#ac8,#ac8,#da3,#d40,#900,#c30,#b95,#9a7,#8da,#ac8,#e92,#c20,#a10,#e60,#db4,#8da,#49c,#6bb,#ea2,#e40,#d50,#da3,#cc5,#bb6,#bc7,#ca3,#d51,#a20,#d40,#d61,#da3,#8ca,#9b8,#e92,#b31)"></i><i style="height:2px;background:linear-gradient(90deg,#5cd,#734,#635,#17e,#2ae,#16e,#26e,#39d,#6cb,#38c,#5bc,#239,#2bf,#06e,#04e,#04d,#05e,#04e,#05d,#03c,#14b,#7b9,#900,#800,#e71,#37b,#16e,#2ae,#5cd,#dc4,#d40,#d40,#ab8,#6dc,#3be,#3be,#2ae,#bc7,#d83,#c30,#c63,#ac8,#28e,#18e,#3ce,#8eb,#b41,#b20,#e60,#ab8,#7cb,#4ce,#3be,#3ad,#6cb,#e50,#b20,#e51,#da3,#9d9,#7ba,#ad8,#b95,#c41,#c30,#d40,#e72,#bb5,#9c9)"></i><i style="height:2px;background:linear-gradient(90deg,#3ad,#239,#b74,#5cd,#29d,#25d,#8ca,#37c,#48b,#c62,#933,#944,#789,#2ae,#06e,#17e,#05e,#03c,#04d,#06d,#3ae,#bd7,#800,#800,#e81,#37d,#18e,#17e,#29e,#6dd,#ea2,#a20,#a20,#cd6,#26c,#26d,#5bc,#ab7,#d61,#a10,#a20,#e82,#7bb,#38c,#4ce,#8da,#eb3,#d30,#c20,#e91,#ad8,#ad8,#6bb,#59a,#e91,#a20,#b20,#eb3,#9b8,#8ca,#6dc,#bb6,#b41,#b30,#c20,#c73,#ab8,#7dc,#8b9)"></i><i style="height:2px;background:linear-gradient(90deg,#3ad,#a44,#25d,#39d,#39d,#27d,#38d,#37c,#d62,#c42,#c53,#b84,#7a9,#2ae,#18e,#06e,#14d,#04d,#05e,#17e,#4ce,#d72,#800,#800,#e71,#6cc,#6dc,#4ce,#2ae,#7a9,#e50,#910,#e70,#7b9,#37d,#26d,#4bd,#d52,#910,#a10,#e50,#bb5,#8da,#8ba,#ac8,#d71,#b10,#910,#953,#dc4,#7ec,#9b8,#bb6,#e70,#b30,#910,#c73,#8ca,#5bc,#8ca,#ea3,#c30,#b20,#e50,#cb5,#ac7,#9c9,#c62,#b41)"></i><i style="height:2px;background:linear-gradient(90deg,#6cc,#bb5,#b54,#a44,#5cd,#29d,#39d,#c53,#47b,#426,#6bc,#39d,#39d,#18e,#05e,#05e,#04e,#27e,#28e,#3be,#4bd,#d82,#800,#800,#e60,#7ca,#6cc,#b95,#b64,#b41,#a10,#a10,#ea2,#6cc,#4cd,#7cb,#8da,#d93,#a10,#a10,#ea2,#5ab,#3ae,#7db,#d73,#c40,#910,#a10,#d51,#ac8,#6dd,#9ea,#db4,#e71,#a10,#910,#933,#865,#aa6,#bd7,#da3,#e81,#e60,#d50,#d92,#bd7,#8ca,#ab8,#bb6)"></i><i style="height:2px;background:linear-gradient(90deg,#28d,#28d,#28d,#3ad,#4cd,#29d,#23a,#38c,#36b,#a32,#b53,#a95,#17e,#06e,#05e,#18e,#4be,#4ad,#3be,#2ae,#3ae,#bb5,#800,#800,#b30,#ca4,#4ce,#2ae,#3bd,#ad9,#b20,#a20,#e92,#bd7,#7cb,#5cd,#7db,#ca5,#a10,#b20,#da3,#8ca,#4be,#6dc,#a96,#b41,#c20,#d30,#c94,#9d9,#6cc,#7cb,#ac7,#d61,#c30,#b20,#a31,#da3,#8ca,#7ba,#dc5,#b41,#b20,#b30,#c41,#d92,#c73,#c93,#cb5)"></i><i style="height:2px;background:linear-gradient(90deg,#944,#734,#734,#b74,#b84,#b74,#b54,#39c,#b42,#c52,#c53,#944,#27d,#18e,#18e,#18e,#06e,#05e,#14c,#04d,#29e,#db4,#800,#800,#e92,#9da,#5bd,#5cd,#bd7,#e40,#b10,#d50,#a95,#ad8,#4ce,#29e,#699,#e60,#900,#a20,#ca4,#5cd,#6dd,#6cc,#9b9,#d82,#a20,#a10,#e82,#9c9,#6bb,#ad8,#d82,#b31,#a10,#c30,#c83,#b85,#954,#ba6,#bd6,#e61,#b20,#a10,#c41,#db3,#cc5,#da3,#d72)"></i><i style="height:2px;background:linear-gradient(90deg,#b64,#a44,#39d,#39d,#b94,#39d,#5bd,#38c,#47b,#c42,#c62,#834,#6bb,#15b,#14b,#04d,#04d,#05e,#18e,#18e,#2ae,#ea2,#800,#800,#b20,#cc6,#5dd,#5dd,#9d9,#c41,#910,#a10,#ea2,#6dc,#29e,#59c,#ab8,#e71,#a10,#c30,#ea3,#9d9,#4be,#3ad,#8b9,#e81,#910,#a10,#c83,#7ca,#8b9,#ba6,#844,#a20,#a20,#c20,#bc7,#ac8,#ac8,#dc5,#d62,#a20,#a10,#e50,#9a7,#9c8,#b85,#ca4,#db4)"></i><i style="height:2px;background:linear-gradient(90deg,#bb6,#b94,#38d,#25d,#23a,#39d,#b64,#833,#d62,#d52,#c63,#4ad,#2ae,#29e,#6ab,#5ac,#19e,#2ae,#5ac,#8c9,#7cb,#d61,#800,#800,#d30,#6ba,#27e,#18e,#7dc,#d83,#a20,#900,#b20,#bb5,#6dd,#3ae,#5dd,#bb5,#b30,#900,#a10,#e92,#5dd,#3be,#8ca,#cc6,#e60,#a10,#c20,#ea2,#ac8,#7db,#ac8,#d82,#b20,#910,#b20,#c51,#c62,#966,#c94,#e81,#d40,#910,#b20,#a31,#d72,#c83,#ca5)"></i><i style="height:2px;background:linear-gradient(90deg,#7cb,#27d,#39d,#27d,#944,#734,#bb6,#b43,#d52,#d52,#c52,#24c,#29e,#17e,#15e,#17e,#17e,#19e,#1ae,#19e,#3be,#e92,#800,#800,#b20,#4ad,#27e,#4ce,#cb5,#e61,#a10,#c20,#db3,#5ab,#45a,#28d,#9c9,#a20,#910,#a10,#d92,#6cb,#6dc,#6cc,#bb5,#a10,#910,#b20,#ba5,#ac8,#b95,#965,#b51,#c20,#c30,#e60,#b94,#b95,#ba5,#e82,#d40,#c20,#d30,#da4,#6bb,#9da,#cd6,#da3,#e70)"></i><i style="height:2px;background:linear-gradient(90deg,#29e,#28d,#29d,#239,#17e,#4ce,#24c,#944,#b43,#833,#b53,#8c9,#17e,#14b,#02a,#02b,#02b,#02a,#04e,#06e,#3ce,#d82,#900,#800,#c83,#9c9,#5bd,#3ae,#6bb,#bd7,#e40,#b20,#d72,#7bb,#29e,#17e,#3be,#cc6,#e60,#c20,#c94,#8c9,#5dd,#4de,#7cb,#dc4,#b30,#b30,#eb3,#6aa,#48b,#3be,#a86,#a52,#c30,#c30,#e81,#9d8,#6ab,#3ad,#37c,#6cb,#d92,#d30,#e61,#9c8,#7db,#6dc,#8ca)"></i><i style="height:2px;background:linear-gradient(90deg,#24c,#28d,#27d,#24c,#5cd,#28e,#28d,#bb5,#c53,#34a,#339,#4ad,#a85,#28e,#04e,#04d,#05d,#18e,#17e,#07e,#29e,#7db,#800,#800,#d40,#3ad,#2ae,#8db,#cc5,#c31,#910,#e50,#ac8,#5cc,#2be,#4be,#8ca,#d82,#d30,#e50,#ba5,#5cd,#2ae,#6bb,#cc5,#ea2,#d40,#e71,#ac7,#7dc,#8db,#bd8,#e92,#d40,#b20,#c63,#bc6,#8ea,#bd6,#c95,#d82,#d92,#d92,#da3,#dc4,#7aa,#6aa,#6cc,#ca4)"></i><i style="height:2px;background:linear-gradient(90deg,#5cc,#27e,#3be,#4ce,#19e,#4ce,#2ae,#4bd,#5bc,#35c,#25d,#29e,#4cd,#06e,#28d,#07e,#03a,#02a,#07e,#28e,#18e,#bd7,#900,#800,#e81,#2ae,#15b,#15b,#47a,#799,#e60,#e70,#9b7,#5bc,#18e,#19e,#4ce,#bb6,#d71,#d70,#ad9,#6cc,#6dc,#5cd,#8da,#ba5,#d40,#d40,#eb3,#4bd,#29e,#6dc,#9b7,#9d9,#ba5,#b30,#a31,#9b9,#38d,#4be,#7cb,#cc5,#e91,#d61,#d71,#d93,#ae8,#6cb,#ac8)"></i><i style="height:2px;background:linear-gradient(90deg,#635,#3ad,#28d,#4ce,#29e,#3be,#29d,#24b,#49c,#b53,#5bc,#5cd,#3be,#04c,#06e,#03c,#02a,#02b,#03d,#04e,#2ae,#bd8,#900,#800,#d61,#27d,#14b,#2ae,#ac7,#e60,#d40,#e71,#7ba,#18e,#28e,#4cd,#cc6,#d30,#b20,#c84,#ad8,#4be,#28e,#9b9,#ca4,#e50,#b20,#c42,#9e9,#4be,#5cd,#7cb,#db4,#c40,#c30,#eb3,#9c9,#7db,#6bb,#cc5,#d71,#c30,#c31,#e82,#ab7,#59b,#8ca,#d82,#c41)"></i><i style="height:2px;background:linear-gradient(90deg,#734,#944,#a44,#734,#b74,#b74,#b84,#833,#d82,#48b,#34b,#834,#4cd,#28e,#18e,#05e,#15c,#04d,#06e,#17e,#3ae,#d72,#800,#800,#c20,#8ea,#3be,#5bc,#7ca,#bb5,#d30,#a10,#d60,#7db,#28e,#3ce,#ac7,#e61,#a10,#b20,#d61,#a96,#7cb,#3bd,#bc7,#e60,#d30,#e60,#6bb,#47c,#37d,#7cb,#bc7,#d93,#d50,#e80,#9c9,#ad8,#ab7,#b94,#b31,#b20,#a10,#e71,#ac8,#9c9,#bc6,#c94,#e91)"></i><i style="height:2px;background:linear-gradient(90deg,#28d,#3ad,#27d,#28d,#4bd,#25d,#25d,#38c,#34b,#49b,#6cb,#ac7,#6dc,#19e,#07e,#06e,#07e,#18e,#28e,#17d,#2ae,#b94,#900,#800,#d50,#4bd,#26d,#36c,#8da,#e71,#a10,#c20,#bb6,#4cd,#2ae,#27e,#38d,#bb6,#c20,#910,#c63,#ac8,#27e,#25b,#4ad,#ad8,#d40,#a10,#d51,#bc6,#9c9,#9c9,#ca5,#db4,#d40,#a20,#c40,#dc4,#8ca,#9b9,#976,#864,#b31,#d30,#e61,#e81,#bc6,#8da,#8b9)"></i><i style="height:2px;background:linear-gradient(90deg,#8ca,#29d,#3ad,#3ae,#16e,#5cc,#734,#944,#38c,#36c,#39c,#944,#17e,#04d,#04d,#02c,#03d,#03e,#18e,#39e,#4ce,#ba6,#800,#800,#c63,#5dd,#29e,#2ae,#6cc,#9c9,#b96,#d41,#d30,#ea2,#7cb,#4ce,#3be,#8ca,#cd5,#d41,#a20,#933,#a84,#6dc,#5dd,#7cb,#c83,#b31,#a10,#d50,#bb5,#5dd,#28e,#3ad,#8a9,#997,#c94,#c93,#b94,#8da,#4cd,#8ca,#d83,#d51,#e80,#e81,#cc5,#6ba,#9d9)"></i><i style="height:2px;background:linear-gradient(90deg,#ac8,#bb6,#734,#4ce,#27e,#29e,#3bd,#25d,#833,#832,#833,#b64,#799,#03d,#03b,#03d,#05e,#17e,#16e,#02c,#27e,#9c9,#800,#800,#e61,#7cb,#1ae,#18e,#2ae,#ba5,#b30,#a10,#e71,#ca4,#8c9,#9b8,#8ca,#bc6,#d50,#c30,#d92,#ad9,#4ce,#17e,#3ad,#9b8,#d70,#e60,#eb3,#8b9,#5ab,#5ac,#9da,#bb6,#d92,#d40,#c53,#bc6,#ae9,#5cd,#5cc,#bd8,#da3,#ea2,#ca4,#cd5,#cb5,#cd6,#ab7)"></i><i style="height:2px;background:linear-gradient(90deg,#29d,#4bd,#b84,#b64,#27d,#26d,#238,#833,#c93,#b32,#c73,#38d,#6cc,#2bf,#2ae,#17e,#2ae,#3be,#2ae,#19e,#29e,#bc6,#900,#800,#b40,#cc6,#5de,#29e,#28e,#6cb,#d40,#a10,#e40,#6cc,#3ae,#2ae,#4bd,#bb6,#c30,#910,#a31,#a65,#9c9,#7db,#7cb,#da3,#d30,#c20,#e61,#bc6,#6dc,#7db,#cb5,#d40,#a10,#a10,#db4,#8b8,#bb6,#b75,#c94,#ea2,#d50,#d40,#c93,#9c8,#9c9,#cc6,#ca4)"></i><i style="height:2px;background:linear-gradient(90deg,#5cd,#4bd,#734,#945,#15d,#635,#a54,#27d,#36c,#37c,#38c,#4bd,#17e,#04e,#03d,#03d,#04d,#02b,#02a,#04e,#17e,#7cb,#b10,#900,#da3,#27d,#26b,#27e,#7ba,#e61,#910,#b20,#a65,#6bc,#3ad,#2ae,#7dc,#d71,#b20,#c30,#dc4,#3ae,#15d,#4ce,#ca4,#a31,#a20,#b30,#dc4,#6ab,#46b,#3ae,#5bc,#bc6,#d30,#b20,#e81,#db4,#976,#876,#745,#b41,#b20,#e60,#ea3,#ac8,#58b,#38c,#7dc)"></i><i style="height:2px;background:linear-gradient(90deg,#24b,#28d,#28d,#4cd,#4cd,#23a,#239,#36c,#bc6,#c62,#833,#4ad,#27e,#17e,#03d,#04e,#05e,#05e,#06e,#05e,#18e,#bb6,#800,#800,#c40,#6cc,#17e,#14b,#26a,#7a9,#c41,#a10,#d71,#cc6,#7bb,#4ac,#4bc,#bc7,#b30,#a10,#e61,#5bc,#5cd,#6cc,#8da,#bb7,#d81,#b20,#d40,#cb5,#9b8,#8ca,#8ca,#bd7,#d51,#a31,#d30,#e72,#ac7,#6cc,#7cb,#9c9,#da3,#a20,#b20,#b63,#b95,#9c9,#9d9)"></i><i style="height:2px;background:linear-gradient(90deg,#16e,#3ae,#945,#a55,#aa6,#4ce,#29e,#4bd,#39c,#38c,#28d,#2ae,#15d,#06e,#03d,#03d,#02d,#02b,#02d,#15e,#2ae,#d83,#900,#800,#db4,#468,#14b,#359,#7cb,#e81,#c30,#e71,#9d9,#2ae,#15d,#3ce,#a86,#c62,#b20,#d41,#ab6,#4cd,#18e,#8a8,#854,#d52,#d71,#c93,#bd7,#5dd,#29d,#4be,#4bd,#9b8,#d93,#e81,#bc7,#8da,#5cd,#4ce,#bd7,#eb3,#e81,#e61,#ba5,#68a,#38d,#6dd,#ae9)"></i><i style="height:2px;background:linear-gradient(90deg,#6cc,#a54,#23a,#26d,#3ad,#29d,#4ad,#b43,#b32,#6bb,#6cb,#39d,#26e,#29e,#18e,#17e,#17e,#05e,#04e,#04d,#26c,#9d9,#900,#800,#d60,#8b9,#18e,#48c,#9c8,#e50,#910,#e60,#ca4,#3bd,#29e,#5dd,#8b9,#da3,#b20,#e60,#7db,#2ae,#3be,#3ad,#9d9,#e50,#e50,#a95,#9da,#ad9,#9b7,#ac8,#9b8,#d93,#d30,#b30,#c62,#bd7,#3ad,#6cc,#ec4,#d30,#b20,#e61,#d82,#bc7,#ad8,#da3,#e61)"></i><i style="height:2px;background:linear-gradient(90deg,#6cc,#4bd,#28d,#4bd,#b95,#26e,#27d,#b94,#36c,#7ba,#4ac,#28d,#4de,#28d,#29d,#2ae,#17e,#04e,#17e,#3be,#19e,#ab7,#800,#800,#c30,#7db,#19e,#17e,#2ae,#6cc,#e60,#910,#e61,#6cc,#4de,#2ae,#29e,#ab8,#e51,#b10,#e81,#69a,#46b,#26d,#38e,#56a,#ca4,#b20,#d40,#bb7,#4cd,#29e,#7cb,#c83,#d51,#e40,#e91,#ab7,#8ca,#ac7,#ab7,#bb6,#e91,#c30,#c30,#ca4,#6bc,#4bd,#8ca)"></i><i style="height:2px;background:linear-gradient(90deg,#17e,#28e,#28e,#29e,#13a,#3be,#b95,#b84,#a43,#b43,#36c,#28d,#635,#4ce,#03d,#02d,#05d,#04e,#03d,#04e,#4ce,#dc5,#a10,#800,#d41,#9c8,#2ae,#29e,#9c8,#e60,#b20,#e92,#6dc,#2ae,#15d,#38d,#ea3,#d30,#d50,#ac8,#4de,#2be,#2ae,#5bc,#d81,#e60,#da3,#7ca,#29e,#25b,#39d,#da2,#c30,#e61,#bc7,#6dc,#bb6,#cb5,#8da,#8ca,#cb5,#db4,#9d9,#7cb,#9ea,#9c9,#b95,#e92,#e81)"></i><i style="height:2px;background:linear-gradient(90deg,#3be,#944,#944,#27d,#25d,#4ce,#25d,#5bd,#34b,#c83,#a43,#4ce,#04c,#03b,#04e,#04e,#03d,#03d,#04d,#06e,#2be,#d92,#900,#800,#da3,#4bd,#19e,#4ce,#db3,#d40,#d40,#ea3,#8b9,#36c,#459,#38d,#ab7,#d30,#c30,#854,#9b9,#3ce,#4de,#ad8,#e61,#c40,#e61,#9c9,#39d,#3ae,#6dc,#db4,#d50,#e60,#e81,#9c8,#7cb,#9c9,#dc5,#d92,#e50,#d61,#7ca,#49c,#6dc,#8ca,#8da,#ca5,#d93)"></i><i style="height:2px;background:linear-gradient(90deg,#3ad,#27d,#39d,#27d,#24b,#28d,#26d,#49c,#48b,#49b,#38c,#7cb,#2af,#07e,#06e,#17e,#04d,#06e,#3ae,#18e,#18e,#bc7,#800,#800,#b30,#aa6,#5cd,#3ce,#7db,#b52,#b30,#910,#d92,#7ba,#29e,#16e,#6bb,#ca4,#e50,#b10,#c53,#ad8,#6cc,#5bc,#6dc,#9c9,#d93,#c30,#a20,#b64,#bc6,#9c9,#ac7,#da3,#e50,#b10,#c30,#d61,#cb5,#7bb,#9b8,#da4,#d81,#d50,#e50,#d51,#c63,#ca4,#bb6)"></i><i style="height:2px;background:linear-gradient(90deg,#3ad,#734,#944,#734,#4bd,#239,#5cd,#7cb,#ca4,#932,#833,#b54,#18e,#3ae,#17d,#03d,#04d,#06e,#06e,#05e,#4bd,#964,#800,#800,#e91,#6cb,#3ae,#2be,#6dc,#bd7,#e60,#c20,#b95,#48c,#29e,#2ae,#4bc,#bc7,#e40,#a10,#e61,#9b8,#5cd,#6cc,#6cc,#9a8,#d50,#d30,#cb5,#7db,#7cb,#7cb,#bc6,#c41,#b20,#d71,#db4,#9c9,#59a,#8ba,#da3,#d51,#e40,#ea2,#d82,#c93,#9c9,#cb4,#b41)"></i><i style="height:2px;background:linear-gradient(90deg,#4bd,#bc6,#5cd,#29d,#27d,#b74,#734,#5ac,#59b,#ab7,#9c9,#a44,#b64,#15c,#17e,#2ae,#2ae,#18e,#05e,#04c,#16e,#ab7,#800,#800,#b20,#ab8,#3be,#2ae,#3be,#ac8,#d50,#900,#c40,#c93,#8c9,#7cb,#5bd,#8da,#e51,#900,#a10,#c52,#bd7,#5cd,#4ce,#6cc,#bb6,#b20,#910,#e51,#ac8,#5cd,#9c8,#ab7,#cb5,#e70,#b10,#b20,#c74,#bc6,#ab7,#aa6,#cd6,#e92,#d40,#a20,#b41,#cc5,#9c9)"></i><i style="height:2px;background:linear-gradient(90deg,#27d,#4cd,#944,#a55,#139,#18e,#4bd,#27d,#38c,#35c,#37c,#26d,#18e,#05c,#14b,#02a,#03b,#02a,#03d,#04e,#26d,#6cb,#900,#800,#e71,#4cd,#19e,#18e,#3ad,#d61,#b10,#d92,#7ba,#6dc,#3ae,#2ae,#5dd,#bb5,#d30,#c30,#e72,#ad8,#3be,#2ae,#9d9,#a63,#a20,#a10,#d51,#8da,#3be,#29e,#3ad,#ad8,#e71,#e60,#e91,#c94,#ad8,#6dd,#5dd,#9b8,#db4,#e50,#d51,#c72,#bc7,#7ba,#3ad)"></i><i style="height:2px;background:linear-gradient(90deg,#3ad,#4cd,#28d,#28d,#3ae,#7cb,#834,#a44,#b53,#932,#c63,#9c9,#17e,#03d,#02c,#03d,#03b,#04e,#17e,#04e,#34b,#cb4,#800,#800,#e70,#3ad,#19e,#18d,#5cd,#d51,#b20,#d30,#db4,#28e,#29e,#7cb,#b96,#c63,#b20,#e60,#ad9,#4ce,#4ce,#9b8,#a65,#a53,#a20,#c31,#dc4,#4bd,#5ab,#7b9,#bb6,#e81,#d40,#d51,#bc7,#59b,#4bd,#7ba,#e92,#e60,#e40,#c41,#c93,#7db,#5cd,#7db,#9b8)"></i><i style="height:2px;background:linear-gradient(90deg,#23a,#4bd,#26d,#4bd,#4cd,#39d,#a44,#833,#a32,#d82,#833,#25d,#3ae,#4ce,#3be,#18e,#03c,#06e,#3ae,#2ae,#29e,#ab8,#800,#800,#d30,#8eb,#49c,#5dd,#ac8,#c51,#b20,#a10,#c73,#5cd,#29e,#6cc,#9c8,#b94,#c20,#a10,#db4,#4ac,#3be,#7ba,#a96,#ba5,#d50,#c20,#e50,#db4,#7db,#5dd,#7db,#ad8,#e60,#b20,#c20,#c94,#9c9,#bb6,#c95,#d82,#e81,#e60,#e70,#e91,#ab6,#8da,#ac7)"></i><i style="height:2px;background:linear-gradient(90deg,#24b,#39d,#29d,#5cd,#4ce,#29e,#26d,#27d,#35b,#c52,#c63,#7cb,#3bf,#18e,#18e,#06e,#05e,#03d,#07e,#39c,#4ce,#6cb,#800,#800,#b30,#3bd,#26c,#16d,#48b,#cb5,#b20,#c20,#bc6,#6dc,#3be,#17e,#3be,#db4,#d30,#b20,#e71,#7ba,#45a,#26d,#6dc,#bc6,#e60,#e40,#e81,#9c8,#4cd,#29e,#4cd,#c72,#b30,#a20,#e81,#6bb,#38d,#4ad,#8da,#dc4,#e71,#e60,#d50,#da3,#8ca,#9da,#9d9)"></i><i style="height:2px;background:linear-gradient(90deg,#3ad,#4bd,#39d,#25d,#26d,#27d,#24c,#b43,#c52,#47b,#7ca,#3ad,#15d,#05e,#03d,#04e,#03d,#03d,#03d,#06e,#18e,#bd8,#800,#800,#e70,#4bd,#18e,#19e,#6cc,#d62,#c20,#c40,#8a8,#59c,#28e,#29e,#6cc,#b94,#c30,#b10,#d51,#7cb,#28e,#29e,#7db,#c94,#b20,#910,#d51,#cd5,#6dc,#6bc,#cb5,#e71,#c30,#b30,#d41,#d93,#8b9,#6dc,#6cc,#ac8,#e70,#a20,#a31,#d72,#cc5,#bd6,#ab7)"></i><i style="height:2px;background:linear-gradient(90deg,#3bd,#7cb,#4cd,#28d,#28e,#4ce,#26d,#28d,#c53,#822,#c73,#a75,#16e,#03c,#03d,#04e,#03d,#05e,#06e,#06e,#4ac,#c62,#800,#800,#ba5,#39d,#3ae,#5cd,#4ce,#6bc,#ca3,#d30,#e60,#7db,#28d,#2ae,#3bd,#5bd,#ba6,#c40,#d40,#db4,#9b8,#8c9,#5de,#7db,#d51,#a31,#c30,#dc4,#5bd,#39e,#46a,#7b9,#d71,#d30,#d50,#9c9,#39d,#5cd,#ac8,#dc4,#d51,#c30,#d40,#e82,#c83,#cb5,#cc5)"></i><i style="height:2px;background:linear-gradient(90deg,#28d,#28d,#b54,#b84,#28d,#3bd,#39d,#b53,#a32,#c52,#337,#4bd,#ba5,#29e,#17e,#18e,#05e,#02b,#04d,#03c,#15d,#9b8,#800,#800,#c83,#6dc,#17e,#16d,#6dd,#e71,#a10,#e50,#ad8,#38c,#3ce,#9d9,#a95,#d51,#910,#d30,#bc7,#49b,#29e,#3ad,#8da,#ea2,#b20,#b20,#b84,#7db,#4bd,#5cd,#9c9,#c63,#a10,#b20,#cb5,#7ba,#ab7,#cb5,#dc4,#e51,#d40,#e92,#aa7,#cc6,#bb5,#cc6,#db4)"></i><i style="height:2px;background:linear-gradient(90deg,#39d,#39d,#7cb,#4bd,#28d,#24c,#3ad,#37c,#327,#5ab,#c53,#39d,#18e,#14d,#03c,#03d,#18e,#29e,#18e,#19e,#3be,#9c9,#800,#800,#e50,#5cd,#17e,#18e,#7cb,#ea2,#910,#910,#cb4,#28d,#26d,#29e,#4cd,#ab7,#d40,#b10,#d51,#c74,#987,#7ca,#9da,#cc6,#d40,#a10,#e80,#7a9,#59b,#5ab,#9c9,#cb4,#d41,#b20,#e50,#e81,#ac7,#5cd,#7cb,#dc4,#d41,#b20,#c40,#a53,#ba5,#8ca,#8ca)"></i><i style="height:2px;background:linear-gradient(90deg,#ba5,#b84,#28d,#7cb,#29e,#2ae,#3ad,#734,#36c,#48b,#36c,#28d,#28e,#18e,#17e,#03c,#03d,#04e,#05e,#17e,#3ce,#bb5,#900,#800,#e60,#5ab,#16d,#2ae,#7dc,#e61,#a20,#d40,#cb5,#8ca,#2ae,#29e,#8da,#c63,#b20,#e60,#5ab,#26a,#14a,#3ad,#bc7,#ea2,#e40,#d40,#bb6,#8da,#9c9,#bb6,#db4,#e92,#e50,#d72,#cb5,#9c9,#6cc,#6dd,#9b9,#997,#ba6,#bb7,#9b8,#9c9,#9ea,#ad7,#a64)"></i><i style="height:2px;background:linear-gradient(90deg,#5cc,#a54,#944,#b64,#3ad,#4bd,#4bd,#6cb,#b42,#d62,#c53,#8ca,#26e,#5cd,#28d,#16e,#16e,#17e,#03c,#05e,#3be,#bc7,#900,#800,#b30,#8ca,#18e,#16e,#3ae,#bb5,#e60,#c40,#ba6,#58a,#2ae,#6dc,#8db,#db3,#c30,#910,#d40,#c93,#8da,#4de,#5dd,#b74,#b40,#c20,#e60,#cb6,#6cc,#4cd,#5dd,#8b9,#e70,#b20,#e60,#9b8,#7ba,#6cc,#8ca,#cb5,#d41,#b20,#c20,#e71,#bb6,#9c9,#7cb)"></i><i style="height:2px;background:linear-gradient(90deg,#4bd,#6cc,#27d,#b74,#944,#a54,#b74,#ca4,#d72,#b32,#b42,#834,#888,#18e,#17e,#19e,#3ae,#4bd,#2be,#18e,#6bb,#c52,#800,#800,#d30,#9c9,#4ce,#4be,#5bc,#9b8,#c20,#900,#b30,#c83,#6cc,#7bb,#8db,#da3,#a10,#900,#e60,#bc6,#5ab,#4ce,#6dc,#ac8,#e50,#c20,#e50,#ca4,#9d9,#8b9,#8da,#d71,#c20,#b10,#d50,#ba5,#9b8,#9c9,#cd6,#b53,#a20,#c30,#e60,#bb6,#9b8,#bc7,#7a9)"></i><i style="height:2px;background:linear-gradient(90deg,#b84,#3ad,#b84,#23b,#5cd,#24b,#39d,#35c,#9b9,#47b,#37b,#5cc,#28d,#7ba,#3ad,#26d,#04b,#03b,#16e,#18e,#6dc,#c52,#800,#800,#d60,#8da,#4de,#3be,#9d9,#c41,#a10,#e60,#ea2,#ad9,#6cc,#8d9,#bd7,#c73,#a10,#c20,#ba6,#5cd,#5dd,#4ce,#7cb,#ea2,#a10,#c20,#da3,#8da,#7ca,#cc5,#c62,#d61,#d50,#e40,#e51,#cc6,#6aa,#5cc,#8da,#cb5,#e50,#e40,#ca4,#8c9,#6aa,#9c9,#d72)"></i><i style="height:2px;background:linear-gradient(90deg,#4ad,#7cb,#b64,#b54,#844,#b64,#25c,#37c,#36b,#59b,#5ac,#38d,#27d,#4ad,#18e,#14b,#15b,#03b,#03b,#14c,#26c,#7cb,#800,#800,#a20,#cc6,#8ba,#6ba,#6cc,#da4,#a20,#910,#e92,#bd8,#8c9,#29e,#25a,#5bc,#d82,#b20,#c30,#ab8,#568,#36b,#27e,#8b9,#d51,#a10,#910,#d51,#8b9,#37d,#59b,#bc7,#e91,#e60,#c50,#e81,#ac7,#8da,#9c8,#cb5,#da3,#e92,#d50,#d50,#ea2,#bd7,#9d9)"></i><i style="height:2px;background:linear-gradient(90deg,#944,#834,#27d,#934,#a44,#27d,#24c,#38c,#45b,#49b,#ac8,#39d,#3ae,#28e,#03c,#15d,#04d,#17e,#18e,#17e,#28e,#7ca,#800,#800,#d40,#9c9,#4ce,#3be,#5cd,#cd6,#e50,#a10,#d40,#bc7,#39d,#4bd,#cb5,#c31,#900,#c30,#8a8,#56a,#59b,#8b9,#ea3,#b20,#a10,#b31,#c62,#ac8,#ad8,#b42,#b20,#c20,#ea3,#6ba,#5bc,#7cb,#e72,#b30,#910,#a20,#c51,#d82,#cd6,#bc7,#c83,#c30,#c30)"></i><i style="height:2px;background:linear-gradient(90deg,#26d,#ac8,#5cd,#29d,#28e,#26e,#25d,#4ad,#38c,#c42,#c63,#656,#1ae,#03d,#02b,#02b,#04d,#03d,#04d,#03c,#19e,#ca3,#800,#800,#da3,#5cd,#29d,#2ae,#5dd,#dc4,#b20,#d30,#cc6,#5cd,#3ce,#7ca,#9b8,#e82,#c30,#d30,#db4,#5cd,#28d,#4ce,#b84,#942,#b20,#d40,#ba5,#8b9,#5dd,#5cd,#6dc,#ab7,#c40,#b20,#d41,#da3,#ac8,#8b9,#ab6,#a54,#a43,#d40,#e70,#bb6,#a95,#bc6,#cc6)"></i><i style="height:2px;background:linear-gradient(90deg,#27d,#5cc,#a44,#ba5,#4cd,#4bd,#24c,#37c,#a32,#da4,#c73,#5bc,#27d,#05e,#17e,#17e,#28e,#59b,#49c,#2ae,#48c,#8a9,#800,#800,#b30,#8da,#28e,#18e,#8c9,#865,#a20,#910,#d51,#a76,#987,#8b8,#6bb,#5ab,#e81,#c20,#c51,#cd6,#4be,#3be,#39d,#768,#c83,#d30,#c41,#c63,#9c9,#5cd,#bb7,#d51,#a10,#b20,#e61,#b95,#c84,#c94,#ab7,#e91,#e60,#b85,#9a8,#8b9,#59a,#ad8,#c72)"></i><i style="height:2px;background:linear-gradient(90deg,#39d,#24c,#25c,#25d,#28d,#39d,#3ad,#6cc,#da4,#b32,#c72,#a43,#4bd,#3ae,#2ae,#18e,#18e,#18e,#18e,#18e,#6dd,#b52,#800,#800,#b20,#ba6,#6bb,#4ce,#8da,#d40,#900,#d40,#9b8,#5dd,#7dc,#7dc,#8da,#e70,#b10,#d30,#e71,#ab7,#9b9,#7cb,#7a9,#d71,#910,#910,#e71,#b85,#9d8,#7ba,#cd6,#e50,#b20,#d30,#d82,#9d9,#6aa,#7ba,#9c8,#cb5,#d60,#e40,#d71,#ab7,#6db,#ad8,#bb6)"></i><i style="height:2px;background:linear-gradient(90deg,#b54,#834,#b64,#3ad,#5cd,#28d,#38d,#6cc,#cb5,#932,#a33,#a75,#27e,#13b,#06d,#18e,#17e,#18e,#06e,#17e,#3be,#ad7,#800,#800,#a20,#a95,#28e,#17e,#3ae,#8ca,#c30,#900,#d51,#cd6,#7cb,#4bd,#6dc,#8ca,#d82,#c20,#d40,#bd7,#ac7,#9a7,#8ca,#8db,#e81,#a20,#910,#d71,#69a,#4bd,#9c9,#bb5,#e71,#a20,#b20,#e81,#9b8,#9da,#7bb,#69a,#dc5,#d40,#b20,#c30,#d51,#b85,#ad8)"></i><i style="height:2px;background:linear-gradient(90deg,#734,#b54,#b94,#a44,#26d,#3ad,#4bd,#ac8,#ca4,#d82,#5ac,#28d,#19e,#16e,#04e,#03d,#04d,#03d,#04e,#04d,#28e,#e92,#800,#800,#e50,#9b8,#3be,#2ae,#3be,#bb6,#d51,#900,#a20,#cc6,#47c,#26b,#26d,#ac8,#e81,#c20,#e50,#db4,#6dc,#6dd,#9c8,#bc6,#e70,#a10,#b20,#a42,#c84,#ab7,#ac8,#cb5,#d60,#c31,#b30,#b41,#a85,#8db,#6dc,#db4,#d41,#c30,#d50,#ca4,#ba5,#9c9,#5cc)"></i><i style="height:2px;background:linear-gradient(90deg,#28d,#27d,#23a,#29d,#b85,#845,#b64,#a44,#a33,#33a,#37c,#4bd,#19e,#07e,#06e,#04e,#15d,#15e,#06e,#2ae,#5bc,#dc4,#800,#800,#b30,#4cd,#16b,#15d,#5dd,#db4,#d40,#a10,#e92,#7bb,#27e,#14b,#29e,#bc6,#b52,#910,#b30,#9c8,#3ae,#18e,#4be,#cb5,#d51,#a10,#c30,#db4,#4bd,#37c,#26b,#8ca,#b42,#b30,#b20,#d51,#bd7,#5cd,#8ca,#ab8,#bc6,#b94,#e70,#e80,#7ca,#47c,#37d)"></i><i style="height:2px;background:linear-gradient(90deg,#4be,#28d,#24b,#4ce,#5cd,#28e,#27e,#4bd,#a33,#c53,#49c,#4bd,#ab7,#16f,#15c,#02a,#03d,#03d,#03c,#02c,#17e,#bc7,#800,#800,#e91,#5dc,#2be,#3be,#8ca,#d72,#b30,#a10,#db4,#5dd,#5dd,#3be,#7db,#b85,#c40,#b20,#e61,#ad8,#5cc,#4ce,#6cc,#ac7,#d41,#c30,#d93,#69a,#26d,#3ae,#8db,#8da,#ba6,#e50,#d50,#bb6,#6dc,#6cc,#8da,#bd8,#eb3,#e91,#c53,#954,#c93,#bb6,#9c8)"></i><i style="height:2px;background:linear-gradient(90deg,#4bd,#6cc,#b94,#7cb,#ba5,#3ad,#27d,#338,#a32,#c82,#833,#26d,#2be,#03c,#04b,#03b,#04d,#06e,#17e,#18e,#4ce,#db3,#800,#800,#d92,#7db,#6dc,#3ce,#4ce,#8da,#c73,#910,#c41,#ab7,#3be,#2ae,#6bb,#da2,#b20,#a10,#a31,#c73,#8ca,#7bb,#9c9,#ca3,#d50,#d50,#cb5,#7dc,#5dd,#6cd,#cb5,#e70,#d40,#e50,#b74,#a96,#bc6,#db5,#d51,#b20,#b30,#b41,#c73,#9c9,#bb6,#c52,#d61)"></i><i style="height:2px;background:linear-gradient(90deg,#3ad,#27d,#7cb,#4bd,#3ae,#26e,#3ad,#6cc,#c83,#36b,#35c,#29d,#2af,#28e,#28d,#05e,#03c,#03d,#18e,#17d,#17e,#9b7,#800,#800,#e81,#6cc,#4ce,#2ae,#58b,#ca5,#c30,#e71,#9c8,#4ce,#3ad,#6cc,#8da,#ca4,#d30,#ca4,#49c,#28e,#28e,#4bd,#e71,#b30,#e50,#bc7,#7ba,#5cd,#7cb,#ba5,#e80,#e71,#e92,#db4,#9d9,#8ca,#bb6,#e61,#c30,#d40,#c51,#bb6,#7db,#9c9,#ea3,#e71,#d50)"></i><i style="height:2px;background:linear-gradient(90deg,#3be,#3be,#28e,#17e,#17e,#16e,#3be,#24c,#c83,#b43,#c63,#b74,#29e,#16f,#03c,#03c,#04d,#06e,#05d,#04d,#27d,#ab7,#900,#800,#d41,#49b,#14b,#15c,#5cd,#c63,#b30,#a20,#da3,#7dc,#4be,#3be,#5dd,#cb5,#d50,#d50,#ab7,#7cb,#8ca,#6cb,#4ce,#7db,#ba6,#d50,#e61,#aa6,#4de,#4bd,#8ca,#bd7,#ea2,#e50,#e61,#bb7,#4bd,#39d,#59b,#799,#ab7,#ea2,#d92,#8b9,#39d,#5cd,#9b8)"></i><i style="height:2px;background:linear-gradient(90deg,#b74,#b84,#26d,#6cc,#29d,#3ad,#6cc,#c73,#b32,#da4,#b43,#b54,#28d,#7cb,#18f,#04d,#03d,#04b,#04b,#04d,#28e,#cc5,#800,#800,#b30,#cc6,#2be,#19e,#3be,#7bb,#dd5,#d40,#c20,#da4,#8b9,#4ce,#3ae,#8b9,#b85,#d30,#b10,#d71,#69a,#26d,#28e,#5cd,#ab7,#e92,#c50,#e81,#e92,#9b8,#5ab,#3ad,#cb4,#b31,#a20,#b30,#eb3,#656,#358,#4bd,#bc7,#db4,#d82,#d50,#e51,#c82,#6ba)"></i><i style="height:2px;background:linear-gradient(90deg,#b74,#b74,#b54,#6cc,#28d,#5cd,#25c,#833,#b32,#45b,#b42,#c83,#a75,#27e,#14b,#2ae,#799,#5ac,#2ae,#3be,#6dc,#cb5,#800,#800,#b41,#9c9,#7dc,#7ca,#5dd,#da3,#900,#910,#d92,#47b,#25a,#38e,#9a7,#854,#c20,#b10,#d50,#da3,#bc6,#ac7,#ba4,#d93,#e61,#a10,#c20,#ba6,#ab8,#cc6,#bb6,#b63,#a41,#a10,#910,#c30,#cc6,#7ba,#59a,#49c,#bc7,#c30,#910,#910,#e81,#bc7,#ad8)"></i><i style="height:2px;background:linear-gradient(90deg,#27d,#25d,#24b,#28d,#6cb,#29d,#27d,#38c,#b42,#d93,#833,#39d,#6cb,#19f,#26c,#02a,#14b,#04e,#07e,#06e,#18e,#dc4,#800,#800,#b30,#6bb,#39c,#2ae,#7cb,#ca4,#c30,#910,#e92,#47c,#37c,#4ce,#8ca,#db4,#d30,#a10,#e71,#ab7,#5cc,#3ae,#39d,#59b,#a95,#c72,#e92,#9b7,#5dd,#6dc,#6cc,#9c8,#d40,#b30,#e61,#9c9,#3ad,#6aa,#8c9,#db4,#c30,#b20,#953,#855,#ca4,#5cc,#9c8)"></i><i style="height:2px;background:linear-gradient(90deg,#26d,#28d,#734,#a54,#944,#634,#3ad,#833,#ca4,#47b,#38c,#5bd,#2bf,#06e,#07e,#05e,#04b,#03b,#03b,#04c,#19e,#ab6,#800,#800,#c40,#5dd,#28e,#19e,#4ce,#9ea,#da4,#d50,#d93,#69a,#26a,#16b,#3ae,#ca5,#c51,#c20,#e40,#d72,#8b9,#6bb,#9c9,#ac8,#db4,#d40,#c20,#d51,#ad8,#5de,#7dc,#bb6,#eb3,#d51,#c20,#e61,#d82,#ad8,#8b9,#8b9,#cb5,#d81,#d71,#da4,#ba5,#ab7,#c94)"></i><i style="height:2px;background:linear-gradient(90deg,#28d,#a44,#7cb,#b64,#b74,#28d,#6cc,#38c,#c82,#d62,#c93,#b74,#24c,#845,#2af,#28e,#05e,#03c,#04e,#18d,#4cd,#9b7,#a10,#800,#c30,#6cc,#17e,#2ae,#6dd,#ac7,#e50,#c20,#c94,#9c9,#29e,#26b,#35b,#ac8,#c20,#a10,#e51,#ca4,#7dc,#4ce,#8da,#d61,#b20,#c20,#e81,#ca4,#bb6,#8da,#cc5,#e61,#a20,#c30,#e92,#8ba,#59b,#8da,#dc5,#e71,#d40,#e40,#c93,#cb5,#9d9,#aa6,#b94)"></i><i style="height:2px;background:linear-gradient(90deg,#6cc,#25d,#3ad,#24c,#27e,#3be,#23a,#38d,#833,#47b,#ac8,#4bd,#29d,#04b,#05e,#05d,#05d,#04d,#14b,#03c,#2ae,#b84,#800,#800,#d50,#9c8,#6dc,#4be,#4ce,#dc4,#b20,#d30,#eb3,#8ca,#2ae,#18e,#3be,#8da,#d92,#910,#b30,#ab7,#27e,#16e,#26d,#4bd,#8ca,#d50,#c20,#c83,#9da,#5dd,#4ce,#7bb,#b95,#943,#b20,#e40,#d92,#8db,#3ad,#5dd,#cb5,#d72,#e70,#d71,#e91,#d72,#bb6)"></i><i style="height:2px;background:linear-gradient(90deg,#3ad,#734,#844,#2ae,#2ae,#3ae,#4bd,#26d,#6cc,#38c,#6cc,#25d,#19f,#04d,#04c,#04c,#15e,#06e,#17e,#15e,#16e,#9c8,#910,#800,#e51,#9a7,#3ce,#19e,#7db,#ca4,#d30,#d30,#ec4,#7cb,#4ce,#2ae,#29e,#8ca,#d51,#c30,#eb3,#bc7,#5bd,#18e,#26e,#5cd,#d72,#c30,#d40,#dc5,#8ca,#6dd,#4ce,#9d9,#d82,#e81,#d71,#d93,#bc7,#ab6,#9c9,#5dd,#6cc,#ca4,#c93,#ea2,#e71,#b63,#cb5)"></i><i style="height:2px;background:linear-gradient(90deg,#28d,#25c,#27d,#a55,#29e,#29e,#b84,#b64,#49c,#37b,#36c,#5cd,#18f,#02a,#03b,#03b,#04e,#06e,#05e,#17e,#4ce,#8da,#900,#800,#b41,#bc6,#3be,#17e,#27e,#cc6,#b30,#910,#c41,#a96,#7bb,#18e,#26d,#5cd,#e71,#910,#a20,#d72,#9c8,#4de,#18e,#6bc,#ca4,#d40,#b20,#d81,#6bb,#4ce,#7dc,#5ab,#658,#da3,#b20,#b20,#c63,#8ca,#4ac,#ac7,#c84,#d92,#ea2,#e60,#d81,#9b8,#4bd)"></i><i style="height:2px;background:linear-gradient(90deg,#b64,#27d,#24c,#26d,#28d,#834,#39d,#49c,#c62,#c42,#38c,#38d,#3be,#18e,#04d,#04d,#29e,#3bd,#18e,#17e,#3ae,#ba4,#800,#800,#c30,#bc7,#6dc,#8c9,#b95,#cb5,#d50,#b10,#c63,#a96,#7cb,#5dd,#6dd,#ab7,#d60,#a10,#e51,#8ca,#7dc,#997,#ca5,#ca4,#d40,#c20,#d51,#9b9,#39d,#39d,#9c9,#e61,#910,#a30,#b31,#9d9,#5bc,#ad8,#c62,#e61,#d30,#a20,#d51,#cb6,#bc6,#cb5,#d82)"></i><i style="height:2px;background:linear-gradient(90deg,#a54,#28d,#26d,#29d,#24d,#b65,#734,#ba5,#a33,#c82,#c53,#3ad,#a55,#668,#05e,#28e,#4ac,#18e,#04e,#03c,#17e,#ba4,#800,#800,#c63,#5dd,#29e,#28e,#5cc,#e80,#b10,#e91,#6bb,#3be,#3ce,#5bd,#9c9,#bb6,#e50,#b10,#eb3,#4cd,#49c,#36c,#3ae,#aa6,#d41,#c30,#e91,#bc7,#9b8,#a85,#a95,#7db,#8da,#e92,#e40,#eb2,#ac7,#ab7,#997,#7db,#7ca,#e81,#c30,#c30,#a41,#a85,#7dc)"></i><i style="height:2px;background:linear-gradient(90deg,#2ae,#24b,#3be,#4ce,#635,#16e,#24d,#27d,#833,#c63,#733,#24c,#2af,#04d,#03e,#05e,#03c,#05d,#06d,#04d,#13b,#7a9,#910,#900,#997,#46b,#14b,#15b,#3be,#ac7,#d71,#d40,#e71,#9c9,#29e,#16e,#17e,#5cd,#eb3,#d30,#d41,#cb5,#5bc,#19e,#5cc,#cc5,#d51,#d30,#e61,#ca3,#7cb,#6bc,#3bd,#7db,#d61,#d30,#b31,#c63,#7cb,#7db,#7db,#6bb,#eb3,#e50,#d41,#da3,#9da,#9c8,#ad8)"></i><i style="height:2px;background:linear-gradient(90deg,#28d,#39d,#24c,#734,#734,#734,#b74,#833,#d72,#45b,#6bb,#36c,#25d,#4ce,#2af,#2ae,#19e,#19e,#2ae,#3ae,#3be,#bb6,#800,#800,#e60,#9d9,#29e,#19e,#4bd,#bc7,#d50,#a10,#c30,#c73,#8d9,#7cb,#9d9,#bc6,#c62,#900,#c30,#bb6,#9d9,#6cc,#7db,#ab7,#e61,#a20,#a10,#b41,#c63,#cc5,#cc6,#d93,#d41,#c20,#c20,#d72,#ad8,#69a,#59a,#9c9,#e91,#c20,#a20,#b20,#d61,#c83,#8b8)"></i><i style="height:2px;background:linear-gradient(90deg,#24c,#26d,#26d,#26d,#26d,#6cc,#3ad,#b53,#ac7,#8ba,#39c,#25c,#29e,#06e,#06e,#05e,#06e,#05d,#17e,#29e,#4ce,#c72,#800,#800,#b30,#9a6,#4de,#19e,#4be,#9c9,#e92,#b10,#e40,#ac8,#5cc,#2ae,#29e,#ac8,#e51,#b20,#e71,#7a9,#39d,#3be,#7ba,#ca5,#b41,#a10,#d40,#cc6,#4bd,#25a,#36a,#5ac,#ba5,#d50,#d40,#d82,#6cc,#3ad,#6bb,#9b8,#d71,#b20,#b20,#e81,#5bb,#47b,#4ad)"></i><i style="height:2px;background:linear-gradient(90deg,#26d,#239,#3ad,#26d,#29d,#7cb,#27d,#a43,#c73,#c62,#7ca,#27d,#3be,#05c,#03b,#14b,#04e,#04d,#02b,#05d,#18e,#ba5,#800,#800,#d40,#a96,#888,#5cd,#28e,#db4,#910,#a10,#e71,#ac7,#ad8,#877,#755,#a52,#a10,#d60,#6ba,#6cc,#8ba,#ac8,#c94,#d50,#d50,#d51,#d83,#bb6,#7ba,#8ca,#ea3,#d40,#d40,#c93,#ad8,#7bb,#ac8,#d82,#e61,#d51,#b53,#ca4,#9b7,#7db,#ac8,#da2,#d71)"></i><i style="height:2px;background:linear-gradient(90deg,#4ad,#3ad,#6cb,#26d,#734,#a54,#834,#933,#35b,#7bb,#8c9,#25c,#a54,#3ce,#17e,#04d,#15d,#04e,#15e,#06e,#6cc,#c72,#800,#800,#e50,#8b9,#3ce,#4ce,#5bc,#6dc,#da3,#910,#a10,#b84,#9d9,#8a8,#9a7,#aa7,#e91,#b20,#910,#c83,#6cc,#4cd,#6dc,#9c9,#d92,#b20,#910,#e71,#7da,#5cd,#9c9,#c74,#a64,#c30,#d30,#d94,#9c8,#ad9,#9d9,#ab8,#cc6,#d40,#b20,#d71,#ba6,#8ca,#6cc)"></i><i style="height:2px;background:linear-gradient(90deg,#a54,#3ad,#3ad,#25d,#3ad,#26d,#734,#b53,#36c,#7ba,#38c,#a54,#29d,#27e,#2ae,#28e,#17e,#14c,#03b,#04d,#38c,#bb6,#800,#800,#d71,#39d,#16e,#3be,#6cc,#ac8,#e70,#d40,#a95,#69a,#4be,#8ba,#7db,#6cc,#cc5,#c20,#d30,#ea2,#7cb,#5bc,#6dc,#8b9,#cb6,#e81,#d40,#e71,#cc5,#6cc,#6dc,#8ca,#bb5,#c42,#c20,#d40,#ea2,#ac8,#8db,#7b9,#bb5,#d61,#b30,#c30,#d71,#bb6,#9c8)"></i><i style="height:2px;background:linear-gradient(90deg,#26d,#39d,#4ad,#4bd,#ba5,#b64,#b64,#733,#c93,#cb4,#c63,#b84,#569,#17e,#07e,#03d,#03c,#02b,#02b,#05e,#6ba,#d82,#800,#800,#a42,#a86,#7bb,#6cc,#bb6,#e50,#a10,#d61,#59a,#49c,#8b9,#767,#953,#b31,#910,#a20,#dc4,#7cb,#4ce,#4ce,#ac8,#d81,#e60,#d71,#cb5,#ad8,#9a7,#8c9,#7cb,#bb6,#e70,#e50,#c93,#bc7,#6dc,#39d,#6cc,#cc6,#e91,#d40,#e71,#9b7,#8c9,#9c9,#8ca)"></i><i style="height:2px;background:linear-gradient(90deg,#5cd,#28d,#28d,#3ad,#4ce,#29e,#26d,#27d,#48c,#49b,#5bc,#26d,#2ae,#17e,#04d,#03c,#05e,#06e,#07e,#05e,#3be,#da2,#900,#800,#e61,#6dd,#16e,#17e,#8ca,#c93,#e60,#c20,#c94,#5cd,#29e,#27e,#29e,#ad8,#c73,#c41,#d40,#db3,#7cb,#5de,#5cc,#9b8,#d82,#e50,#d30,#e81,#7db,#37c,#26b,#58b,#9c8,#d61,#b20,#b20,#da3,#36c,#38d,#9da,#cb5,#cb6,#da4,#d71,#db3,#bd7,#ac8)"></i><i style="height:2px;background:linear-gradient(90deg,#23b,#27d,#239,#29e,#27e,#17e,#4cd,#bb5,#ca4,#b43,#33a,#29d,#18e,#03c,#02a,#02b,#05e,#39d,#49b,#18e,#19e,#ab7,#800,#800,#e61,#4cd,#14c,#15d,#7cb,#d51,#a10,#e80,#7a9,#6cc,#4bd,#4cd,#7db,#bb6,#e60,#db3,#8da,#9c9,#7ba,#3be,#7db,#e91,#e50,#e81,#ab7,#3ad,#28e,#7dc,#c62,#d51,#e40,#e61,#ca4,#9d9,#6dc,#6aa,#ab8,#e91,#d70,#da3,#db4,#ad8,#ac7,#aa6,#cb5)"></i><i style="height:2px;background:linear-gradient(90deg,#27d,#734,#b75,#ac8,#845,#3be,#24c,#25d,#c63,#49c,#6cc,#3ad,#18e,#16e,#07e,#07e,#18e,#07e,#02a,#03c,#19e,#bc6,#910,#800,#e92,#7cb,#3be,#2ae,#5dd,#bb6,#a10,#a10,#ca4,#28e,#16b,#28e,#5ac,#ac8,#e61,#a20,#d51,#b94,#9da,#28e,#15b,#7dc,#c62,#b30,#a20,#b52,#8b9,#27d,#3ad,#6cb,#cc6,#d92,#d41,#b31,#d93,#bc7,#8b9,#7ca,#ac8,#e92,#d51,#c40,#e71,#bc7,#6dd)"></i><i style="height:2px;background:linear-gradient(90deg,#734,#28d,#4bd,#29d,#29d,#3ad,#4bd,#733,#a32,#46b,#6bc,#6cb,#3ae,#17f,#04d,#03b,#03b,#04d,#2ae,#2ae,#5bc,#c94,#900,#900,#e70,#8ca,#2ae,#3ad,#8ea,#ea2,#b20,#d93,#46b,#26c,#2ae,#3ae,#4cd,#ca4,#b20,#a10,#ba5,#4bc,#3be,#4ce,#7dc,#9c8,#d93,#d50,#e70,#bb5,#9c8,#4bd,#26c,#59b,#ab6,#c93,#d60,#d82,#cb5,#9d9,#6cc,#5dd,#69a,#aa6,#d60,#d50,#da3,#ab8,#59a)"></i><i style="height:2px;background:linear-gradient(90deg,#39d,#26d,#24c,#28d,#5cc,#5cd,#239,#39c,#932,#d52,#c82,#27d,#25a,#14b,#18e,#3ae,#29e,#07e,#03d,#14b,#25c,#bb7,#800,#800,#d30,#59b,#2ae,#4ce,#4ce,#7db,#e70,#910,#b30,#b52,#9a7,#7cb,#9d9,#ac7,#c84,#a10,#b10,#e92,#ac8,#2ae,#26e,#5ab,#d93,#d50,#910,#d30,#aa7,#49d,#6cb,#8ca,#ad9,#db5,#e70,#c40,#d93,#9c9,#9d9,#6dc,#7cb,#dd5,#e92,#c30,#b20,#d61,#9da)"></i><i style="height:2px;background:linear-gradient(90deg,#3ad,#4cd,#239,#944,#25d,#3ae,#27d,#26d,#36c,#6bb,#5bc,#b64,#17e,#2af,#18e,#29d,#29e,#06e,#03b,#02b,#27d,#bd7,#910,#800,#d30,#9b8,#3be,#4ce,#9b9,#d30,#b10,#da3,#9c9,#7bb,#5ac,#6bb,#cb5,#d40,#c30,#d51,#8ea,#2be,#3ae,#9c8,#954,#b20,#d40,#9c8,#5cd,#5ac,#59b,#8ca,#e81,#d40,#e70,#cb5,#4ac,#4ad,#6dd,#8da,#bb6,#e91,#c53,#b74,#a86,#7cb,#8ca,#d82,#b52)"></i><i style="height:2px;background:linear-gradient(90deg,#6cc,#7cb,#25d,#3ad,#24b,#29d,#3ad,#38c,#9b8,#45b,#ca4,#c83,#955,#19f,#15d,#05e,#07e,#06d,#3ae,#6bc,#5cc,#eb3,#800,#800,#e60,#6aa,#2ae,#4ce,#3ae,#cc6,#d40,#910,#d40,#bb5,#5dd,#29e,#4de,#9d9,#b84,#b20,#900,#e70,#7db,#3be,#49c,#48c,#7ba,#da4,#d40,#d30,#e70,#db5,#3ad,#25a,#38d,#9d9,#d71,#d30,#c20,#c93,#7cb,#6cb,#ad8,#c94,#d72,#b40,#a10,#d30,#e61)"></i><i style="height:2px;background:linear-gradient(90deg,#b64,#a44,#39d,#29d,#26d,#844,#734,#9c8,#b42,#b32,#49c,#5cd,#28e,#05e,#04e,#05e,#17d,#3ae,#07e,#16e,#38c,#bb6,#800,#800,#d40,#7cb,#4ce,#3ae,#5dd,#bb5,#e71,#a10,#c20,#ba5,#4cd,#2ae,#3be,#7dc,#ba5,#d40,#b10,#e71,#7a9,#37a,#26d,#8da,#c94,#e72,#b20,#b20,#d92,#9b8,#9c9,#6cc,#3ad,#9c8,#e61,#a10,#c30,#eb3,#da3,#ac7,#3bd,#5cd,#ac8,#e71,#d40,#db4,#8a8)"></i><i style="height:2px;background:linear-gradient(90deg,#5cd,#23b,#6cb,#6cc,#944,#b94,#b94,#37c,#37b,#46b,#38c,#24b,#4bd,#14b,#3bf,#3be,#3ad,#18e,#17e,#2ae,#17e,#689,#800,#800,#b30,#9c9,#17e,#2ae,#8c9,#cd6,#d50,#b20,#da4,#4ac,#49c,#3ce,#4ce,#6dc,#d71,#b20,#d30,#dc5,#8ca,#3be,#27e,#3ad,#9b8,#e70,#b20,#b30,#b52,#996,#7db,#7db,#cc5,#e61,#d30,#c20,#d61,#bc6,#7cb,#7cb,#bd7,#b73,#b30,#b20,#da3,#9c9,#9c9)"></i><i style="height:2px;background:linear-gradient(90deg,#29d,#29d,#734,#26e,#29e,#8ca,#8c9,#a54,#833,#c53,#9c9,#6cb,#3ae,#3be,#05e,#03d,#05e,#04e,#02c,#05e,#2ae,#d92,#910,#800,#d41,#8c9,#27e,#17e,#8b9,#d92,#d30,#c20,#ca4,#7bb,#7db,#7ba,#4be,#7a9,#e81,#c20,#e71,#ae9,#7ca,#5dd,#2ae,#7ba,#da3,#d50,#d92,#6cc,#3be,#4ce,#6cc,#8da,#ca4,#c30,#e60,#cb6,#6cc,#3ae,#38d,#7db,#954,#a20,#e81,#798,#479,#36c,#6bb)"></i><i style="height:2px;background:linear-gradient(90deg,#39d,#b54,#39d,#944,#a54,#734,#b54,#a43,#c72,#d72,#b43,#a44,#734,#19e,#2ae,#4ac,#29e,#03c,#05e,#28e,#5cd,#ab7,#800,#800,#c30,#8db,#2ae,#29e,#3be,#bd7,#c20,#910,#e61,#9b9,#5de,#6bb,#9b8,#c83,#b31,#a10,#c20,#bb6,#9da,#5bc,#26d,#3ad,#e82,#a10,#910,#c31,#8ca,#38d,#4cd,#8ca,#cb5,#e61,#b20,#b41,#e91,#5cc,#4cd,#39d,#58a,#ac8,#db3,#d40,#e51,#bb6,#7db)"></i><i style="height:2px;background:linear-gradient(90deg,#a44,#b54,#734,#b84,#27d,#3ad,#7ca,#34b,#48b,#427,#9b8,#733,#29e,#2ae,#3be,#17e,#07e,#2ae,#06e,#16e,#4bd,#c94,#800,#800,#e60,#5dd,#16d,#17e,#3be,#9c9,#c30,#900,#b20,#da3,#7db,#39c,#29e,#5dd,#9c9,#d50,#900,#b20,#9c8,#4ce,#6cb,#9b8,#cb5,#ea2,#c20,#a10,#e71,#bc6,#7ca,#4ad,#7db,#dc4,#e92,#d30,#c20,#e81,#ab7,#8c9,#59b,#7ba,#dc5,#e50,#b20,#c30,#da4)"></i><i style="height:2px;background:linear-gradient(90deg,#26d,#3ad,#29d,#5cd,#26e,#29e,#28d,#26d,#b43,#c72,#cb5,#944,#4ce,#2be,#07e,#18e,#05d,#02a,#02b,#03b,#18e,#bb7,#800,#800,#c30,#6dc,#27e,#18e,#bc7,#d41,#b10,#e60,#8da,#6bb,#8ca,#8b8,#ab7,#c84,#b20,#c20,#c51,#a86,#2ae,#27d,#7cb,#cb4,#d40,#d40,#ea3,#8b9,#6bb,#4ce,#4cd,#bb7,#e81,#e50,#d40,#ba4,#9da,#6cc,#5bb,#8ba,#d71,#d60,#e60,#e61,#ba5,#cd6,#bb6)"></i><i style="height:2px;background:linear-gradient(90deg,#28d,#28d,#3ad,#27e,#17e,#28e,#734,#27d,#39c,#c62,#37c,#39d,#16e,#2af,#03d,#02c,#03c,#02d,#04d,#07e,#29e,#ac7,#800,#800,#e91,#4bc,#19e,#29e,#4ac,#e71,#910,#d41,#ad9,#5bb,#2ae,#18e,#6dc,#ca5,#d30,#b20,#e71,#ca4,#8da,#5cd,#5cc,#ab7,#e92,#e40,#e50,#bb6,#5cc,#5dd,#8b9,#997,#c73,#e71,#c40,#c30,#da3,#5cd,#4cd,#5cd,#9ea,#ad8,#d92,#e60,#e81,#c92,#ca4)"></i><i style="height:2px;background:linear-gradient(90deg,#239,#24b,#27d,#2ae,#14d,#5cd,#3ad,#834,#833,#c52,#8c9,#27d,#845,#17e,#04e,#05e,#03d,#02c,#03c,#05e,#3ce,#bb6,#910,#800,#eb2,#4bd,#2ae,#2ae,#5ac,#7ba,#da3,#c20,#e72,#7db,#2ae,#29e,#38c,#9c9,#c52,#b20,#b20,#c52,#8c9,#29e,#39e,#6bc,#cc6,#e81,#d40,#d51,#b74,#aa6,#9a7,#5dd,#6cb,#cb4,#b31,#c30,#e92,#6bb,#4ad,#3be,#7dc,#ab7,#b94,#d41,#b20,#e61,#bb6)"></i><i style="height:2px;background:linear-gradient(90deg,#7cb,#24b,#4ce,#29e,#29e,#945,#a55,#b74,#c63,#c83,#c63,#734,#49d,#29e,#02c,#02a,#03d,#05e,#04e,#02b,#15c,#9c8,#800,#800,#e61,#8da,#3be,#18e,#15d,#39d,#e61,#a10,#b53,#7cb,#2ae,#17e,#18e,#5bc,#ac8,#d30,#b20,#954,#8da,#3be,#19e,#4ce,#9b7,#d61,#b30,#b51,#d73,#4ce,#27e,#5ac,#ac8,#cc5,#d92,#e70,#e81,#ca4,#6dc,#4ce,#8da,#da3,#b41,#c30,#e51,#ea2,#8d9)"></i><i style="height:2px;background:linear-gradient(90deg,#39d,#a44,#27d,#3ad,#a54,#b54,#b74,#bb5,#34b,#48b,#6bb,#5bc,#4cd,#579,#18e,#04e,#04c,#17e,#19e,#17e,#28e,#bd7,#800,#800,#b30,#a96,#8da,#9a7,#966,#a41,#910,#a10,#d61,#8ca,#2be,#25d,#38c,#ba4,#a20,#910,#d51,#bc7,#5dd,#8b9,#9d9,#bb6,#e71,#d30,#e70,#bc7,#5ab,#3ae,#7db,#d62,#b40,#a20,#e50,#cb4,#bc7,#ac7,#ab7,#dc5,#c41,#b30,#c30,#e71,#9c9,#6dc,#4ad)"></i><i style="height:2px;background:linear-gradient(90deg,#734,#3ad,#4bd,#3ae,#28e,#29e,#28d,#23a,#c63,#cb5,#833,#28d,#29e,#19f,#06e,#05e,#04e,#02b,#02b,#03c,#5cd,#865,#800,#800,#e71,#7db,#29e,#15d,#4be,#cc5,#e60,#d50,#ac8,#5ab,#2ae,#16e,#3ae,#ac7,#da4,#d40,#b20,#bb6,#6cc,#4ce,#37c,#46b,#8ba,#e61,#a20,#c30,#bb6,#6bb,#4ce,#6dc,#9b8,#d92,#e70,#d30,#d51,#ac7,#37d,#26d,#28d,#8da,#ea3,#e70,#e92,#ba5,#7ba)"></i><i style="height:2px;background:linear-gradient(90deg,#4bd,#834,#ba5,#b74,#b84,#24b,#39d,#4ac,#49b,#d82,#48b,#4ac,#27d,#39e,#2bf,#19e,#04e,#15c,#15d,#15e,#4ce,#c52,#800,#800,#d40,#bd7,#4ce,#3ce,#9c9,#c83,#c30,#c50,#7a9,#459,#38e,#29e,#3be,#ab8,#c41,#a10,#a30,#e72,#7cb,#4be,#4ce,#5bd,#cc5,#a20,#910,#b20,#a31,#954,#bc7,#8db,#ad8,#bb6,#e60,#c20,#d40,#eb3,#9c9,#4ad,#4bd,#6dc,#ad8,#e70,#d30,#e50,#c93)"></i><i style="height:2px;background:linear-gradient(90deg,#26d,#25d,#24c,#3ae,#4be,#14b,#29e,#39d,#6cc,#49c,#c53,#29d,#16e,#04e,#04d,#04d,#03d,#02b,#029,#06e,#6bc,#bc6,#910,#800,#d61,#3be,#15b,#24a,#7ba,#c30,#b20,#e71,#9c9,#4cd,#15e,#27e,#8da,#e61,#b20,#e50,#dc5,#5bc,#4ac,#5bc,#59b,#dd5,#b20,#c40,#db3,#bb7,#ac7,#4ce,#27d,#8da,#d41,#d30,#cc5,#8b9,#7db,#6dc,#5cd,#ab7,#953,#b30,#b30,#d62,#ac8,#5ab,#6cb)"></i><i style="height:2px;background:linear-gradient(90deg,#7cb,#7cb,#39d,#29d,#26d,#27d,#24c,#37c,#c42,#922,#c82,#c93,#b74,#845,#4ce,#28d,#18e,#05e,#05e,#29e,#6dc,#ba5,#800,#800,#b20,#a86,#3ce,#2ae,#8da,#bd7,#d50,#910,#b20,#ca3,#4ce,#27e,#2ae,#bc7,#eb2,#c30,#c30,#b74,#9d9,#6dc,#6cc,#8ca,#e81,#b30,#a20,#e51,#9b7,#9b8,#ba5,#ca5,#ea3,#e50,#c30,#e60,#cb6,#8da,#8b9,#8db,#dc4,#e71,#c20,#d30,#e91,#b75,#866)"></i><i style="height:2px;background:linear-gradient(90deg,#24c,#5cd,#39d,#29d,#26e,#4bd,#27d,#5bc,#37c,#439,#48c,#3ad,#29e,#14c,#04c,#04d,#04e,#04d,#04c,#05e,#3be,#dc4,#800,#800,#d40,#8ca,#36c,#18e,#6cc,#b94,#a10,#910,#d51,#cc6,#6cc,#7db,#17e,#558,#cc6,#b20,#c20,#eb3,#6aa,#26b,#15d,#4bd,#9d9,#b64,#b30,#a10,#b41,#bd7,#4cd,#48c,#47b,#6aa,#cb5,#ea2,#d71,#ea2,#dd5,#ab6,#ab6,#aa7,#c63,#c52,#d40,#d60,#aa6)"></i><i style="height:2px;background:linear-gradient(90deg,#29e,#29e,#239,#4ce,#4ce,#14b,#26e,#26d,#36c,#c63,#733,#734,#19f,#04e,#02b,#02b,#02a,#02a,#17e,#17e,#29e,#bc7,#a10,#900,#d93,#48b,#15d,#3be,#ac8,#d61,#b20,#c31,#bc7,#4ce,#4bd,#7cb,#7ba,#ac8,#c73,#c30,#d71,#5bc,#27e,#15d,#2ae,#8ca,#a95,#e82,#b20,#d51,#db4,#5dd,#3ce,#6cc,#ac8,#bb6,#e71,#e50,#e61,#ca4,#6cc,#5cd,#7db,#bd7,#ba5,#d51,#d40,#c63,#ba5)"></i><i style="height:2px;background:linear-gradient(90deg,#26d,#4bd,#29d,#5cc,#4be,#16e,#27d,#734,#b43,#c42,#833,#735,#18f,#05e,#03c,#05e,#28e,#18e,#04e,#05e,#4ce,#b52,#800,#800,#e61,#4cd,#14c,#15d,#6dd,#c85,#d30,#d30,#dc4,#8c9,#6cc,#6cb,#6cc,#ab8,#c40,#a20,#b41,#c74,#7cb,#5cd,#7bb,#9c8,#e81,#c20,#d40,#c52,#b84,#6cb,#5dd,#9c9,#e92,#c30,#b20,#eb3,#bd8,#ad8,#9c9,#ab8,#bb6,#c94,#d50,#c73,#7cb,#38d,#6bb)"></i><i style="height:2px;background:linear-gradient(90deg,#834,#a44,#a54,#26d,#4ce,#2ad,#25d,#b83,#48c,#46b,#ca4,#b54,#28e,#18f,#19e,#29e,#18e,#29e,#2ae,#17e,#28e,#ba4,#800,#800,#da3,#39d,#18e,#2ae,#4ce,#cb5,#d30,#b10,#ca4,#4bd,#3be,#4cd,#5bd,#9d9,#d93,#b30,#a20,#b41,#b85,#9b8,#5bc,#3ce,#4ce,#7ba,#d82,#c30,#d60,#cc6,#6cb,#3ae,#29e,#4ce,#ac7,#c83,#b30,#a10,#c94,#47c,#568,#2ae,#39d,#49c,#bc7,#e60,#c30)"></i><i style="height:2px;background:linear-gradient(90deg,#24c,#29d,#ba5,#3ae,#4ce,#28e,#27d,#28d,#833,#49b,#339,#7cb,#28e,#15e,#04d,#04e,#04e,#03c,#14b,#04e,#3ae,#cc6,#800,#800,#c62,#5cd,#2ae,#3be,#4ce,#9c9,#c62,#a20,#b20,#da3,#9c9,#3be,#19e,#2ae,#4ce,#9d9,#e80,#910,#e71,#7db,#4ce,#2ae,#2be,#29e,#6cb,#e51,#a10,#e60,#ac8,#3ad,#5cd,#3be,#38d,#8ba,#ea2,#d30,#c40,#a53,#ad8,#7bb,#8ca,#7bb,#8ca,#d93,#d40)"></i><i style="height:2px;background:linear-gradient(90deg,#29e,#28e,#17e,#2ae,#29e,#5cd,#13a,#23a,#c73,#833,#c73,#b74,#17d,#03c,#03b,#019,#02a,#02a,#03c,#04e,#3be,#bb7,#b10,#800,#d51,#9d9,#3be,#18e,#3be,#5cd,#c94,#c20,#e51,#bb6,#3be,#16e,#16c,#29e,#ac8,#eb3,#e50,#e81,#8db,#28e,#28e,#18e,#3be,#ac8,#d51,#d30,#db4,#7ca,#5de,#5cd,#5dd,#5dd,#ad8,#c52,#d40,#bb5,#7ca,#5bd,#4be,#7ba,#cb5,#d72,#b41,#e50,#ac8)"></i><i style="height:2px;background:linear-gradient(90deg,#a54,#b84,#29d,#29d,#a54,#24b,#b64,#833,#49b,#c52,#832,#38c,#26d,#16e,#06e,#17e,#18e,#06e,#06e,#18e,#3ae,#9b8,#a10,#800,#ea2,#57b,#16e,#2be,#6dd,#ba5,#d30,#c20,#cb4,#7db,#7dc,#8c9,#8da,#8ca,#e60,#b10,#d40,#bc7,#3ae,#38e,#5de,#bb5,#e71,#a10,#a10,#c83,#4bd,#27d,#4be,#9c9,#da3,#b20,#a10,#d40,#cb5,#6dd,#5cd,#9c9,#db4,#c51,#b20,#c93,#8a8,#9d8,#ac8)"></i><i style="height:2px;background:linear-gradient(90deg,#26d,#26d,#26e,#29e,#29e,#27e,#3ad,#4bd,#38c,#49b,#35c,#3ad,#4ce,#19e,#15e,#04d,#03b,#03b,#03b,#03d,#2ae,#cb5,#800,#800,#c30,#4cd,#17e,#17e,#3ad,#ab7,#e91,#b20,#a20,#c73,#3be,#15e,#16e,#18e,#7cb,#c62,#e40,#d40,#eb3,#57b,#26b,#349,#36c,#49c,#9d9,#e61,#c20,#e71,#dc4,#5dd,#28e,#27e,#27d,#38d,#bb6,#b41,#d30,#bb6,#7b9,#6bc,#4ce,#28e,#59b,#8b9,#da3)"></i><i style="height:2px;background:linear-gradient(90deg,#a54,#b64,#734,#29d,#25d,#3ad,#26d,#5bc,#49b,#49b,#38c,#4ad,#29e,#18f,#05d,#06e,#18e,#29e,#29e,#29e,#29e,#bc7,#800,#800,#a20,#ca4,#6bb,#6bb,#9d9,#bc6,#d40,#d30,#e81,#c94,#4ce,#19e,#3be,#5ac,#7cb,#d60,#a10,#c51,#bc6,#4ce,#3be,#3ae,#3be,#ad8,#d51,#d30,#e50,#c74,#ab7,#6dc,#8c9,#bc7,#ac8,#da3,#c20,#d30,#d93,#7ba,#46a,#47b,#6bb,#ca4,#d61,#e60,#d50)"></i><i style="height:2px;background:linear-gradient(90deg,#39d,#bb6,#734,#3ae,#4ce,#4be,#4bd,#26d,#b43,#c52,#c53,#4ad,#3ae,#18f,#05e,#18e,#06e,#04e,#03c,#04b,#29e,#d82,#900,#800,#d40,#9da,#18e,#15d,#29e,#bc6,#d30,#910,#b31,#a76,#5cc,#18e,#16e,#29e,#ac8,#d51,#910,#d40,#bb5,#7db,#2be,#15d,#25c,#5cd,#d62,#b30,#c20,#e81,#bc6,#6dd,#2ae,#3be,#6cc,#b95,#b31,#b30,#a20,#d62,#ab8,#5cd,#4ce,#3ad,#6dc,#9b8,#d92)"></i><i style="height:2px;background:linear-gradient(90deg,#5cd,#7ca,#7cb,#a44,#3ad,#6cc,#28d,#39c,#c93,#c42,#35c,#26d,#2ae,#15e,#05e,#18e,#05e,#04c,#03d,#18e,#5bc,#e92,#800,#800,#e91,#4ad,#2be,#2ae,#48c,#cc5,#b20,#a10,#e91,#ab7,#6cc,#3ce,#29e,#4bd,#db4,#a20,#a10,#e82,#9c8,#7cb,#3ad,#5cc,#ca4,#e71,#b20,#a10,#b63,#ab7,#7ba,#5ac,#4bd,#b95,#953,#b20,#d30,#e81,#ab8,#6bb,#7cb,#a96,#b74,#e61,#c20,#b30,#d72)"></i><i style="height:2px;background:linear-gradient(90deg,#7cb,#27d,#734,#a54,#734,#26d,#28d,#34c,#c52,#427,#37c,#27d,#5dd,#16e,#14c,#17e,#29e,#2ae,#06e,#17e,#29e,#ad8,#800,#800,#a20,#986,#3ae,#15c,#4ac,#9da,#e60,#900,#c40,#b53,#9b8,#18e,#15b,#4ce,#d73,#b30,#a10,#b30,#b95,#7db,#6dc,#8ba,#9d9,#bb7,#d50,#a10,#c41,#b94,#7eb,#5dd,#39e,#458,#579,#d92,#c20,#d30,#d82,#8ca,#5dd,#8ca,#6bb,#679,#898,#e50,#a20)"></i><i style="height:2px;background:linear-gradient(90deg,#27d,#25d,#b64,#b65,#845,#28e,#5cd,#24b,#7ca,#36b,#37c,#944,#15d,#38d,#04e,#03d,#07e,#29e,#18e,#2ae,#3ce,#bc7,#900,#800,#e70,#6dc,#3be,#6dc,#8db,#e91,#c30,#d61,#cb4,#8b9,#2ae,#17e,#17e,#4ac,#ba5,#b20,#910,#c74,#6cc,#6bc,#6bb,#8db,#ac8,#e72,#a20,#910,#c41,#ad8,#49c,#6bc,#6dc,#5cd,#bc6,#e40,#d40,#da3,#6bb,#39d,#26b,#26c,#8eb,#da3,#d92,#d50,#e61)"></i><i style="height:2px;background:linear-gradient(90deg,#25d,#26d,#24b,#4ce,#29e,#29e,#24b,#25c,#337,#a32,#833,#28d,#3be,#15e,#03c,#03c,#15e,#05e,#05e,#06e,#4ac,#cb5,#800,#800,#e50,#7cb,#29e,#5ac,#867,#955,#942,#a20,#c20,#9b9,#4bd,#4ce,#4be,#9b8,#ba4,#d71,#c20,#e50,#bc7,#5ab,#29e,#3ad,#9da,#b53,#d40,#d50,#c94,#6cc,#9c9,#987,#9d8,#bd7,#eb3,#e50,#e40,#e81,#cb5,#9c9,#7db,#ac7,#c73,#d51,#c30,#d40,#b83)"></i><i style="height:2px;background:linear-gradient(90deg,#4ce,#17e,#4ce,#2ae,#19e,#29e,#3be,#a44,#733,#bc6,#c63,#28d,#18e,#3ad,#18e,#02c,#02c,#03d,#02c,#05e,#28e,#ba5,#910,#800,#e71,#6bb,#18e,#18e,#4bd,#ac7,#d92,#e60,#eb3,#4bd,#3be,#3ae,#18e,#5de,#c62,#b30,#e50,#8ca,#3ae,#29e,#18e,#49c,#ad8,#e61,#c51,#d61,#bc7,#6bc,#28e,#26b,#38d,#8c9,#ea3,#eb3,#ac8,#5cc,#2ae,#29e,#5bc,#ab7,#da3,#d71,#da3,#9b9,#6ec)"></i><i style="height:2px;background:linear-gradient(90deg,#26d,#25d,#3ad,#28d,#29e,#a55,#b74,#39d,#c73,#c82,#38c,#26d,#3ae,#15e,#16d,#17e,#04d,#03d,#04d,#04e,#18e,#9d9,#800,#800,#d71,#3ad,#18e,#3be,#5cd,#b94,#b30,#a10,#e50,#ad8,#2ae,#3be,#6cc,#6dc,#799,#d50,#a10,#c93,#49d,#26c,#16e,#45b,#8ca,#a31,#910,#e81,#799,#7cb,#6cc,#9d9,#c94,#b73,#c30,#b20,#e51,#bd6,#ad9,#6bb,#4bd,#49c,#58a,#c95,#c94,#9c9,#4ac)"></i><i style="height:2px;background:linear-gradient(90deg,#28d,#b64,#734,#4ce,#27e,#b75,#944,#b84,#c73,#36b,#5bc,#26d,#37d,#17e,#05e,#04d,#04e,#18e,#06e,#06e,#6cb,#c62,#800,#800,#d40,#6bb,#18e,#19e,#6bc,#be7,#e81,#c40,#d82,#ac8,#28e,#2ae,#4bd,#2ae,#29e,#bb6,#e50,#910,#d61,#9d9,#27d,#16d,#17e,#5bc,#9c9,#ea3,#e40,#c30,#ca4,#6cc,#27e,#28e,#38d,#26a,#657,#678,#d71,#e50,#eb3,#ac7,#8b9,#4be,#3be,#7dc,#7ba)"></i><i style="height:2px;background:linear-gradient(90deg,#29d,#4cd,#3ad,#29e,#b75,#28e,#4bd,#27d,#5bc,#35b,#7ca,#39d,#8c9,#19e,#18e,#06e,#06e,#17e,#05e,#16d,#7bb,#ca3,#800,#800,#e92,#39d,#16e,#2be,#7ba,#e81,#910,#b30,#bb7,#35b,#37c,#17e,#17e,#3be,#d92,#b30,#a10,#ea2,#bb5,#5bb,#27e,#18e,#6bb,#cb5,#c41,#a20,#c30,#e82,#9d8,#2ae,#28e,#3ae,#ac7,#e82,#e50,#d40,#d71,#bb6,#49b,#3ae,#4ce,#3bd,#7db,#db3,#e91)"></i><i style="height:2px;background:linear-gradient(90deg,#25d,#29d,#3ad,#b95,#a55,#27e,#28d,#27d,#c53,#ab8,#49c,#6cc,#4ce,#3ae,#3ad,#19e,#05e,#07e,#06e,#03b,#15c,#ab7,#800,#800,#e50,#6ab,#27d,#16d,#28e,#9d9,#d51,#a10,#e71,#7ba,#46c,#16d,#2ae,#5cc,#a86,#b54,#b20,#d40,#ab7,#6cc,#5de,#6bb,#5bc,#7db,#bc7,#d41,#910,#c30,#ab6,#59b,#25c,#27e,#4ac,#9b8,#d72,#c30,#d30,#ca4,#7a9,#5ab,#8ca,#9b9,#9c9,#bc6,#c93)"></i><i style="height:2px;background:linear-gradient(90deg,#3ad,#25d,#29e,#28e,#4ce,#16e,#b85,#b64,#c73,#b42,#b53,#26d,#4ac,#3be,#06d,#03d,#03c,#04e,#06e,#3ad,#5bc,#cc6,#800,#800,#da4,#47b,#15b,#27e,#bb7,#b41,#a10,#ca5,#47b,#14c,#16e,#18e,#6cb,#dc5,#e70,#d40,#e81,#9c9,#3be,#5cd,#2ae,#4bd,#ba6,#d41,#b20,#c73,#ad8,#4ce,#2ae,#2ae,#39d,#8b9,#e92,#d30,#a31,#d72,#5cd,#28e,#28e,#7cb,#b74,#e81,#da3,#da4,#bd7)"></i><i style="height:2px;background:linear-gradient(90deg,#3ae,#29e,#4ce,#13a,#3be,#15d,#8ca,#39d,#833,#833,#b53,#27d,#4ce,#07f,#06d,#03c,#03c,#04e,#04e,#03c,#2be,#a75,#900,#800,#e81,#3ae,#13b,#03c,#3be,#cb4,#c31,#b30,#a31,#b74,#4de,#4ce,#5bc,#3ce,#6dd,#c94,#c30,#c30,#d93,#ab7,#6cc,#4ce,#2ae,#5dd,#db4,#d40,#c30,#d82,#57a,#46b,#3be,#3be,#27d,#6aa,#dc4,#d40,#d51,#da3,#7dc,#28e,#27e,#29e,#ab7,#db3,#e81)"></i><i style="height:2px;background:linear-gradient(90deg,#b64,#b54,#734,#24b,#3ad,#844,#734,#c63,#cb5,#922,#c52,#b53,#944,#3be,#18e,#2ae,#17e,#04b,#15d,#3ce,#8b8,#ca4,#800,#800,#d50,#7ba,#4ce,#6cc,#8ca,#c94,#a10,#b20,#e81,#9d9,#4be,#3be,#6dd,#8db,#cb4,#b20,#a10,#e60,#ad7,#6cc,#3be,#26d,#38d,#9c9,#d60,#c20,#d40,#cb4,#7cb,#6bb,#4be,#7cb,#d82,#e50,#b20,#b20,#d71,#9da,#4bd,#7db,#b74,#c62,#e61,#d40,#e50)"></i><i style="height:2px;background:linear-gradient(90deg,#b84,#bb6,#a44,#734,#b74,#3ad,#4bd,#c93,#822,#d62,#b42,#b53,#2ae,#15e,#03b,#15d,#07e,#18e,#05e,#14e,#27e,#ac8,#800,#800,#b20,#49c,#4ce,#5cd,#8ca,#db4,#d40,#b20,#e71,#b75,#987,#8da,#6cb,#7cb,#bb6,#e60,#910,#c30,#9d9,#4bd,#2ae,#6bc,#9d9,#bb7,#e81,#a10,#c30,#d72,#aa6,#9b7,#9b7,#ab6,#da3,#e60,#c20,#d30,#d51,#a76,#9c8,#5dd,#5cd,#cc6,#e80,#d60,#ea2)"></i><i style="height:2px;background:linear-gradient(90deg,#39d,#b84,#844,#3be,#27e,#3be,#28d,#4ad,#c73,#c52,#5ac,#4bd,#29e,#14a,#02a,#03c,#04e,#02c,#03c,#05d,#18e,#bb6,#800,#800,#b30,#6dc,#17e,#18e,#4bd,#cb5,#b10,#d30,#ac7,#7dc,#7ba,#5bc,#4ce,#4bd,#9b8,#c20,#b30,#da3,#59b,#17e,#2ae,#3ae,#7db,#e81,#b20,#a20,#c52,#cc5,#6dc,#34a,#46a,#ac8,#e71,#e50,#d40,#d81,#4bc,#29e,#3ae,#6bb,#ac8,#eb3,#c93,#e50,#d51)"></i><i style="height:2px;background:linear-gradient(90deg,#5cd,#5cd,#4be,#26e,#18e,#4ce,#29e,#26d,#933,#c62,#933,#944,#27e,#3ae,#4ad,#17e,#02b,#02a,#03c,#17e,#1ae,#bc7,#800,#800,#d41,#6cc,#18e,#19e,#4ac,#8c9,#e70,#d30,#c94,#5cd,#28d,#2ae,#19e,#28e,#49c,#db4,#d30,#d50,#cc6,#6dd,#3ae,#5dd,#6cc,#ac8,#b53,#d30,#e92,#ad8,#39d,#26e,#29e,#4be,#8ba,#ba5,#e70,#d50,#e82,#c74,#877,#987,#8b8,#bd8,#d71,#e40,#e60)"></i><i style="height:2px;background:linear-gradient(90deg,#24c,#23a,#a95,#ab7,#4ce,#3be,#4ce,#25c,#38c,#35c,#34b,#39d,#18f,#02b,#02a,#03c,#04e,#02c,#04d,#05d,#2ae,#7b9,#a10,#800,#e51,#3ae,#16c,#19e,#9c8,#b53,#a10,#d81,#8ca,#2ae,#16e,#15d,#29e,#ac7,#943,#b20,#c73,#7ba,#27d,#14b,#17e,#5de,#bb6,#c41,#e40,#da4,#8ca,#5dd,#2ae,#4bd,#ad8,#da3,#e71,#d50,#ec3,#9d9,#5dd,#4be,#7db,#8ca,#db4,#e92,#da3,#bb6,#6cc)"></i><i style="height:2px;background:linear-gradient(90deg,#3ad,#27d,#28d,#28e,#15d,#28e,#bb6,#b54,#8ca,#48b,#5ac,#26d,#4ce,#3be,#17e,#05e,#03d,#02b,#03b,#03b,#19e,#d92,#800,#800,#e60,#8ca,#18e,#28e,#39e,#7db,#d40,#b20,#e71,#9d8,#4bd,#2be,#6dc,#6cb,#ab7,#d61,#a10,#d40,#ba5,#8da,#5bd,#5cd,#6dc,#8ca,#cc5,#e60,#e82,#798,#59b,#4ce,#5cd,#7db,#9d9,#cb5,#c30,#c20,#e51,#ba5,#5cd,#29e,#4ad,#9b8,#ba5,#d71,#e50)"></i><i style="height:2px;background:linear-gradient(90deg,#5cd,#4bd,#28d,#25e,#3ae,#25d,#4cd,#39d,#833,#ca4,#5bc,#39d,#735,#17f,#16d,#28e,#18e,#29e,#49b,#29e,#18e,#bb6,#800,#800,#e81,#4cd,#5bc,#4ce,#27d,#7a9,#e50,#b20,#ba5,#5ab,#8ba,#5bd,#18e,#27e,#69a,#ba5,#b10,#a20,#db4,#4ce,#3be,#6cc,#7dc,#8ca,#e82,#a10,#b20,#c83,#4bd,#38d,#2ae,#4be,#9c9,#d92,#933,#a20,#e60,#cc5,#8db,#5dd,#6dc,#6cb,#bc6,#d72,#e61)"></i><i style="height:2px;background:linear-gradient(90deg,#39d,#5cd,#28d,#29d,#28d,#29d,#944,#b53,#c72,#d52,#c82,#ac8,#756,#28d,#06d,#06e,#16e,#04e,#03c,#14b,#26d,#9b8,#800,#800,#c30,#5cd,#349,#359,#29e,#ba4,#910,#900,#d41,#9c9,#36c,#18e,#4ce,#7cb,#8b9,#e50,#910,#c40,#b75,#7cb,#3ce,#3be,#4bd,#bc7,#d40,#a10,#a20,#db4,#6bb,#3ae,#29e,#ab6,#d72,#e70,#d30,#e60,#6aa,#459,#37c,#3ae,#5cd,#bd7,#e71,#d50,#e60)"></i><i style="height:2px;background:linear-gradient(90deg,#4cd,#4bd,#5cd,#a54,#a55,#25d,#26d,#27d,#49c,#7ba,#5bc,#7ca,#15e,#07e,#17e,#2ae,#18e,#28e,#4ad,#18e,#18e,#c93,#800,#800,#e80,#6ab,#4ce,#4ce,#5dd,#e92,#c30,#d60,#8da,#7ba,#7cb,#7ba,#9c8,#9c9,#da3,#c30,#e91,#7ba,#5de,#2ae,#7ba,#bc6,#d93,#c30,#910,#d50,#9b8,#4bd,#4be,#5bc,#7db,#bb6,#d30,#a10,#b31,#ba5,#5cd,#5ac,#7cb,#6dc,#aa6,#e40,#d30,#e81,#cc6)"></i><i style="height:2px;background:linear-gradient(90deg,#b54,#4ad,#5cd,#28d,#3bd,#28d,#b64,#c73,#b42,#47b,#37b,#4bc,#27e,#19f,#18e,#07e,#19e,#18e,#19e,#3ce,#6dc,#b84,#800,#800,#d92,#38d,#15d,#28e,#9c9,#d62,#910,#c20,#9c8,#7cb,#8da,#3ae,#4ce,#ac7,#d40,#c20,#e81,#cb5,#6dc,#29e,#2ae,#6bb,#cb5,#e40,#c20,#e50,#d92,#ad8,#8b9,#6bb,#5cc,#aa6,#e50,#d30,#d61,#b84,#7cb,#7dc,#9c9,#bc7,#e92,#d40,#c20,#e81,#7ca)"></i><i style="height:2px;background:linear-gradient(90deg,#7cb,#3ad,#26d,#28d,#24b,#24c,#4bd,#25c,#933,#d82,#b43,#b63,#5cd,#29e,#17e,#17e,#17e,#05e,#15e,#15d,#26c,#9c8,#800,#800,#d51,#49b,#16d,#18e,#5bd,#ba5,#b30,#a10,#c40,#9c9,#29d,#15d,#15c,#3be,#bc6,#b41,#910,#d51,#ad9,#6dd,#5bc,#6cc,#6dc,#ac8,#c30,#a10,#c41,#cb5,#5cd,#29e,#6dc,#ac7,#eb3,#e50,#910,#e60,#ac8,#6bb,#28e,#39d,#8c9,#ba5,#d70,#e60,#e92)"></i><i style="height:2px;background:linear-gradient(90deg,#5cd,#28d,#634,#955,#17e,#15d,#4cd,#b64,#c73,#34b,#c73,#39d,#7dc,#29e,#29e,#06e,#03d,#02a,#03b,#02a,#16e,#799,#b20,#900,#e60,#ba5,#898,#8c9,#7cb,#ab6,#d51,#a10,#b43,#aa6,#7dc,#2be,#19e,#5bc,#ab8,#e71,#c20,#c30,#ab7,#3be,#18e,#16e,#48c,#6ab,#ba6,#e50,#c41,#d82,#8ca,#39d,#28e,#5cd,#ba6,#c62,#b20,#b30,#a53,#cc6,#7cb,#3ae,#3ae,#7ba,#d93,#c41,#d71)"></i><i style="height:2px;background:linear-gradient(90deg,#a44,#a44,#23a,#5cd,#4cd,#6cb,#ac8,#933,#c93,#922,#822,#b53,#27d,#3be,#29d,#3be,#3ad,#4ad,#18e,#15d,#47c,#d82,#800,#800,#e61,#37c,#26b,#26d,#6cc,#eb3,#d40,#c50,#ab7,#5bd,#2ae,#28e,#2ae,#5dd,#ab6,#e50,#b10,#e50,#8ca,#26d,#26e,#29e,#5bc,#9d8,#e60,#a10,#d30,#d72,#ad8,#4ce,#29d,#6ab,#bc6,#d51,#a10,#b10,#e92,#5bc,#39d,#4bd,#9b8,#c94,#db4,#e92,#d50)"></i><i style="height:2px;background:linear-gradient(90deg,#6cb,#39d,#27d,#5cd,#27d,#6cc,#b54,#4bd,#5ac,#c42,#cb5,#4bc,#27d,#4ce,#1ae,#06e,#06d,#06d,#05e,#03d,#17e,#ba4,#800,#800,#d40,#bb6,#2be,#19e,#6bb,#cc5,#b20,#910,#d61,#ac8,#3be,#3be,#4be,#5cd,#bb5,#e40,#c20,#d71,#7db,#3be,#3ae,#5de,#6db,#cb5,#e50,#c20,#e61,#ac7,#8da,#9d9,#ac8,#976,#a42,#b20,#d40,#e61,#db3,#5dd,#4be,#8db,#ae8,#9c9,#e92,#b20,#b31)"></i><i style="height:2px;background:linear-gradient(90deg,#25c,#4bd,#28d,#3be,#a55,#b95,#a54,#6cb,#35c,#36b,#37c,#834,#3ad,#39d,#06e,#02a,#02a,#14b,#03b,#04b,#35a,#ca4,#800,#800,#eb3,#8c9,#19e,#18e,#6cb,#dc5,#e50,#d50,#cb5,#7bb,#2ae,#17e,#16e,#4ce,#ac7,#e50,#a10,#b41,#bc7,#469,#49c,#7cb,#4ce,#5dd,#ea3,#c20,#d30,#ca4,#8b9,#7cb,#49c,#47c,#39d,#9c9,#e60,#c20,#e50,#eb3,#7eb,#3ad,#28e,#3bd,#8ca,#ca4,#e80)"></i><i style="height:2px;background:linear-gradient(90deg,#29e,#26e,#4ce,#18e,#16e,#29e,#3be,#b74,#933,#c63,#833,#b74,#a55,#17e,#03c,#02b,#02b,#03d,#18e,#18e,#2ae,#d93,#800,#800,#ba6,#28d,#15e,#18e,#4cd,#ab7,#d30,#b41,#d72,#7ba,#2ae,#19e,#3ad,#6dd,#9da,#ea2,#d30,#d40,#9b8,#36a,#14b,#18e,#3ae,#29d,#5cc,#c63,#a20,#d51,#9b8,#49c,#7ca,#8a9,#6cc,#7cb,#bc7,#e71,#e50,#ea2,#bb6,#5dd,#28e,#3be,#9d9,#ab6,#ba5)"></i><i style="height:2px;background:linear-gradient(90deg,#734,#4ad,#24c,#25d,#734,#25d,#25c,#39c,#49b,#bb6,#c52,#a43,#3ad,#3be,#3ce,#07e,#04e,#16e,#18e,#18e,#3be,#b74,#800,#800,#e60,#ac7,#8b9,#5bc,#39d,#bb6,#900,#910,#d62,#5cd,#3ae,#3ce,#3ae,#4bd,#ba5,#b30,#900,#e71,#7bb,#3bd,#2ae,#5dd,#987,#c73,#d51,#a20,#a10,#a31,#b85,#6bb,#4ce,#4bd,#8db,#c94,#a43,#a10,#c30,#d81,#9b8,#7da,#8ca,#7ba,#69a,#9b8,#e71)"></i><i style="height:2px;background:linear-gradient(90deg,#24c,#5cd,#2ae,#635,#a85,#15d,#4be,#5bd,#c63,#c53,#38c,#239,#28e,#04d,#06e,#18e,#05d,#04e,#04d,#18e,#6bb,#a52,#900,#800,#e61,#ad8,#4be,#28e,#3ad,#e92,#b20,#e50,#cc6,#29e,#17e,#29e,#29e,#6dc,#c83,#910,#b20,#ac7,#3ae,#19e,#19e,#3ce,#ad8,#e81,#e50,#e60,#dc5,#9d9,#7ba,#6bc,#ad8,#a76,#954,#b20,#e81,#9b8,#4ad,#2ae,#4ce,#7db,#ba6,#b74,#d40,#e62,#ca4)"></i><i style="height:2px;background:linear-gradient(90deg,#4cd,#7cb,#b75,#635,#a95,#845,#27e,#23b,#4ac,#36b,#36c,#27d,#2ae,#2ae,#04d,#02a,#03c,#02a,#02a,#03b,#2ae,#bd7,#800,#800,#e81,#6ab,#18e,#17e,#47c,#bb7,#b20,#a10,#b73,#5dd,#2ae,#3be,#3be,#6bc,#cc6,#d51,#a10,#d40,#ac8,#5dd,#5bc,#5cd,#5bd,#8ca,#db4,#e50,#b20,#c41,#bc7,#28e,#28e,#18e,#5de,#ac8,#e81,#d50,#d51,#d93,#7ba,#5dd,#6bc,#3be,#39d,#6cb,#ca5)"></i><i style="height:2px;background:linear-gradient(90deg,#39d,#b84,#5bd,#25d,#26d,#28d,#3ad,#38c,#822,#d72,#bb6,#37c,#5cd,#49d,#2be,#17d,#18e,#06e,#18e,#19e,#3be,#ab8,#800,#800,#b20,#a76,#6cc,#5dd,#ab7,#964,#910,#a10,#e92,#6cc,#3ae,#3ce,#5cd,#7ba,#ca4,#910,#910,#cb5,#69a,#2ae,#3ae,#4ce,#9b8,#d83,#c20,#c30,#d92,#ab8,#5ab,#3ae,#5cd,#bc7,#ea2,#b10,#a10,#e91,#8da,#5cd,#37d,#47b,#8b9,#d71,#d30,#d50,#d81)"></i><i style="height:2px;background:linear-gradient(90deg,#28d,#5cd,#5cd,#5cd,#27d,#3ad,#39d,#a43,#c73,#c42,#c93,#c73,#8ca,#2ae,#04c,#04e,#39d,#4ac,#39c,#29e,#3be,#d82,#800,#800,#c30,#c94,#8da,#5cd,#4ad,#d93,#a20,#b20,#c62,#a95,#5cd,#2ae,#28e,#6aa,#e82,#c20,#d40,#ca4,#39d,#27e,#5dd,#7cb,#9d9,#e70,#b10,#c30,#bb7,#37d,#26e,#4bd,#8ca,#ac8,#c94,#d61,#da4,#bd7,#8ca,#4bd,#6bb,#bc7,#db4,#e60,#c20,#c30,#dc4)"></i><i style="height:2px;background:linear-gradient(90deg,#b54,#27d,#26d,#b84,#b74,#a54,#26d,#5bc,#b42,#822,#37b,#9c9,#25d,#18e,#29e,#18e,#18e,#18e,#18e,#19e,#3be,#db4,#800,#800,#e81,#39d,#29e,#3be,#29e,#8da,#b10,#900,#e71,#9c9,#38d,#14a,#27e,#3ae,#8da,#c30,#900,#b41,#b94,#9d9,#8c9,#7ba,#aa6,#cb5,#e81,#910,#a10,#b41,#cd5,#3be,#4ce,#5cd,#4bd,#ab7,#e60,#c30,#e71,#bc6,#5bd,#6dd,#29e,#38d,#ad9,#d71,#b20)"></i><i style="height:2px;background:linear-gradient(90deg,#b54,#24c,#4bd,#4cd,#29e,#3ae,#3ad,#38d,#c83,#da4,#a33,#b54,#9c8,#29f,#04d,#03c,#02b,#03c,#05e,#06e,#18e,#bb7,#800,#800,#e50,#4cd,#16e,#18e,#6bc,#b83,#d40,#910,#b30,#ba5,#29e,#14c,#18e,#5dd,#8da,#b94,#e50,#d30,#eb3,#7ba,#5ac,#2ae,#6bc,#9b8,#ab7,#d92,#d40,#e50,#e71,#c95,#8ca,#3be,#27e,#29e,#4ac,#9b8,#d30,#b20,#d71,#ca4,#7dc,#29e,#29e,#39d,#48b)"></i><i style="height:2px;background:linear-gradient(90deg,#b74,#24c,#29e,#2ae,#745,#7cb,#2ae,#26d,#ca4,#933,#c63,#b64,#986,#04d,#02a,#02a,#02c,#05e,#05e,#03d,#15d,#8b9,#800,#800,#e61,#7cb,#2ae,#29e,#7cb,#a42,#b20,#c41,#bc7,#7cb,#7a9,#6bb,#2ae,#17e,#5de,#b94,#b20,#e40,#ac8,#5de,#3be,#16e,#15d,#2ae,#5cc,#dc4,#e60,#e60,#ca5,#7cb,#39c,#16d,#16b,#29e,#7cb,#ca3,#a20,#c30,#cc6,#6cc,#6cc,#3be,#18e,#3be,#6bb)"></i><i style="height:2px;background:linear-gradient(90deg,#bc7,#25c,#24b,#4bd,#27d,#28d,#24b,#6cb,#8ba,#59b,#59b,#c73,#3ad,#4bd,#3ae,#2ae,#18e,#05e,#06e,#2be,#6bc,#cb5,#900,#800,#b30,#ac7,#4ce,#3be,#5de,#cd6,#b30,#900,#a10,#d72,#8c9,#7dc,#7cb,#8b9,#7cb,#8ca,#e80,#b10,#e50,#db5,#bd6,#9c9,#6dc,#4ac,#3ad,#7cb,#d81,#b20,#c20,#e81,#9b8,#6dd,#5dd,#8da,#9c9,#cb5,#e61,#a10,#910,#943,#744,#a96,#6bc,#4ce,#7cb)"></i><i style="height:2px;background:linear-gradient(90deg,#26e,#29e,#29e,#29e,#2ae,#14c,#3be,#b74,#b53,#c83,#38c,#6cc,#29e,#03b,#04e,#05e,#02b,#02a,#019,#02b,#27e,#bc7,#800,#800,#e92,#6cc,#18e,#3be,#7bb,#ca4,#d40,#b20,#b41,#cb4,#16e,#15b,#15d,#3ce,#a86,#b51,#c30,#d61,#c93,#4ce,#3ae,#17e,#29e,#8ca,#ca4,#e60,#e81,#699,#4cd,#7db,#4ce,#2ae,#38d,#59b,#ea2,#e70,#db3,#8ba,#29e,#18e,#27d,#37d,#8da,#e81,#c30)"></i><i style="height:2px;background:linear-gradient(90deg,#27d,#25d,#3ae,#13a,#3be,#29e,#17e,#3ad,#933,#c93,#933,#29d,#2ae,#04e,#02b,#02a,#04d,#03d,#02d,#18e,#8c9,#b53,#800,#800,#d41,#a85,#3ce,#29e,#6cc,#b53,#910,#e61,#8ca,#29e,#18e,#2ae,#3be,#6cc,#ac8,#eb3,#d50,#e71,#8ca,#2ae,#18e,#4bd,#8a9,#ac7,#c83,#d51,#b20,#b31,#db4,#4be,#4ce,#6cc,#5dd,#7cb,#da3,#d93,#d70,#e71,#db4,#9c8,#6bb,#7cb,#7ca,#5cc,#db4)"></i><i style="height:2px;background:linear-gradient(90deg,#b84,#b75,#17e,#18e,#3be,#18e,#17e,#28d,#c93,#c73,#36c,#27d,#2ae,#2ae,#06e,#02b,#03b,#02b,#03c,#02b,#16d,#8b8,#800,#800,#e91,#26d,#16e,#2ae,#5cd,#ad8,#c83,#d40,#e60,#ad8,#3be,#18e,#29d,#18e,#2ae,#cc5,#e71,#c82,#8a8,#7ba,#6cb,#6bb,#898,#9d9,#5cd,#6bb,#da3,#e92,#db4,#9d9,#5ac,#19e,#2ae,#6dd,#9ea,#db3,#d30,#d30,#cb5,#9c9,#6cc,#3be,#3ae,#5cd,#8ca)"></i><i style="height:2px;background:linear-gradient(90deg,#23b,#29e,#2ae,#955,#a85,#14d,#18e,#4bd,#38c,#c73,#c53,#3ad,#17e,#19f,#04b,#029,#02a,#019,#019,#04d,#5bc,#c95,#800,#800,#e61,#8ca,#4bd,#6bc,#9b8,#954,#a10,#a20,#ab6,#5ac,#2ae,#15c,#26a,#26b,#49c,#ba6,#b84,#9a8,#9d9,#6bc,#3ae,#2ae,#2ae,#4be,#ad8,#e50,#c41,#d51,#c94,#9c8,#3be,#28e,#26e,#5cd,#b64,#b20,#b40,#d52,#ca4,#7cb,#2ae,#27e,#3ae,#8ca,#ea2)"></i><i style="height:2px;background:linear-gradient(90deg,#4ad,#25d,#4bd,#25c,#29d,#239,#26d,#4ac,#c52,#d52,#b42,#a43,#987,#3bf,#19e,#06e,#17e,#29e,#17e,#16e,#2ae,#db4,#800,#800,#b20,#6cb,#29d,#3ce,#4ad,#bb6,#a10,#900,#b41,#954,#9c9,#38c,#4ac,#7db,#9c9,#dc4,#b20,#910,#e51,#ad8,#3be,#2ae,#4ce,#9a8,#766,#b41,#a20,#a10,#e51,#6dc,#26c,#26d,#28e,#6dc,#a53,#b41,#d20,#a10,#e61,#bb6,#bb6,#9c8,#5cd,#ac7,#a43)"></i><i style="height:2px;background:linear-gradient(90deg,#b74,#39d,#6cc,#24c,#5cc,#5cd,#28d,#38c,#59b,#45b,#49b,#5bc,#24b,#2ae,#18f,#18e,#29e,#18e,#18e,#18e,#3ae,#ea3,#800,#800,#c30,#5bd,#2ae,#7db,#a97,#c62,#a20,#a10,#b20,#ab7,#3ae,#49c,#3be,#6cc,#aa6,#c84,#c30,#b10,#c30,#b74,#976,#6cb,#29e,#26e,#26d,#6aa,#ea3,#c30,#910,#a52,#9d9,#7db,#8b9,#7db,#7db,#ab6,#e81,#d30,#b20,#943,#a65,#9c8,#7ba,#9b7,#ac7)"></i><i style="height:2px;background:linear-gradient(90deg,#944,#26d,#845,#845,#2ae,#29e,#25d,#24c,#c63,#b42,#833,#b74,#845,#18e,#05d,#06e,#28d,#07e,#05e,#28e,#7ca,#a42,#800,#800,#c30,#9b8,#2ae,#26d,#27e,#8ca,#e71,#c40,#cc6,#37c,#14b,#19e,#2be,#3be,#5de,#ba5,#b20,#c20,#ba5,#6bb,#7ca,#5bc,#3ce,#3be,#5cd,#bc7,#d93,#d40,#e71,#cc5,#5de,#4ce,#6cc,#8da,#9c9,#db3,#e81,#d82,#ba5,#8c9,#6cc,#3be,#5cd,#5cd,#5cd)"></i><i style="height:2px;background:linear-gradient(90deg,#bb6,#b95,#3ae,#2ae,#6cb,#17e,#2ae,#26d,#337,#c52,#c63,#28d,#5cd,#2af,#29e,#29e,#17d,#29e,#29e,#17e,#2ae,#db4,#900,#800,#e50,#5ab,#16e,#18e,#7bb,#c63,#b30,#a20,#c41,#ac8,#19e,#2ae,#19e,#19e,#49c,#ac8,#e80,#d40,#e61,#cc5,#6bb,#39c,#2ae,#29e,#8ca,#a75,#d41,#b20,#e50,#9b8,#3ae,#16e,#15d,#15c,#5cd,#ba5,#e61,#e50,#d71,#ab7,#7cb,#29e,#28e,#4ce,#4ce)"></i><i style="height:2px;background:linear-gradient(90deg,#27d,#28d,#27e,#5cd,#17e,#3ae,#29e,#39d,#38c,#339,#833,#26d,#17d,#04c,#04d,#04e,#02c,#04c,#03d,#06e,#2be,#7a9,#a10,#800,#e92,#39e,#29e,#29d,#3ce,#9c9,#e70,#d30,#cb5,#7ca,#4ce,#2ae,#3be,#5cd,#7db,#e81,#b20,#c30,#b95,#4ce,#14b,#15d,#29d,#9c8,#d92,#e60,#d40,#e71,#bc7,#3ae,#27e,#16d,#48c,#4ac,#bb6,#d30,#e51,#ac7,#4bd,#29e,#2ae,#5bc,#bc6,#d92,#e71)"></i><i style="height:2px;background:linear-gradient(90deg,#28d,#25d,#28e,#29e,#ac7,#16e,#26e,#4bd,#4ac,#339,#c63,#734,#a75,#18f,#18e,#03d,#02b,#02c,#14d,#04e,#2be,#dc5,#800,#800,#c73,#5de,#2ae,#17e,#27e,#7ba,#e50,#d40,#d82,#6cc,#19e,#17e,#15e,#18e,#5dd,#e71,#a10,#943,#bc6,#4ce,#3be,#3ce,#6bb,#9d9,#ac7,#e51,#a20,#d51,#cc6,#3ad,#19e,#18e,#2ae,#9d9,#ea3,#e81,#d70,#ea2,#ad8,#3ae,#16e,#29e,#8c9,#da4,#e71)"></i><i style="height:2px;background:linear-gradient(90deg,#5cd,#3ae,#18e,#16e,#14b,#29e,#2ae,#26d,#35c,#49c,#35c,#b64,#a55,#2bf,#06e,#18e,#05e,#03c,#019,#029,#16e,#ac7,#900,#800,#db4,#38e,#14b,#04b,#14c,#6dd,#c41,#a10,#ea3,#3ad,#17e,#16e,#06e,#18e,#4ce,#9d9,#e91,#e60,#ab7,#4ac,#28e,#4ce,#6cc,#2ae,#3ad,#49b,#ca4,#c30,#e50,#8da,#4ce,#3be,#2be,#18e,#4cd,#9d8,#dc5,#d70,#d50,#db4,#5bc,#29e,#2ae,#5dd,#6ba)"></i><i style="height:2px;background:linear-gradient(90deg,#26d,#4cd,#4be,#4be,#3ae,#7cb,#4cd,#27d,#49c,#a32,#38c,#5bd,#2ae,#49d,#59b,#49c,#17e,#17e,#29e,#19e,#39d,#9b8,#a10,#800,#e81,#4cd,#2ae,#7db,#9b8,#b94,#a10,#a10,#b42,#b84,#6ba,#4ce,#3be,#4ce,#8b9,#da4,#c20,#b20,#b75,#4bd,#15c,#15b,#29e,#5dd,#b93,#b20,#b20,#c73,#9c9,#2ae,#19e,#18e,#26d,#68a,#8b8,#e92,#e81,#bd7,#5cd,#3ae,#27e,#26d,#7bb,#d62,#943)"></i><i style="height:2px;background:linear-gradient(90deg,#b94,#b54,#b74,#25d,#24c,#5cc,#27d,#39c,#49b,#59b,#48b,#36c,#28d,#17e,#18e,#18e,#15c,#04e,#29e,#5bc,#9c9,#9b9,#b30,#800,#e40,#5cc,#29e,#2be,#6cc,#dc4,#e40,#a10,#e71,#68a,#26c,#19e,#29e,#29e,#6bb,#cb5,#910,#a10,#da3,#5cc,#5cd,#5de,#6dc,#7db,#9d9,#da3,#d30,#b10,#c41,#955,#9d9,#6cc,#7ca,#9da,#b95,#b52,#910,#c20,#e71,#d93,#ac8,#8ca,#8da,#7ba,#9c8)"></i><i style="height:2px;background:linear-gradient(90deg,#834,#834,#4cd,#25d,#28e,#29d,#24c,#5bd,#833,#b42,#833,#39d,#29d,#15c,#03b,#07e,#17d,#07e,#06e,#06e,#29e,#bc6,#800,#800,#a20,#ab7,#2ae,#19e,#18e,#38d,#ab7,#c20,#c20,#d93,#7cb,#5dd,#4be,#2be,#3be,#ac8,#c41,#b20,#c30,#d62,#7db,#4ce,#3be,#3ae,#4ce,#8ca,#e70,#910,#b30,#bb7,#6dd,#5dd,#4ce,#6dc,#bc7,#d93,#d50,#c20,#a30,#b74,#8da,#7bb,#5dd,#59b,#7ba)"></i><i style="height:2px;background:linear-gradient(90deg,#39d,#26d,#734,#4bd,#5cd,#239,#29d,#39c,#48b,#c52,#b42,#833,#238,#24c,#16e,#14b,#04e,#18e,#03b,#16e,#6bb,#c94,#800,#800,#e60,#8d9,#5cd,#5cc,#ab6,#c51,#a20,#910,#e71,#7cb,#5de,#8a8,#8b9,#29e,#6bb,#d83,#c41,#b20,#d93,#9b8,#39d,#27e,#17e,#47c,#48c,#8ca,#c41,#a20,#b20,#e81,#cc6,#ac8,#7bb,#5ac,#6cb,#8ca,#bb6,#e50,#d30,#e91,#bb6,#4cd,#2ae,#29e,#3ae)"></i><i style="height:2px;background:linear-gradient(90deg,#4ad,#5cc,#4bd,#3bd,#27e,#239,#26d,#26d,#338,#46b,#49c,#6bb,#2bf,#05e,#04d,#16e,#18e,#06e,#04d,#18e,#4ce,#d92,#900,#800,#d50,#8da,#4ce,#2be,#5cd,#da3,#b30,#910,#a31,#bc7,#4ce,#3ae,#2be,#17e,#38d,#8b9,#d50,#a10,#d51,#6aa,#26b,#26b,#16d,#5bd,#996,#d72,#e50,#c30,#e70,#bd7,#b84,#a85,#7ba,#9b8,#b94,#dc5,#e60,#910,#e50,#8b9,#5bb,#6cc,#5cd,#6cc,#6dd)"></i><i style="height:2px;background:linear-gradient(90deg,#23b,#38d,#5cd,#39d,#b94,#a54,#944,#833,#c52,#b32,#c52,#c73,#5dd,#17f,#15e,#14d,#14c,#16e,#16e,#16d,#5dd,#d72,#800,#800,#c20,#ac8,#5bc,#2ae,#6bb,#bb5,#e40,#a10,#e40,#bc7,#3be,#5cd,#7cb,#5dd,#6dc,#ba5,#b20,#a10,#d40,#cc6,#5ab,#349,#28e,#6dc,#6bc,#6bc,#e71,#a10,#910,#c94,#ac8,#4ce,#29e,#3be,#7bb,#ab7,#d92,#d30,#d30,#cc5,#699,#9c9,#ac8,#3be,#4bd)"></i><i style="height:2px;background:linear-gradient(90deg,#7ca,#39d,#24c,#29e,#29e,#4be,#6cb,#944,#933,#c72,#c63,#39c,#27d,#37b,#29e,#28e,#19e,#17e,#05e,#04c,#16d,#ad9,#900,#800,#d81,#5ab,#15e,#18e,#5cc,#ab7,#d51,#a20,#a10,#da3,#5ab,#27e,#15e,#29e,#4be,#db4,#d30,#910,#c30,#bb6,#28e,#17e,#2ae,#4de,#9c9,#cc5,#e60,#d41,#d61,#ad9,#3be,#3ce,#897,#9a7,#ab7,#d61,#b20,#e40,#aa6,#8b9,#9c9,#5cc,#2ae,#5ab,#bb6)"></i><i style="height:2px;background:linear-gradient(90deg,#26d,#28e,#3be,#5cd,#15e,#16e,#29e,#944,#833,#c73,#37c,#4bd,#3be,#18e,#02c,#06e,#17e,#18e,#07e,#18e,#4ce,#c62,#800,#800,#da4,#28d,#17e,#2ae,#6dc,#e82,#910,#b20,#bb5,#4ce,#3ce,#19e,#15b,#15c,#49c,#dc5,#d30,#d40,#9a8,#7bb,#6ba,#2be,#16e,#2be,#7bb,#ab6,#da3,#d60,#d50,#b85,#6dc,#26d,#14b,#15d,#48c,#8da,#c52,#e40,#e60,#cb4,#9b8,#5bc,#3be,#18e,#26b)"></i><i style="height:2px;background:linear-gradient(90deg,#25d,#25d,#635,#745,#955,#4ce,#b75,#944,#a43,#833,#b43,#28d,#29e,#19f,#04e,#05d,#04d,#04c,#05e,#07e,#17e,#8da,#900,#800,#e91,#6bb,#18e,#18e,#4de,#ab7,#c63,#a10,#b31,#bc6,#29e,#17e,#17e,#18e,#38c,#59b,#ac8,#e50,#d50,#bb6,#9d9,#4be,#4ce,#7cb,#8a9,#8da,#ac7,#e71,#e60,#d81,#7db,#26d,#18e,#16e,#14b,#25b,#59b,#bb6,#e60,#e71,#e92,#ad8,#3bd,#18e,#27e)"></i><i style="height:2px;background:linear-gradient(90deg,#24c,#27d,#24d,#28e,#3be,#27e,#23a,#24b,#c63,#c72,#49c,#26d,#25d,#2ae,#04c,#04b,#04c,#06e,#18e,#06e,#2ae,#d82,#900,#800,#b30,#8db,#19e,#16e,#2ae,#b84,#a20,#a10,#d51,#ac7,#6cc,#4be,#3ce,#4ce,#49c,#69a,#b95,#d30,#a31,#db4,#29e,#3ce,#7ba,#6dc,#2ae,#6a9,#ea3,#b20,#e71,#8b8,#39c,#2ae,#4bd,#4bd,#4bd,#8b9,#e81,#d51,#e50,#e92,#9b8,#6dc,#2ae,#2ae,#6dc)"></i><i style="height:2px;background:linear-gradient(90deg,#27d,#23a,#28d,#28d,#4bd,#3ad,#26d,#4ac,#833,#ab8,#c93,#933,#26d,#4cd,#29e,#29f,#18e,#06e,#04e,#17e,#49c,#bb6,#800,#800,#c30,#bb6,#3be,#19e,#3be,#6cc,#ca4,#a10,#c20,#db4,#6bb,#35b,#27d,#2ae,#4bd,#7db,#bc7,#e71,#d30,#e71,#8c9,#7db,#7cb,#6dc,#3ae,#49c,#6bb,#ad9,#e60,#910,#c40,#ab7,#8ca,#9b8,#6cc,#3be,#4ce,#8eb,#d92,#d30,#a10,#b31,#cb5,#4bd,#2ae)"></i><i style="height:2px;background:linear-gradient(90deg,#3ad,#25d,#28e,#18e,#29e,#29e,#25d,#239,#c73,#c42,#6cb,#3ad,#29e,#03d,#04e,#04d,#02c,#04d,#02c,#03b,#15b,#7db,#800,#800,#bb7,#28d,#16e,#15c,#28e,#9c9,#b30,#910,#c41,#c74,#9b8,#19e,#17e,#17e,#2ae,#9da,#b41,#a10,#d40,#9c8,#5bc,#2ae,#16d,#26c,#7cb,#b74,#b62,#b20,#d30,#da3,#9c9,#6bb,#3ce,#4be,#3be,#7db,#b94,#c30,#c30,#d71,#bb6,#6dc,#4be,#5cc,#9c9)"></i><i style="height:2px;background:linear-gradient(90deg,#4bd,#26d,#3ad,#ba5,#bb6,#b64,#b74,#38c,#933,#d82,#ca4,#c63,#a85,#3bf,#59a,#29e,#05e,#16e,#03c,#05e,#3ae,#ba5,#800,#800,#e70,#39d,#19e,#18e,#3bd,#ab8,#e50,#900,#c30,#bb5,#5de,#3be,#3ce,#4ce,#6bb,#7ba,#9c8,#e50,#a10,#e70,#cc5,#9b8,#8da,#3be,#17e,#2ae,#9c8,#d62,#b20,#b10,#e81,#9b7,#6dd,#7cb,#5bb,#5cd,#5dd,#bc8,#d51,#b20,#b20,#e71,#9b8,#59c,#38d)"></i><i style="height:2px;background:linear-gradient(90deg,#29e,#17e,#17e,#2ae,#15e,#19e,#2ae,#29d,#c63,#5bc,#833,#a44,#2ae,#06e,#03d,#05e,#18e,#03d,#02a,#02b,#19e,#ba6,#910,#800,#c41,#8ba,#16d,#14d,#3be,#db4,#c30,#d30,#bc6,#3be,#18e,#17e,#19e,#18e,#48c,#cb5,#b30,#c30,#d92,#8ba,#2ae,#3be,#3ae,#3ae,#7db,#bd7,#e81,#e40,#d61,#ae8,#29e,#18e,#2ae,#4cd,#6dc,#bc7,#ea2,#e81,#cb5,#7ba,#5de,#3be,#3be,#8ca,#bd7)"></i><i style="height:2px;background:linear-gradient(90deg,#734,#23a,#239,#6cc,#26d,#29d,#4bd,#944,#b43,#d62,#37b,#37c,#28d,#2af,#07e,#16e,#03b,#04b,#03b,#16e,#3be,#bb6,#800,#800,#e81,#3ad,#2ae,#6bb,#bc7,#e71,#910,#c30,#ad8,#28e,#4ce,#9c9,#5cc,#4ac,#8b9,#dc4,#d40,#c20,#ea2,#9c9,#8db,#3be,#19e,#3be,#7cb,#c95,#d40,#a10,#a20,#b84,#4bd,#28e,#29e,#39d,#2ae,#ab6,#e71,#c30,#b20,#e61,#9da,#4ce,#4de,#5dd,#6cc)"></i><i style="height:2px;background:linear-gradient(90deg,#27e,#28e,#4ce,#4ce,#5cd,#5ce,#28e,#4bd,#35c,#c53,#c53,#734,#635,#16f,#05e,#03c,#03d,#02c,#14d,#04e,#18e,#da3,#900,#800,#c41,#4ce,#18e,#2ae,#6dc,#cb4,#c30,#d30,#cc5,#5dd,#3be,#17e,#15e,#14b,#25b,#9b8,#a31,#b20,#b51,#8ca,#26b,#15d,#16e,#16e,#18e,#5dd,#bd8,#e50,#e50,#bc6,#59b,#26c,#15b,#18e,#4ce,#4ce,#7db,#bc6,#e60,#a53,#954,#a96,#7db,#19e,#17e)"></i><i style="height:2px;background:linear-gradient(90deg,#ba5,#944,#734,#29d,#24b,#28d,#28d,#34b,#a33,#d72,#5ab,#4ac,#26d,#17e,#16f,#06e,#2ae,#28d,#06e,#04d,#29e,#cb5,#800,#800,#e50,#5bc,#18e,#18e,#6bc,#cb5,#b20,#900,#933,#9d9,#3be,#3be,#5bd,#4ce,#4ac,#4ad,#bb6,#b20,#d30,#d52,#cb5,#38c,#18e,#29e,#27d,#6bb,#c62,#b20,#a10,#e71,#da3,#9b9,#7cb,#3be,#29e,#4bd,#bb7,#cb5,#d50,#b20,#a31,#965,#ac7,#6bb,#5de)"></i><i style="height:2px;background:linear-gradient(90deg,#25c,#27d,#4bd,#3ad,#25d,#27e,#28d,#26d,#35c,#da4,#a33,#834,#3ae,#15d,#07e,#04e,#03c,#05e,#07e,#16d,#2ae,#ca3,#800,#800,#c63,#5dd,#5cd,#3ce,#26e,#4bd,#d41,#a10,#c20,#b94,#6cc,#2ae,#29e,#16d,#28e,#8da,#c41,#d30,#d93,#799,#4cd,#3be,#3be,#28d,#6dc,#a76,#d41,#a10,#b30,#b64,#5cd,#27d,#3be,#6dc,#6cc,#8b9,#ca5,#d60,#d40,#c74,#8da,#3ae,#49c,#3be,#4cd)"></i><i style="height:2px;background:linear-gradient(90deg,#28d,#25d,#24b,#18e,#3be,#28e,#28d,#39d,#c83,#c93,#37c,#25d,#29d,#2ae,#15d,#07e,#04e,#06e,#05e,#04d,#2ae,#ca4,#800,#800,#c40,#9d9,#2ae,#18e,#8db,#b74,#b20,#910,#e81,#4bd,#28e,#19e,#2ae,#5dd,#6dc,#9b9,#da3,#c20,#e50,#da2,#bc6,#2ae,#16e,#29e,#17e,#28e,#5bc,#e92,#c20,#b30,#c73,#bc6,#6dd,#2ae,#4ce,#8c9,#c74,#c52,#b41,#b41,#d51,#ab7,#5bb,#7bb,#8a8)"></i><i style="height:2px;background:linear-gradient(90deg,#24c,#239,#25e,#27e,#7cb,#29e,#3bd,#28d,#49c,#c72,#833,#733,#734,#14b,#17f,#07e,#04e,#04d,#05d,#05e,#19e,#bb6,#910,#800,#ba5,#58b,#2ae,#3be,#4be,#9c9,#e81,#b10,#d40,#ab8,#27d,#16d,#16e,#37d,#15b,#3be,#b75,#d30,#c30,#c93,#8da,#4ce,#3ce,#3be,#39c,#29e,#7cb,#d81,#c30,#c20,#d71,#ac8,#4ce,#3be,#3ce,#2be,#8db,#dd5,#d81,#e50,#d92,#cc6,#ac8,#5bc,#5bc)"></i><i style="height:2px;background:linear-gradient(90deg,#a44,#b64,#a54,#27d,#844,#5cd,#ba5,#733,#a33,#c42,#932,#37c,#25d,#29e,#18f,#05e,#17d,#29e,#06e,#05e,#3be,#b74,#800,#800,#d51,#6cc,#18e,#2ae,#cd5,#c30,#a10,#e40,#b85,#5cd,#4ce,#7cb,#4ce,#4cd,#7db,#e81,#910,#a20,#da3,#8ca,#25c,#14b,#18e,#7db,#bb6,#ca3,#d40,#910,#d40,#bb5,#9d8,#8ca,#5dd,#4ce,#4ad,#8da,#c93,#c20,#c30,#e61,#cb5,#5dd,#4ce,#6cc,#7cb)"></i><i style="height:2px;background:linear-gradient(90deg,#28d,#28e,#5cd,#16e,#29e,#2ae,#23a,#28d,#39c,#9c8,#36c,#4ad,#239,#16e,#04c,#02b,#02b,#02c,#03c,#06e,#2ae,#bd6,#800,#800,#d93,#4cd,#5cd,#3be,#29e,#36a,#ab6,#c20,#e60,#9c9,#28e,#16d,#29e,#5cd,#5ac,#4be,#6cc,#d61,#d40,#a96,#69a,#48c,#15c,#28e,#3ce,#29e,#27d,#8ca,#d51,#e50,#ea3,#bb5,#9b8,#4cd,#38d,#19e,#5de,#6dc,#9b9,#da4,#d60,#c73,#ac8,#4be,#5dd)"></i></div>
<svg width="1955" height="2207" viewBox="0 0 1955 2207" xmlns="http://www.w3.org/2000/svg">
<text x="0" y="34" font-size="48" font-weight="bold">a</text>
<text x="924" y="34" font-size="48" font-weight="bold">b</text>
<text x="0" y="883" font-size="48" font-weight="bold">c</text>
<text x="503" y="883" font-size="48" font-weight="bold">d</text>
<text x="1362" y="883" font-size="48" font-weight="bold">e</text>
<text x="0" y="1607.6" font-size="48" font-weight="bold">f</text>
<text x="1015" y="1607.6" font-size="48" font-weight="bold">g</text>
<path d="M144.6 402.5L145.6 408.5L146.6 414.5L147.6 420.4L148.6 426.3L149.6 432.1L150.6 437.8L151.6 443.5L152.6 449.1L153.6 454.7L154.6 460.4L155.6 466.1L156.6 471.9L157.6 477.5L158.6 483.1L159.6 488.4L160.6 493.4L161.6 498.1L162.6 502.3L163.6 506.2L164.6 509.9L165.6 513.5L166.6 517L167.6 520.3L168.6 523.4L169.6 526.3L170.6 529L171.6 531.5L172.6 533.7L173.6 535.7L174.6 537.5L175.6 539.2L176.6 540.8L177.6 542.3L178.6 543.8L179.6 545.1L180.6 546.4L181.6 547.7L182.6 548.9L183.6 550.1L184.6 551.3L185.6 552.6L186.6 553.8L187.6 555L188.6 556.3L189.6 557.5L190.6 558.7L191.6 559.8L192.6 561L193.6 562.1L194.6 563.2L195.6 564.2L196.6 565.2L197.6 566.1L198.6 566.9L199.6 567.7L200.6 568.5L201.6 569.1L202.6 569.8L203.6 570.4L204.6 571.1L205.6 571.7L206.6 572.3L207.6 572.8L208.6 573.4L209.6 573.8L210.6 574.2L211.6 574.6L212.6 574.8L213.6 575L214.6 575L215.6 575L216.6 574.9L217.6 574.8L218.6 574.7L219.6 574.5L220.6 574.3L221.6 574.1L222.6 573.9L223.6 573.6L224.6 573.3L225.6 572.9L226.6 572.2L227.6 571.4L228.6 570.4L229.6 569.3L230.6 568.1L231.6 566.8L232.6 565.5L233.6 564.1L234.6 562.6L235.6 561L236.6 559.3L237.6 557.3L238.6 555.1L239.6 552.8L240.6 550.3L241.6 547.6L242.6 544.8L243.6 541.7L244.6 538.5L245.6 534.9L246.6 530.8L247.6 526.3L248.6 521.5L249.6 516.4L250.6 511L251.6 505.4L252.6 499.5L253.6 493.1L254.6 486L255.6 478.3L256.6 470.2L257.6 462L258.6 453.6L259.6 445.3L260.6 437.4L261.6 429.6L262.6 421.7L263.6 413.2L264.6 404L265.6 393.7L266.6 382L267.6 367.7L268.6 351.4L269.6 333.5L270.6 314.7L271.6 295.2L272.6 271.7L273.6 247L274.6 226L275.6 211.8L276.6 200.3L277.6 191L278.6 183.9L279.6 178.1L280.6 173.1L281.6 169L282.6 165.6L283.6 162.4L284.6 159.5L285.6 157.4L286.6 157L287.6 157.8L288.6 159.5L289.6 161.6L290.6 164L291.6 167.3L292.6 171.7L293.6 177.2L294.6 184.9L295.6 197.9L296.6 214.4L297.6 231.6L298.6 250.6L299.6 271.8L300.6 293.5L301.6 313.8L302.6 331.8L303.6 349.1L304.6 365.7L305.6 381.5L306.6 396.2L307.6 409.8L308.6 422.3L309.6 434.2L310.6 445.3L311.6 455.7L312.6 465.3L313.6 474.1L314.6 482.5L315.6 490.6L316.6 498.1L317.6 505.2L318.6 511.6L319.6 517.4L320.6 522.6L321.6 527.5L322.6 532.2L323.6 536.4L324.6 540.2L325.6 543.2L326.6 545.5L327.6 547.5L328.6 549.4L329.6 551.1L330.6 552.6L331.6 553.8L332.6 554.7L333.6 555.2L334.6 555.1L335.6 554.6L336.6 553.7L337.6 552.4L338.6 550.9L339.6 549.1L340.6 547.2L341.6 545.2L342.6 542.8L343.6 539.6L344.6 535.7L345.6 531.2L346.6 526.2L347.6 520.9L348.6 515.3L349.6 509.5L350.6 503L351.6 495.6L352.6 487.5L353.6 478.9L354.6 469.9L355.6 460.7L356.6 451.5L357.6 442.2L358.6 432.7L359.6 422.8L360.6 412.6L361.6 402.1L362.6 391.4L363.6 380.5L364.6 369.3L365.6 357.8L366.6 345L367.6 331.4L368.6 317.3L369.6 303.3L370.6 289.7L371.6 276.9L372.6 265.5L373.6 255.9L374.6 248.1L375.6 241L376.6 234.8L377.6 229.5L378.6 225.6L379.6 222.3L380.6 219.3L381.6 216.8L382.6 215L383.6 214.3L384.6 214.7L385.6 216.4L386.6 218.8L387.6 221.7L388.6 224.8L389.6 228L390.6 231.7L391.6 236.2L392.6 241.5L393.6 247.6L394.6 255L395.6 266.1L396.6 280.2L397.6 295.8L398.6 311L399.6 326.7L400.6 343.3L401.6 360.2L402.6 376.5L403.6 391.5L404.6 405.9L405.6 419.7L406.6 432.8L407.6 444.7L408.6 455.8L409.6 466.4L410.6 476.2L411.6 484.8L412.6 492.1L413.6 499L414.6 505.6L415.6 511.8L416.6 517.4L417.6 522.5L418.6 526.7L419.6 530.2L420.6 532.8L421.6 535.2L422.6 537.6L423.6 539.7L424.6 541.7L425.6 543.3L426.6 544.7L427.6 545.6L428.6 546.1L429.6 546.1L430.6 545.6L431.6 544.6L432.6 543.1L433.6 541.3L434.6 539.1L435.6 536.8L436.6 534.3L437.6 531.7L438.6 528.8L439.6 525.1L440.6 520.8L441.6 515.8L442.6 510.3L443.6 504.4L444.6 498L445.6 491.4L446.6 484.2L447.6 475.6L448.6 466L449.6 455.5L450.6 444.8L451.6 433.9L452.6 422.2L453.6 409.5L454.6 396.6L455.6 384L456.6 372.2L457.6 361.8L458.6 351.9L459.6 342.3L460.6 333.2L461.6 324.7L462.6 317.2L463.6 310.7L464.6 305.2L465.6 299.9L466.6 294.9L467.6 290.3L468.6 286.3L469.6 283L470.6 280.5L471.6 278.9L472.6 277.6L473.6 276.4L474.6 275.3L475.6 274.6L476.6 274.1L477.6 274L478.6 274.2L479.6 274.8L480.6 275.6L481.6 276.7L482.6 277.9L483.6 279.4L484.6 281.5L485.6 284.9L486.6 289.4L487.6 294.9L488.6 300.9L489.6 307.3L490.6 313.9L491.6 320.5L492.6 328.2L493.6 336.7L494.6 345.9L495.6 355.4L496.6 365L497.6 374.3L498.6 383.4L499.6 392.8L500.6 402.3L501.6 411.8L502.6 421.2L503.6 430.3L504.6 438.9L505.6 447.1L506.6 455.3L507.6 463.5L508.6 471.7L509.6 479.6L510.6 486.9L511.6 493.5L512.6 499.2L513.6 503.7L514.6 507.4L515.6 511L516.6 514.5L517.6 517.7L518.6 520.7L519.6 523.3L520.6 525.6L521.6 527.3L522.6 528.6L523.6 529.2L524.6 529.1L525.6 528.4L526.6 527.1L527.6 525.2L528.6 522.9L529.6 520.1L530.6 517.1L531.6 513.8L532.6 510.4L533.6 506.8L534.6 503.2L535.6 498.6L536.6 493.1L537.6 486.7L538.6 479.8L539.6 472.4L540.6 464.8L541.6 457.2L542.6 449.8L543.6 442.6L544.6 435.2L545.6 427.3L546.6 419.1L547.6 410.9L548.6 402.8L549.6 395.1L550.6 388L551.6 381.6L552.6 376.1L553.6 371.1L554.6 366.2L555.6 361.5L556.6 357L557.6 352.9L558.6 349.1L559.6 345.7L560.6 342.8L561.6 340.4L562.6 338.6L563.6 336.8L564.6 335.1L565.6 333.4L566.6 332L567.6 330.7L568.6 329.7L569.6 328.9L570.6 328.4L571.6 328.3L572.6 328.5L573.6 329L574.6 329.8L575.6 330.9L576.6 332.2L577.6 333.8L578.6 335.4L579.6 337.2L580.6 339.1L581.6 341.3L582.6 344.3L583.6 348L584.6 352.4L585.6 357.2L586.6 362.5L587.6 368L588.6 373.7L589.6 379.5L590.6 385.2L591.6 391.4L592.6 398.2L593.6 405.6L594.6 413.2L595.6 420.9L596.6 428.5L597.6 435.6L598.6 442.1L599.6 448L600.6 453.8L601.6 459.4L602.6 464.9L603.6 470.1L604.6 475L605.6 479.4L606.6 483.4L607.6 486.7L608.6 489.9L609.6 493L610.6 496.1L611.6 499L612.6 501.6L613.6 503.9L614.6 505.7L615.6 507.1L616.6 507.8L617.6 507.9L618.6 507.3L619.6 506.2L620.6 504.6L621.6 502.6L622.6 500.3L623.6 497.7L624.6 494.8L625.6 491.9L626.6 488.9L627.6 485.9L628.6 482.3L629.6 478L630.6 473.1L631.6 467.8L632.6 462.2L633.6 456.7L634.6 451.2L635.6 446.1L636.6 441.2L637.6 436.3L638.6 431.3L639.6 426.3L640.6 421.3L641.6 416.5L642.6 411.8L643.6 407.4L644.6 403.2L645.6 399.4L646.6 395.7L647.6 392.1L648.6 388.5L649.6 385L650.6 381.9L651.6 379L652.6 376.6L653.6 374.7L654.6 373.4L655.6 372.1L656.6 370.9L657.6 369.8L658.6 368.9L659.6 368.1L660.6 367.5L661.6 367.1L662.6 367L663.6 367.1L664.6 367.5L665.6 368.1L666.6 368.8L667.6 369.8L668.6 370.9L669.6 372.1L670.6 373.3L671.6 374.7L672.6 376.6L673.6 379L674.6 381.9L675.6 385.2L676.6 388.8L677.6 392.5L678.6 396.4L679.6 400.3L680.6 404.2L681.6 407.9L682.6 411.8L683.6 416L684.6 420.3L685.6 424.8L686.6 429.3L687.6 433.8L688.6 438.1L689.6 442.2L690.6 446L691.6 449.5L692.6 453.1L693.6 456.6L694.6 460.1L695.6 463.4L696.6 466.5L697.6 469.3L698.6 471.7L699.6 473.7L700.6 475.2L701.6 476.7L702.6 478.1L703.6 479.4L704.6 480.6L705.6 481.7L706.6 482.6L707.6 483.3L708.6 483.8L709.6 483.9L710.6 483.8L711.6 483.5L712.6 482.9L713.6 482.1L714.6 481L715.6 479.9L716.6 478.6L717.6 477.2L718.6 475.7L719.6 474.2L720.6 472.2L721.6 469.5L722.6 466.3L723.6 462.8L724.6 459L725.6 455.1L726.6 451.2L727.6 447.6L728.6 444.2L729.6 441L730.6 437.7L731.6 434.4L732.6 431.1L733.6 427.9L734.6 424.7L735.6 421.7L736.6 418.7L737.6 416L738.6 413.4L739.6 410.7L740.6 408L741.6 405.5L742.6 403.1L743.6 401L744.6 399.2L745.6 397.9L746.6 396.9L747.6 395.8L748.6 394.9L749.6 394L750.6 393.3L751.6 392.8L752.6 392.5L753.6 392.5L754.6 392.6L755.6 393L756.6 393.6L757.6 394.4L758.6 395.2L759.6 396.1L760.6 397.1L761.6 398.2L762.6 399.4L763.6 401.1L764.6 403L765.6 405.2L766.6 407.5L767.6 410L768.6 412.6L769.6 415.2L770.6 417.9L771.6 420.4L772.6 422.9L773.6 425.5L774.6 428.3L775.6 431.2L776.6 434.2L777.6 437.1L778.6 439.9L779.6 442.5L780.6 444.9L781.6 447L782.6 448.7L783.6 450.5L784.6 452.1L785.6 453.7L786.6 455.2L787.6 456.6L788.6 457.9L789.6 459L790.6 459.9L791.6 460.7L792.6 461.3L793.6 461.8L794.6 462.3L795.6 462.8L796.6 463.2L797.6 463.5L798.6 463.8L799.6 464L800.6 464.1L801.6 464.1L802.6 464L803.6 463.7L804.6 463.3L805.6 462.8L806.6 462.2L807.6 461.5L808.6 460.8L809.6 460L810.6 459.2L811.6 458.2L812.6 456.8L813.6 455.2L814.6 453.4L815.6 451.5L816.6 449.4L817.6 447.3L818.6 445.3L819.6 443.2L820.6 441.4L821.6 439.5L822.6 437.5L823.6 435.5L824.6 433.5L825.6 431.4L826.6 429.4L827.6 427.5L828.6 425.6L829.6 423.9L830.6 422.2L831.6 420.7L832.6 419.1L833.6 417.7L834.6 416.3L835.6 415L836.6 413.9L837.6 413L838.6 412.1L839.6 411.3L840.6 410.6L841.6 410.2L842.6 410L843.6 410.1L844.6 410.3L845.6 410.6L846.6 411L847.6 411.4L848.6 411.9L849.6 412.4L850.6 413.1L851.6 413.9L852.6 414.8L853.6 415.7L854.6 416.8L854.6 594.5L144.6 594.5Z" fill="#b3b3b3"/>
<path d="M144.6 402.5L145.6 408.7L146.6 414.7L147.6 420.7L148.6 426.6L149.6 432.4L150.6 438.1L151.6 443.7L152.6 449.2L153.6 454.6L154.6 460.1L155.6 465.6L156.6 471.1L157.6 476.5L158.6 481.7L159.6 486.7L160.6 491.3L161.6 495.6L162.6 499.4L163.6 502.8L164.6 506L165.6 509.1L166.6 512L167.6 514.8L168.6 517.3L169.6 519.8L170.6 522.1L171.6 524.2L172.6 526.2L173.6 528.1L174.6 529.9L175.6 531.6L176.6 533.2L177.6 534.7L178.6 536.2L179.6 537.6L180.6 538.9L181.6 540.2L182.6 541.4L183.6 542.6L184.6 543.8L185.6 544.9L186.6 546.1L187.6 547.2L188.6 548.3L189.6 549.4L190.6 550.5L191.6 551.5L192.6 552.4L193.6 553.4L194.6 554.2L195.6 555L196.6 555.8L197.6 556.4L198.6 557L199.6 557.6L200.6 558.1L201.6 558.7L202.6 559.2L203.6 559.7L204.6 560.2L205.6 560.7L206.6 561.1L207.6 561.4L208.6 561.7L209.6 562L210.6 562.1L211.6 562.2L212.6 562.2L213.6 562.2L214.6 562.1L215.6 562L216.6 561.9L217.6 561.7L218.6 561.5L219.6 561.3L220.6 561L221.6 560.8L222.6 560.5L223.6 560.2L224.6 559.8L225.6 559.3L226.6 558.6L227.6 557.8L228.6 556.9L229.6 555.8L230.6 554.6L231.6 553.3L232.6 552L233.6 550.6L234.6 549.1L235.6 547.5L236.6 545.5L237.6 543.4L238.6 541L239.6 538.5L240.6 535.7L241.6 532.9L242.6 529.9L243.6 526.8L244.6 523.5L245.6 520L246.6 516.2L247.6 512.1L248.6 507.8L249.6 503.2L250.6 498.5L251.6 493.5L252.6 488.3L253.6 482.8L254.6 476.8L255.6 470.4L256.6 463.6L257.6 456.7L258.6 449.7L259.6 442.6L260.6 435.5L261.6 428.2L262.6 420.6L263.6 412.9L264.6 404.9L265.6 396.7L266.6 388L267.6 378.4L268.6 368.2L269.6 357.7L270.6 347.7L271.6 338.4L272.6 330.5L273.6 323.2L274.6 316.3L275.6 309.8L276.6 304.2L277.6 299.4L278.6 295.6L279.6 292.3L280.6 289.3L281.6 286.8L282.6 284.8L283.6 283.5L284.6 282.4L285.6 281.8L286.6 282.7L287.6 285.7L288.6 289.2L289.6 292L290.6 294.5L291.6 297.4L292.6 300.9L293.6 306L294.6 313.3L295.6 322.4L296.6 332.6L297.6 343.6L298.6 357.5L299.6 374.2L300.6 391.3L301.6 406L302.6 417L303.6 426.8L304.6 435.6L305.6 443.8L306.6 451.3L307.6 458.4L308.6 465.2L309.6 471.9L310.6 478.4L311.6 484.6L312.6 490.4L313.6 495.6L314.6 500L315.6 503.6L316.6 507L317.6 510.1L318.6 512.9L319.6 515.4L320.6 517.5L321.6 519.2L322.6 520.6L323.6 521.9L324.6 523.2L325.6 524.3L326.6 525.3L327.6 526.1L328.6 526.7L329.6 527L330.6 527L331.6 526.7L332.6 526.1L333.6 525.4L334.6 524.5L335.6 523.5L336.6 522.5L337.6 521.2L338.6 519.6L339.6 517.7L340.6 515.6L341.6 513.3L342.6 511L343.6 508.4L344.6 505.6L345.6 502.5L346.6 499.3L347.6 496L348.6 492.6L349.6 489.2L350.6 485.7L351.6 482.1L352.6 478.3L353.6 474.6L354.6 470.9L355.6 467.3L356.6 463.8L357.6 460.2L358.6 456.6L359.6 453.1L360.6 449.7L361.6 446.4L362.6 443.4L363.6 440.6L364.6 437.9L365.6 435.3L366.6 432.8L367.6 430.4L368.6 428.3L369.6 426.5L370.6 425.1L371.6 423.9L372.6 422.7L373.6 421.6L374.6 420.6L375.6 419.7L376.6 419L377.6 418.4L378.6 418.1L379.6 418L380.6 418.3L381.6 419.2L382.6 420.6L383.6 422.2L384.6 424L385.6 425.8L386.6 427.6L387.6 429.7L388.6 432.1L389.6 434.6L390.6 437.2L391.6 439.8L392.6 442.5L393.6 445.3L394.6 448.1L395.6 450.8L396.6 453.5L397.6 456.1L398.6 458.7L399.6 461.3L400.6 463.8L401.6 466.1L402.6 468.4L403.6 470.7L404.6 472.9L405.6 475L406.6 476.9L407.6 478.5L408.6 480.1L409.6 481.6L410.6 483L411.6 484.1L412.6 484.9L413.6 485.5L414.6 486L415.6 486.5L416.6 486.9L417.6 487.1L418.6 487.2L419.6 487.2L420.6 486.8L421.6 486.3L422.6 485.5L423.6 484.7L424.6 483.8L425.6 482.9L426.6 482L427.6 480.9L428.6 479.7L429.6 478.3L430.6 476.9L431.6 475.4L432.6 473.9L433.6 472.4L434.6 470.8L435.6 469.3L436.6 467.6L437.6 465.9L438.6 464.1L439.6 462.3L440.6 460.5L441.6 458.6L442.6 456.9L443.6 455.1L444.6 453.2L445.6 451.3L446.6 449.4L447.6 447.6L448.6 445.8L449.6 444.2L450.6 442.7L451.6 441.4L452.6 440.1L453.6 438.8L454.6 437.6L455.6 436.4L456.6 435.2L457.6 434.2L458.6 433.1L459.6 432.2L460.6 431.2L461.6 430.4L462.6 429.6L463.6 428.8L464.6 428L465.6 427.2L466.6 426.4L467.6 425.6L468.6 424.9L469.6 424.2L470.6 423.7L471.6 423.2L472.6 422.9L473.6 422.8L474.6 422.8L475.6 423L476.6 423.3L477.6 423.7L478.6 424.2L479.6 424.8L480.6 425.4L481.6 426L482.6 426.5L483.6 427.1L484.6 427.8L485.6 428.5L486.6 429.3L487.6 430L488.6 430.8L489.6 431.5L490.6 432.2L491.6 432.8L492.6 433.4L493.6 434L494.6 434.6L495.6 435.2L496.6 435.7L497.6 436.2L498.6 436.6L499.6 437L500.6 437.3L501.6 437.6L502.6 437.9L503.6 438.2L504.6 438.5L505.6 438.6L506.6 438.8L507.6 438.8L508.6 438.7L509.6 438.5L510.6 438.3L511.6 437.9L512.6 437.5L513.6 437L514.6 436.5L515.6 436L516.6 435.5L517.6 435L518.6 434.4L519.6 433.8L520.6 433.2L521.6 432.4L522.6 431.7L523.6 431L524.6 430.3L525.6 429.6L526.6 428.9L527.6 428.2L528.6 427.6L529.6 427L530.6 426.4L531.6 425.8L532.6 425.2L533.6 424.6L534.6 424.1L535.6 423.6L536.6 423.1L537.6 422.6L538.6 422.3L539.6 421.9L540.6 421.6L541.6 421.3L542.6 421L543.6 420.7L544.6 420.5L545.6 420.3L546.6 420.2L547.6 420.1L548.6 420.1L549.6 420.1L550.6 420.1L551.6 420.1L552.6 420.1L553.6 420.1L554.6 420.1L555.6 420.2L556.6 420.2L557.6 420.2L558.6 420.3L559.6 420.3L560.6 420.3L561.6 420.3L562.6 420.4L563.6 420.4L564.6 420.4L565.6 420.5L566.6 420.5L567.6 420.5L568.6 420.5L569.6 420.5L570.6 420.5L571.6 420.5L572.6 420.5L573.6 420.5L574.6 420.5L575.6 420.5L576.6 420.5L577.6 420.5L578.6 420.5L579.6 420.5L580.6 420.5L581.6 420.5L582.6 420.5L583.6 420.5L584.6 420.5L585.6 420.5L586.6 420.5L587.6 420.5L588.6 420.5L589.6 420.5L590.6 420.5L591.6 420.5L592.6 420.5L593.6 420.5L594.6 420.5L595.6 420.4L596.6 420.3L597.6 420.2L598.6 420.1L599.6 420L600.6 419.8L601.6 419.7L602.6 419.5L603.6 419.3L604.6 419.2L605.6 419L606.6 418.8L607.6 418.6L608.6 418.5L609.6 418.3L610.6 418.2L611.6 418.1L612.6 417.9L613.6 417.8L614.6 417.6L615.6 417.5L616.6 417.3L617.6 417.2L618.6 417.1L619.6 417L620.6 416.9L621.6 416.8L622.6 416.8L623.6 416.8L624.6 416.8L625.6 416.8L626.6 416.9L627.6 417L628.6 417.1L629.6 417.3L630.6 417.4L631.6 417.6L632.6 417.7L633.6 417.9L634.6 418L635.6 418.2L636.6 418.4L637.6 418.6L638.6 418.8L639.6 419L640.6 419.3L641.6 419.5L642.6 419.8L643.6 420L644.6 420.2L645.6 420.3L646.6 420.4L647.6 420.5L648.6 420.5L649.6 420.5L650.6 420.5L651.6 420.4L652.6 420.4L653.6 420.3L654.6 420.3L655.6 420.2L656.6 420.2L657.6 420.1L658.6 420L659.6 419.9L660.6 419.9L661.6 419.8L662.6 419.7L663.6 419.6L664.6 419.5L665.6 419.5L666.6 419.4L667.6 419.3L668.6 419.2L669.6 419.2L670.6 419.1L671.6 419.1L672.6 419L673.6 419L674.6 418.9L675.6 418.9L676.6 418.9L677.6 418.8L678.6 418.8L679.6 418.7L680.6 418.7L681.6 418.7L682.6 418.6L683.6 418.6L684.6 418.6L685.6 418.6L686.6 418.5L687.6 418.5L688.6 418.5L689.6 418.4L690.6 418.4L691.6 418.4L692.6 418.3L693.6 418.3L694.6 418.3L695.6 418.2L696.6 418.2L697.6 418.2L698.6 418.1L699.6 418.1L700.6 418.1L701.6 418L702.6 418L703.6 417.9L704.6 417.9L705.6 417.8L706.6 417.8L707.6 417.8L708.6 417.7L709.6 417.7L710.6 417.6L711.6 417.6L712.6 417.6L713.6 417.6L714.6 417.5L715.6 417.5L716.6 417.5L717.6 417.5L718.6 417.5L719.6 417.5L720.6 417.5L721.6 417.5L722.6 417.6L723.6 417.6L724.6 417.6L725.6 417.7L726.6 417.7L727.6 417.8L728.6 417.8L729.6 417.9L730.6 417.9L731.6 418L732.6 418.1L733.6 418.1L734.6 418.2L735.6 418.3L736.6 418.4L737.6 418.5L738.6 418.7L739.6 418.9L740.6 419.1L741.6 419.4L742.6 419.6L743.6 419.9L744.6 420.1L745.6 420.3L746.6 420.5L747.6 420.7L748.6 420.8L749.6 421L750.6 421.2L751.6 421.4L752.6 421.6L753.6 421.8L754.6 421.9L755.6 422L756.6 422.1L757.6 422.1L758.6 422.1L759.6 422.1L760.6 422L761.6 421.9L762.6 421.7L763.6 421.5L764.6 421.3L765.6 421.1L766.6 420.9L767.6 420.8L768.6 420.6L769.6 420.5L770.6 420.3L771.6 420.2L772.6 420.1L773.6 419.9L774.6 419.8L775.6 419.7L776.6 419.5L777.6 419.4L778.6 419.2L779.6 419.1L780.6 419L781.6 418.9L782.6 418.8L783.6 418.7L784.6 418.6L785.6 418.5L786.6 418.4L787.6 418.3L788.6 418.3L789.6 418.3L790.6 418.3L791.6 418.3L792.6 418.3L793.6 418.3L794.6 418.3L795.6 418.3L796.6 418.3L797.6 418.3L798.6 418.4L799.6 418.4L800.6 418.4L801.6 418.5L802.6 418.5L803.6 418.5L804.6 418.6L805.6 418.6L806.6 418.7L807.6 418.7L808.6 418.7L809.6 418.8L810.6 418.8L811.6 418.9L812.6 418.9L813.6 419L814.6 419L815.6 419L816.6 419.1L817.6 419.1L818.6 419.1L819.6 419.2L820.6 419.2L821.6 419.3L822.6 419.3L823.6 419.3L824.6 419.4L825.6 419.4L826.6 419.5L827.6 419.5L828.6 419.6L829.6 419.6L830.6 419.7L831.6 419.7L832.6 419.8L833.6 419.9L834.6 419.9L835.6 420L836.6 420.1L837.6 420.2L838.6 420.2L839.6 420.3L840.6 420.4L841.6 420.5L842.6 420.6L843.6 420.7L844.6 420.8L845.6 420.9L846.6 421L847.6 421.1L848.6 421.3L849.6 421.4L850.6 421.5L851.6 421.6L852.6 421.7L853.6 421.9L854.6 422" fill="none" stroke="#333333" stroke-width="4.5" stroke-linejoin="round"/>
<path d="M144.6 402.5L145.6 409.2L146.6 415.9L147.6 422.3L148.6 428.6L149.6 434.8L150.6 440.8L151.6 446.6L152.6 452.2L153.6 457.6L154.6 463.1L155.6 468.5L156.6 473.8L157.6 479L158.6 484L159.6 488.7L160.6 493L161.6 496.9L162.6 500.3L163.6 503.4L164.6 506.3L165.6 509.1L166.6 511.6L167.6 514.1L168.6 516.4L169.6 518.6L170.6 520.7L171.6 522.7L172.6 524.7L173.6 526.6L174.6 528.5L175.6 530.4L176.6 532.2L177.6 534L178.6 535.7L179.6 537.3L180.6 538.9L181.6 540.4L182.6 541.8L183.6 543.2L184.6 544.5L185.6 545.8L186.6 547L187.6 548.2L188.6 549.4L189.6 550.5L190.6 551.6L191.6 552.7L192.6 553.7L193.6 554.6L194.6 555.6L195.6 556.4L196.6 557.2L197.6 557.9L198.6 558.5L199.6 559.1L200.6 559.7L201.6 560.3L202.6 560.9L203.6 561.5L204.6 562L205.6 562.5L206.6 562.9L207.6 563.3L208.6 563.7L209.6 563.9L210.6 564.1L211.6 564.2L212.6 564.2L213.6 564.2L214.6 564.1L215.6 564L216.6 563.8L217.6 563.7L218.6 563.5L219.6 563.3L220.6 563.1L221.6 562.9L222.6 562.6L223.6 562.4L224.6 562.1L225.6 561.8L226.6 561.4L227.6 560.9L228.6 560.4L229.6 559.8L230.6 559.2L231.6 558.5L232.6 557.8L233.6 557L234.6 556.2L235.6 555.2L236.6 554.1L237.6 552.9L238.6 551.5L239.6 549.9L240.6 548.3L241.6 546.5L242.6 544.7L243.6 542.8L244.6 540.8L245.6 538.6L246.6 536.2L247.6 533.7L248.6 530.9L249.6 527.9L250.6 524.7L251.6 521.3L252.6 517.7L253.6 513.6L254.6 509L255.6 503.9L256.6 498.4L257.6 492.6L258.6 486.5L259.6 480.4L260.6 474.2L261.6 467.9L262.6 461.2L263.6 453.9L264.6 445.7L265.6 436.4L266.6 425.2L267.6 410.3L268.6 392.9L269.6 374.4L270.6 356.2L271.6 337.6L272.6 317.6L273.6 298L274.6 280.9L275.6 267.3L276.6 255.3L277.6 245.2L278.6 237.9L279.6 232.4L280.6 227.8L281.6 224L282.6 221.1L283.6 218.5L284.6 216.2L285.6 214.6L286.6 214.3L287.6 215.5L288.6 217.6L289.6 219.8L290.6 222L291.6 224.7L292.6 228.2L293.6 233.6L294.6 243.7L295.6 257.1L296.6 272.3L297.6 287.7L298.6 304.9L299.6 324.1L300.6 343.3L301.6 362L302.6 381.1L303.6 399L304.6 413.8L305.6 426.2L306.6 437.2L307.6 447.3L308.6 457.1L309.6 466.1L310.6 474.3L311.6 481.5L312.6 488.1L313.6 494L314.6 499.5L315.6 504.5L316.6 509.4L317.6 514.1L318.6 518.1L319.6 521.5L320.6 523.9L321.6 526.1L322.6 528.1L323.6 529.8L324.6 531.3L325.6 532.4L326.6 533.2L327.6 533.8L328.6 534.4L329.6 534.9L330.6 535.4L331.6 535.7L332.6 535.9L333.6 536L334.6 535.8L335.6 535.4L336.6 534.8L337.6 534.1L338.6 533.3L339.6 532.4L340.6 531.5L341.6 530.5L342.6 529.4L343.6 528.1L344.6 526.7L345.6 525.1L346.6 523.2L347.6 521.1L348.6 518.4L349.6 515.1L350.6 511.4L351.6 507.4L352.6 503.2L353.6 498.9L354.6 494.7L355.6 490.4L356.6 486L357.6 481.3L358.6 476.5L359.6 471.6L360.6 466.4L361.6 461.1L362.6 455.6L363.6 449.9L364.6 443.7L365.6 437.3L366.6 430.7L367.6 424.1L368.6 417.7L369.6 411L370.6 404.2L371.6 397.4L372.6 391L373.6 385.2L374.6 380L375.6 374.9L376.6 370.2L377.6 366.3L378.6 363.5L379.6 361.6L380.6 359.9L381.6 358.5L382.6 357.5L383.6 357.1L384.6 357.4L385.6 358.5L386.6 360.1L387.6 362.2L388.6 364.4L389.6 367.1L390.6 370.9L391.6 375.4L392.6 380.3L393.6 386.3L394.6 393L395.6 399.6L396.6 405.9L397.6 412.3L398.6 418.7L399.6 424.8L400.6 430.7L401.6 436.4L402.6 442L403.6 447.7L404.6 453.5L405.6 459.3L406.6 464.9L407.6 469.9L408.6 474.9L409.6 479.6L410.6 483.7L411.6 487.1L412.6 490.2L413.6 493.2L414.6 496L415.6 498.5L416.6 500.6L417.6 502.2L418.6 503.2L419.6 504L420.6 504.8L421.6 505.4L422.6 506L423.6 506.5L424.6 506.9L425.6 507.1L426.6 507.2L427.6 507L428.6 506.5L429.6 505.6L430.6 504.6L431.6 503.3L432.6 501.9L433.6 500.4L434.6 498.9L435.6 497.2L436.6 495.1L437.6 492.7L438.6 490L439.6 487L440.6 484.1L441.6 481.1L442.6 478.2L443.6 475.3L444.6 472.3L445.6 469.2L446.6 466.1L447.6 463L448.6 459.9L449.6 456.8L450.6 453.7L451.6 450.7L452.6 447.7L453.6 444.6L454.6 441.6L455.6 438.7L456.6 435.7L457.6 432.8L458.6 430L459.6 427L460.6 424.1L461.6 421.1L462.6 418.2L463.6 415.5L464.6 413.1L465.6 410.9L466.6 409.1L467.6 407.2L468.6 405.4L469.6 403.6L470.6 401.9L471.6 400.4L472.6 399L473.6 397.9L474.6 397.1L475.6 396.6L476.6 396.5L477.6 396.7L478.6 397.1L479.6 397.7L480.6 398.5L481.6 399.5L482.6 400.5L483.6 401.7L484.6 403L485.6 404.3L486.6 406.1L487.6 408.6L488.6 411.5L489.6 414.6L490.6 417.6L491.6 420.5L492.6 423.5L493.6 426.7L494.6 429.9L495.6 433.1L496.6 436.1L497.6 438.8L498.6 441.3L499.6 443.7L500.6 446L501.6 448.2L502.6 450.2L503.6 452.1L504.6 453.9L505.6 455.5L506.6 457L507.6 458.5L508.6 460L509.6 461.2L510.6 462.4L511.6 463.3L512.6 464L513.6 464.5L514.6 464.9L515.6 465.4L516.6 465.8L517.6 466.1L518.6 466.3L519.6 466.4L520.6 466.4L521.6 466.2L522.6 465.8L523.6 465.4L524.6 464.8L525.6 464.2L526.6 463.5L527.6 462.8L528.6 462L529.6 461.1L530.6 460.1L531.6 458.9L532.6 457.5L533.6 456.1L534.6 454.6L535.6 453.1L536.6 451.6L537.6 450.1L538.6 448.6L539.6 447.2L540.6 445.7L541.6 444.2L542.6 442.7L543.6 441.2L544.6 439.6L545.6 438L546.6 436.5L547.6 434.9L548.6 433.4L549.6 431.9L550.6 430.4L551.6 429L552.6 427.7L553.6 426.5L554.6 425.2L555.6 424L556.6 422.7L557.6 421.5L558.6 420.4L559.6 419.4L560.6 418.5L561.6 417.8L562.6 417.2L563.6 416.7L564.6 416.2L565.6 415.7L566.6 415.2L567.6 414.8L568.6 414.5L569.6 414.2L570.6 414.1L571.6 414.1L572.6 414.1L573.6 414.3L574.6 414.5L575.6 414.8L576.6 415.1L577.6 415.5L578.6 415.9L579.6 416.4L580.6 416.9L581.6 417.3L582.6 417.8L583.6 418.4L584.6 419.1L585.6 419.9L586.6 420.7L587.6 421.6L588.6 422.5L589.6 423.4L590.6 424.3L591.6 425.2L592.6 426L593.6 426.7L594.6 427.4L595.6 428.1L596.6 428.9L597.6 429.6L598.6 430.3L599.6 430.9L600.6 431.6L601.6 432.2L602.6 432.8L603.6 433.4L604.6 434L605.6 434.5L606.6 435L607.6 435.6L608.6 436.1L609.6 436.6L610.6 437L611.6 437.4L612.6 437.7L613.6 437.8L614.6 437.9L615.6 438L616.6 438.1L617.6 438.2L618.6 438.3L619.6 438.3L620.6 438.3L621.6 438.3L622.6 438.3L623.6 438.2L624.6 438.1L625.6 437.9L626.6 437.8L627.6 437.6L628.6 437.3L629.6 437.1L630.6 436.9L631.6 436.7L632.6 436.4L633.6 436L634.6 435.6L635.6 435.2L636.6 434.7L637.6 434.3L638.6 433.8L639.6 433.3L640.6 432.8L641.6 432.3L642.6 431.8L643.6 431.4L644.6 430.9L645.6 430.5L646.6 430L647.6 429.5L648.6 429L649.6 428.5L650.6 428L651.6 427.5L652.6 427L653.6 426.5L654.6 426L655.6 425.6L656.6 425.1L657.6 424.7L658.6 424.3L659.6 424L660.6 423.7L661.6 423.5L662.6 423.2L663.6 423L664.6 422.8L665.6 422.6L666.6 422.4L667.6 422.2L668.6 422L669.6 421.8L670.6 421.7L671.6 421.5L672.6 421.4L673.6 421.3L674.6 421.2L675.6 421.1L676.6 421.1L677.6 421.1L678.6 421.1L679.6 421.2L680.6 421.3L681.6 421.4L682.6 421.5L683.6 421.7L684.6 421.9L685.6 422.1L686.6 422.3L687.6 422.5L688.6 422.7L689.6 422.9L690.6 423.1L691.6 423.3L692.6 423.5L693.6 423.7L694.6 423.9L695.6 424.1L696.6 424.3L697.6 424.6L698.6 424.8L699.6 425.1L700.6 425.3L701.6 425.6L702.6 425.8L703.6 426.1L704.6 426.3L705.6 426.6L706.6 426.8L707.6 427L708.6 427.2L709.6 427.3L710.6 427.5L711.6 427.6L712.6 427.7L713.6 427.7L714.6 427.7L715.6 427.7L716.6 427.8L717.6 427.8L718.6 427.8L719.6 427.8L720.6 427.8L721.6 427.8L722.6 427.9L723.6 427.9L724.6 427.9L725.6 427.9L726.6 427.9L727.6 427.9L728.6 427.9L729.6 427.9L730.6 428L731.6 428L732.6 428L733.6 428L734.6 428L735.6 428L736.6 428L737.6 428L738.6 428L739.6 428L740.6 428L741.6 428L742.6 428L743.6 428L744.6 428L745.6 428L746.6 428L747.6 427.9L748.6 427.9L749.6 427.9L750.6 427.9L751.6 427.9L752.6 427.8L753.6 427.8L754.6 427.8L755.6 427.8L756.6 427.7L757.6 427.7L758.6 427.7L759.6 427.6L760.6 427.6L761.6 427.5L762.6 427.5L763.6 427.5L764.6 427.4L765.6 427.4L766.6 427.4L767.6 427.3L768.6 427.3L769.6 427.2L770.6 427.2L771.6 427.1L772.6 427.1L773.6 427L774.6 426.9L775.6 426.8L776.6 426.7L777.6 426.6L778.6 426.5L779.6 426.5L780.6 426.4L781.6 426.3L782.6 426.2L783.6 426.1L784.6 426L785.6 425.9L786.6 425.9L787.6 425.8L788.6 425.8L789.6 425.8L790.6 425.8L791.6 425.8L792.6 425.8L793.6 425.8L794.6 425.8L795.6 425.8L796.6 425.8L797.6 425.8L798.6 425.9L799.6 425.9L800.6 425.9L801.6 426L802.6 426L803.6 426.1L804.6 426.1L805.6 426.1L806.6 426.2L807.6 426.2L808.6 426.3L809.6 426.3L810.6 426.3L811.6 426.4L812.6 426.4L813.6 426.5L814.6 426.5L815.6 426.5L816.6 426.6L817.6 426.6L818.6 426.6L819.6 426.7L820.6 426.7L821.6 426.8L822.6 426.8L823.6 426.9L824.6 426.9L825.6 426.9L826.6 427L827.6 427L828.6 427.1L829.6 427.1L830.6 427.1L831.6 427.2L832.6 427.2L833.6 427.2L834.6 427.2L835.6 427.2L836.6 427.2L837.6 427.2L838.6 427.2L839.6 427.2L840.6 427.2L841.6 427.2L842.6 427.2L843.6 427.2L844.6 427.2L845.6 427.2L846.6 427.2L847.6 427.2L848.6 427.2L849.6 427.2L850.6 427.2L851.6 427.2L852.6 427.2L853.6 427.2L854.6 427.2" fill="none" stroke="#ee0000" stroke-width="5.5" stroke-linejoin="round"/>
<path d="M144.6 144.5V594.5H854.6" fill="none" stroke="#000" stroke-width="4" stroke-linecap="square"/>
<line x1="134.1" y1="594.5" x2="144.6" y2="594.5" stroke="#000" stroke-width="4"/>
<text x="117.5" y="608.5" font-size="38.5" text-anchor="end">0</text>
<line x1="134.1" y1="444.5" x2="144.6" y2="444.5" stroke="#000" stroke-width="4"/>
<text x="117.5" y="458.5" font-size="38.5" text-anchor="end">1</text>
<line x1="134.1" y1="294.5" x2="144.6" y2="294.5" stroke="#000" stroke-width="4"/>
<text x="117.5" y="308.5" font-size="38.5" text-anchor="end">2</text>
<line x1="134.1" y1="144.5" x2="144.6" y2="144.5" stroke="#000" stroke-width="4"/>
<text x="117.5" y="158.5" font-size="38.5" text-anchor="end">3</text>
<line x1="144.6" y1="594.5" x2="144.6" y2="605.5" stroke="#000" stroke-width="4"/>
<line x1="286.6" y1="594.5" x2="286.6" y2="605.5" stroke="#000" stroke-width="4"/>
<line x1="428.6" y1="594.5" x2="428.6" y2="605.5" stroke="#000" stroke-width="4"/>
<line x1="570.6" y1="594.5" x2="570.6" y2="605.5" stroke="#000" stroke-width="4"/>
<line x1="712.6" y1="594.5" x2="712.6" y2="605.5" stroke="#000" stroke-width="4"/>
<line x1="854.6" y1="594.5" x2="854.6" y2="605.5" stroke="#000" stroke-width="4"/>
<text x="286.6" y="640.5" font-size="38.5" text-anchor="middle">0</text>
<text x="570.6" y="640.5" font-size="38.5" text-anchor="middle">500</text>
<text x="854.6" y="640.5" font-size="38.5" text-anchor="middle">1000</text>
<text x="500.3" y="678.4" font-size="44" text-anchor="middle" textLength="723.4" lengthAdjust="spacingAndGlyphs">Position relative to +1 nucleosome (bp)</text>
<text transform="translate(75.6,368.5) rotate(-90)" font-size="44.5" text-anchor="middle" textLength="482" lengthAdjust="spacingAndGlyphs">Nucleosome dyad density</text>
<line x1="555.5" y1="192.7" x2="591.7" y2="192.7" stroke="#999999" stroke-width="7.6" stroke-linecap="round"/>
<text x="628.4" y="207.4" font-size="43" textLength="61.8" lengthAdjust="spacingAndGlyphs">WT</text>
<line x1="555.5" y1="240.9" x2="591.7" y2="240.9" stroke="#333333" stroke-width="7.6" stroke-linecap="round"/>
<text x="628.4" y="256" font-size="43" textLength="79.1" lengthAdjust="spacingAndGlyphs">TKO</text>
<line x1="555.5" y1="289" x2="591.7" y2="289" stroke="#ee0000" stroke-width="7.6" stroke-linecap="round"/>
<text x="628.4" y="304" font-size="43" textLength="214" lengthAdjust="spacingAndGlyphs">TKO – Pol II</text>
<path d="M144.6 1921.4L145.6 1927.4L146.6 1933.4L147.6 1939.3L148.6 1945.2L149.6 1951L150.6 1956.7L151.6 1962.4L152.6 1968L153.6 1973.6L154.6 1979.3L155.6 1985L156.6 1990.8L157.6 1996.4L158.6 2002L159.6 2007.3L160.6 2012.3L161.6 2017L162.6 2021.2L163.6 2025.1L164.6 2028.8L165.6 2032.4L166.6 2035.9L167.6 2039.2L168.6 2042.3L169.6 2045.2L170.6 2047.9L171.6 2050.4L172.6 2052.6L173.6 2054.6L174.6 2056.4L175.6 2058.1L176.6 2059.7L177.6 2061.2L178.6 2062.7L179.6 2064L180.6 2065.3L181.6 2066.6L182.6 2067.8L183.6 2069L184.6 2070.2L185.6 2071.5L186.6 2072.7L187.6 2073.9L188.6 2075.2L189.6 2076.4L190.6 2077.6L191.6 2078.7L192.6 2079.9L193.6 2081L194.6 2082.1L195.6 2083.1L196.6 2084.1L197.6 2085L198.6 2085.8L199.6 2086.6L200.6 2087.4L201.6 2088L202.6 2088.7L203.6 2089.3L204.6 2090L205.6 2090.6L206.6 2091.2L207.6 2091.7L208.6 2092.3L209.6 2092.7L210.6 2093.1L211.6 2093.5L212.6 2093.7L213.6 2093.9L214.6 2093.9L215.6 2093.9L216.6 2093.8L217.6 2093.7L218.6 2093.6L219.6 2093.4L220.6 2093.2L221.6 2093L222.6 2092.8L223.6 2092.5L224.6 2092.2L225.6 2091.8L226.6 2091.1L227.6 2090.3L228.6 2089.3L229.6 2088.2L230.6 2087L231.6 2085.7L232.6 2084.4L233.6 2083L234.6 2081.5L235.6 2079.9L236.6 2078.2L237.6 2076.2L238.6 2074L239.6 2071.7L240.6 2069.2L241.6 2066.5L242.6 2063.7L243.6 2060.6L244.6 2057.4L245.6 2053.8L246.6 2049.7L247.6 2045.2L248.6 2040.4L249.6 2035.3L250.6 2029.9L251.6 2024.3L252.6 2018.4L253.6 2012L254.6 2004.9L255.6 1997.2L256.6 1989.1L257.6 1980.9L258.6 1972.5L259.6 1964.2L260.6 1956.3L261.6 1948.5L262.6 1940.6L263.6 1932.1L264.6 1922.9L265.6 1912.6L266.6 1900.9L267.6 1886.6L268.6 1870.3L269.6 1852.4L270.6 1833.6L271.6 1814.1L272.6 1790.6L273.6 1765.9L274.6 1744.9L275.6 1730.7L276.6 1719.2L277.6 1709.9L278.6 1702.8L279.6 1697L280.6 1692L281.6 1687.9L282.6 1684.5L283.6 1681.3L284.6 1678.4L285.6 1676.3L286.6 1675.9L287.6 1676.7L288.6 1678.4L289.6 1680.5L290.6 1682.9L291.6 1686.2L292.6 1690.6L293.6 1696.1L294.6 1703.8L295.6 1716.8L296.6 1733.3L297.6 1750.5L298.6 1769.5L299.6 1790.7L300.6 1812.4L301.6 1832.7L302.6 1850.7L303.6 1868L304.6 1884.6L305.6 1900.4L306.6 1915.1L307.6 1928.7L308.6 1941.2L309.6 1953.1L310.6 1964.2L311.6 1974.6L312.6 1984.2L313.6 1993L314.6 2001.4L315.6 2009.5L316.6 2017L317.6 2024.1L318.6 2030.5L319.6 2036.3L320.6 2041.5L321.6 2046.4L322.6 2051.1L323.6 2055.3L324.6 2059.1L325.6 2062.1L326.6 2064.4L327.6 2066.4L328.6 2068.3L329.6 2070L330.6 2071.5L331.6 2072.7L332.6 2073.6L333.6 2074.1L334.6 2074L335.6 2073.5L336.6 2072.6L337.6 2071.3L338.6 2069.8L339.6 2068L340.6 2066.1L341.6 2064.1L342.6 2061.7L343.6 2058.5L344.6 2054.6L345.6 2050.1L346.6 2045.1L347.6 2039.8L348.6 2034.2L349.6 2028.4L350.6 2021.9L351.6 2014.5L352.6 2006.4L353.6 1997.8L354.6 1988.8L355.6 1979.6L356.6 1970.4L357.6 1961.1L358.6 1951.6L359.6 1941.7L360.6 1931.5L361.6 1921L362.6 1910.3L363.6 1899.4L364.6 1888.2L365.6 1876.7L366.6 1863.9L367.6 1850.3L368.6 1836.2L369.6 1822.2L370.6 1808.6L371.6 1795.8L372.6 1784.4L373.6 1774.8L374.6 1767L375.6 1759.9L376.6 1753.7L377.6 1748.4L378.6 1744.5L379.6 1741.2L380.6 1738.2L381.6 1735.7L382.6 1733.9L383.6 1733.2L384.6 1733.6L385.6 1735.3L386.6 1737.7L387.6 1740.6L388.6 1743.7L389.6 1746.9L390.6 1750.6L391.6 1755.1L392.6 1760.4L393.6 1766.5L394.6 1773.9L395.6 1785L396.6 1799.1L397.6 1814.7L398.6 1829.9L399.6 1845.6L400.6 1862.2L401.6 1879.1L402.6 1895.4L403.6 1910.4L404.6 1924.8L405.6 1938.6L406.6 1951.7L407.6 1963.6L408.6 1974.7L409.6 1985.3L410.6 1995.1L411.6 2003.7L412.6 2011L413.6 2017.9L414.6 2024.5L415.6 2030.7L416.6 2036.3L417.6 2041.4L418.6 2045.6L419.6 2049.1L420.6 2051.7L421.6 2054.1L422.6 2056.5L423.6 2058.6L424.6 2060.6L425.6 2062.2L426.6 2063.6L427.6 2064.5L428.6 2065L429.6 2065L430.6 2064.5L431.6 2063.5L432.6 2062L433.6 2060.2L434.6 2058L435.6 2055.7L436.6 2053.2L437.6 2050.6L438.6 2047.7L439.6 2044L440.6 2039.7L441.6 2034.7L442.6 2029.2L443.6 2023.3L444.6 2016.9L445.6 2010.3L446.6 2003.1L447.6 1994.5L448.6 1984.9L449.6 1974.4L450.6 1963.7L451.6 1952.8L452.6 1941.1L453.6 1928.4L454.6 1915.5L455.6 1902.9L456.6 1891.1L457.6 1880.7L458.6 1870.8L459.6 1861.2L460.6 1852.1L461.6 1843.6L462.6 1836.1L463.6 1829.6L464.6 1824.1L465.6 1818.8L466.6 1813.8L467.6 1809.2L468.6 1805.2L469.6 1801.9L470.6 1799.4L471.6 1797.8L472.6 1796.5L473.6 1795.3L474.6 1794.2L475.6 1793.5L476.6 1793L477.6 1792.9L478.6 1793.1L479.6 1793.7L480.6 1794.5L481.6 1795.6L482.6 1796.8L483.6 1798.3L484.6 1800.4L485.6 1803.8L486.6 1808.3L487.6 1813.8L488.6 1819.8L489.6 1826.2L490.6 1832.8L491.6 1839.4L492.6 1847.1L493.6 1855.6L494.6 1864.8L495.6 1874.3L496.6 1883.9L497.6 1893.2L498.6 1902.3L499.6 1911.7L500.6 1921.2L501.6 1930.7L502.6 1940.1L503.6 1949.2L504.6 1957.8L505.6 1966L506.6 1974.2L507.6 1982.4L508.6 1990.6L509.6 1998.5L510.6 2005.8L511.6 2012.4L512.6 2018.1L513.6 2022.6L514.6 2026.3L515.6 2029.9L516.6 2033.4L517.6 2036.6L518.6 2039.6L519.6 2042.2L520.6 2044.5L521.6 2046.2L522.6 2047.5L523.6 2048.1L524.6 2048L525.6 2047.3L526.6 2046L527.6 2044.1L528.6 2041.8L529.6 2039L530.6 2036L531.6 2032.7L532.6 2029.3L533.6 2025.7L534.6 2022.1L535.6 2017.5L536.6 2012L537.6 2005.6L538.6 1998.7L539.6 1991.3L540.6 1983.7L541.6 1976.1L542.6 1968.7L543.6 1961.5L544.6 1954.1L545.6 1946.2L546.6 1938L547.6 1929.8L548.6 1921.7L549.6 1914L550.6 1906.9L551.6 1900.5L552.6 1895L553.6 1890L554.6 1885.1L555.6 1880.4L556.6 1875.9L557.6 1871.8L558.6 1868L559.6 1864.6L560.6 1861.7L561.6 1859.3L562.6 1857.5L563.6 1855.7L564.6 1854L565.6 1852.3L566.6 1850.9L567.6 1849.6L568.6 1848.6L569.6 1847.8L570.6 1847.3L571.6 1847.2L572.6 1847.4L573.6 1847.9L574.6 1848.7L575.6 1849.8L576.6 1851.1L577.6 1852.7L578.6 1854.3L579.6 1856.1L580.6 1858L581.6 1860.2L582.6 1863.2L583.6 1866.9L584.6 1871.3L585.6 1876.1L586.6 1881.4L587.6 1886.9L588.6 1892.6L589.6 1898.4L590.6 1904.1L591.6 1910.3L592.6 1917.1L593.6 1924.5L594.6 1932.1L595.6 1939.8L596.6 1947.4L597.6 1954.5L598.6 1961L599.6 1966.9L600.6 1972.7L601.6 1978.3L602.6 1983.8L603.6 1989L604.6 1993.9L605.6 1998.3L606.6 2002.3L607.6 2005.6L608.6 2008.8L609.6 2011.9L610.6 2015L611.6 2017.9L612.6 2020.5L613.6 2022.8L614.6 2024.6L615.6 2026L616.6 2026.7L617.6 2026.8L618.6 2026.2L619.6 2025.1L620.6 2023.5L621.6 2021.5L622.6 2019.2L623.6 2016.6L624.6 2013.7L625.6 2010.8L626.6 2007.8L627.6 2004.8L628.6 2001.2L629.6 1996.9L630.6 1992L631.6 1986.7L632.6 1981.1L633.6 1975.6L634.6 1970.1L635.6 1965L636.6 1960.1L637.6 1955.2L638.6 1950.2L639.6 1945.2L640.6 1940.2L641.6 1935.4L642.6 1930.7L643.6 1926.3L644.6 1922.1L645.6 1918.3L646.6 1914.6L647.6 1911L648.6 1907.4L649.6 1903.9L650.6 1900.8L651.6 1897.9L652.6 1895.5L653.6 1893.6L654.6 1892.3L655.6 1891L656.6 1889.8L657.6 1888.7L658.6 1887.8L659.6 1887L660.6 1886.4L661.6 1886L662.6 1885.9L663.6 1886L664.6 1886.4L665.6 1887L666.6 1887.7L667.6 1888.7L668.6 1889.8L669.6 1891L670.6 1892.2L671.6 1893.6L672.6 1895.5L673.6 1897.9L674.6 1900.8L675.6 1904.1L676.6 1907.7L677.6 1911.4L678.6 1915.3L679.6 1919.2L680.6 1923.1L681.6 1926.8L682.6 1930.7L683.6 1934.9L684.6 1939.2L685.6 1943.7L686.6 1948.2L687.6 1952.7L688.6 1957L689.6 1961.1L690.6 1964.9L691.6 1968.4L692.6 1972L693.6 1975.5L694.6 1979L695.6 1982.3L696.6 1985.4L697.6 1988.2L698.6 1990.6L699.6 1992.6L700.6 1994.1L701.6 1995.6L702.6 1997L703.6 1998.3L704.6 1999.5L705.6 2000.6L706.6 2001.5L707.6 2002.2L708.6 2002.7L709.6 2002.8L710.6 2002.7L711.6 2002.4L712.6 2001.8L713.6 2001L714.6 1999.9L715.6 1998.8L716.6 1997.5L717.6 1996.1L718.6 1994.6L719.6 1993.1L720.6 1991.1L721.6 1988.4L722.6 1985.2L723.6 1981.7L724.6 1977.9L725.6 1974L726.6 1970.1L727.6 1966.5L728.6 1963.1L729.6 1959.9L730.6 1956.6L731.6 1953.3L732.6 1950L733.6 1946.8L734.6 1943.6L735.6 1940.6L736.6 1937.6L737.6 1934.9L738.6 1932.3L739.6 1929.6L740.6 1926.9L741.6 1924.4L742.6 1922L743.6 1919.9L744.6 1918.1L745.6 1916.8L746.6 1915.8L747.6 1914.7L748.6 1913.8L749.6 1912.9L750.6 1912.2L751.6 1911.7L752.6 1911.4L753.6 1911.4L754.6 1911.5L755.6 1911.9L756.6 1912.5L757.6 1913.3L758.6 1914.1L759.6 1915L760.6 1916L761.6 1917.1L762.6 1918.3L763.6 1920L764.6 1921.9L765.6 1924.1L766.6 1926.4L767.6 1928.9L768.6 1931.5L769.6 1934.1L770.6 1936.8L771.6 1939.3L772.6 1941.8L773.6 1944.4L774.6 1947.2L775.6 1950.1L776.6 1953.1L777.6 1956L778.6 1958.8L779.6 1961.4L780.6 1963.8L781.6 1965.9L782.6 1967.6L783.6 1969.4L784.6 1971L785.6 1972.6L786.6 1974.1L787.6 1975.5L788.6 1976.8L789.6 1977.9L790.6 1978.8L791.6 1979.6L792.6 1980.2L793.6 1980.7L794.6 1981.2L795.6 1981.7L796.6 1982.1L797.6 1982.4L798.6 1982.7L799.6 1982.9L800.6 1983L801.6 1983L802.6 1982.9L803.6 1982.6L804.6 1982.2L805.6 1981.7L806.6 1981.1L807.6 1980.4L808.6 1979.7L809.6 1978.9L810.6 1978.1L811.6 1977.1L812.6 1975.7L813.6 1974.1L814.6 1972.3L815.6 1970.4L816.6 1968.3L817.6 1966.2L818.6 1964.2L819.6 1962.1L820.6 1960.3L821.6 1958.4L822.6 1956.4L823.6 1954.4L824.6 1952.4L825.6 1950.3L826.6 1948.3L827.6 1946.4L828.6 1944.5L829.6 1942.8L830.6 1941.1L831.6 1939.6L832.6 1938L833.6 1936.6L834.6 1935.2L835.6 1933.9L836.6 1932.8L837.6 1931.9L838.6 1931L839.6 1930.2L840.6 1929.5L841.6 1929.1L842.6 1928.9L843.6 1929L844.6 1929.2L845.6 1929.5L846.6 1929.9L847.6 1930.3L848.6 1930.8L849.6 1931.3L850.6 1932L851.6 1932.8L852.6 1933.7L853.6 1934.6L854.6 1935.7L854.6 2113.4L144.6 2113.4Z" fill="#b3b3b3"/>
<path d="M144.6 1913.9L145.6 1920.2L146.6 1926.5L147.6 1932.8L148.6 1939L149.6 1945.1L150.6 1951.2L151.6 1957.3L152.6 1963.3L153.6 1969.3L154.6 1975.7L155.6 1982.4L156.6 1989.2L157.6 1995.8L158.6 2002.1L159.6 2008L160.6 2013.2L161.6 2017.5L162.6 2020.7L163.6 2023.3L164.6 2025.7L165.6 2028L166.6 2030L167.6 2031.8L168.6 2033.5L169.6 2035.1L170.6 2036.5L171.6 2037.9L172.6 2039.2L173.6 2040.3L174.6 2041.5L175.6 2042.6L176.6 2043.7L177.6 2044.8L178.6 2045.8L179.6 2046.8L180.6 2047.8L181.6 2048.7L182.6 2049.6L183.6 2050.5L184.6 2051.4L185.6 2052.2L186.6 2053L187.6 2053.7L188.6 2054.4L189.6 2055.1L190.6 2055.7L191.6 2056.3L192.6 2056.8L193.6 2057.3L194.6 2057.8L195.6 2058.2L196.6 2058.6L197.6 2059L198.6 2059.4L199.6 2059.7L200.6 2060.1L201.6 2060.4L202.6 2060.7L203.6 2061.1L204.6 2061.4L205.6 2061.7L206.6 2061.9L207.6 2062.2L208.6 2062.4L209.6 2062.6L210.6 2062.7L211.6 2062.8L212.6 2062.9L213.6 2063L214.6 2063L215.6 2063L216.6 2062.9L217.6 2062.8L218.6 2062.6L219.6 2062.4L220.6 2062.2L221.6 2062L222.6 2061.7L223.6 2061.3L224.6 2061L225.6 2060.6L226.6 2060.2L227.6 2059.8L228.6 2059.3L229.6 2058.8L230.6 2058.3L231.6 2057.8L232.6 2057.3L233.6 2056.8L234.6 2056.2L235.6 2055.6L236.6 2054.8L237.6 2054L238.6 2053L239.6 2051.9L240.6 2050.7L241.6 2049.4L242.6 2047.9L243.6 2046.4L244.6 2044.7L245.6 2042.9L246.6 2040.9L247.6 2038.4L248.6 2035.4L249.6 2032L250.6 2028.2L251.6 2024.1L252.6 2019.8L253.6 2015.1L254.6 2010.3L255.6 2005.3L256.6 2000.2L257.6 1994.9L258.6 1988.9L259.6 1982.4L260.6 1975.4L261.6 1967.9L262.6 1960.1L263.6 1952L264.6 1943.6L265.6 1935.1L266.6 1926.4L267.6 1916.6L268.6 1905.8L269.6 1894.5L270.6 1883L271.6 1871.8L272.6 1861.1L273.6 1851.5L274.6 1843.3L275.6 1836.6L276.6 1830.4L277.6 1824.7L278.6 1819.5L279.6 1815.1L280.6 1811.4L281.6 1808.3L282.6 1805.4L283.6 1802.8L284.6 1800.8L285.6 1799.9L286.6 1800.3L287.6 1801.8L288.6 1804L289.6 1806.3L290.6 1809L291.6 1812.6L292.6 1816.8L293.6 1821.9L294.6 1828.4L295.6 1836.1L296.6 1844.5L297.6 1853.4L298.6 1863.4L299.6 1874.8L300.6 1886.9L301.6 1899.5L302.6 1911.9L303.6 1923.7L304.6 1934.6L305.6 1945.7L306.6 1956.9L307.6 1967.7L308.6 1978L309.6 1987.2L310.6 1995.1L311.6 2001.4L312.6 2007.3L313.6 2012.7L314.6 2017.7L315.6 2022.3L316.6 2026.5L317.6 2030.4L318.6 2033.9L319.6 2037L320.6 2039.7L321.6 2042.2L322.6 2044.5L323.6 2046.5L324.6 2048.1L325.6 2049.3L326.6 2050.5L327.6 2051.6L328.6 2052.4L329.6 2052.9L330.6 2052.9L331.6 2052.7L332.6 2052.4L333.6 2051.9L334.6 2051.3L335.6 2050.7L336.6 2050L337.6 2049.2L338.6 2048.2L339.6 2047.1L340.6 2045.8L341.6 2044.4L342.6 2042.8L343.6 2040.8L344.6 2038.2L345.6 2035.2L346.6 2031.9L347.6 2028.5L348.6 2025L349.6 2021.7L350.6 2018.2L351.6 2014.7L352.6 2011.1L353.6 2007.3L354.6 2003.3L355.6 1999.2L356.6 1994.8L357.6 1990L358.6 1984.9L359.6 1979.6L360.6 1974.3L361.6 1969.1L362.6 1964L363.6 1958.8L364.6 1953.4L365.6 1948L366.6 1942.7L367.6 1937.8L368.6 1933.5L369.6 1930.2L370.6 1927.4L371.6 1924.9L372.6 1922.6L373.6 1920.7L374.6 1919.2L375.6 1918L376.6 1916.9L377.6 1915.9L378.6 1915.1L379.6 1914.6L380.6 1914.5L381.6 1914.9L382.6 1915.7L383.6 1916.8L384.6 1918.1L385.6 1919.5L386.6 1921.6L387.6 1924.1L388.6 1926.9L389.6 1929.9L390.6 1933.2L391.6 1937.1L392.6 1941.3L393.6 1945.8L394.6 1950.3L395.6 1954.8L396.6 1959L397.6 1963.4L398.6 1968L399.6 1972.5L400.6 1976.9L401.6 1980.9L402.6 1984.4L403.6 1987.2L404.6 1989.7L405.6 1992.1L406.6 1994.3L407.6 1996.3L408.6 1998.2L409.6 1999.9L410.6 2001.4L411.6 2002.7L412.6 2003.8L413.6 2004.8L414.6 2005.7L415.6 2006.7L416.6 2007.5L417.6 2008.4L418.6 2009.1L419.6 2009.8L420.6 2010.3L421.6 2010.8L422.6 2011.1L423.6 2011.2L424.6 2011.2L425.6 2010.9L426.6 2010.3L427.6 2009.5L428.6 2008.6L429.6 2007.5L430.6 2006.4L431.6 2005.2L432.6 2003.7L433.6 2001.6L434.6 1999.2L435.6 1996.6L436.6 1993.9L437.6 1991.1L438.6 1988.5L439.6 1986L440.6 1983.6L441.6 1981.2L442.6 1978.8L443.6 1976.4L444.6 1974.1L445.6 1971.7L446.6 1969.5L447.6 1967.4L448.6 1965.2L449.6 1963.1L450.6 1961L451.6 1959L452.6 1957.1L453.6 1955.3L454.6 1953.6L455.6 1952.1L456.6 1950.7L457.6 1949.3L458.6 1947.9L459.6 1946.7L460.6 1945.5L461.6 1944.4L462.6 1943.4L463.6 1942.6L464.6 1941.8L465.6 1941L466.6 1940.3L467.6 1939.5L468.6 1938.9L469.6 1938.3L470.6 1937.7L471.6 1937.3L472.6 1937L473.6 1936.9L474.6 1936.9L475.6 1937.2L476.6 1937.8L477.6 1938.6L478.6 1939.5L479.6 1940.6L480.6 1941.8L481.6 1943L482.6 1944.2L483.6 1945.3L484.6 1946.5L485.6 1947.8L486.6 1949.2L487.6 1950.8L488.6 1952.4L489.6 1953.9L490.6 1955.5L491.6 1956.9L492.6 1958.3L493.6 1959.5L494.6 1960.6L495.6 1961.8L496.6 1962.9L497.6 1964L498.6 1965.1L499.6 1966.1L500.6 1967.1L501.6 1968L502.6 1968.9L503.6 1969.7L504.6 1970.4L505.6 1971.1L506.6 1971.8L507.6 1972.4L508.6 1973.1L509.6 1973.7L510.6 1974.3L511.6 1974.9L512.6 1975.4L513.6 1975.8L514.6 1976.2L515.6 1976.4L516.6 1976.6L517.6 1976.6L518.6 1976.5L519.6 1976.3L520.6 1976L521.6 1975.6L522.6 1975.2L523.6 1974.7L524.6 1974.2L525.6 1973.7L526.6 1973.1L527.6 1972.6L528.6 1972.1L529.6 1971.5L530.6 1970.8L531.6 1970.1L532.6 1969.3L533.6 1968.5L534.6 1967.7L535.6 1966.8L536.6 1965.9L537.6 1965L538.6 1964.1L539.6 1963.1L540.6 1962L541.6 1961L542.6 1959.9L543.6 1958.9L544.6 1957.8L545.6 1956.8L546.6 1955.8L547.6 1954.8L548.6 1953.8L549.6 1952.8L550.6 1951.8L551.6 1951L552.6 1950.2L553.6 1949.5L554.6 1948.8L555.6 1948.1L556.6 1947.4L557.6 1946.8L558.6 1946.1L559.6 1945.5L560.6 1945L561.6 1944.5L562.6 1944.1L563.6 1943.8L564.6 1943.6L565.6 1943.5L566.6 1943.5L567.6 1943.5L568.6 1943.6L569.6 1943.8L570.6 1944L571.6 1944.2L572.6 1944.4L573.6 1944.7L574.6 1944.9L575.6 1945.2L576.6 1945.5L577.6 1945.9L578.6 1946.3L579.6 1946.8L580.6 1947.3L581.6 1947.8L582.6 1948.3L583.6 1948.8L584.6 1949.3L585.6 1949.7L586.6 1950.2L587.6 1950.6L588.6 1951.1L589.6 1951.5L590.6 1951.9L591.6 1952.3L592.6 1952.7L593.6 1953L594.6 1953.3L595.6 1953.7L596.6 1954L597.6 1954.4L598.6 1954.7L599.6 1955L600.6 1955.3L601.6 1955.4L602.6 1955.6L603.6 1955.6L604.6 1955.6L605.6 1955.5L606.6 1955.4L607.6 1955.2L608.6 1955L609.6 1954.8L610.6 1954.6L611.6 1954.4L612.6 1954.1L613.6 1953.9L614.6 1953.7L615.6 1953.5L616.6 1953.3L617.6 1953L618.6 1952.8L619.6 1952.5L620.6 1952.2L621.6 1952L622.6 1951.7L623.6 1951.5L624.6 1951.3L625.6 1951.1L626.6 1951L627.6 1950.8L628.6 1950.6L629.6 1950.5L630.6 1950.3L631.6 1950.2L632.6 1950.1L633.6 1949.9L634.6 1949.8L635.6 1949.7L636.6 1949.6L637.6 1949.5L638.6 1949.4L639.6 1949.3L640.6 1949.2L641.6 1949.1L642.6 1949L643.6 1948.9L644.6 1948.8L645.6 1948.8L646.6 1948.7L647.6 1948.6L648.6 1948.5L649.6 1948.5L650.6 1948.4L651.6 1948.3L652.6 1948.3L653.6 1948.2L654.6 1948.1L655.6 1948.1L656.6 1948L657.6 1947.9L658.6 1947.9L659.6 1947.8L660.6 1947.7L661.6 1947.7L662.6 1947.6L663.6 1947.6L664.6 1947.5L665.6 1947.4L666.6 1947.4L667.6 1947.3L668.6 1947.3L669.6 1947.2L670.6 1947.2L671.6 1947.2L672.6 1947.1L673.6 1947.1L674.6 1947.1L675.6 1947L676.6 1947L677.6 1947L678.6 1947L679.6 1946.9L680.6 1946.9L681.6 1946.9L682.6 1946.9L683.6 1946.9L684.6 1946.9L685.6 1946.9L686.6 1946.9L687.6 1946.9L688.6 1946.9L689.6 1946.9L690.6 1946.9L691.6 1946.9L692.6 1946.9L693.6 1947L694.6 1947L695.6 1947L696.6 1947L697.6 1947L698.6 1947L699.6 1947L700.6 1947.1L701.6 1947.1L702.6 1947.1L703.6 1947.1L704.6 1947.1L705.6 1947.1L706.6 1947.2L707.6 1947.2L708.6 1947.2L709.6 1947.2L710.6 1947.2L711.6 1947.3L712.6 1947.3L713.6 1947.3L714.6 1947.3L715.6 1947.3L716.6 1947.4L717.6 1947.4L718.6 1947.4L719.6 1947.4L720.6 1947.4L721.6 1947.4L722.6 1947.5L723.6 1947.5L724.6 1947.5L725.6 1947.5L726.6 1947.5L727.6 1947.5L728.6 1947.6L729.6 1947.6L730.6 1947.6L731.6 1947.6L732.6 1947.6L733.6 1947.6L734.6 1947.6L735.6 1947.6L736.6 1947.6L737.6 1947.6L738.6 1947.6L739.6 1947.6L740.6 1947.6L741.6 1947.6L742.6 1947.6L743.6 1947.6L744.6 1947.6L745.6 1947.6L746.6 1947.6L747.6 1947.6L748.6 1947.6L749.6 1947.6L750.6 1947.6L751.6 1947.6L752.6 1947.6L753.6 1947.6L754.6 1947.5L755.6 1947.5L756.6 1947.5L757.6 1947.5L758.6 1947.5L759.6 1947.5L760.6 1947.4L761.6 1947.4L762.6 1947.4L763.6 1947.4L764.6 1947.4L765.6 1947.3L766.6 1947.3L767.6 1947.3L768.6 1947.3L769.6 1947.3L770.6 1947.3L771.6 1947.2L772.6 1947.2L773.6 1947.2L774.6 1947.2L775.6 1947.2L776.6 1947.1L777.6 1947.1L778.6 1947.1L779.6 1947.1L780.6 1947.1L781.6 1947L782.6 1947L783.6 1947L784.6 1947L785.6 1947L786.6 1947L787.6 1947L788.6 1947L789.6 1946.9L790.6 1946.9L791.6 1946.9L792.6 1946.9L793.6 1946.9L794.6 1946.9L795.6 1946.9L796.6 1946.9L797.6 1946.9L798.6 1946.9L799.6 1946.9L800.6 1946.9L801.6 1946.9L802.6 1946.9L803.6 1946.9L804.6 1946.9L805.6 1946.9L806.6 1946.9L807.6 1946.9L808.6 1946.9L809.6 1946.9L810.6 1946.9L811.6 1946.9L812.6 1946.9L813.6 1946.9L814.6 1946.9L815.6 1946.9L816.6 1946.9L817.6 1946.9L818.6 1946.9L819.6 1946.9L820.6 1946.9L821.6 1946.9L822.6 1946.9L823.6 1946.9L824.6 1946.9L825.6 1946.9L826.6 1946.9L827.6 1946.9L828.6 1946.9L829.6 1946.9L830.6 1946.9L831.6 1946.9L832.6 1946.9L833.6 1946.9L834.6 1946.9L835.6 1947L836.6 1947L837.6 1947L838.6 1947.1L839.6 1947.1L840.6 1947.2L841.6 1947.3L842.6 1947.3L843.6 1947.4L844.6 1947.5L845.6 1947.6L846.6 1947.7L847.6 1947.8L848.6 1947.8L849.6 1947.9L850.6 1948L851.6 1948.1L852.6 1948.2L853.6 1948.3L854.6 1948.4" fill="none" stroke="#333333" stroke-width="4.5" stroke-linejoin="round"/>
<path d="M144.6 1907.8L145.6 1915.1L146.6 1922L147.6 1928.6L148.6 1934.7L149.6 1940.3L150.6 1945.3L151.6 1949.8L152.6 1953.9L153.6 1958.2L154.6 1962.9L155.6 1968.3L156.6 1974.6L157.6 1981.4L158.6 1988.4L159.6 1995.2L160.6 2001.6L161.6 2007.2L162.6 2011.7L163.6 2015.5L164.6 2019.1L165.6 2022.5L166.6 2025.6L167.6 2028.6L168.6 2031.4L169.6 2034L170.6 2036.4L171.6 2038.6L172.6 2040.6L173.6 2042.5L174.6 2044.2L175.6 2045.8L176.6 2047.3L177.6 2048.6L178.6 2049.9L179.6 2051.1L180.6 2052.3L181.6 2053.4L182.6 2054.5L183.6 2055.6L184.6 2056.7L185.6 2057.7L186.6 2058.8L187.6 2059.9L188.6 2060.9L189.6 2062L190.6 2063L191.6 2063.9L192.6 2064.8L193.6 2065.6L194.6 2066.4L195.6 2067.1L196.6 2067.7L197.6 2068.2L198.6 2068.8L199.6 2069.3L200.6 2069.7L201.6 2070.2L202.6 2070.6L203.6 2071L204.6 2071.4L205.6 2071.7L206.6 2072L207.6 2072.3L208.6 2072.6L209.6 2072.9L210.6 2073.2L211.6 2073.5L212.6 2073.7L213.6 2074L214.6 2074.1L215.6 2074.2L216.6 2074.2L217.6 2074.2L218.6 2074.2L219.6 2074.1L220.6 2074L221.6 2073.9L222.6 2073.7L223.6 2073.6L224.6 2073.4L225.6 2073.2L226.6 2073L227.6 2072.7L228.6 2072.3L229.6 2071.7L230.6 2071L231.6 2070.2L232.6 2069.3L233.6 2068.4L234.6 2067.4L235.6 2066.3L236.6 2065.1L237.6 2063.7L238.6 2062.2L239.6 2060.6L240.6 2058.9L241.6 2057.1L242.6 2055.3L243.6 2053.3L244.6 2051.2L245.6 2048.9L246.6 2046.5L247.6 2043.8L248.6 2040.9L249.6 2037.5L250.6 2033.8L251.6 2029.7L252.6 2025.3L253.6 2020.7L254.6 2015.8L255.6 2010.5L256.6 2004.8L257.6 1998.6L258.6 1991.9L259.6 1984.4L260.6 1975.7L261.6 1965.7L262.6 1955L263.6 1944L264.6 1932.8L265.6 1921.1L266.6 1908.8L267.6 1896.1L268.6 1883.1L269.6 1869.1L270.6 1854.6L271.6 1840.5L272.6 1827.4L273.6 1814.9L274.6 1802.8L275.6 1791.2L276.6 1779.1L277.6 1767.2L278.6 1757L279.6 1749.8L280.6 1744.7L281.6 1740.5L282.6 1737L283.6 1734.3L284.6 1731.9L285.6 1729.7L286.6 1728.2L287.6 1727.8L288.6 1728.6L289.6 1730.2L290.6 1732L291.6 1734.5L292.6 1738L293.6 1743.3L294.6 1751.7L295.6 1762.4L296.6 1774.3L297.6 1786.6L298.6 1800.9L299.6 1817L300.6 1832.9L301.6 1847.9L302.6 1862.7L303.6 1877.1L304.6 1890.6L305.6 1903.3L306.6 1915.5L307.6 1927.2L308.6 1938.7L309.6 1949.9L310.6 1960.1L311.6 1968.9L312.6 1976.9L313.6 1984.2L314.6 1990.9L315.6 1997L316.6 2002.6L317.6 2007.9L318.6 2012.9L319.6 2017.8L320.6 2022.7L321.6 2027.6L322.6 2032.4L323.6 2036.6L324.6 2040.1L325.6 2043.3L326.6 2046.2L327.6 2048.8L328.6 2051L329.6 2052.9L330.6 2054.6L331.6 2056.1L332.6 2057.1L333.6 2058L334.6 2058.7L335.6 2059.3L336.6 2059.5L337.6 2059.4L338.6 2059L339.6 2058.4L340.6 2057.6L341.6 2056.7L342.6 2055.6L343.6 2054.1L344.6 2052.4L345.6 2050.5L346.6 2048.3L347.6 2045.7L348.6 2042.3L349.6 2038.2L350.6 2033.8L351.6 2029.3L352.6 2024.9L353.6 2020.5L354.6 2015.9L355.6 2011.1L356.6 2006.1L357.6 2000.9L358.6 1995.3L359.6 1989.2L360.6 1982.8L361.6 1976L362.6 1969.1L363.6 1962.1L364.6 1955.1L365.6 1947.7L366.6 1940.1L367.6 1932.6L368.6 1925.3L369.6 1918.5L370.6 1912L371.6 1905.7L372.6 1899.7L373.6 1893.9L374.6 1888.6L375.6 1883.5L376.6 1878.4L377.6 1873.7L378.6 1869.6L379.6 1866.3L380.6 1863.7L381.6 1861.2L382.6 1859L383.6 1857.3L384.6 1856.2L385.6 1856L386.6 1856.6L387.6 1857.7L388.6 1859.1L389.6 1860.8L390.6 1862.6L391.6 1865L392.6 1867.9L393.6 1871.4L394.6 1875.3L395.6 1880.3L396.6 1886.4L397.6 1893.1L398.6 1899.8L399.6 1906.2L400.6 1912.2L401.6 1918.1L402.6 1924L403.6 1929.9L404.6 1935.9L405.6 1941.9L406.6 1948L407.6 1954.2L408.6 1960.4L409.6 1966.6L410.6 1972.7L411.6 1978.6L412.6 1984.8L413.6 1991.1L414.6 1997.6L415.6 2003.8L416.6 2009.6L417.6 2014.8L418.6 2019L419.6 2022.4L420.6 2025.4L421.6 2028.2L422.6 2030.6L423.6 2032.7L424.6 2034.5L425.6 2036L426.6 2037.4L427.6 2038.7L428.6 2039.9L429.6 2040.8L430.6 2041.4L431.6 2041.5L432.6 2041.3L433.6 2040.7L434.6 2039.8L435.6 2038.7L436.6 2037.5L437.6 2036.2L438.6 2035L439.6 2033.6L440.6 2032L441.6 2030.3L442.6 2028.3L443.6 2026.2L444.6 2023.9L445.6 2021.4L446.6 2018.6L447.6 2015.3L448.6 2011.4L449.6 2007.1L450.6 2002.5L451.6 1997.9L452.6 1993.3L453.6 1988.9L454.6 1984.5L455.6 1979.9L456.6 1975.3L457.6 1970.7L458.6 1966.1L459.6 1961.6L460.6 1957.4L461.6 1953.4L462.6 1949.6L463.6 1946L464.6 1942.4L465.6 1938.9L466.6 1935.6L467.6 1932.6L468.6 1929.7L469.6 1927.1L470.6 1924.7L471.6 1922.4L472.6 1920.2L473.6 1918.2L474.6 1916.4L475.6 1914.9L476.6 1913.5L477.6 1912.3L478.6 1911L479.6 1909.9L480.6 1908.9L481.6 1908.2L482.6 1907.8L483.6 1907.8L484.6 1908.1L485.6 1908.7L486.6 1909.5L487.6 1910.5L488.6 1911.5L489.6 1912.7L490.6 1914.3L491.6 1916.6L492.6 1919.2L493.6 1922L494.6 1924.8L495.6 1927.3L496.6 1929.7L497.6 1932.1L498.6 1934.4L499.6 1936.8L500.6 1939.1L501.6 1941.5L502.6 1944L503.6 1946.4L504.6 1949L505.6 1951.6L506.6 1954.3L507.6 1957L508.6 1959.8L509.6 1962.5L510.6 1965.3L511.6 1968L512.6 1970.7L513.6 1973.5L514.6 1976.5L515.6 1979.5L516.6 1982.5L517.6 1985.4L518.6 1988.1L519.6 1990.5L520.6 1992.5L521.6 1994L522.6 1995.5L523.6 1996.9L524.6 1998.2L525.6 1999.4L526.6 2000.4L527.6 2001.2L528.6 2001.7L529.6 2001.9L530.6 2001.8L531.6 2001.3L532.6 2000.5L533.6 1999.5L534.6 1998.3L535.6 1997L536.6 1995.6L537.6 1994.2L538.6 1992.9L539.6 1991.4L540.6 1989.6L541.6 1987.7L542.6 1985.7L543.6 1983.6L544.6 1981.4L545.6 1979.3L546.6 1977.2L547.6 1975.1L548.6 1972.9L549.6 1970.6L550.6 1968.3L551.6 1966.1L552.6 1963.8L553.6 1961.7L554.6 1959.6L555.6 1957.7L556.6 1955.9L557.6 1954.1L558.6 1952.3L559.6 1950.6L560.6 1949L561.6 1947.3L562.6 1945.8L563.6 1944.3L564.6 1942.8L565.6 1941.5L566.6 1940.1L567.6 1938.7L568.6 1937.4L569.6 1936.2L570.6 1935.1L571.6 1934L572.6 1933.1L573.6 1932.2L574.6 1931.3L575.6 1930.4L576.6 1929.7L577.6 1929L578.6 1928.6L579.6 1928.5L580.6 1928.6L581.6 1928.9L582.6 1929.4L583.6 1930L584.6 1930.8L585.6 1931.6L586.6 1932.5L587.6 1933.4L588.6 1934.3L589.6 1935.6L590.6 1936.9L591.6 1938.4L592.6 1940L593.6 1941.6L594.6 1943.2L595.6 1944.6L596.6 1946L597.6 1947.2L598.6 1948.5L599.6 1949.7L600.6 1950.9L601.6 1952.1L602.6 1953.3L603.6 1954.6L604.6 1956L605.6 1957.4L606.6 1958.9L607.6 1960.4L608.6 1961.8L609.6 1963.3L610.6 1964.7L611.6 1966L612.6 1967.2L613.6 1968.3L614.6 1969.4L615.6 1970.4L616.6 1971.4L617.6 1972.4L618.6 1973.3L619.6 1974.1L620.6 1974.8L621.6 1975.3L622.6 1975.8L623.6 1976.3L624.6 1976.8L625.6 1977.2L626.6 1977.5L627.6 1977.6L628.6 1977.6L629.6 1977.4L630.6 1977.1L631.6 1976.6L632.6 1976L633.6 1975.4L634.6 1974.8L635.6 1974.1L636.6 1973.4L637.6 1972.6L638.6 1971.6L639.6 1970.5L640.6 1969.3L641.6 1968.1L642.6 1966.9L643.6 1965.6L644.6 1964.5L645.6 1963.4L646.6 1962.3L647.6 1961.3L648.6 1960.2L649.6 1959.2L650.6 1958.2L651.6 1957.2L652.6 1956.2L653.6 1955.2L654.6 1954.4L655.6 1953.5L656.6 1952.6L657.6 1951.8L658.6 1951L659.6 1950.2L660.6 1949.4L661.6 1948.7L662.6 1948L663.6 1947.3L664.6 1946.7L665.6 1946.1L666.6 1945.5L667.6 1944.9L668.6 1944.3L669.6 1943.8L670.6 1943.4L671.6 1943.2L672.6 1943L673.6 1942.8L674.6 1942.7L675.6 1942.5L676.6 1942.4L677.6 1942.3L678.6 1942.3L679.6 1942.3L680.6 1942.3L681.6 1942.5L682.6 1942.7L683.6 1943L684.6 1943.4L685.6 1943.9L686.6 1944.3L687.6 1944.8L688.6 1945.3L689.6 1945.9L690.6 1946.6L691.6 1947.4L692.6 1948.3L693.6 1949.2L694.6 1950L695.6 1950.7L696.6 1951.3L697.6 1951.8L698.6 1952.4L699.6 1952.9L700.6 1953.4L701.6 1953.9L702.6 1954.4L703.6 1954.9L704.6 1955.4L705.6 1955.9L706.6 1956.5L707.6 1957L708.6 1957.5L709.6 1958L710.6 1958.5L711.6 1958.9L712.6 1959.3L713.6 1959.6L714.6 1959.9L715.6 1960.2L716.6 1960.5L717.6 1960.8L718.6 1961.1L719.6 1961.4L720.6 1961.6L721.6 1961.9L722.6 1962L723.6 1962.1L724.6 1962.2L725.6 1962.2L726.6 1962.2L727.6 1962.1L728.6 1962.1L729.6 1962L730.6 1962L731.6 1961.9L732.6 1961.8L733.6 1961.7L734.6 1961.6L735.6 1961.5L736.6 1961.3L737.6 1961.2L738.6 1961.1L739.6 1960.9L740.6 1960.8L741.6 1960.5L742.6 1960.3L743.6 1960.1L744.6 1959.8L745.6 1959.5L746.6 1959.2L747.6 1958.9L748.6 1958.6L749.6 1958.3L750.6 1958L751.6 1957.6L752.6 1957.3L753.6 1957L754.6 1956.7L755.6 1956.3L756.6 1955.9L757.6 1955.5L758.6 1955.1L759.6 1954.7L760.6 1954.3L761.6 1953.9L762.6 1953.5L763.6 1953.2L764.6 1952.8L765.6 1952.5L766.6 1952.1L767.6 1951.8L768.6 1951.5L769.6 1951.2L770.6 1951L771.6 1950.7L772.6 1950.4L773.6 1950.2L774.6 1950L775.6 1949.8L776.6 1949.6L777.6 1949.4L778.6 1949.2L779.6 1949.1L780.6 1949L781.6 1948.9L782.6 1948.9L783.6 1948.9L784.6 1949L785.6 1949.3L786.6 1949.5L787.6 1949.8L788.6 1950.2L789.6 1950.5L790.6 1950.9L791.6 1951.2L792.6 1951.6L793.6 1952L794.6 1952.4L795.6 1952.9L796.6 1953.3L797.6 1953.8L798.6 1954.3L799.6 1954.7L800.6 1955.1L801.6 1955.5L802.6 1955.9L803.6 1956.3L804.6 1956.7L805.6 1957.1L806.6 1957.4L807.6 1957.7L808.6 1957.8L809.6 1957.9L810.6 1957.9L811.6 1957.9L812.6 1958L813.6 1958L814.6 1958L815.6 1958.1L816.6 1958.1L817.6 1958.1L818.6 1958.1L819.6 1958.1L820.6 1958.1L821.6 1958.1L822.6 1958.1L823.6 1958.1L824.6 1958.1L825.6 1958.1L826.6 1958L827.6 1957.9L828.6 1957.8L829.6 1957.7L830.6 1957.6L831.6 1957.4L832.6 1957.3L833.6 1957.2L834.6 1957L835.6 1956.9L836.6 1956.8L837.6 1956.6L838.6 1956.5L839.6 1956.4L840.6 1956.3L841.6 1956.2L842.6 1956.1L843.6 1955.9L844.6 1955.8L845.6 1955.7L846.6 1955.6L847.6 1955.5L848.6 1955.3L849.6 1955.2L850.6 1955.1L851.6 1954.9L852.6 1954.8L853.6 1954.7L854.6 1954.6" fill="none" stroke="#3333ff" stroke-width="5.5" stroke-linejoin="round"/>
<path d="M144.6 1663.4V2113.4H854.6" fill="none" stroke="#000" stroke-width="4" stroke-linecap="square"/>
<line x1="134.1" y1="2113.4" x2="144.6" y2="2113.4" stroke="#000" stroke-width="4"/>
<text x="117.5" y="2127.4" font-size="38.5" text-anchor="end">0</text>
<line x1="134.1" y1="1963.4" x2="144.6" y2="1963.4" stroke="#000" stroke-width="4"/>
<text x="117.5" y="1977.4" font-size="38.5" text-anchor="end">1</text>
<line x1="134.1" y1="1813.4" x2="144.6" y2="1813.4" stroke="#000" stroke-width="4"/>
<text x="117.5" y="1827.4" font-size="38.5" text-anchor="end">2</text>
<line x1="134.1" y1="1663.4" x2="144.6" y2="1663.4" stroke="#000" stroke-width="4"/>
<text x="117.5" y="1677.4" font-size="38.5" text-anchor="end">3</text>
<line x1="144.6" y1="2113.4" x2="144.6" y2="2124.4" stroke="#000" stroke-width="4"/>
<line x1="286.6" y1="2113.4" x2="286.6" y2="2124.4" stroke="#000" stroke-width="4"/>
<line x1="428.6" y1="2113.4" x2="428.6" y2="2124.4" stroke="#000" stroke-width="4"/>
<line x1="570.6" y1="2113.4" x2="570.6" y2="2124.4" stroke="#000" stroke-width="4"/>
<line x1="712.6" y1="2113.4" x2="712.6" y2="2124.4" stroke="#000" stroke-width="4"/>
<line x1="854.6" y1="2113.4" x2="854.6" y2="2124.4" stroke="#000" stroke-width="4"/>
<text x="286.6" y="2159.4" font-size="38.5" text-anchor="middle">0</text>
<text x="570.6" y="2159.4" font-size="38.5" text-anchor="middle">500</text>
<text x="854.6" y="2159.4" font-size="38.5" text-anchor="middle">1000</text>
<text x="500.3" y="2197.4" font-size="44" text-anchor="middle" textLength="723.4" lengthAdjust="spacingAndGlyphs">Position relative to +1 nucleosome (bp)</text>
<text transform="translate(75.6,1887.5) rotate(-90)" font-size="44.5" text-anchor="middle" textLength="482" lengthAdjust="spacingAndGlyphs">Nucleosome dyad density</text>
<line x1="569" y1="1711.8" x2="605" y2="1711.8" stroke="#999999" stroke-width="7.6" stroke-linecap="round"/>
<text x="642" y="1726.7" font-size="43" textLength="61.8" lengthAdjust="spacingAndGlyphs">WT</text>
<line x1="569" y1="1760" x2="605" y2="1760" stroke="#333333" stroke-width="7.6" stroke-linecap="round"/>
<text x="642" y="1775" font-size="43" textLength="78.7" lengthAdjust="spacingAndGlyphs">TKO</text>
<line x1="569" y1="1808" x2="605" y2="1808" stroke="#3333ff" stroke-width="7.6" stroke-linecap="round"/>
<text x="642" y="1822.8" font-size="43" textLength="203.2" lengthAdjust="spacingAndGlyphs">TKO – TBP</text>
<path d="M1147.2 1926L1148.2 1935.3L1149.2 1944.4L1150.2 1953.2L1151.2 1961.8L1152.2 1969.9L1153.2 1977.7L1154.2 1985.1L1155.2 1992.5L1156.2 1999.7L1157.2 2006.9L1158.2 2013.7L1159.2 2020.2L1160.2 2026.2L1161.2 2031.7L1162.2 2036.5L1163.2 2040.7L1164.2 2044.6L1165.2 2048.2L1166.2 2051.7L1167.2 2054.9L1168.2 2058L1169.2 2060.8L1170.2 2063.5L1171.2 2066L1172.2 2068.4L1173.2 2070.6L1174.2 2072.6L1175.2 2074.6L1176.2 2076.6L1177.2 2078.4L1178.2 2080.1L1179.2 2081.8L1180.2 2083.4L1181.2 2084.8L1182.2 2086.2L1183.2 2087.5L1184.2 2088.6L1185.2 2089.7L1186.2 2090.6L1187.2 2091.6L1188.2 2092.5L1189.2 2093.2L1190.2 2093.9L1191.2 2094.4L1192.2 2094.8L1193.2 2095.2L1194.2 2095.5L1195.2 2095.7L1196.2 2096L1197.2 2096.1L1198.2 2096.2L1199.2 2096.2L1200.2 2096.2L1201.2 2096L1202.2 2095.8L1203.2 2095.5L1204.2 2095.1L1205.2 2094.8L1206.2 2094.3L1207.2 2093.9L1208.2 2093.4L1209.2 2092.7L1210.2 2091.9L1211.2 2090.9L1212.2 2089.8L1213.2 2088.7L1214.2 2087.4L1215.2 2086L1216.2 2084.4L1217.2 2082.5L1218.2 2080.3L1219.2 2077.9L1220.2 2075.2L1221.2 2072.1L1222.2 2068.3L1223.2 2063.9L1224.2 2058.9L1225.2 2053.5L1226.2 2047.6L1227.2 2040.8L1228.2 2033L1229.2 2024.5L1230.2 2015.4L1231.2 2005.7L1232.2 1995.2L1233.2 1983.6L1234.2 1970.4L1235.2 1954.9L1236.2 1935.5L1237.2 1913.8L1238.2 1891.5L1239.2 1869.5L1240.2 1846.7L1241.2 1823L1242.2 1797.4L1243.2 1769L1244.2 1743.5L1245.2 1723.7L1246.2 1707.1L1247.2 1696.9L1248.2 1689.9L1249.2 1687.2L1250.2 1689.5L1251.2 1694.2L1252.2 1701.8L1253.2 1714.4L1254.2 1730.8L1255.2 1754.8L1256.2 1782.5L1257.2 1812.9L1258.2 1846.2L1259.2 1876.7L1260.2 1904.9L1261.2 1931.2L1262.2 1953.3L1263.2 1971L1264.2 1986.3L1265.2 1999.5L1266.2 2010.5L1267.2 2020.2L1268.2 2028.7L1269.2 2036.1L1270.2 2042.2L1271.2 2047.6L1272.2 2052.6L1273.2 2057.1L1274.2 2060.9L1275.2 2064.1L1276.2 2066.5L1277.2 2068.6L1278.2 2070.3L1279.2 2071.7L1280.2 2072.5L1281.2 2073.2L1282.2 2073.8L1283.2 2074.1L1284.2 2074.2L1285.2 2073.4L1286.2 2072L1287.2 2070.1L1288.2 2068L1289.2 2065.3L1290.2 2061.7L1291.2 2057.4L1292.2 2052.5L1293.2 2047L1294.2 2040L1295.2 2031.5L1296.2 2021.9L1297.2 2011.4L1298.2 2000.1L1299.2 1986.8L1300.2 1972L1301.2 1956.2L1302.2 1940.2L1303.2 1924.1L1304.2 1907L1305.2 1889.5L1306.2 1872.1L1307.2 1855.7L1308.2 1840.4L1309.2 1825.2L1310.2 1810.7L1311.2 1797.3L1312.2 1785.5L1313.2 1774.8L1314.2 1764.7L1315.2 1756.4L1316.2 1751.5L1317.2 1748.3L1318.2 1746.2L1319.2 1745.8L1320.2 1747.6L1321.2 1751L1322.2 1755.2L1323.2 1762.1L1324.2 1772.6L1325.2 1785.1L1326.2 1798.3L1327.2 1812.8L1328.2 1829.5L1329.2 1847.1L1330.2 1864.6L1331.2 1881.7L1332.2 1899.3L1333.2 1916.8L1334.2 1933.6L1335.2 1949L1336.2 1963.6L1337.2 1978L1338.2 1991.6L1339.2 2004L1340.2 2014.7L1341.2 2023.1L1342.2 2030.5L1343.2 2037.2L1344.2 2043L1345.2 2048.1L1346.2 2052.2L1347.2 2055.7L1348.2 2059L1349.2 2061.9L1350.2 2064.1L1351.2 2065.2L1352.2 2064.9L1353.2 2063.7L1354.2 2061.9L1355.2 2059.5L1356.2 2056.8L1357.2 2053.4L1358.2 2048.4L1359.2 2042.1L1360.2 2034.9L1361.2 2027.1L1362.2 2019L1363.2 2009.6L1364.2 1998.6L1365.2 1986.7L1366.2 1974.3L1367.2 1962.1L1368.2 1950.4L1369.2 1938.5L1370.2 1926.4L1371.2 1914.4L1372.2 1902.5L1373.2 1890.9L1374.2 1879.4L1375.2 1867.7L1376.2 1856.3L1377.2 1845.8L1378.2 1836.8L1379.2 1829L1380.2 1821.7L1381.2 1815.6L1382.2 1811L1383.2 1807.9L1384.2 1805.1L1385.2 1803L1386.2 1802L1387.2 1802.4L1388.2 1804L1389.2 1806.5L1390.2 1809.5L1391.2 1813.4L1392.2 1819.3L1393.2 1827L1394.2 1835.7L1395.2 1844.8L1396.2 1854.7L1397.2 1866.3L1398.2 1879L1399.2 1892.2L1400.2 1905.2L1401.2 1917.5L1402.2 1930.2L1403.2 1943.2L1404.2 1955.9L1405.2 1967.9L1406.2 1978.9L1407.2 1988.5L1408.2 1997.6L1409.2 2006.4L1410.2 2014.5L1411.2 2021.7L1412.2 2027.7L1413.2 2032.4L1414.2 2036.7L1415.2 2040.8L1416.2 2044.4L1417.2 2047.2L1418.2 2049L1419.2 2049.4L1420.2 2048.7L1421.2 2047L1422.2 2044.7L1423.2 2041.8L1424.2 2038.5L1425.2 2035.1L1426.2 2030.6L1427.2 2024.7L1428.2 2017.6L1429.2 2009.8L1430.2 2001.6L1431.2 1993.4L1432.2 1984.4L1433.2 1974.3L1434.2 1963.7L1435.2 1953L1436.2 1942.8L1437.2 1933.7L1438.2 1924.9L1439.2 1916.2L1440.2 1907.9L1441.2 1900.2L1442.2 1893.3L1443.2 1887.3L1444.2 1881.7L1445.2 1876.5L1446.2 1871.7L1447.2 1867.4L1448.2 1863.9L1449.2 1861.2L1450.2 1858.9L1451.2 1856.8L1452.2 1855.1L1453.2 1854L1454.2 1853.7L1455.2 1854.4L1456.2 1855.7L1457.2 1857.6L1458.2 1859.9L1459.2 1862.5L1460.2 1866.7L1461.2 1872.3L1462.2 1879.1L1463.2 1886.3L1464.2 1893.6L1465.2 1900.6L1466.2 1908.3L1467.2 1916.3L1468.2 1924.7L1469.2 1933.2L1470.2 1941.5L1471.2 1949.6L1472.2 1958L1473.2 1966.6L1474.2 1975.1L1475.2 1983L1476.2 1990.1L1477.2 1996L1478.2 2001.6L1479.2 2006.8L1480.2 2011.4L1481.2 2015.4L1482.2 2018.4L1483.2 2020.7L1484.2 2022.8L1485.2 2024.6L1486.2 2026L1487.2 2026.8L1488.2 2026.9L1489.2 2026.2L1490.2 2024.8L1491.2 2023.1L1492.2 2020.9L1493.2 2018.6L1494.2 2014.7L1495.2 2009.2L1496.2 2002.5L1497.2 1995.2L1498.2 1987.8L1499.2 1981.1L1500.2 1974.5L1501.2 1967.6L1502.2 1960.7L1503.2 1953.9L1504.1 1947.3L1505.1 1941.2L1506.1 1935.3L1507.1 1929.3L1508.1 1923.3L1509.1 1917.7L1510.1 1912.5L1511.1 1908.1L1512.1 1904.5L1513.1 1901.8L1514.1 1899.3L1515.1 1896.9L1516.1 1894.9L1517.1 1893.4L1518.1 1892.6L1519.1 1892.7L1520.1 1893.5L1521.1 1895L1522.1 1897L1523.1 1899.4L1524.1 1902L1525.1 1904.8L1526.1 1908.9L1527.1 1914L1528.1 1919.9L1529.1 1926.2L1530.1 1932.5L1531.1 1938.4L1532.1 1943.7L1533.1 1949.1L1534.1 1954.6L1535.1 1959.9L1536.1 1965L1537.1 1969.8L1538.1 1974L1539.1 1977.7L1540.1 1981.3L1541.1 1984.8L1542.1 1988.1L1543.1 1991L1544.1 1993.5L1545.1 1995.5L1546.1 1996.8L1547.1 1998L1548.1 1999L1549.1 2000L1550.1 2000.9L1551.1 2001.6L1552.1 2002.3L1553.1 2002.7L1554.1 2003L1555.1 2003.1L1556.1 2002.7L1557.1 2001.6L1558.1 2000L1559.1 1997.9L1560.1 1995.6L1561.1 1993L1562.1 1990.5L1563.1 1987.4L1564.1 1983.6L1565.1 1979.1L1566.1 1974.3L1567.1 1969.4L1568.1 1964.6L1569.1 1960.1L1570.1 1955.7L1571.1 1951.2L1572.1 1946.6L1573.1 1942.2L1574.1 1938L1575.1 1934.3L1576.1 1931.1L1577.1 1928.4L1578.1 1925.7L1579.1 1923.1L1580.1 1920.9L1581.1 1919.2L1582.1 1918.2L1583.1 1918.1L1584.1 1918.8L1585.1 1920L1586.1 1921.6L1587.1 1923.3L1588.1 1925.2L1589.1 1927.1L1590.1 1929.3L1591.1 1931.9L1592.1 1934.8L1593.1 1937.8L1594.1 1940.9L1595.1 1944L1596.1 1946.9L1597.1 1949.6L1598.1 1952.5L1599.1 1955.3L1600.1 1958.2L1601.1 1961L1602.1 1963.7L1603.1 1966.1L1604.1 1968.2L1605.1 1970L1606.1 1971.6L1607.1 1973.1L1608.1 1974.6L1609.1 1975.9L1610.1 1977.1L1611.1 1978.1L1612.1 1978.8L1613.1 1979.3L1614.1 1979.7L1615.1 1980.1L1616.1 1980.4L1617.1 1980.6L1618.1 1980.9L1619.1 1981L1620.1 1981L1621.1 1980.9L1622.1 1980.5L1623.1 1979.8L1624.1 1978.9L1625.1 1977.8L1626.1 1976.5L1627.1 1975.2L1628.1 1973.9L1629.1 1972.2L1630.1 1970L1631.1 1967.5L1632.1 1964.7L1633.1 1961.9L1634.1 1959.1L1635.1 1956.6L1636.1 1954.1L1637.1 1951.5L1638.1 1948.9L1639.1 1946.4L1640.1 1944.2L1641.1 1942.2L1642.1 1940.6L1643.1 1939.2L1644.1 1937.8L1645.1 1936.5L1646.1 1935.5L1647.1 1934.9L1648.1 1934.7L1649.1 1935L1650.1 1935.5L1651.1 1936.4L1652.1 1937.4L1653.1 1938.5L1654.1 1939.6L1655.1 1940.8L1656.1 1942.4L1657.1 1944.2L1658.1 1946.1L1659.1 1948.1L1660.1 1950L1661.1 1951.9L1662.1 1953.5L1663.1 1955.2L1664.1 1957L1665.1 1958.7L1666.1 1960.5L1667.1 1962.2L1668.1 1963.7L1669.1 1965.2L1670.1 1966.4L1671.1 1967.4L1672.1 1968.1L1673.1 1968.7L1674.1 1969.3L1675.1 1969.8L1676.1 1970.3L1677.1 1970.8L1678.1 1971.2L1679.1 1971.5L1680.1 1971.8L1681.1 1972L1682.1 1972.1L1683.1 1972.2L1684.1 1972.1L1685.1 1971.7L1686.1 1971.1L1687.1 1970.4L1688.1 1969.5L1689.1 1968.5L1690.1 1967.4L1691.1 1966.3L1692.1 1965.2L1693.1 1964L1694.1 1962.5L1695.1 1960.7L1696.1 1958.8L1697.1 1956.9L1698.1 1955L1699.1 1953.3L1700.1 1951.9L1701.1 1950.7L1702.1 1949.5L1703.1 1948.3L1704.1 1947.2L1705.1 1946.1L1706.1 1945.1L1707.1 1944.3L1708.1 1943.8L1709.1 1943.5L1710.1 1943.4L1711.1 1943.6L1712.1 1944L1713.1 1944.5L1714.1 1945.1L1715.1 1945.8L1716.1 1946.5L1717.1 1947.3L1718.1 1948.1L1719.1 1948.8L1720.1 1949.6L1721.1 1950.5L1722.1 1951.5L1723.1 1952.5L1724.1 1953.5L1725.1 1954.5L1726.1 1955.5L1727.1 1956.3L1728.1 1957L1729.1 1957.6L1730.1 1958.1L1731.1 1958.6L1732.1 1959.1L1733.1 1959.5L1734.1 1960L1735.1 1960.4L1736.1 1960.8L1737.1 1961.1L1738.1 1961.4L1739.1 1961.7L1740.1 1961.9L1741.1 1962.1L1742.1 1962.1L1743.1 1962.1L1744.1 1962L1745.1 1961.8L1746.1 1961.4L1747.1 1961L1748.1 1960.5L1749.1 1960L1750.1 1959.4L1751.1 1958.8L1752.1 1958.2L1753.1 1957.6L1754.1 1957L1755.1 1956.3L1756.1 1955.4L1757.1 1954.5L1758.1 1953.6L1759.1 1952.7L1760.1 1951.9L1761.1 1951.3L1762.1 1950.8L1763.1 1950.5L1764.1 1950.2L1765.1 1949.9L1766.1 1949.7L1767.1 1949.4L1768.1 1949.3L1769.1 1949.1L1770.1 1949L1771.1 1949L1772.1 1949L1773.1 1949.1L1774.1 1949.4L1775.1 1949.8L1776.1 1950.2L1777.1 1950.7L1778.1 1951.2L1779.1 1951.7L1780.1 1952.2L1781.1 1952.7L1782.1 1953.1L1783.1 1953.6L1784.1 1954.1L1785.1 1954.6L1786.1 1955.1L1787.1 1955.6L1788.1 1956.1L1789.1 1956.5L1790.1 1956.9L1791.1 1957.3L1792.1 1957.5L1793.1 1957.8L1794.1 1958L1795.1 1958.2L1796.1 1958.4L1797.1 1958.6L1798.1 1958.7L1799.1 1958.8L1800.1 1958.8L1801.1 1958.8L1802.1 1958.7L1803.1 1958.5L1804.1 1958.2L1805.1 1957.9L1806.1 1957.6L1807.1 1957.2L1808.1 1956.8L1809.1 1956.4L1810.1 1956.1L1811.1 1955.7L1812.1 1955.2L1813.1 1954.7L1814.1 1954.2L1815.1 1953.7L1816.1 1953.2L1817.1 1952.7L1818.1 1952.4L1819.1 1952L1820.1 1951.7L1821.1 1951.3L1822.1 1951L1823.1 1950.7L1824.1 1950.5L1825.1 1950.3L1826.1 1950.2L1827.1 1950.2L1828.1 1950.2L1829.1 1950.3L1830.1 1950.5L1831.1 1950.7L1832.1 1950.9L1833.1 1951.1L1834.1 1951.4L1835.1 1951.6L1836.1 1951.9L1837.1 1952.3L1838.1 1952.8L1839.1 1953.3L1840.1 1953.8L1841.1 1954.3L1842.1 1954.8L1843.1 1955.2L1844.1 1955.5L1845.1 1955.7L1846.1 1955.9L1847.1 1956.1L1848.1 1956.3L1849.1 1956.4L1850.1 1956.6L1851.1 1956.7L1852.1 1956.7L1853.1 1956.8L1854.1 1956.8L1855.1 1956.8L1856.1 1956.8L1857.1 1956.8L1858.1 1956.8L1859.1 1956.8L1859.1 2113.5L1147.2 2113.5Z" fill="#b3b3b3"/>
<path d="M1147.2 1924.5L1148.2 1926.2L1149.2 1932.9L1150.2 1944.4L1151.2 1958.3L1152.2 1972.2L1153.2 1983.7L1154.2 1992L1155.2 1999.6L1156.2 2006.8L1157.2 2013.7L1158.2 2020L1159.2 2026L1160.2 2031.4L1161.2 2036.4L1162.2 2040.8L1163.2 2044.8L1164.2 2048.5L1165.2 2052.1L1166.2 2055.4L1167.2 2058.5L1168.2 2061.4L1169.2 2064.2L1170.2 2066.7L1171.2 2069.1L1172.2 2071.3L1173.2 2073.4L1174.2 2075.2L1175.2 2077L1176.2 2078.7L1177.2 2080.4L1178.2 2081.9L1179.2 2083.4L1180.2 2084.8L1181.2 2086.1L1182.2 2087.2L1183.2 2088.3L1184.2 2089.2L1185.2 2090.1L1186.2 2090.8L1187.2 2091.6L1188.2 2092.2L1189.2 2092.8L1190.2 2093.3L1191.2 2093.7L1192.2 2094.1L1193.2 2094.4L1194.2 2094.6L1195.2 2094.9L1196.2 2095.1L1197.2 2095.3L1198.2 2095.4L1199.2 2095.5L1200.2 2095.5L1201.2 2095.4L1202.2 2095.1L1203.2 2094.8L1204.2 2094.5L1205.2 2094L1206.2 2093.6L1207.2 2093.2L1208.2 2092.7L1209.2 2092.1L1210.2 2091.4L1211.2 2090.7L1212.2 2089.8L1213.2 2088.9L1214.2 2087.8L1215.2 2086.6L1216.2 2085.2L1217.2 2083.4L1218.2 2081.4L1219.2 2079.1L1220.2 2076.6L1221.2 2073.7L1222.2 2069.9L1223.2 2065.6L1224.2 2060.7L1225.2 2055.6L1226.2 2050.3L1227.2 2044.6L1228.2 2038.3L1229.2 2031.4L1230.2 2023.8L1231.2 2015.3L1232.2 2005.4L1233.2 1994.1L1234.2 1981.6L1235.2 1967.7L1236.2 1951.5L1237.2 1933.4L1238.2 1913.8L1239.2 1891.7L1240.2 1866.8L1241.2 1841.8L1242.2 1817.3L1243.2 1793.2L1244.2 1770.6L1245.2 1749.4L1246.2 1732.3L1247.2 1717.8L1248.2 1707.8L1249.2 1700.7L1250.2 1697.3L1251.2 1697.7L1252.2 1699L1253.2 1700.5L1254.2 1703L1255.2 1708.2L1256.2 1721.9L1257.2 1737.7L1258.2 1753.5L1259.2 1771.7L1260.2 1794.5L1261.2 1820.2L1262.2 1846L1263.2 1872.1L1264.2 1894.3L1265.2 1913.7L1266.2 1931.4L1267.2 1948.1L1268.2 1964.7L1269.2 1980.6L1270.2 1994.4L1271.2 2005.6L1272.2 2015.6L1273.2 2024.4L1274.2 2031.8L1275.2 2037.8L1276.2 2043L1277.2 2047.6L1278.2 2051.7L1279.2 2055.4L1280.2 2058.9L1281.2 2062.3L1282.2 2065.1L1283.2 2067.2L1284.2 2068.8L1285.2 2070.3L1286.2 2071.4L1287.2 2071.9L1288.2 2071.7L1289.2 2070.9L1290.2 2069.8L1291.2 2068.5L1292.2 2067.2L1293.2 2065.6L1294.2 2063.6L1295.2 2061L1296.2 2057L1297.2 2051.1L1298.2 2044L1299.2 2036.6L1300.2 2028L1301.2 2018.1L1302.2 2006.6L1303.2 1992L1304.2 1974.8L1305.2 1956.4L1306.2 1937.4L1307.2 1916.8L1308.2 1895.9L1309.2 1875.5L1310.2 1854.6L1311.2 1834.7L1312.2 1817.4L1313.2 1802.1L1314.2 1788.2L1315.2 1776.1L1316.2 1765.5L1317.2 1755.9L1318.2 1750.1L1319.2 1746.7L1320.2 1744.3L1321.2 1743.5L1322.2 1744.9L1323.2 1748.1L1324.2 1753.1L1325.2 1764.2L1326.2 1778.2L1327.2 1791.4L1328.2 1804.9L1329.2 1819.2L1330.2 1834.6L1331.2 1852.2L1332.2 1871.8L1333.2 1890.6L1334.2 1907.1L1335.2 1922.6L1336.2 1937.2L1337.2 1950.8L1338.2 1963.4L1339.2 1975.5L1340.2 1987L1341.2 1997.5L1342.2 2006.6L1343.2 2014.3L1344.2 2021.4L1345.2 2027.8L1346.2 2033.3L1347.2 2037.8L1348.2 2041.5L1349.2 2044.9L1350.2 2047.8L1351.2 2050.2L1352.2 2051.9L1353.2 2053.2L1354.2 2054.4L1355.2 2055.3L1356.2 2056L1357.2 2056.2L1358.2 2055.8L1359.2 2054.9L1360.2 2053.5L1361.2 2051.9L1362.2 2050.2L1363.2 2047.8L1364.2 2044.7L1365.2 2041L1366.2 2036.7L1367.2 2032L1368.2 2026.4L1369.2 2019.5L1370.2 2011.5L1371.2 2003L1372.2 1994.4L1373.2 1985.2L1374.2 1975.4L1375.2 1964.8L1376.2 1953.4L1377.2 1940.6L1378.2 1926.2L1379.2 1911L1380.2 1896.1L1381.2 1882L1382.2 1867.4L1383.2 1853.1L1384.2 1839.9L1385.2 1829.1L1386.2 1820.2L1387.2 1813L1388.2 1807.9L1389.2 1803.5L1390.2 1800.9L1391.2 1801.7L1392.2 1805.3L1393.2 1809.9L1394.2 1814.4L1395.2 1819.6L1396.2 1826L1397.2 1834.2L1398.2 1845.3L1399.2 1857.8L1400.2 1870.2L1401.2 1883.2L1402.2 1896.4L1403.2 1908.7L1404.2 1920.2L1405.2 1931.3L1406.2 1942L1407.2 1952.2L1408.2 1962L1409.2 1971.8L1410.2 1981.3L1411.2 1989.9L1412.2 1997.3L1413.2 2003.6L1414.2 2009.6L1415.2 2015.2L1416.2 2020.3L1417.2 2024.7L1418.2 2028.5L1419.2 2031.6L1420.2 2034.5L1421.2 2037.3L1422.2 2039.7L1423.2 2041.8L1424.2 2043.2L1425.2 2043.7L1426.2 2043.5L1427.2 2042.8L1428.2 2041.7L1429.2 2040.2L1430.2 2038.6L1431.2 2037L1432.2 2035.1L1433.2 2032.6L1434.2 2029.8L1435.2 2026.5L1436.2 2022.9L1437.2 2018.9L1438.2 2013.8L1439.2 2007.8L1440.2 2001.2L1441.2 1994.2L1442.2 1987.1L1443.2 1980.3L1444.2 1973.4L1445.2 1966.4L1446.2 1958.9L1447.2 1950.9L1448.2 1942.1L1449.2 1931.9L1450.2 1920.2L1451.2 1907.8L1452.2 1895.8L1453.2 1883.2L1454.2 1870.9L1455.2 1861.3L1456.2 1853.4L1457.2 1848.1L1458.2 1845.3L1459.2 1843.6L1460.2 1844L1461.2 1846.4L1462.2 1849.9L1463.2 1854L1464.2 1859.8L1465.2 1866.8L1466.2 1874.1L1467.2 1882.2L1468.2 1891.2L1469.2 1900.7L1470.2 1910L1471.2 1918.7L1472.2 1927.4L1473.2 1935.9L1474.2 1944.2L1475.2 1952L1476.2 1959.5L1477.2 1967L1478.2 1974.1L1479.2 1980.8L1480.2 1987L1481.2 1992.5L1482.2 1997.6L1483.2 2002.3L1484.2 2006.7L1485.2 2010.8L1486.2 2014.6L1487.2 2018.1L1488.2 2021.7L1489.2 2024.6L1490.2 2026.5L1491.2 2027.7L1492.2 2028.6L1493.2 2029.1L1494.2 2029.1L1495.2 2028.3L1496.2 2026.9L1497.2 2025L1498.2 2022.8L1499.2 2019.3L1500.2 2014.5L1501.2 2008.8L1502.2 2002.6L1503.2 1996.5L1504.1 1990.2L1505.1 1983.2L1506.1 1975.8L1507.1 1968.3L1508.1 1960.9L1509.1 1953.7L1510.1 1946.4L1511.1 1939.1L1512.1 1931.9L1513.1 1924.9L1514.1 1918.4L1515.1 1912L1516.1 1905.6L1517.1 1899.4L1518.1 1894L1519.1 1889.5L1520.1 1886L1521.1 1882.8L1522.1 1880.2L1523.1 1878.4L1524.1 1877.4L1525.1 1876.7L1526.1 1876.2L1527.1 1876.1L1528.1 1876.8L1529.1 1878.4L1530.1 1880.4L1531.1 1883.1L1532.1 1887.4L1533.1 1892.8L1534.1 1898.8L1535.1 1904.8L1536.1 1910.6L1537.1 1916.6L1538.1 1922.8L1539.1 1929.3L1540.1 1935.6L1541.1 1941.8L1542.1 1947.7L1543.1 1953.4L1544.1 1959.1L1545.1 1964.6L1546.1 1969.9L1547.1 1975L1548.1 1979.6L1549.1 1984.1L1550.1 1988.5L1551.1 1992.7L1552.1 1996.6L1553.1 2000L1554.1 2002.9L1555.1 2005.6L1556.1 2008.4L1557.1 2011L1558.1 2013.2L1559.1 2014.9L1560.1 2016L1561.1 2016.3L1562.1 2015.7L1563.1 2014.3L1564.1 2012.5L1565.1 2010.2L1566.1 2007.7L1567.1 2005.2L1568.1 2002L1569.1 1998L1570.1 1993.4L1571.1 1988.4L1572.1 1983.3L1573.1 1978.4L1574.1 1973.5L1575.1 1968.3L1576.1 1962.9L1577.1 1957.6L1578.1 1952.2L1579.1 1947.1L1580.1 1942L1581.1 1936.8L1582.1 1931.7L1583.1 1926.9L1584.1 1922.8L1585.1 1919.4L1586.1 1916.2L1587.1 1913.3L1588.1 1910.7L1589.1 1908.8L1590.1 1907.7L1591.1 1906.7L1592.1 1905.9L1593.1 1905.3L1594.1 1904.9L1595.1 1904.9L1596.1 1905.5L1597.1 1906.7L1598.1 1908.4L1599.1 1910.2L1600.1 1912.2L1601.1 1915L1602.1 1918.3L1603.1 1922.1L1604.1 1926.1L1605.1 1930L1606.1 1933.7L1607.1 1937.3L1608.1 1940.8L1609.1 1944.3L1610.1 1947.9L1611.1 1951.6L1612.1 1955.3L1613.1 1959.3L1614.1 1963.7L1615.1 1968.3L1616.1 1972.9L1617.1 1977.3L1618.1 1981.2L1619.1 1984.6L1620.1 1987.7L1621.1 1990.5L1622.1 1993L1623.1 1995.1L1624.1 1996.7L1625.1 1998.1L1626.1 1999.4L1627.1 2000.3L1628.1 2000.8L1629.1 2000.6L1630.1 1999.6L1631.1 1997.9L1632.1 1995.9L1633.1 1993.9L1634.1 1991.8L1635.1 1989.2L1636.1 1986.3L1637.1 1983.2L1638.1 1980L1639.1 1976.8L1640.1 1973.4L1641.1 1969.8L1642.1 1966.1L1643.1 1962.5L1644.1 1959.1L1645.1 1955.5L1646.1 1952L1647.1 1948.5L1648.1 1945.3L1649.1 1942.3L1650.1 1939.6L1651.1 1936.9L1652.1 1934.3L1653.1 1931.9L1654.1 1929.8L1655.1 1928.2L1656.1 1927.1L1657.1 1926.1L1658.1 1925.2L1659.1 1924.5L1660.1 1923.9L1661.1 1923.6L1662.1 1923.7L1663.1 1924.2L1664.1 1925.1L1665.1 1926.3L1666.1 1927.7L1667.1 1929.3L1668.1 1930.9L1669.1 1933L1670.1 1935.7L1671.1 1938.7L1672.1 1941.8L1673.1 1944.8L1674.1 1947.3L1675.1 1949.4L1676.1 1951.2L1677.1 1953.1L1678.1 1955.1L1679.1 1957.3L1680.1 1960.1L1681.1 1963.3L1682.1 1966.6L1683.1 1970L1684.1 1973.2L1685.1 1976L1686.1 1978.3L1687.1 1980.2L1688.1 1982L1689.1 1983.5L1690.1 1984.8L1691.1 1985.8L1692.1 1986.3L1693.1 1986.8L1694.1 1987.2L1695.1 1987.5L1696.1 1987.6L1697.1 1987.5L1698.1 1986.8L1699.1 1985.8L1700.1 1984.6L1701.1 1983.2L1702.1 1981.5L1703.1 1979.1L1704.1 1976.4L1705.1 1973.4L1706.1 1970.6L1707.1 1968.1L1708.1 1965.6L1709.1 1963.2L1710.1 1960.8L1711.1 1958.4L1712.1 1956.1L1713.1 1953.6L1714.1 1950.9L1715.1 1948.3L1716.1 1945.8L1717.1 1943.6L1718.1 1941.9L1719.1 1940.6L1720.1 1939.4L1721.1 1938.3L1722.1 1937.3L1723.1 1936.4L1724.1 1935.7L1725.1 1935.1L1726.1 1934.8L1727.1 1934.7L1728.1 1935L1729.1 1935.6L1730.1 1936.4L1731.1 1937.4L1732.1 1938.6L1733.1 1939.9L1734.1 1941.3L1735.1 1942.6L1736.1 1944.2L1737.1 1946.1L1738.1 1948.2L1739.1 1950.4L1740.1 1952.5L1741.1 1954.5L1742.1 1956.3L1743.1 1958L1744.1 1959.6L1745.1 1961.1L1746.1 1962.5L1747.1 1963.9L1748.1 1965.3L1749.1 1966.6L1750.1 1967.8L1751.1 1968.9L1752.1 1969.9L1753.1 1970.8L1754.1 1971.6L1755.1 1972.4L1756.1 1973.1L1757.1 1973.7L1758.1 1974.3L1759.1 1974.7L1760.1 1974.9L1761.1 1975.2L1762.1 1975.4L1763.1 1975.5L1764.1 1975.5L1765.1 1975.2L1766.1 1974.5L1767.1 1973.6L1768.1 1972.6L1769.1 1971.5L1770.1 1970.4L1771.1 1968.9L1772.1 1967.1L1773.1 1965.2L1774.1 1963.2L1775.1 1961.4L1776.1 1959.9L1777.1 1958.5L1778.1 1957.1L1779.1 1955.9L1780.1 1954.8L1781.1 1953.8L1782.1 1952.8L1783.1 1951.9L1784.1 1951.1L1785.1 1950.3L1786.1 1949.6L1787.1 1948.9L1788.1 1948.4L1789.1 1947.9L1790.1 1947.4L1791.1 1946.9L1792.1 1946.5L1793.1 1946.1L1794.1 1945.9L1795.1 1945.7L1796.1 1945.7L1797.1 1945.9L1798.1 1946.3L1799.1 1947L1800.1 1947.7L1801.1 1948.6L1802.1 1949.4L1803.1 1950.1L1804.1 1950.8L1805.1 1951.6L1806.1 1952.4L1807.1 1953.2L1808.1 1954L1809.1 1954.9L1810.1 1955.7L1811.1 1956.6L1812.1 1957.4L1813.1 1958.2L1814.1 1959.1L1815.1 1960L1816.1 1960.8L1817.1 1961.7L1818.1 1962.5L1819.1 1963.3L1820.1 1964L1821.1 1964.7L1822.1 1965.5L1823.1 1966.2L1824.1 1966.9L1825.1 1967.4L1826.1 1967.9L1827.1 1968.1L1828.1 1968.4L1829.1 1968.6L1830.1 1968.7L1831.1 1968.7L1832.1 1968.7L1833.1 1968.3L1834.1 1967.8L1835.1 1967.3L1836.1 1966.6L1837.1 1966L1838.1 1965.4L1839.1 1964.8L1840.1 1964.2L1841.1 1963.6L1842.1 1962.9L1843.1 1962.2L1844.1 1961.5L1845.1 1960.8L1846.1 1960L1847.1 1959.2L1848.1 1958.3L1849.1 1957.5L1850.1 1956.7L1851.1 1955.9L1852.1 1955.1L1853.1 1954.3L1854.1 1953.5L1855.1 1952.7L1856.1 1952L1857.1 1951.3L1858.1 1950.6L1859.1 1950" fill="none" stroke="#ee0000" stroke-width="5.5" stroke-linejoin="round"/>
<path d="M1147.2 1663.5V2113.5H1859.1" fill="none" stroke="#000" stroke-width="4" stroke-linecap="square"/>
<line x1="1136.7" y1="2113.5" x2="1147.2" y2="2113.5" stroke="#000" stroke-width="4"/>
<text x="1122.3" y="2127.5" font-size="38.5" text-anchor="end">0</text>
<line x1="1136.7" y1="1963.5" x2="1147.2" y2="1963.5" stroke="#000" stroke-width="4"/>
<text x="1122.3" y="1977.5" font-size="38.5" text-anchor="end">1</text>
<line x1="1136.7" y1="1813.5" x2="1147.2" y2="1813.5" stroke="#000" stroke-width="4"/>
<text x="1122.3" y="1827.5" font-size="38.5" text-anchor="end">2</text>
<line x1="1136.7" y1="1663.5" x2="1147.2" y2="1663.5" stroke="#000" stroke-width="4"/>
<text x="1122.3" y="1677.5" font-size="38.5" text-anchor="end">3</text>
<line x1="1147.2" y1="2113.5" x2="1147.2" y2="2124.5" stroke="#000" stroke-width="4"/>
<line x1="1248.9" y1="2113.5" x2="1248.9" y2="2124.5" stroke="#000" stroke-width="4"/>
<line x1="1350.6" y1="2113.5" x2="1350.6" y2="2124.5" stroke="#000" stroke-width="4"/>
<line x1="1452.3" y1="2113.5" x2="1452.3" y2="2124.5" stroke="#000" stroke-width="4"/>
<line x1="1554" y1="2113.5" x2="1554" y2="2124.5" stroke="#000" stroke-width="4"/>
<line x1="1655.7" y1="2113.5" x2="1655.7" y2="2124.5" stroke="#000" stroke-width="4"/>
<line x1="1757.4" y1="2113.5" x2="1757.4" y2="2124.5" stroke="#000" stroke-width="4"/>
<line x1="1859.1" y1="2113.5" x2="1859.1" y2="2124.5" stroke="#000" stroke-width="4"/>
<text x="1248.9" y="2159.5" font-size="38.5" text-anchor="middle">0</text>
<text x="1452.3" y="2159.5" font-size="38.5" text-anchor="middle">500</text>
<text x="1655.7" y="2159.5" font-size="38.5" text-anchor="middle">1000</text>
<text x="1859.1" y="2159.5" font-size="38.5" text-anchor="middle">1500</text>
<text x="1503" y="2196.6" font-size="44" text-anchor="middle" textLength="723.5" lengthAdjust="spacingAndGlyphs">Position relative to +1 nucleosome (bp)</text>
<text transform="translate(1079.8,1887.5) rotate(-90)" font-size="44.5" text-anchor="middle" textLength="482" lengthAdjust="spacingAndGlyphs">Nucleosome dyad density</text>
<line x1="1653" y1="1711.8" x2="1689.3" y2="1711.8" stroke="#999999" stroke-width="7.6" stroke-linecap="round"/>
<text x="1726.2" y="1726.2" font-size="43" textLength="61.8" lengthAdjust="spacingAndGlyphs">WT</text>
<line x1="1653" y1="1759.9" x2="1689.3" y2="1759.9" stroke="#ee0000" stroke-width="7.6" stroke-linecap="round"/>
<text x="1726.9" y="1774.5" font-size="43" textLength="120.8" lengthAdjust="spacingAndGlyphs">– Pol II</text>
<text x="1051" y="80.6" font-size="26.5" text-anchor="end">130</text>
<text x="1051" y="205.1" font-size="26.5" text-anchor="end">150</text>
<text x="1051" y="397.9" font-size="26.5" text-anchor="end">170</text>
<text x="1051" y="583" font-size="26.5" text-anchor="end">190</text>
<text x="1051" y="744.4" font-size="26.5" text-anchor="end">220</text>
<text x="1073" y="773.5" font-size="30.5" text-anchor="middle">−500</text>
<text x="1186.5" y="773.5" font-size="30.5" text-anchor="middle">0</text>
<text x="1300" y="773.5" font-size="30.5" text-anchor="middle">500</text>
<text x="1413.5" y="773.5" font-size="30.5" text-anchor="middle">1000</text>
<text x="1517.9" y="773.5" font-size="30.5" text-anchor="middle">−500</text>
<text x="1631.4" y="773.5" font-size="30.5" text-anchor="middle">0</text>
<text x="1744.9" y="773.5" font-size="30.5" text-anchor="middle">500</text>
<text x="1858.4" y="773.5" font-size="30.5" text-anchor="middle">1000</text>
<text x="1909.5" y="353.1" font-size="22.5">0</text>
<text x="1909.5" y="314.7" font-size="22.5">0.2</text>
<text x="1909.5" y="276.2" font-size="22.5">0.4</text>
<text x="1909.5" y="237.8" font-size="22.5">0.6</text>
<text x="1909.5" y="199.4" font-size="22.5">0.8</text>
<text x="1909.5" y="160.9" font-size="22.5">1</text>
<text x="1909.5" y="122.5" font-size="22.5">1.2</text>
<text x="1909.5" y="84.1" font-size="22.5">1.4</text>
<text x="1219.2" y="64.7" font-size="40.5" text-anchor="middle" fill="#7a7a7a" textLength="78.7" lengthAdjust="spacingAndGlyphs">TKO</text>
<text x="1688.4" y="64.7" font-size="40.5" text-anchor="middle" fill="#ff0000" textLength="201.2" lengthAdjust="spacingAndGlyphs">TKO - Pol II</text>
<text x="1471.4" y="816.2" font-size="34.5" text-anchor="middle" textLength="554" lengthAdjust="spacingAndGlyphs">Position relative to +1 nucleosome (bp)</text>
<text transform="translate(984.5,391.3) rotate(-90)" font-size="34.5" text-anchor="middle" textLength="446.6" lengthAdjust="spacingAndGlyphs">Nucleosome Repeat Length (bp)</text>
<rect x="1073" y="71.2" width="340" height="663.5" fill="none" stroke="#000" stroke-width="2.6"/>
<rect x="1517.9" y="73.5" width="341" height="661.1" fill="none" stroke="#000" stroke-width="2.6"/>
<line x1="1185.8" y1="72.5" x2="1185.8" y2="733.4" stroke="#fff" stroke-width="2" stroke-dasharray="11.3 5.4"/>
<line x1="1631.7" y1="74.8" x2="1631.7" y2="733.3" stroke="#fff" stroke-width="2" stroke-dasharray="11.3 5.4"/>
<line x1="1062" y1="71" x2="1073" y2="71" stroke="#000" stroke-width="2"/>
<line x1="1062" y1="136" x2="1073" y2="136" stroke="#000" stroke-width="2"/>
<line x1="1062" y1="195.5" x2="1073" y2="195.5" stroke="#000" stroke-width="2"/>
<line x1="1062" y1="294.2" x2="1073" y2="294.2" stroke="#000" stroke-width="2"/>
<line x1="1062" y1="388.3" x2="1073" y2="388.3" stroke="#000" stroke-width="2"/>
<line x1="1062" y1="469.7" x2="1073" y2="469.7" stroke="#000" stroke-width="2"/>
<line x1="1062" y1="573.4" x2="1073" y2="573.4" stroke="#000" stroke-width="2"/>
<line x1="1062" y1="631" x2="1073" y2="631" stroke="#000" stroke-width="2"/>
<line x1="1062" y1="677.2" x2="1073" y2="677.2" stroke="#000" stroke-width="2"/>
<line x1="1062" y1="734.8" x2="1073" y2="734.8" stroke="#000" stroke-width="2"/>
<line x1="1073" y1="734.7" x2="1073" y2="745.6" stroke="#000" stroke-width="2"/>
<line x1="1186.5" y1="734.7" x2="1186.5" y2="745.6" stroke="#000" stroke-width="2"/>
<line x1="1300" y1="734.7" x2="1300" y2="745.6" stroke="#000" stroke-width="2"/>
<line x1="1413.5" y1="734.7" x2="1413.5" y2="745.6" stroke="#000" stroke-width="2"/>
<line x1="1517.9" y1="734.7" x2="1517.9" y2="745.6" stroke="#000" stroke-width="2"/>
<line x1="1631.4" y1="734.7" x2="1631.4" y2="745.6" stroke="#000" stroke-width="2"/>
<line x1="1744.9" y1="734.7" x2="1744.9" y2="745.6" stroke="#000" stroke-width="2"/>
<line x1="1858.4" y1="734.7" x2="1858.4" y2="745.6" stroke="#000" stroke-width="2"/>
<defs><linearGradient id="cb" x1="0" y1="1" x2="0" y2="0"><stop offset="0.000" stop-color="#000080"/><stop offset="0.071" stop-color="#0010d0"/><stop offset="0.143" stop-color="#0040ff"/><stop offset="0.214" stop-color="#0080ff"/><stop offset="0.286" stop-color="#10b0ff"/><stop offset="0.357" stop-color="#40e8ff"/><stop offset="0.400" stop-color="#50ffff"/><stop offset="0.464" stop-color="#80ffc8"/><stop offset="0.536" stop-color="#b0ffa0"/><stop offset="0.629" stop-color="#f0ff50"/><stop offset="0.679" stop-color="#ffe030"/><stop offset="0.729" stop-color="#ffa800"/><stop offset="0.786" stop-color="#ff7800"/><stop offset="0.843" stop-color="#ff5000"/><stop offset="0.900" stop-color="#e02800"/><stop offset="0.950" stop-color="#b81000"/><stop offset="1.000" stop-color="#880000"/></linearGradient></defs>
<rect x="1867" y="75" width="20.4" height="270.3" fill="url(#cb)" stroke="#000" stroke-width="1.6"/>
<line x1="1887.4" y1="344.9" x2="1898.5" y2="344.9" stroke="#000" stroke-width="1.8"/>
<line x1="1887.4" y1="306.5" x2="1898.5" y2="306.5" stroke="#000" stroke-width="1.8"/>
<line x1="1887.4" y1="268" x2="1898.5" y2="268" stroke="#000" stroke-width="1.8"/>
<line x1="1887.4" y1="229.6" x2="1898.5" y2="229.6" stroke="#000" stroke-width="1.8"/>
<line x1="1887.4" y1="191.2" x2="1898.5" y2="191.2" stroke="#000" stroke-width="1.8"/>
<line x1="1887.4" y1="152.7" x2="1898.5" y2="152.7" stroke="#000" stroke-width="1.8"/>
<line x1="1887.4" y1="114.3" x2="1898.5" y2="114.3" stroke="#000" stroke-width="1.8"/>
<line x1="1887.4" y1="75.9" x2="1898.5" y2="75.9" stroke="#000" stroke-width="1.8"/>
<text x="208.7" y="970.2" font-size="36" text-anchor="end">0.4</text>
<text x="208.7" y="1107" font-size="36" text-anchor="end">0.2</text>
<text x="208.7" y="1243.8" font-size="36" text-anchor="end">0.0</text>
<text x="208.7" y="1380.6" font-size="36" text-anchor="end">−0.2</text>
<text x="286.2" y="1415.3" font-size="36" text-anchor="middle" textLength="45" lengthAdjust="spacingAndGlyphs">1 h</text>
<text x="374.4" y="1415.3" font-size="36" text-anchor="middle" textLength="47.3" lengthAdjust="spacingAndGlyphs">2 h</text>
<text transform="translate(85.3,1184.4) rotate(-90)" font-size="41.7" text-anchor="middle" textLength="490" lengthAdjust="spacingAndGlyphs">Difference in array regularity</text>
<text transform="translate(133.3,1174.5) rotate(-90)" font-size="41.7" text-anchor="middle" textLength="358.7" lengthAdjust="spacingAndGlyphs">(TKO – Pol II) – TKO</text>
<text x="620.8" y="1015" font-size="42" text-anchor="end">1.0</text>
<text x="620.8" y="1152.7" font-size="42" text-anchor="end">0.8</text>
<text x="620.8" y="1290.3" font-size="42" text-anchor="end">0.6</text>
<text x="620.8" y="1428" font-size="42" text-anchor="end">0.4</text>
<text x="726.5" y="1468.5" font-size="42" text-anchor="middle" textLength="72.9" lengthAdjust="spacingAndGlyphs">0.51</text>
<text x="900" y="1468.5" font-size="42" text-anchor="middle" textLength="72.9" lengthAdjust="spacingAndGlyphs">0.71</text>
<text x="1073.3" y="1468.5" font-size="42" text-anchor="middle" textLength="72.9" lengthAdjust="spacingAndGlyphs">0.91</text>
<text x="1247.4" y="1468.5" font-size="42" text-anchor="middle" textLength="72.9" lengthAdjust="spacingAndGlyphs">1.28</text>
<text x="989.4" y="1517.7" font-size="41.3" text-anchor="middle" textLength="574" lengthAdjust="spacingAndGlyphs">Mean Pol II occupancy (IP / input)</text>
<text transform="translate(541.2,1159) rotate(-90)" font-size="44.3" text-anchor="middle" textLength="286.5" lengthAdjust="spacingAndGlyphs">Array regularity</text>
<text x="902.4" y="970" font-size="35" text-anchor="middle" fill="#505050" textLength="82.7" lengthAdjust="spacingAndGlyphs">0.005</text>
<text x="1075" y="970" font-size="35" text-anchor="middle" fill="#505050" textLength="82.7" lengthAdjust="spacingAndGlyphs">0.005</text>
<text x="1247.4" y="970" font-size="35" text-anchor="middle" fill="#505050" textLength="82.7" lengthAdjust="spacingAndGlyphs">0.006</text>
<text x="817.2" y="926.5" font-size="49" textLength="89.8" lengthAdjust="spacingAndGlyphs">TKO</text>
<text x="1028.2" y="926.5" font-size="49" textLength="242.6" lengthAdjust="spacingAndGlyphs">TKO – Pol II</text>
<text x="1553.2" y="985.3" font-size="37" text-anchor="end">0.4</text>
<text x="1553.2" y="1131.4" font-size="37" text-anchor="end">0.2</text>
<text x="1553.2" y="1277.5" font-size="37" text-anchor="end">0</text>
<text x="1553.2" y="1423.6" font-size="37" text-anchor="end">−0.2</text>
<text x="1688.8" y="1470.6" font-size="38" text-anchor="middle" textLength="175.5" lengthAdjust="spacingAndGlyphs">Bottom 5%</text>
<text x="1877.5" y="1470.6" font-size="38" text-anchor="middle" textLength="119.7" lengthAdjust="spacingAndGlyphs">Top 5%</text>
<text x="1783.9" y="1532.7" font-size="41.3" text-anchor="middle" textLength="287.3" lengthAdjust="spacingAndGlyphs">Pol II occupancy</text>
<text transform="translate(1442.2,1194.6) rotate(-90)" font-size="42.7" text-anchor="middle" textLength="453.8" lengthAdjust="spacingAndGlyphs">Difference array regularity</text>
<text transform="translate(1490.5,1183.4) rotate(-90)" font-size="42.7" text-anchor="middle" textLength="327.8" lengthAdjust="spacingAndGlyphs">(TKO–PolII – TKO)</text>
<line x1="233.4" y1="1231" x2="427" y2="1231" stroke="#b3b3b3" stroke-width="2.6"/>
<line x1="286" y1="1135.2" x2="286" y2="1005.3" stroke="#000" stroke-width="2.6" stroke-dasharray="10 8"/>
<line x1="286" y1="1223.5" x2="286" y2="1354.1" stroke="#000" stroke-width="2.6" stroke-dasharray="10 8"/>
<line x1="267" y1="1005.3" x2="305" y2="1005.3" stroke="#000" stroke-width="2.6"/>
<line x1="267" y1="1354.1" x2="305" y2="1354.1" stroke="#000" stroke-width="2.6"/>
<rect x="249.8" y="1135.2" width="72.4" height="88.2" fill="#e5e5e5" stroke="#000" stroke-width="2.6"/>
<line x1="249.8" y1="1183.1" x2="322.2" y2="1183.1" stroke="#000" stroke-width="6.5"/>
<line x1="375" y1="1114.7" x2="375" y2="971.1" stroke="#000" stroke-width="2.6" stroke-dasharray="10 8"/>
<line x1="375" y1="1210.5" x2="375" y2="1354.1" stroke="#000" stroke-width="2.6" stroke-dasharray="10 8"/>
<line x1="356" y1="971.1" x2="394" y2="971.1" stroke="#000" stroke-width="2.6"/>
<line x1="356" y1="1354.1" x2="394" y2="1354.1" stroke="#000" stroke-width="2.6"/>
<rect x="339" y="1114.7" width="72" height="95.8" fill="#e5e5e5" stroke="#000" stroke-width="2.6"/>
<line x1="339" y1="1162.6" x2="411" y2="1162.6" stroke="#000" stroke-width="6.5"/>
<path d="M233.4 957.4V1367.8" stroke="#000" stroke-width="3" fill="none" stroke-linecap="square"/>
<line x1="224.5" y1="957.4" x2="233.4" y2="957.4" stroke="#000" stroke-width="3"/>
<line x1="224.5" y1="1025.8" x2="233.4" y2="1025.8" stroke="#000" stroke-width="3"/>
<line x1="224.5" y1="1094.2" x2="233.4" y2="1094.2" stroke="#000" stroke-width="3"/>
<line x1="224.5" y1="1162.6" x2="233.4" y2="1162.6" stroke="#000" stroke-width="3"/>
<line x1="224.5" y1="1231" x2="233.4" y2="1231" stroke="#000" stroke-width="3"/>
<line x1="224.5" y1="1299.4" x2="233.4" y2="1299.4" stroke="#000" stroke-width="3"/>
<line x1="224.5" y1="1367.8" x2="233.4" y2="1367.8" stroke="#000" stroke-width="3"/>
<line x1="701.3" y1="1171.7" x2="701.3" y2="1040.9" stroke="#000" stroke-width="1.5" stroke-dasharray="4 4"/>
<line x1="701.3" y1="1261.2" x2="701.3" y2="1391.9" stroke="#000" stroke-width="1.5" stroke-dasharray="4 4"/>
<line x1="689.3" y1="1040.9" x2="713.3" y2="1040.9" stroke="#000" stroke-width="1.5"/>
<line x1="689.3" y1="1391.9" x2="713.3" y2="1391.9" stroke="#000" stroke-width="1.5"/>
<rect x="678" y="1171.7" width="46.5" height="89.5" fill="#e5e5e5" stroke="#000" stroke-width="1.6"/>
<line x1="678" y1="1219.9" x2="724.5" y2="1219.9" stroke="#000" stroke-width="3.4"/>
<line x1="758.8" y1="1123.5" x2="758.8" y2="1034" stroke="#000" stroke-width="1.5" stroke-dasharray="4 4"/>
<line x1="758.8" y1="1213" x2="758.8" y2="1343.8" stroke="#000" stroke-width="1.5" stroke-dasharray="4 4"/>
<line x1="746.8" y1="1034" x2="770.8" y2="1034" stroke="#000" stroke-width="1.5"/>
<line x1="746.8" y1="1343.8" x2="770.8" y2="1343.8" stroke="#000" stroke-width="1.5"/>
<rect x="735.5" y="1123.5" width="46.5" height="89.5" fill="#ee0000" stroke="#000" stroke-width="1.6"/>
<line x1="735.5" y1="1164.8" x2="782" y2="1164.8" stroke="#000" stroke-width="3.4"/>
<line x1="873.8" y1="1178.6" x2="873.8" y2="1068.4" stroke="#000" stroke-width="1.5" stroke-dasharray="4 4"/>
<line x1="873.8" y1="1261.2" x2="873.8" y2="1385" stroke="#000" stroke-width="1.5" stroke-dasharray="4 4"/>
<line x1="861.8" y1="1068.4" x2="885.8" y2="1068.4" stroke="#000" stroke-width="1.5"/>
<line x1="861.8" y1="1385" x2="885.8" y2="1385" stroke="#000" stroke-width="1.5"/>
<rect x="850.5" y="1178.6" width="46.5" height="82.6" fill="#e5e5e5" stroke="#000" stroke-width="1.6"/>
<line x1="850.5" y1="1219.9" x2="897" y2="1219.9" stroke="#000" stroke-width="3.4"/>
<line x1="931" y1="1123.5" x2="931" y2="1027.1" stroke="#000" stroke-width="1.5" stroke-dasharray="4 4"/>
<line x1="931" y1="1206.1" x2="931" y2="1330" stroke="#000" stroke-width="1.5" stroke-dasharray="4 4"/>
<line x1="919" y1="1027.1" x2="943" y2="1027.1" stroke="#000" stroke-width="1.5"/>
<line x1="919" y1="1330" x2="943" y2="1330" stroke="#000" stroke-width="1.5"/>
<rect x="907.8" y="1123.5" width="46.5" height="82.6" fill="#ee0000" stroke="#000" stroke-width="1.6"/>
<line x1="907.8" y1="1164.8" x2="954.2" y2="1164.8" stroke="#000" stroke-width="3.4"/>
<line x1="1046.5" y1="1185.4" x2="1046.5" y2="1075.3" stroke="#000" stroke-width="1.5" stroke-dasharray="4 4"/>
<line x1="1046.5" y1="1268" x2="1046.5" y2="1391.9" stroke="#000" stroke-width="1.5" stroke-dasharray="4 4"/>
<line x1="1034.5" y1="1075.3" x2="1058.5" y2="1075.3" stroke="#000" stroke-width="1.5"/>
<line x1="1034.5" y1="1391.9" x2="1058.5" y2="1391.9" stroke="#000" stroke-width="1.5"/>
<rect x="1023.2" y="1185.4" width="46.5" height="82.6" fill="#e5e5e5" stroke="#000" stroke-width="1.6"/>
<line x1="1023.2" y1="1219.9" x2="1069.8" y2="1219.9" stroke="#000" stroke-width="3.4"/>
<line x1="1103.8" y1="1130.4" x2="1103.8" y2="1034" stroke="#000" stroke-width="1.5" stroke-dasharray="4 4"/>
<line x1="1103.8" y1="1213" x2="1103.8" y2="1336.9" stroke="#000" stroke-width="1.5" stroke-dasharray="4 4"/>
<line x1="1091.8" y1="1034" x2="1115.8" y2="1034" stroke="#000" stroke-width="1.5"/>
<line x1="1091.8" y1="1336.9" x2="1115.8" y2="1336.9" stroke="#000" stroke-width="1.5"/>
<rect x="1080.5" y="1130.4" width="46.5" height="82.6" fill="#ee0000" stroke="#000" stroke-width="1.6"/>
<line x1="1080.5" y1="1171.7" x2="1127" y2="1171.7" stroke="#000" stroke-width="3.4"/>
<line x1="1219" y1="1199.2" x2="1219" y2="1089.1" stroke="#000" stroke-width="1.5" stroke-dasharray="4 4"/>
<line x1="1219" y1="1288.7" x2="1219" y2="1419.5" stroke="#000" stroke-width="1.5" stroke-dasharray="4 4"/>
<line x1="1207" y1="1089.1" x2="1231" y2="1089.1" stroke="#000" stroke-width="1.5"/>
<line x1="1207" y1="1419.5" x2="1231" y2="1419.5" stroke="#000" stroke-width="1.5"/>
<rect x="1195.8" y="1199.2" width="46.5" height="89.5" fill="#e5e5e5" stroke="#000" stroke-width="1.6"/>
<line x1="1195.8" y1="1240.5" x2="1242.2" y2="1240.5" stroke="#000" stroke-width="3.4"/>
<line x1="1276.5" y1="1144.1" x2="1276.5" y2="1027.1" stroke="#000" stroke-width="1.5" stroke-dasharray="4 4"/>
<line x1="1276.5" y1="1240.5" x2="1276.5" y2="1371.3" stroke="#000" stroke-width="1.5" stroke-dasharray="4 4"/>
<line x1="1264.5" y1="1027.1" x2="1288.5" y2="1027.1" stroke="#000" stroke-width="1.5"/>
<line x1="1264.5" y1="1371.3" x2="1288.5" y2="1371.3" stroke="#000" stroke-width="1.5"/>
<rect x="1253.2" y="1144.1" width="46.5" height="96.4" fill="#ee0000" stroke="#000" stroke-width="1.6"/>
<line x1="1253.2" y1="1192.3" x2="1299.8" y2="1192.3" stroke="#000" stroke-width="3.4"/>
<path d="M647.6 999.6V1412.6" stroke="#000" stroke-width="3" fill="none" stroke-linecap="square"/>
<line x1="635.6" y1="999.6" x2="647.6" y2="999.6" stroke="#000" stroke-width="3"/>
<line x1="635.6" y1="1068.4" x2="647.6" y2="1068.4" stroke="#000" stroke-width="3"/>
<line x1="635.6" y1="1137.3" x2="647.6" y2="1137.3" stroke="#000" stroke-width="3"/>
<line x1="635.6" y1="1206.1" x2="647.6" y2="1206.1" stroke="#000" stroke-width="3"/>
<line x1="635.6" y1="1274.9" x2="647.6" y2="1274.9" stroke="#000" stroke-width="3"/>
<line x1="635.6" y1="1343.8" x2="647.6" y2="1343.8" stroke="#000" stroke-width="3"/>
<line x1="635.6" y1="1412.6" x2="647.6" y2="1412.6" stroke="#000" stroke-width="3"/>
<line x1="687.1999999999999" y1="1427.2" x2="773.0" y2="1427.2" stroke="#000" stroke-width="3.6" stroke-linecap="round"/>
<line x1="860.1999999999999" y1="1427.2" x2="945.6" y2="1427.2" stroke="#000" stroke-width="3.6" stroke-linecap="round"/>
<line x1="1033.0" y1="1427.2" x2="1118.0" y2="1427.2" stroke="#000" stroke-width="3.6" stroke-linecap="round"/>
<line x1="1205.2" y1="1427.2" x2="1290.6000000000001" y2="1427.2" stroke="#000" stroke-width="3.6" stroke-linecap="round"/>
<path d="M701.3 992.5V981.7H758.8V992.5" stroke="#888" stroke-width="2" fill="none"/>
<path d="M873.8 992.5V981.7H931.0V992.5" stroke="#888" stroke-width="2" fill="none"/>
<path d="M1046.5 992.5V981.7H1103.8V992.5" stroke="#888" stroke-width="2" fill="none"/>
<path d="M1219.0 992.5V981.7H1276.5V992.5" stroke="#888" stroke-width="2" fill="none"/>
<text x="729.7" y="970" font-size="35" text-anchor="middle" fill="#505050" textLength="139.7" lengthAdjust="spacingAndGlyphs"><tspan font-style="italic">P</tspan> = 0.006</text>
<line x1="736" y1="906.4" x2="791.6" y2="906.4" stroke="#b3b3b3" stroke-width="8" stroke-linecap="round"/>
<line x1="954" y1="906.6" x2="1011.4" y2="906.6" stroke="#ee0000" stroke-width="8" stroke-linecap="round"/>
<line x1="1688.2" y1="1183.4" x2="1688.2" y2="1073.9" stroke="#000" stroke-width="1.4" stroke-dasharray="4 4"/>
<line x1="1688.2" y1="1278.4" x2="1688.2" y2="1388" stroke="#000" stroke-width="1.4" stroke-dasharray="4 4"/>
<line x1="1650.2" y1="1073.9" x2="1726.2" y2="1073.9" stroke="#000" stroke-width="1.4"/>
<line x1="1650.2" y1="1388" x2="1726.2" y2="1388" stroke="#000" stroke-width="1.4"/>
<rect x="1612.2" y="1183.4" width="151.9" height="95" fill="#e5e5e5" stroke="#000" stroke-width="1.4"/>
<line x1="1612.2" y1="1234.6" x2="1764.2" y2="1234.6" stroke="#000" stroke-width="3.2"/>
<line x1="1877.7" y1="1168.8" x2="1877.7" y2="1030" stroke="#000" stroke-width="1.4" stroke-dasharray="4 4"/>
<line x1="1877.7" y1="1263.8" x2="1877.7" y2="1373.4" stroke="#000" stroke-width="1.4" stroke-dasharray="4 4"/>
<line x1="1839.9" y1="1030" x2="1915.5" y2="1030" stroke="#000" stroke-width="1.4"/>
<line x1="1839.9" y1="1373.4" x2="1915.5" y2="1373.4" stroke="#000" stroke-width="1.4"/>
<rect x="1801.8" y="1168.8" width="151.8" height="95" fill="#e5e5e5" stroke="#000" stroke-width="1.4"/>
<line x1="1801.8" y1="1212.7" x2="1953.6" y2="1212.7" stroke="#000" stroke-width="3.2"/>
<path d="M1577.8 971.6V1409.9" stroke="#000" stroke-width="3.4" fill="none" stroke-linecap="square"/>
<line x1="1568.8" y1="971.6" x2="1577.8" y2="971.6" stroke="#000" stroke-width="3.4"/>
<line x1="1568.8" y1="1044.6" x2="1577.8" y2="1044.6" stroke="#000" stroke-width="3.4"/>
<line x1="1568.8" y1="1117.7" x2="1577.8" y2="1117.7" stroke="#000" stroke-width="3.4"/>
<line x1="1568.8" y1="1190.8" x2="1577.8" y2="1190.8" stroke="#000" stroke-width="3.4"/>
<line x1="1568.8" y1="1263.8" x2="1577.8" y2="1263.8" stroke="#000" stroke-width="3.4"/>
<line x1="1568.8" y1="1336.8" x2="1577.8" y2="1336.8" stroke="#000" stroke-width="3.4"/>
<line x1="1568.8" y1="1409.9" x2="1577.8" y2="1409.9" stroke="#000" stroke-width="3.4"/>
<path d="M1688.2 994V986H1877.7V994" stroke="#555" stroke-width="2.6" fill="none"/>
<text x="1783" y="979.8" font-size="35" text-anchor="middle" fill="#505050" textLength="132" lengthAdjust="spacingAndGlyphs"><tspan font-style="italic">P</tspan> = 0.002</text>
<path d="M1687.5 1436V1426.7H1878V1436" stroke="#000" stroke-width="3.5" fill="none"/>
</svg></div></body></html>
